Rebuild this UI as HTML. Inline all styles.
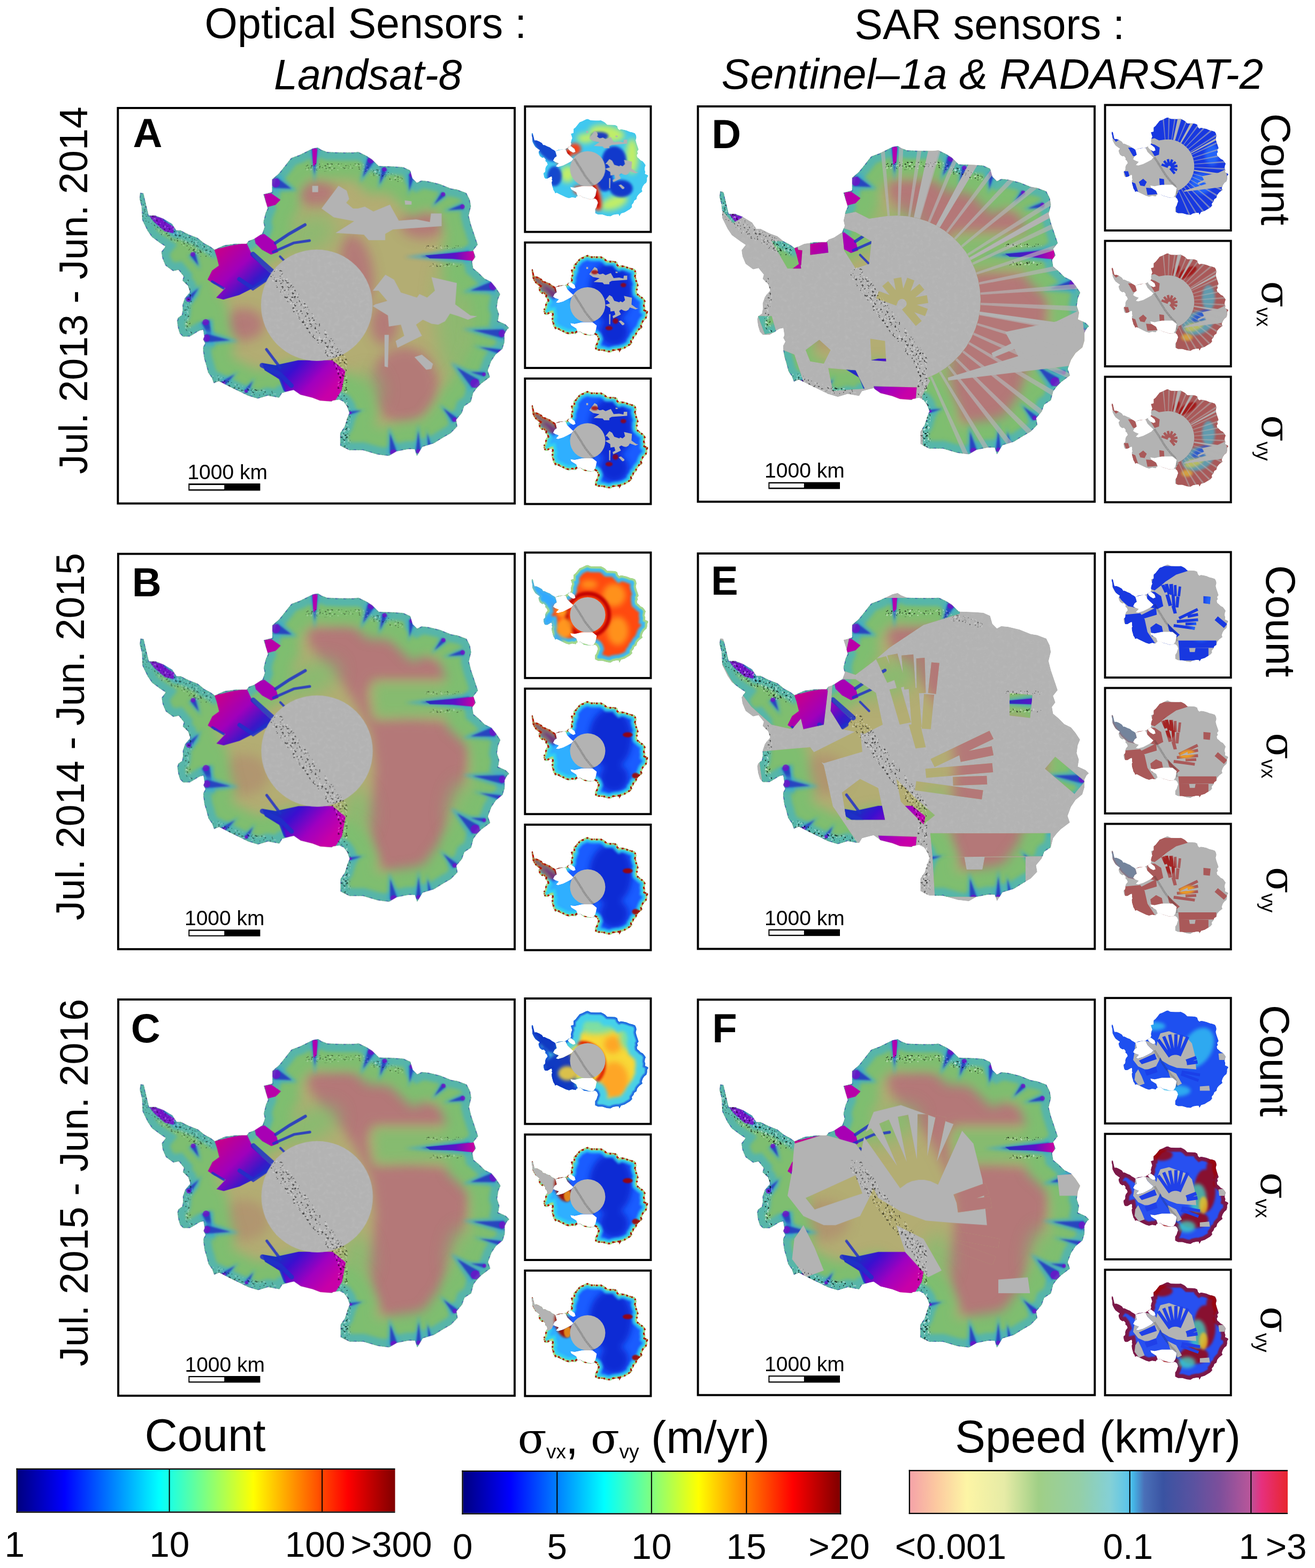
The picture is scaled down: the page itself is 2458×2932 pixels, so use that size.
<!DOCTYPE html>
<html><head><meta charset="utf-8"><title>Antarctica ice velocity coverage</title>
<style>html,body{margin:0;padding:0;background:#fff;}svg{display:block;}</style></head>
<body><svg xmlns="http://www.w3.org/2000/svg" width="2458" height="2932" viewBox="0 0 2458 2932">
<defs><clipPath id="cc"><path d="M103 379 L117 381 L131 442 L140 479 L169 479 L206 494 L244 517 L262 545 L281 545 L319 564 L356 578 L384 601 L412 616 L431 630 L474 611 L525 604 L572 604 L581 592 L605 583 L642 559 L652 531 L647 508 L656 470 L666 447 L647 386 L685 376 L685 320 L713 296 L732 273 L769 226 L807 212 L863 184 L886 179 L901 189 L927 199 L991 201 L1041 201 L1066 199 L1101 216 L1125 231 L1155 261 L1224 263 L1264 266 L1294 280 L1304 315 L1324 335 L1343 325 L1373 328 L1423 340 L1448 350 L1473 360 L1502 365 L1542 380 L1557 410 L1562 439 L1552 479 L1562 519 L1572 548 L1582 578 L1592 608 L1572 633 L1582 662 L1567 682 L1572 712 L1596 732 L1621 757 L1651 772 L1671 796 L1691 826 L1681 851 L1676 886 L1686 915 L1681 945 L1715 960 L1730 975 L1720 984 L1710 1004 L1710 1038 L1701 1068 L1671 1093 L1651 1123 L1636 1163 L1646 1192 L1606 1222 L1587 1242 L1572 1262 L1562 1301 L1532 1321 L1522 1351 L1497 1381 L1502 1410 L1473 1440 L1438 1460 L1398 1485 L1348 1500 L1324 1540 L1314 1510 L1284 1510 L1234 1520 L1200 1540 L1150 1534 L1086 1515 L1026 1515 L986 1495 L986 1440 L1006 1410 L1016 1376 L1026 1351 L1016 1321 L1001 1301 L981 1291 L952 1296 L948 1300 L896 1296 L862 1283 L810 1270 L780 1249 L763 1253 L729 1262 L716 1283 L665 1274 L622 1287 L579 1274 L544 1257 L493 1232 L450 1210 L428 1219 L420 1197 L403 1172 L394 1137 L386 1112 L381 1077 L381 1060 L390 1043 L381 1026 L386 1013 L381 983 L364 987 L343 1000 L321 1013 L291 1013 L278 1000 L270 974 L266 944 L270 931 L287 919 L291 897 L290 874 L300 845 L323 817 L314 789 L290 766 L295 747 L272 719 L248 724 L215 700 L201 667 L197 639 L215 616 L192 601 L154 573 L135 545 L112 498 L110 442 L100 404 Z"/></clipPath><clipPath id="cg"><path clip-rule="evenodd" d="M103 379 L117 381 L131 442 L140 479 L169 479 L206 494 L244 517 L262 545 L281 545 L319 564 L356 578 L384 601 L412 616 L431 630 L474 611 L525 604 L572 604 L581 592 L605 583 L642 559 L652 531 L647 508 L656 470 L666 447 L647 386 L685 376 L685 320 L713 296 L732 273 L769 226 L807 212 L863 184 L886 179 L901 189 L927 199 L991 201 L1041 201 L1066 199 L1101 216 L1125 231 L1155 261 L1224 263 L1264 266 L1294 280 L1304 315 L1324 335 L1343 325 L1373 328 L1423 340 L1448 350 L1473 360 L1502 365 L1542 380 L1557 410 L1562 439 L1552 479 L1562 519 L1572 548 L1582 578 L1592 608 L1572 633 L1582 662 L1567 682 L1572 712 L1596 732 L1621 757 L1651 772 L1671 796 L1691 826 L1681 851 L1676 886 L1686 915 L1681 945 L1715 960 L1730 975 L1720 984 L1710 1004 L1710 1038 L1701 1068 L1671 1093 L1651 1123 L1636 1163 L1646 1192 L1606 1222 L1587 1242 L1572 1262 L1562 1301 L1532 1321 L1522 1351 L1497 1381 L1502 1410 L1473 1440 L1438 1460 L1398 1485 L1348 1500 L1324 1540 L1314 1510 L1284 1510 L1234 1520 L1200 1540 L1150 1534 L1086 1515 L1026 1515 L986 1495 L986 1440 L1006 1410 L1016 1376 L1026 1351 L1016 1321 L1001 1301 L981 1291 L952 1296 L948 1300 L896 1296 L862 1283 L810 1270 L780 1249 L763 1253 L729 1262 L716 1283 L665 1274 L622 1287 L579 1274 L544 1257 L493 1232 L450 1210 L428 1219 L420 1197 L403 1172 L394 1137 L386 1112 L381 1077 L381 1060 L390 1043 L381 1026 L386 1013 L381 983 L364 987 L343 1000 L321 1013 L291 1013 L278 1000 L270 974 L266 944 L270 931 L287 919 L291 897 L290 874 L300 845 L323 817 L314 789 L290 766 L295 747 L272 719 L248 724 L215 700 L201 667 L197 639 L215 616 L192 601 L154 573 L135 545 L112 498 L110 442 L100 404 Z M430 630 L500 612 L572 600 L600 660 L640 700 L682 738 L655 770 L600 800 L540 830 L470 850 L438 842 L478 800 L430 782 L400 762 L420 722 L450 700 L440 660 Z M605 572 L650 560 L700 598 L712 640 L680 652 L640 630 L612 602 Z M640 1130 L700 1140 L800 1118 L950 1118 L1008 1165 L992 1250 L962 1298 L900 1302 L830 1292 L782 1252 L742 1258 L722 1205 L652 1162 Z"/></clipPath><filter id="b2" x="-30%" y="-30%" width="160%" height="160%"><feGaussianBlur stdDeviation="2"/></filter><filter id="b4" x="-30%" y="-30%" width="160%" height="160%"><feGaussianBlur stdDeviation="4"/></filter><filter id="b8" x="-30%" y="-30%" width="160%" height="160%"><feGaussianBlur stdDeviation="8"/></filter><filter id="b14" x="-30%" y="-30%" width="160%" height="160%"><feGaussianBlur stdDeviation="14"/></filter><filter id="b25" x="-30%" y="-30%" width="160%" height="160%"><feGaussianBlur stdDeviation="25"/></filter><filter id="b40" x="-30%" y="-30%" width="160%" height="160%"><feGaussianBlur stdDeviation="40"/></filter><clipPath id="covD"><path d="M640 350 L700 180 L1400 120 L1850 300 L1850 1700 L1000 1700 L995 1280 L1030 1215 L1019 1203 L1059 1184 L1097 1160 L1131 1132 L1162 1100 L1189 1065 L1211 1027 L1229 986 L1242 944 L1250 900 L1252 856 L1249 812 L1241 768 L1228 726 L1209 685 L1187 647 L1159 612 L1128 581 L1093 553 L1056 530 L1015 511 L973 498 L930 489 L885 486 L841 488 L760 500 L700 470 L650 480 Z"/><path d="M640 540 L700 560 L770 600 L760 700 L700 720 L650 640 Z"/><path d="M892 852 L803 820 L791 852 L880 884 Z"/><path d="M905 849 L844 776 L818 798 L879 871 Z"/><path d="M918 852 L902 759 L868 765 L885 858 Z"/><path d="M928 862 L960 773 L928 761 L896 850 Z"/><path d="M931 875 L1004 814 L982 788 L909 849 Z"/><path d="M928 888 L1021 872 L1015 838 L922 855 Z"/><path d="M918 898 L1007 930 L1019 898 L930 866 Z"/><path d="M905 901 L966 974 L992 952 L931 879 Z"/><path d="M765 1030 L830 1040 L835 1130 L770 1125 Z"/><path d="M480 1080 L540 1035 L590 1080 L560 1140 L500 1130 Z"/><path d="M580 1160 L700 1170 L740 1250 L600 1260 Z"/><path d="M780 1240 L970 1245 L965 1305 L800 1300 Z"/><path d="M500 600 L575 595 L580 650 L500 660 Z"/><path d="M60 360 L150 400 L220 480 L160 520 L100 450 Z"/><path d="M330 600 L440 600 L460 720 L400 720 Z"/><path d="M425 635 L465 640 L460 705 L430 700 Z"/><path d="M270 930 L330 930 L350 1000 L300 1010 Z"/><path d="M380 1080 L430 1100 L470 1220 L420 1230 Z"/></clipPath><clipPath id="covE"><path d="M60 360 L200 440 L350 540 L440 600 L470 720 L420 780 L330 760 L240 680 L150 560 L90 450 Z"/><path d="M430 610 L580 590 L560 760 L470 780 Z"/><path d="M600 560 L700 560 L790 620 L820 760 L740 800 L640 780 L590 700 Z"/><path d="M640 520 L690 300 L760 200 L1150 200 L1160 270 L1000 320 L850 420 L780 480 L700 540 Z"/><path d="M790 470 L835 458 L880 560 L840 575 Z"/><path d="M840 455 L885 447 L925 590 L882 600 Z"/><path d="M903 455 L955 450 L965 600 L915 605 Z"/><path d="M968 468 L1005 465 L1010 620 L970 622 Z"/><path d="M1035 485 L1070 488 L1055 625 L1020 620 Z"/><path d="M850 605 L900 595 L945 750 L895 760 Z"/><path d="M935 600 L978 598 L992 770 L948 772 Z"/><path d="M1002 625 L1047 628 L1032 780 L992 778 Z"/><path d="M935 760 L985 755 L1010 860 L965 865 Z"/><path d="M1049 948 L1309 823 L1291 787 L1031 912 Z"/><path d="M1164 925 L1309 895 L1301 855 L1156 885 Z"/><path d="M1012 995 L1307 970 L1303 930 L1008 955 Z"/><path d="M1131 1029 L1281 1024 L1279 986 L1129 991 Z"/><path d="M962 1050 L1257 1090 L1263 1050 L968 1010 Z"/><path d="M1030 1240 L1560 1240 L1560 1340 L1040 1345 Z"/><path d="M1040 1345 L1180 1345 L1190 1400 L1260 1400 L1270 1345 L1450 1345 L1450 1520 L1050 1520 Z"/><path d="M1536 955 L1666 1065 L1711 1011 L1581 902 Z"/><path d="M1380 620 L1480 630 L1470 730 L1380 720 Z"/><path d="M270 880 L500 860 L560 940 L600 1120 L720 1300 L560 1300 L400 1250 L300 1100 Z"/><path d="M640 1060 L720 1000 L800 1040 L830 1180 L660 1180 Z"/><path d="M480 900 L600 840 L720 780 L730 880 L560 930 Z"/><path d="M800 1250 L970 1255 L965 1305 L820 1300 Z"/><path d="M880 1000 L960 1080 L1050 1160 L1000 1200 L900 1100 Z"/></clipPath><clipPath id="covF2"><path d="M934 810 L768 573 L730 599 L897 837 Z"/><path d="M960 801 L847 534 L805 552 L918 819 Z"/><path d="M988 798 L932 513 L887 522 L943 807 Z"/><path d="M1015 800 L1020 510 L974 510 L969 800 Z"/><path d="M1040 808 L1100 524 L1055 514 L995 798 Z"/><path d="M1064 821 L1182 556 L1140 537 L1022 802 Z"/><path d="M1150 912 L1290 861 L1273 814 L1132 865 Z"/><path d="M1152 944 L1301 923 L1294 873 L1145 894 Z"/><path d="M1073 1054 L1330 1100 L1336 1060 L1080 1015 Z"/><path d="M1061 1087 L1305 1176 L1319 1139 L1075 1050 Z"/><path d="M480 880 L700 780 L730 860 L520 930 Z"/><path d="M560 1020 L720 960 L740 1040 L590 1090 Z"/></clipPath><filter id="speck" x="0" y="0" width="100%" height="100%" color-interpolation-filters="sRGB"><feTurbulence type="fractalNoise" baseFrequency="0.11" numOctaves="2" seed="7" result="n"/><feColorMatrix in="n" type="matrix" values="1 0 0 0 0  1 0 0 0 0  1 0 0 0 0  1 0 0 0 0" result="m"/><feComponentTransfer in="m" result="t"><feFuncR type="discrete" tableValues="0 0 1 1"/><feFuncG type="discrete" tableValues="0 0 1 1"/><feFuncB type="discrete" tableValues="0 0 1 1"/><feFuncA type="discrete" tableValues="1 0.8 0 0 0.5 1"/></feComponentTransfer><feComposite in="t" in2="SourceGraphic" operator="in"/></filter><filter id="noise" x="0" y="0" width="100%" height="100%"><feTurbulence type="fractalNoise" baseFrequency="0.06" numOctaves="2" seed="3"/><feColorMatrix type="matrix" values="0 0 0 0 0.70  0 0 0 0 0.70  0 0 0 0 0.70  0.9 0.9 0 0 -0.8"/><feComposite in2="SourceGraphic" operator="in"/></filter><linearGradient id="gRonne" x1="470" y1="620" x2="640" y2="800" gradientUnits="userSpaceOnUse"><stop offset="0" stop-color="#c4008e"/><stop offset="0.45" stop-color="#a000bc"/><stop offset="0.8" stop-color="#3a18c8"/><stop offset="1" stop-color="#1830c8"/></linearGradient><linearGradient id="gRoss" x1="900" y1="1300" x2="720" y2="1130" gradientUnits="userSpaceOnUse"><stop offset="0" stop-color="#c800a8"/><stop offset="0.35" stop-color="#a000c0"/><stop offset="0.75" stop-color="#3a10d0"/><stop offset="1" stop-color="#1a30c0"/></linearGradient><linearGradient id="gAmery" x1="1360" y1="0" x2="1580" y2="0" gradientUnits="userSpaceOnUse"><stop offset="0" stop-color="#2030c0"/><stop offset="0.6" stop-color="#6010c8"/><stop offset="1" stop-color="#d000a0"/></linearGradient><linearGradient id="jet" x1="0" y1="0" x2="1" y2="0"><stop offset="0" stop-color="#000080"/><stop offset="0.125" stop-color="#0000ff"/><stop offset="0.375" stop-color="#00ffff"/><stop offset="0.625" stop-color="#ffff00"/><stop offset="0.875" stop-color="#ff0000"/><stop offset="1" stop-color="#800000"/></linearGradient><linearGradient id="speed" x1="0" y1="0" x2="1" y2="0"><stop offset="0" stop-color="#f5a3a8"/><stop offset="0.07" stop-color="#fcc9a0"/><stop offset="0.15" stop-color="#fdf5a5"/><stop offset="0.25" stop-color="#e6eba6"/><stop offset="0.34" stop-color="#a0cf86"/><stop offset="0.45" stop-color="#94cfa8"/><stop offset="0.53" stop-color="#84d0d6"/><stop offset="0.58" stop-color="#5ac4ea"/><stop offset="0.59" stop-color="#45b8e8"/><stop offset="0.62" stop-color="#4a70b8"/><stop offset="0.67" stop-color="#3a53a2"/><stop offset="0.75" stop-color="#5a52a0"/><stop offset="0.82" stop-color="#7d4f9b"/><stop offset="0.9" stop-color="#b8569a"/><stop offset="0.93" stop-color="#e6307f"/><stop offset="1" stop-color="#e8262e"/></linearGradient></defs>
<rect width="2458" height="2932" fill="#fff"/>
<g transform="translate(218.40,200.00) scale(0.42362)">
<g clip-path="url(#cc)">
<path d="M103 379 L117 381 L131 442 L140 479 L169 479 L206 494 L244 517 L262 545 L281 545 L319 564 L356 578 L384 601 L412 616 L431 630 L474 611 L525 604 L572 604 L581 592 L605 583 L642 559 L652 531 L647 508 L656 470 L666 447 L647 386 L685 376 L685 320 L713 296 L732 273 L769 226 L807 212 L863 184 L886 179 L901 189 L927 199 L991 201 L1041 201 L1066 199 L1101 216 L1125 231 L1155 261 L1224 263 L1264 266 L1294 280 L1304 315 L1324 335 L1343 325 L1373 328 L1423 340 L1448 350 L1473 360 L1502 365 L1542 380 L1557 410 L1562 439 L1552 479 L1562 519 L1572 548 L1582 578 L1592 608 L1572 633 L1582 662 L1567 682 L1572 712 L1596 732 L1621 757 L1651 772 L1671 796 L1691 826 L1681 851 L1676 886 L1686 915 L1681 945 L1715 960 L1730 975 L1720 984 L1710 1004 L1710 1038 L1701 1068 L1671 1093 L1651 1123 L1636 1163 L1646 1192 L1606 1222 L1587 1242 L1572 1262 L1562 1301 L1532 1321 L1522 1351 L1497 1381 L1502 1410 L1473 1440 L1438 1460 L1398 1485 L1348 1500 L1324 1540 L1314 1510 L1284 1510 L1234 1520 L1200 1540 L1150 1534 L1086 1515 L1026 1515 L986 1495 L986 1440 L1006 1410 L1016 1376 L1026 1351 L1016 1321 L1001 1301 L981 1291 L952 1296 L948 1300 L896 1296 L862 1283 L810 1270 L780 1249 L763 1253 L729 1262 L716 1283 L665 1274 L622 1287 L579 1274 L544 1257 L493 1232 L450 1210 L428 1219 L420 1197 L403 1172 L394 1137 L386 1112 L381 1077 L381 1060 L390 1043 L381 1026 L386 1013 L381 983 L364 987 L343 1000 L321 1013 L291 1013 L278 1000 L270 974 L266 944 L270 931 L287 919 L291 897 L290 874 L300 845 L323 817 L314 789 L290 766 L295 747 L272 719 L248 724 L215 700 L201 667 L197 639 L215 616 L192 601 L154 573 L135 545 L112 498 L110 442 L100 404 Z" fill="#b3ad73"/>
<g filter="url(#b25)" fill="#b47878" opacity="0.95">
<ellipse cx="1060" cy="720" rx="70" ry="160" transform="rotate(-10 1060 720)"/>
<ellipse cx="1270" cy="1230" rx="150" ry="170" transform="rotate(0 1270 1230)"/>
<ellipse cx="880" cy="380" rx="90" ry="60" transform="rotate(0 880 380)"/>
<ellipse cx="1350" cy="520" rx="100" ry="60" transform="rotate(0 1350 520)"/>
<ellipse cx="1180" cy="960" rx="60" ry="90" transform="rotate(0 1180 960)"/>
<ellipse cx="560" cy="960" rx="90" ry="70" transform="rotate(0 560 960)"/>
</g>
<g filter="url(#b40)" fill="#7ebe70" opacity="0.7">
<ellipse cx="850" cy="560" rx="120" ry="80" transform="rotate(-20 850 560)"/>
<ellipse cx="1500" cy="900" rx="90" ry="300" transform="rotate(0 1500 900)"/>
<ellipse cx="1100" cy="1250" rx="70" ry="80" transform="rotate(0 1100 1250)"/>
</g>
<path d="M103 379 L117 381 L131 442 L140 479 L169 479 L206 494 L244 517 L262 545 L281 545 L319 564 L356 578 L384 601 L412 616 L431 630 L474 611 L525 604 L572 604 L581 592 L605 583 L642 559 L652 531 L647 508 L656 470 L666 447 L647 386 L685 376 L685 320 L713 296 L732 273 L769 226 L807 212 L863 184 L886 179 L901 189 L927 199 L991 201 L1041 201 L1066 199 L1101 216 L1125 231 L1155 261 L1224 263 L1264 266 L1294 280 L1304 315 L1324 335 L1343 325 L1373 328 L1423 340 L1448 350 L1473 360 L1502 365 L1542 380 L1557 410 L1562 439 L1552 479 L1562 519 L1572 548 L1582 578 L1592 608 L1572 633 L1582 662 L1567 682 L1572 712 L1596 732 L1621 757 L1651 772 L1671 796 L1691 826 L1681 851 L1676 886 L1686 915 L1681 945 L1715 960 L1730 975 L1720 984 L1710 1004 L1710 1038 L1701 1068 L1671 1093 L1651 1123 L1636 1163 L1646 1192 L1606 1222 L1587 1242 L1572 1262 L1562 1301 L1532 1321 L1522 1351 L1497 1381 L1502 1410 L1473 1440 L1438 1460 L1398 1485 L1348 1500 L1324 1540 L1314 1510 L1284 1510 L1234 1520 L1200 1540 L1150 1534 L1086 1515 L1026 1515 L986 1495 L986 1440 L1006 1410 L1016 1376 L1026 1351 L1016 1321 L1001 1301 L981 1291 L952 1296 L948 1300 L896 1296 L862 1283 L810 1270 L780 1249 L763 1253 L729 1262 L716 1283 L665 1274 L622 1287 L579 1274 L544 1257 L493 1232 L450 1210 L428 1219 L420 1197 L403 1172 L394 1137 L386 1112 L381 1077 L381 1060 L390 1043 L381 1026 L386 1013 L381 983 L364 987 L343 1000 L321 1013 L291 1013 L278 1000 L270 974 L266 944 L270 931 L287 919 L291 897 L290 874 L300 845 L323 817 L314 789 L290 766 L295 747 L272 719 L248 724 L215 700 L201 667 L197 639 L215 616 L192 601 L154 573 L135 545 L112 498 L110 442 L100 404 Z" fill="none" stroke="#7ebe70" stroke-width="240" filter="url(#b25)"/>
<path d="M103 379 L117 381 L131 442 L140 479 L169 479 L206 494 L244 517 L262 545 L281 545 L319 564 L356 578 L384 601 L412 616 L431 630 L474 611 L525 604 L572 604 L581 592 L605 583 L642 559 L652 531 L647 508 L656 470 L666 447 L647 386 L685 376 L685 320 L713 296 L732 273 L769 226 L807 212 L863 184 L886 179 L901 189 L927 199 L991 201 L1041 201 L1066 199 L1101 216 L1125 231 L1155 261 L1224 263 L1264 266 L1294 280 L1304 315 L1324 335 L1343 325 L1373 328 L1423 340 L1448 350 L1473 360 L1502 365 L1542 380 L1557 410 L1562 439 L1552 479 L1562 519 L1572 548 L1582 578 L1592 608 L1572 633 L1582 662 L1567 682 L1572 712 L1596 732 L1621 757 L1651 772 L1671 796 L1691 826 L1681 851 L1676 886 L1686 915 L1681 945 L1715 960 L1730 975 L1720 984 L1710 1004 L1710 1038 L1701 1068 L1671 1093 L1651 1123 L1636 1163 L1646 1192 L1606 1222 L1587 1242 L1572 1262 L1562 1301 L1532 1321 L1522 1351 L1497 1381 L1502 1410 L1473 1440 L1438 1460 L1398 1485 L1348 1500 L1324 1540 L1314 1510 L1284 1510 L1234 1520 L1200 1540 L1150 1534 L1086 1515 L1026 1515 L986 1495 L986 1440 L1006 1410 L1016 1376 L1026 1351 L1016 1321 L1001 1301 L981 1291 L952 1296 L948 1300 L896 1296 L862 1283 L810 1270 L780 1249 L763 1253 L729 1262 L716 1283 L665 1274 L622 1287 L579 1274 L544 1257 L493 1232 L450 1210 L428 1219 L420 1197 L403 1172 L394 1137 L386 1112 L381 1077 L381 1060 L390 1043 L381 1026 L386 1013 L381 983 L364 987 L343 1000 L321 1013 L291 1013 L278 1000 L270 974 L266 944 L270 931 L287 919 L291 897 L290 874 L300 845 L323 817 L314 789 L290 766 L295 747 L272 719 L248 724 L215 700 L201 667 L197 639 L215 616 L192 601 L154 573 L135 545 L112 498 L110 442 L100 404 Z" fill="none" stroke="#52b5b0" stroke-width="70" filter="url(#b8)" opacity="0.9"/>
<path d="M103 379 L117 381 L131 442 L140 479 L169 479 L206 494 L244 517 L262 545 L281 545 L319 564 L356 578 L384 601 L412 616 L431 630 L474 611 L525 604 L572 604 L581 592 L605 583 L642 559 L652 531 L647 508 L656 470 L666 447 L647 386 L685 376 L685 320 L713 296 L732 273 L769 226 L807 212 L863 184 L886 179 L901 189 L927 199 L991 201 L1041 201 L1066 199 L1101 216 L1125 231 L1155 261 L1224 263 L1264 266 L1294 280 L1304 315 L1324 335 L1343 325 L1373 328 L1423 340 L1448 350 L1473 360 L1502 365 L1542 380 L1557 410 L1562 439 L1552 479 L1562 519 L1572 548 L1582 578 L1592 608 L1572 633 L1582 662 L1567 682 L1572 712 L1596 732 L1621 757 L1651 772 L1671 796 L1691 826 L1681 851 L1676 886 L1686 915 L1681 945 L1715 960 L1730 975 L1720 984 L1710 1004 L1710 1038 L1701 1068 L1671 1093 L1651 1123 L1636 1163 L1646 1192 L1606 1222 L1587 1242 L1572 1262 L1562 1301 L1532 1321 L1522 1351 L1497 1381 L1502 1410 L1473 1440 L1438 1460 L1398 1485 L1348 1500 L1324 1540 L1314 1510 L1284 1510 L1234 1520 L1200 1540 L1150 1534 L1086 1515 L1026 1515 L986 1495 L986 1440 L1006 1410 L1016 1376 L1026 1351 L1016 1321 L1001 1301 L981 1291 L952 1296 L948 1300 L896 1296 L862 1283 L810 1270 L780 1249 L763 1253 L729 1262 L716 1283 L665 1274 L622 1287 L579 1274 L544 1257 L493 1232 L450 1210 L428 1219 L420 1197 L403 1172 L394 1137 L386 1112 L381 1077 L381 1060 L390 1043 L381 1026 L386 1013 L381 983 L364 987 L343 1000 L321 1013 L291 1013 L278 1000 L270 974 L266 944 L270 931 L287 919 L291 897 L290 874 L300 845 L323 817 L314 789 L290 766 L295 747 L272 719 L248 724 L215 700 L201 667 L197 639 L215 616 L192 601 L154 573 L135 545 L112 498 L110 442 L100 404 Z" fill="none" stroke="#3050b8" stroke-width="7" stroke-dasharray="10 26" opacity="0.8"/>
<path d="M103 379 L117 381 L131 442 L140 479 L169 479 L206 494 L244 517 L262 545 L281 545 L319 564 L356 578 L384 601 L412 616 L431 630 L474 611 L525 604 L572 604 L581 592 L605 583 L642 559 L652 531 L647 508 L656 470 L666 447 L647 386 L685 376 L685 320 L713 296 L732 273 L769 226 L807 212 L863 184 L886 179 L901 189 L927 199 L991 201 L1041 201 L1066 199 L1101 216 L1125 231 L1155 261 L1224 263 L1264 266 L1294 280 L1304 315 L1324 335 L1343 325 L1373 328 L1423 340 L1448 350 L1473 360 L1502 365 L1542 380 L1557 410 L1562 439 L1552 479 L1562 519 L1572 548 L1582 578 L1592 608 L1572 633 L1582 662 L1567 682 L1572 712 L1596 732 L1621 757 L1651 772 L1671 796 L1691 826 L1681 851 L1676 886 L1686 915 L1681 945 L1715 960 L1730 975 L1720 984 L1710 1004 L1710 1038 L1701 1068 L1671 1093 L1651 1123 L1636 1163 L1646 1192 L1606 1222 L1587 1242 L1572 1262 L1562 1301 L1532 1321 L1522 1351 L1497 1381 L1502 1410 L1473 1440 L1438 1460 L1398 1485 L1348 1500 L1324 1540 L1314 1510 L1284 1510 L1234 1520 L1200 1540 L1150 1534 L1086 1515 L1026 1515 L986 1495 L986 1440 L1006 1410 L1016 1376 L1026 1351 L1016 1321 L1001 1301 L981 1291 L952 1296 L948 1300 L896 1296 L862 1283 L810 1270 L780 1249 L763 1253 L729 1262 L716 1283 L665 1274 L622 1287 L579 1274 L544 1257 L493 1232 L450 1210 L428 1219 L420 1197 L403 1172 L394 1137 L386 1112 L381 1077 L381 1060 L390 1043 L381 1026 L386 1013 L381 983 L364 987 L343 1000 L321 1013 L291 1013 L278 1000 L270 974 L266 944 L270 931 L287 919 L291 897 L290 874 L300 845 L323 817 L314 789 L290 766 L295 747 L272 719 L248 724 L215 700 L201 667 L197 639 L215 616 L192 601 L154 573 L135 545 L112 498 L110 442 L100 404 Z" fill="none" stroke="#1a1a1a" stroke-width="3" stroke-dasharray="3 9" opacity="0.5"/>
<path d="M849 184 L895 184 L872 338 Z" fill="#3aa8d0" opacity="0.7" filter="url(#b8)"/>
<path d="M859 184 L885 184 L872 300 Z" fill="#2840c0" opacity="0.95" filter="url(#b4)"/>
<circle cx="872" cy="190" r="10" fill="#7010c8" opacity="0.8"/>
<path d="M1094 218 L1149 244 L1073 336 Z" fill="#3aa8d0" opacity="0.7" filter="url(#b8)"/>
<path d="M1106 224 L1137 238 L1085 310 Z" fill="#2840c0" opacity="0.95" filter="url(#b4)"/>
<circle cx="1120" cy="235" r="14" fill="#7010c8" opacity="0.8"/>
<path d="M1159 265 L1203 279 L1153 363 Z" fill="#3aa8d0" opacity="0.7" filter="url(#b8)"/>
<path d="M1169 268 L1193 276 L1160 340 Z" fill="#2840c0" opacity="0.95" filter="url(#b4)"/>
<circle cx="1180" cy="275" r="10" fill="#7010c8" opacity="0.8"/>
<path d="M681 376 L712 291 L794 369 Z" fill="#3aa8d0" opacity="0.7" filter="url(#b8)"/>
<path d="M688 357 L705 310 L770 360 Z" fill="#2840c0" opacity="0.95" filter="url(#b4)"/>
<circle cx="700" cy="335" r="20" fill="#7010c8" opacity="0.8"/>
<path d="M1277 293 L1324 300 L1286 394 Z" fill="#3aa8d0" opacity="0.7" filter="url(#b8)"/>
<path d="M1288 295 L1313 298 L1290 370 Z" fill="#2840c0" opacity="0.95" filter="url(#b4)"/>
<circle cx="1300" cy="300" r="10" fill="#7010c8" opacity="0.8"/>
<path d="M1427 370 L1457 396 L1386 446 Z" fill="#3aa8d0" opacity="0.7" filter="url(#b8)"/>
<path d="M1434 375 L1450 390 L1400 430 Z" fill="#2840c0" opacity="0.95" filter="url(#b4)"/>
<circle cx="1440" cy="385" r="9" fill="#7010c8" opacity="0.8"/>
<path d="M1523 418 L1533 460 L1437 460 Z" fill="#3aa8d0" opacity="0.7" filter="url(#b8)"/>
<path d="M1526 428 L1531 451 L1460 455 Z" fill="#2840c0" opacity="0.95" filter="url(#b4)"/>
<circle cx="1525" cy="440" r="10" fill="#7010c8" opacity="0.8"/>
<path d="M1554 619 L1556 691 L1268 662 Z" fill="#3aa8d0" opacity="0.7" filter="url(#b8)"/>
<path d="M1555 635 L1556 675 L1340 660 Z" fill="#2840c0" opacity="0.95" filter="url(#b4)"/>
<circle cx="1545" cy="655" r="16" fill="#7010c8" opacity="0.8"/>
<path d="M1657 750 L1673 828 L1525 817 Z" fill="#3aa8d0" opacity="0.7" filter="url(#b8)"/>
<path d="M1661 767 L1669 811 L1560 810 Z" fill="#2840c0" opacity="0.95" filter="url(#b4)"/>
<circle cx="1660" cy="790" r="18" fill="#7010c8" opacity="0.8"/>
<path d="M1711 965 L1702 1037 L1524 980 Z" fill="#3aa8d0" opacity="0.7" filter="url(#b8)"/>
<path d="M1709 981 L1704 1021 L1570 985 Z" fill="#2840c0" opacity="0.95" filter="url(#b4)"/>
<circle cx="1700" cy="1000" r="16" fill="#7010c8" opacity="0.8"/>
<path d="M1614 1190 L1554 1257 L1472 1126 Z" fill="#3aa8d0" opacity="0.7" filter="url(#b8)"/>
<path d="M1600 1205 L1568 1242 L1500 1150 Z" fill="#2840c0" opacity="0.95" filter="url(#b4)"/>
<circle cx="1580" cy="1220" r="20" fill="#7010c8" opacity="0.8"/>
<path d="M1509 1366 L1476 1399 L1422 1312 Z" fill="#3aa8d0" opacity="0.7" filter="url(#b8)"/>
<path d="M1502 1373 L1483 1392 L1440 1330 Z" fill="#2840c0" opacity="0.95" filter="url(#b4)"/>
<circle cx="1490" cy="1380" r="10" fill="#7010c8" opacity="0.8"/>
<path d="M1352 1524 L1308 1524 L1330 1398 Z" fill="#3aa8d0" opacity="0.7" filter="url(#b8)"/>
<path d="M1342 1524 L1318 1524 L1330 1430 Z" fill="#2840c0" opacity="0.95" filter="url(#b4)"/>
<circle cx="1330" cy="1520" r="10" fill="#7010c8" opacity="0.8"/>
<path d="M1251 1524 L1191 1535 L1200 1410 Z" fill="#3aa8d0" opacity="0.7" filter="url(#b8)"/>
<path d="M1237 1526 L1204 1532 L1205 1440 Z" fill="#2840c0" opacity="0.95" filter="url(#b4)"/>
<circle cx="1220" cy="1525" r="14" fill="#7010c8" opacity="0.8"/>
<path d="M1030 1363 L1025 1338 L1098 1336 Z" fill="#3aa8d0" opacity="0.7" filter="url(#b8)"/>
<path d="M1029 1357 L1026 1344 L1080 1340 Z" fill="#2840c0" opacity="0.95" filter="url(#b4)"/>
<circle cx="1030" cy="1350" r="6" fill="#7010c8" opacity="0.8"/>
<path d="M360 955 L422 936 L430 1072 Z" fill="#3aa8d0" opacity="0.7" filter="url(#b8)"/>
<path d="M373 951 L408 940 L420 1040 Z" fill="#2840c0" opacity="0.95" filter="url(#b4)"/>
<circle cx="392" cy="950" r="14" fill="#7010c8" opacity="0.8"/>
<path d="M386 1055 L393 984 L537 1034 Z" fill="#3aa8d0" opacity="0.7" filter="url(#b8)"/>
<path d="M388 1039 L392 1000 L500 1030 Z" fill="#2840c0" opacity="0.95" filter="url(#b4)"/>
<circle cx="395" cy="1020" r="16" fill="#7010c8" opacity="0.8"/>
<path d="M330 868 L295 837 L376 782 Z" fill="#3aa8d0" opacity="0.7" filter="url(#b8)"/>
<path d="M322 861 L303 844 L360 800 Z" fill="#2840c0" opacity="0.95" filter="url(#b4)"/>
<circle cx="315" cy="850" r="10" fill="#7010c8" opacity="0.8"/>
<path d="M480 1237 L455 1207 L538 1166 Z" fill="#3aa8d0" opacity="0.7" filter="url(#b8)"/>
<path d="M474 1231 L461 1213 L520 1180 Z" fill="#2840c0" opacity="0.95" filter="url(#b4)"/>
<circle cx="470" cy="1220" r="9" fill="#7010c8" opacity="0.8"/>
<path d="M582 1266 L555 1248 L610 1194 Z" fill="#3aa8d0" opacity="0.7" filter="url(#b8)"/>
<path d="M576 1262 L561 1252 L600 1210 Z" fill="#2840c0" opacity="0.95" filter="url(#b4)"/>
<circle cx="570" cy="1255" r="7" fill="#7010c8" opacity="0.8"/>
<path d="M163 524 L210 470 L284 581 Z" fill="#3aa8d0" opacity="0.7" filter="url(#b8)"/>
<path d="M173 512 L200 482 L260 560 Z" fill="#2840c0" opacity="0.95" filter="url(#b4)"/>
<circle cx="190" cy="500" r="16" fill="#7010c8" opacity="0.8"/>
<path d="M313 658 L355 637 L369 718 Z" fill="#3aa8d0" opacity="0.7" filter="url(#b8)"/>
<path d="M322 653 L345 642 L360 700 Z" fill="#2840c0" opacity="0.95" filter="url(#b4)"/>
<circle cx="335" cy="650" r="10" fill="#7010c8" opacity="0.8"/>
<path d="M1698 1063 L1691 1099 L1568 1053 Z" fill="#3aa8d0" opacity="0.7" filter="url(#b8)"/>
<path d="M1697 1071 L1692 1091 L1600 1060 Z" fill="#2840c0" opacity="0.95" filter="url(#b4)"/>
<circle cx="1690" cy="1080" r="8" fill="#7010c8" opacity="0.8"/>
<path d="M1626 1163 L1620 1198 L1539 1166 Z" fill="#3aa8d0" opacity="0.7" filter="url(#b8)"/>
<path d="M1625 1171 L1621 1190 L1560 1170 Z" fill="#2840c0" opacity="0.95" filter="url(#b4)"/>
<circle cx="1620" cy="1180" r="8" fill="#7010c8" opacity="0.8"/>
<path d="M1395 1501 L1366 1505 L1366 1419 Z" fill="#3aa8d0" opacity="0.7" filter="url(#b8)"/>
<path d="M1388 1502 L1373 1504 L1370 1440 Z" fill="#2840c0" opacity="0.95" filter="url(#b4)"/>
<circle cx="1380" cy="1500" r="6" fill="#7010c8" opacity="0.8"/>
<path d="M430 630 L500 612 L572 600 L600 660 L640 700 L682 738 L655 770 L600 800 L540 830 L470 850 L438 842 L478 800 L430 782 L400 762 L420 722 L450 700 L440 660 Z" fill="url(#gRonne)"/>
<path d="M605 572 L650 560 L700 598 L712 640 L680 652 L640 630 L612 602 Z" fill="#a800b4"/>
<path d="M600 650 L690 730" fill="none" stroke="#2030c8" stroke-width="22" stroke-linecap="round" opacity="0.85"/>
<path d="M540 760 L600 800 L660 760" fill="none" stroke="#2030c8" stroke-width="18" stroke-linecap="round" opacity="0.85"/>
<path d="M470 800 L420 770" fill="none" stroke="#2030c8" stroke-width="10" stroke-linecap="round" opacity="0.85"/>
<path d="M700 600 L760 560 L830 520" fill="none" stroke="#2030c8" stroke-width="14" stroke-linecap="round" opacity="0.85"/>
<path d="M690 640 L780 600 L850 590" fill="none" stroke="#2030c8" stroke-width="12" stroke-linecap="round" opacity="0.85"/>
<path d="M720 660 L760 700" fill="none" stroke="#2030c8" stroke-width="10" stroke-linecap="round" opacity="0.85"/>
<path d="M640 1130 L700 1140 L800 1118 L950 1118 L1008 1165 L992 1250 L962 1298 L900 1302 L830 1292 L782 1252 L742 1258 L722 1205 L652 1162 Z" fill="url(#gRoss)"/>
<path d="M640 1140 L720 1180 L770 1230" fill="none" stroke="#2030c8" stroke-width="20" stroke-linecap="round" opacity="0.85"/>
<path d="M660 1070 L720 1150" fill="none" stroke="#2030c8" stroke-width="12" stroke-linecap="round" opacity="0.85"/>
<path d="M720 1200 L740 1250" fill="none" stroke="#2030c8" stroke-width="10" stroke-linecap="round" opacity="0.85"/>
<path d="M144 482 L165 477 L184 490 L254 530 L248 557 L211 549 L162 506 Z" fill="#7a10c8" opacity="0.9"/>
<path d="M650 385 L680 380 L722 410 L700 432 L662 442 Z" fill="#b800a8"/>
<path d="M862 186 L884 184 L880 250 L866 262 Z" fill="#b000b0"/>
<path d="M1360 655 L1480 645 L1575 635 L1580 680 L1480 670 L1380 668 Z" fill="url(#gAmery)"/>
<path d="M830 262 L900 268 L980 262 L1060 252 L1140 292 L1210 305 L1260 330" fill="none" stroke="#777" stroke-width="34" stroke-linecap="round" filter="url(#speck)" opacity="0.6"/>
<path d="M105 400 L140 480 L210 540 L290 585 L370 630 L420 660" fill="none" stroke="#777" stroke-width="55" stroke-linecap="round" filter="url(#speck)" opacity="0.6"/>
<path d="M300 760 L320 860 L300 940 L330 1000" fill="none" stroke="#777" stroke-width="30" stroke-linecap="round" filter="url(#speck)" opacity="0.6"/>
<path d="M420 1185 L500 1232 L600 1262 L700 1272" fill="none" stroke="#777" stroke-width="34" stroke-linecap="round" filter="url(#speck)" opacity="0.6"/>
<path d="M1360 615 L1440 612 L1520 625" fill="none" stroke="#777" stroke-width="26" stroke-linecap="round" filter="url(#speck)" opacity="0.6"/>
<path d="M1380 700 L1450 705 L1520 690" fill="none" stroke="#777" stroke-width="22" stroke-linecap="round" filter="url(#speck)" opacity="0.6"/>
<path d="M1000 1300 L1010 1400 L1000 1470 L1030 1520" fill="none" stroke="#777" stroke-width="50" stroke-linecap="round" filter="url(#speck)" opacity="0.6"/>
<path d="M903 448 L978 348 L1014 369 L1025 406 L1012 423 L1042 448 L1064 448 L1094 440 L1132 461 L1205 431 L1214 448 L1244 502 L1321 496 L1381 508 L1386 470 L1433 470 L1433 526 L1218 541 L1184 560 L1184 588 L1111 588 L1090 564 L965 556 L1047 504 L957 487 Z" fill="#b3b3b3"/>
<path d="M862 348 L888 348 L888 376 L862 376 Z" fill="#b3b3b3"/>
<path d="M1270 412 L1300 416 L1300 431 L1272 431 Z" fill="#b3b3b3"/>
<path d="M1129 811 L1185 740 L1223 762 L1253 819 L1324 841 L1335 826 L1369 841 L1403 811 L1388 751 L1500 777 L1493 871 L1560 920 L1590 924 L1549 939 L1508 924 L1470 912 L1448 946 L1418 961 L1388 957 L1350 939 L1320 961 L1346 1010 L1238 1063 L1230 1033 L1268 1010 L1253 961 L1200 969 L1196 920 L1129 879 L1140 871 L1193 856 L1155 811 Z" fill="#b3b3b3"/>
<path d="M1313 1104 L1346 1093 L1395 1134 L1388 1156 L1365 1160 Z" fill="#b3b3b3"/>
<path d="M1181 1006 L1200 1006 L1196 1149 L1181 1145 Z" fill="#b3b3b3"/>
<circle cx="882" cy="875" r="246" fill="#b3b3b3"/>
<circle cx="882" cy="875" r="246" fill="#000" filter="url(#noise)" opacity="0.25"/>
<path d="M680 715 L740 790 L800 880 L860 960 L930 1050 L985 1120 L1010 1180 L1005 1260 L1015 1330 L1000 1400 L1010 1480" fill="none" stroke="#777" stroke-width="64" filter="url(#speck)" opacity="0.75"/>
</g></g>
<g transform="translate(218.90,1033.70) scale(0.42362)">
<g clip-path="url(#cc)">
<path d="M103 379 L117 381 L131 442 L140 479 L169 479 L206 494 L244 517 L262 545 L281 545 L319 564 L356 578 L384 601 L412 616 L431 630 L474 611 L525 604 L572 604 L581 592 L605 583 L642 559 L652 531 L647 508 L656 470 L666 447 L647 386 L685 376 L685 320 L713 296 L732 273 L769 226 L807 212 L863 184 L886 179 L901 189 L927 199 L991 201 L1041 201 L1066 199 L1101 216 L1125 231 L1155 261 L1224 263 L1264 266 L1294 280 L1304 315 L1324 335 L1343 325 L1373 328 L1423 340 L1448 350 L1473 360 L1502 365 L1542 380 L1557 410 L1562 439 L1552 479 L1562 519 L1572 548 L1582 578 L1592 608 L1572 633 L1582 662 L1567 682 L1572 712 L1596 732 L1621 757 L1651 772 L1671 796 L1691 826 L1681 851 L1676 886 L1686 915 L1681 945 L1715 960 L1730 975 L1720 984 L1710 1004 L1710 1038 L1701 1068 L1671 1093 L1651 1123 L1636 1163 L1646 1192 L1606 1222 L1587 1242 L1572 1262 L1562 1301 L1532 1321 L1522 1351 L1497 1381 L1502 1410 L1473 1440 L1438 1460 L1398 1485 L1348 1500 L1324 1540 L1314 1510 L1284 1510 L1234 1520 L1200 1540 L1150 1534 L1086 1515 L1026 1515 L986 1495 L986 1440 L1006 1410 L1016 1376 L1026 1351 L1016 1321 L1001 1301 L981 1291 L952 1296 L948 1300 L896 1296 L862 1283 L810 1270 L780 1249 L763 1253 L729 1262 L716 1283 L665 1274 L622 1287 L579 1274 L544 1257 L493 1232 L450 1210 L428 1219 L420 1197 L403 1172 L394 1137 L386 1112 L381 1077 L381 1060 L390 1043 L381 1026 L386 1013 L381 983 L364 987 L343 1000 L321 1013 L291 1013 L278 1000 L270 974 L266 944 L270 931 L287 919 L291 897 L290 874 L300 845 L323 817 L314 789 L290 766 L295 747 L272 719 L248 724 L215 700 L201 667 L197 639 L215 616 L192 601 L154 573 L135 545 L112 498 L110 442 L100 404 Z" fill="#b3ad73"/>
<g filter="url(#b25)" fill="#b09070" opacity="0.8">
<ellipse cx="560" cy="980" rx="110" ry="90" transform="rotate(0 560 980)"/>
</g>
<g filter="url(#b25)" fill="#b47878" opacity="1.0">
<path d="M830 330 L1000 310 L1150 330 L1280 400 L1420 470 L1520 520 L1520 560 L1130 560 L1100 620 L1130 740 L1300 730 L1510 750 L1560 850 L1540 1000 L1470 1150 L1460 1320 L1400 1440 L1280 1460 L1170 1400 L1110 1280 L1100 1150 L1130 1050 L1140 950 L1120 800 L1060 680 L1000 580 L900 480 L850 400 Z"/>
</g>
<g filter="url(#b40)" fill="#7ebe70" opacity="0.8">
<ellipse cx="850" cy="560" rx="140" ry="70" transform="rotate(-25 850 560)"/>
<ellipse cx="1060" cy="1150" rx="60" ry="110" transform="rotate(0 1060 1150)"/>
<ellipse cx="1530" cy="1150" rx="70" ry="140" transform="rotate(0 1530 1150)"/>
</g>
<g filter="url(#b25)" fill="#7ebe70" opacity="0.85">
<path d="M1130 575 L1530 575 L1540 720 L1140 725 Z"/>
</g>
<path d="M103 379 L117 381 L131 442 L140 479 L169 479 L206 494 L244 517 L262 545 L281 545 L319 564 L356 578 L384 601 L412 616 L431 630 L474 611 L525 604 L572 604 L581 592 L605 583 L642 559 L652 531 L647 508 L656 470 L666 447 L647 386 L685 376 L685 320 L713 296 L732 273 L769 226 L807 212 L863 184 L886 179 L901 189 L927 199 L991 201 L1041 201 L1066 199 L1101 216 L1125 231 L1155 261 L1224 263 L1264 266 L1294 280 L1304 315 L1324 335 L1343 325 L1373 328 L1423 340 L1448 350 L1473 360 L1502 365 L1542 380 L1557 410 L1562 439 L1552 479 L1562 519 L1572 548 L1582 578 L1592 608 L1572 633 L1582 662 L1567 682 L1572 712 L1596 732 L1621 757 L1651 772 L1671 796 L1691 826 L1681 851 L1676 886 L1686 915 L1681 945 L1715 960 L1730 975 L1720 984 L1710 1004 L1710 1038 L1701 1068 L1671 1093 L1651 1123 L1636 1163 L1646 1192 L1606 1222 L1587 1242 L1572 1262 L1562 1301 L1532 1321 L1522 1351 L1497 1381 L1502 1410 L1473 1440 L1438 1460 L1398 1485 L1348 1500 L1324 1540 L1314 1510 L1284 1510 L1234 1520 L1200 1540 L1150 1534 L1086 1515 L1026 1515 L986 1495 L986 1440 L1006 1410 L1016 1376 L1026 1351 L1016 1321 L1001 1301 L981 1291 L952 1296 L948 1300 L896 1296 L862 1283 L810 1270 L780 1249 L763 1253 L729 1262 L716 1283 L665 1274 L622 1287 L579 1274 L544 1257 L493 1232 L450 1210 L428 1219 L420 1197 L403 1172 L394 1137 L386 1112 L381 1077 L381 1060 L390 1043 L381 1026 L386 1013 L381 983 L364 987 L343 1000 L321 1013 L291 1013 L278 1000 L270 974 L266 944 L270 931 L287 919 L291 897 L290 874 L300 845 L323 817 L314 789 L290 766 L295 747 L272 719 L248 724 L215 700 L201 667 L197 639 L215 616 L192 601 L154 573 L135 545 L112 498 L110 442 L100 404 Z" fill="none" stroke="#7ebe70" stroke-width="240" filter="url(#b25)"/>
<path d="M103 379 L117 381 L131 442 L140 479 L169 479 L206 494 L244 517 L262 545 L281 545 L319 564 L356 578 L384 601 L412 616 L431 630 L474 611 L525 604 L572 604 L581 592 L605 583 L642 559 L652 531 L647 508 L656 470 L666 447 L647 386 L685 376 L685 320 L713 296 L732 273 L769 226 L807 212 L863 184 L886 179 L901 189 L927 199 L991 201 L1041 201 L1066 199 L1101 216 L1125 231 L1155 261 L1224 263 L1264 266 L1294 280 L1304 315 L1324 335 L1343 325 L1373 328 L1423 340 L1448 350 L1473 360 L1502 365 L1542 380 L1557 410 L1562 439 L1552 479 L1562 519 L1572 548 L1582 578 L1592 608 L1572 633 L1582 662 L1567 682 L1572 712 L1596 732 L1621 757 L1651 772 L1671 796 L1691 826 L1681 851 L1676 886 L1686 915 L1681 945 L1715 960 L1730 975 L1720 984 L1710 1004 L1710 1038 L1701 1068 L1671 1093 L1651 1123 L1636 1163 L1646 1192 L1606 1222 L1587 1242 L1572 1262 L1562 1301 L1532 1321 L1522 1351 L1497 1381 L1502 1410 L1473 1440 L1438 1460 L1398 1485 L1348 1500 L1324 1540 L1314 1510 L1284 1510 L1234 1520 L1200 1540 L1150 1534 L1086 1515 L1026 1515 L986 1495 L986 1440 L1006 1410 L1016 1376 L1026 1351 L1016 1321 L1001 1301 L981 1291 L952 1296 L948 1300 L896 1296 L862 1283 L810 1270 L780 1249 L763 1253 L729 1262 L716 1283 L665 1274 L622 1287 L579 1274 L544 1257 L493 1232 L450 1210 L428 1219 L420 1197 L403 1172 L394 1137 L386 1112 L381 1077 L381 1060 L390 1043 L381 1026 L386 1013 L381 983 L364 987 L343 1000 L321 1013 L291 1013 L278 1000 L270 974 L266 944 L270 931 L287 919 L291 897 L290 874 L300 845 L323 817 L314 789 L290 766 L295 747 L272 719 L248 724 L215 700 L201 667 L197 639 L215 616 L192 601 L154 573 L135 545 L112 498 L110 442 L100 404 Z" fill="none" stroke="#52b5b0" stroke-width="70" filter="url(#b8)" opacity="0.9"/>
<path d="M103 379 L117 381 L131 442 L140 479 L169 479 L206 494 L244 517 L262 545 L281 545 L319 564 L356 578 L384 601 L412 616 L431 630 L474 611 L525 604 L572 604 L581 592 L605 583 L642 559 L652 531 L647 508 L656 470 L666 447 L647 386 L685 376 L685 320 L713 296 L732 273 L769 226 L807 212 L863 184 L886 179 L901 189 L927 199 L991 201 L1041 201 L1066 199 L1101 216 L1125 231 L1155 261 L1224 263 L1264 266 L1294 280 L1304 315 L1324 335 L1343 325 L1373 328 L1423 340 L1448 350 L1473 360 L1502 365 L1542 380 L1557 410 L1562 439 L1552 479 L1562 519 L1572 548 L1582 578 L1592 608 L1572 633 L1582 662 L1567 682 L1572 712 L1596 732 L1621 757 L1651 772 L1671 796 L1691 826 L1681 851 L1676 886 L1686 915 L1681 945 L1715 960 L1730 975 L1720 984 L1710 1004 L1710 1038 L1701 1068 L1671 1093 L1651 1123 L1636 1163 L1646 1192 L1606 1222 L1587 1242 L1572 1262 L1562 1301 L1532 1321 L1522 1351 L1497 1381 L1502 1410 L1473 1440 L1438 1460 L1398 1485 L1348 1500 L1324 1540 L1314 1510 L1284 1510 L1234 1520 L1200 1540 L1150 1534 L1086 1515 L1026 1515 L986 1495 L986 1440 L1006 1410 L1016 1376 L1026 1351 L1016 1321 L1001 1301 L981 1291 L952 1296 L948 1300 L896 1296 L862 1283 L810 1270 L780 1249 L763 1253 L729 1262 L716 1283 L665 1274 L622 1287 L579 1274 L544 1257 L493 1232 L450 1210 L428 1219 L420 1197 L403 1172 L394 1137 L386 1112 L381 1077 L381 1060 L390 1043 L381 1026 L386 1013 L381 983 L364 987 L343 1000 L321 1013 L291 1013 L278 1000 L270 974 L266 944 L270 931 L287 919 L291 897 L290 874 L300 845 L323 817 L314 789 L290 766 L295 747 L272 719 L248 724 L215 700 L201 667 L197 639 L215 616 L192 601 L154 573 L135 545 L112 498 L110 442 L100 404 Z" fill="none" stroke="#3050b8" stroke-width="7" stroke-dasharray="10 26" opacity="0.8"/>
<path d="M103 379 L117 381 L131 442 L140 479 L169 479 L206 494 L244 517 L262 545 L281 545 L319 564 L356 578 L384 601 L412 616 L431 630 L474 611 L525 604 L572 604 L581 592 L605 583 L642 559 L652 531 L647 508 L656 470 L666 447 L647 386 L685 376 L685 320 L713 296 L732 273 L769 226 L807 212 L863 184 L886 179 L901 189 L927 199 L991 201 L1041 201 L1066 199 L1101 216 L1125 231 L1155 261 L1224 263 L1264 266 L1294 280 L1304 315 L1324 335 L1343 325 L1373 328 L1423 340 L1448 350 L1473 360 L1502 365 L1542 380 L1557 410 L1562 439 L1552 479 L1562 519 L1572 548 L1582 578 L1592 608 L1572 633 L1582 662 L1567 682 L1572 712 L1596 732 L1621 757 L1651 772 L1671 796 L1691 826 L1681 851 L1676 886 L1686 915 L1681 945 L1715 960 L1730 975 L1720 984 L1710 1004 L1710 1038 L1701 1068 L1671 1093 L1651 1123 L1636 1163 L1646 1192 L1606 1222 L1587 1242 L1572 1262 L1562 1301 L1532 1321 L1522 1351 L1497 1381 L1502 1410 L1473 1440 L1438 1460 L1398 1485 L1348 1500 L1324 1540 L1314 1510 L1284 1510 L1234 1520 L1200 1540 L1150 1534 L1086 1515 L1026 1515 L986 1495 L986 1440 L1006 1410 L1016 1376 L1026 1351 L1016 1321 L1001 1301 L981 1291 L952 1296 L948 1300 L896 1296 L862 1283 L810 1270 L780 1249 L763 1253 L729 1262 L716 1283 L665 1274 L622 1287 L579 1274 L544 1257 L493 1232 L450 1210 L428 1219 L420 1197 L403 1172 L394 1137 L386 1112 L381 1077 L381 1060 L390 1043 L381 1026 L386 1013 L381 983 L364 987 L343 1000 L321 1013 L291 1013 L278 1000 L270 974 L266 944 L270 931 L287 919 L291 897 L290 874 L300 845 L323 817 L314 789 L290 766 L295 747 L272 719 L248 724 L215 700 L201 667 L197 639 L215 616 L192 601 L154 573 L135 545 L112 498 L110 442 L100 404 Z" fill="none" stroke="#1a1a1a" stroke-width="3" stroke-dasharray="3 9" opacity="0.5"/>
<path d="M849 184 L895 184 L872 338 Z" fill="#3aa8d0" opacity="0.7" filter="url(#b8)"/>
<path d="M859 184 L885 184 L872 300 Z" fill="#2840c0" opacity="0.95" filter="url(#b4)"/>
<circle cx="872" cy="190" r="10" fill="#7010c8" opacity="0.8"/>
<path d="M1094 218 L1149 244 L1073 336 Z" fill="#3aa8d0" opacity="0.7" filter="url(#b8)"/>
<path d="M1106 224 L1137 238 L1085 310 Z" fill="#2840c0" opacity="0.95" filter="url(#b4)"/>
<circle cx="1120" cy="235" r="14" fill="#7010c8" opacity="0.8"/>
<path d="M1159 265 L1203 279 L1153 363 Z" fill="#3aa8d0" opacity="0.7" filter="url(#b8)"/>
<path d="M1169 268 L1193 276 L1160 340 Z" fill="#2840c0" opacity="0.95" filter="url(#b4)"/>
<circle cx="1180" cy="275" r="10" fill="#7010c8" opacity="0.8"/>
<path d="M681 376 L712 291 L794 369 Z" fill="#3aa8d0" opacity="0.7" filter="url(#b8)"/>
<path d="M688 357 L705 310 L770 360 Z" fill="#2840c0" opacity="0.95" filter="url(#b4)"/>
<circle cx="700" cy="335" r="20" fill="#7010c8" opacity="0.8"/>
<path d="M1277 293 L1324 300 L1286 394 Z" fill="#3aa8d0" opacity="0.7" filter="url(#b8)"/>
<path d="M1288 295 L1313 298 L1290 370 Z" fill="#2840c0" opacity="0.95" filter="url(#b4)"/>
<circle cx="1300" cy="300" r="10" fill="#7010c8" opacity="0.8"/>
<path d="M1427 370 L1457 396 L1386 446 Z" fill="#3aa8d0" opacity="0.7" filter="url(#b8)"/>
<path d="M1434 375 L1450 390 L1400 430 Z" fill="#2840c0" opacity="0.95" filter="url(#b4)"/>
<circle cx="1440" cy="385" r="9" fill="#7010c8" opacity="0.8"/>
<path d="M1523 418 L1533 460 L1437 460 Z" fill="#3aa8d0" opacity="0.7" filter="url(#b8)"/>
<path d="M1526 428 L1531 451 L1460 455 Z" fill="#2840c0" opacity="0.95" filter="url(#b4)"/>
<circle cx="1525" cy="440" r="10" fill="#7010c8" opacity="0.8"/>
<path d="M1554 619 L1556 691 L1268 662 Z" fill="#3aa8d0" opacity="0.7" filter="url(#b8)"/>
<path d="M1555 635 L1556 675 L1340 660 Z" fill="#2840c0" opacity="0.95" filter="url(#b4)"/>
<circle cx="1545" cy="655" r="16" fill="#7010c8" opacity="0.8"/>
<path d="M1657 750 L1673 828 L1525 817 Z" fill="#3aa8d0" opacity="0.7" filter="url(#b8)"/>
<path d="M1661 767 L1669 811 L1560 810 Z" fill="#2840c0" opacity="0.95" filter="url(#b4)"/>
<circle cx="1660" cy="790" r="18" fill="#7010c8" opacity="0.8"/>
<path d="M1711 965 L1702 1037 L1524 980 Z" fill="#3aa8d0" opacity="0.7" filter="url(#b8)"/>
<path d="M1709 981 L1704 1021 L1570 985 Z" fill="#2840c0" opacity="0.95" filter="url(#b4)"/>
<circle cx="1700" cy="1000" r="16" fill="#7010c8" opacity="0.8"/>
<path d="M1614 1190 L1554 1257 L1472 1126 Z" fill="#3aa8d0" opacity="0.7" filter="url(#b8)"/>
<path d="M1600 1205 L1568 1242 L1500 1150 Z" fill="#2840c0" opacity="0.95" filter="url(#b4)"/>
<circle cx="1580" cy="1220" r="20" fill="#7010c8" opacity="0.8"/>
<path d="M1509 1366 L1476 1399 L1422 1312 Z" fill="#3aa8d0" opacity="0.7" filter="url(#b8)"/>
<path d="M1502 1373 L1483 1392 L1440 1330 Z" fill="#2840c0" opacity="0.95" filter="url(#b4)"/>
<circle cx="1490" cy="1380" r="10" fill="#7010c8" opacity="0.8"/>
<path d="M1352 1524 L1308 1524 L1330 1398 Z" fill="#3aa8d0" opacity="0.7" filter="url(#b8)"/>
<path d="M1342 1524 L1318 1524 L1330 1430 Z" fill="#2840c0" opacity="0.95" filter="url(#b4)"/>
<circle cx="1330" cy="1520" r="10" fill="#7010c8" opacity="0.8"/>
<path d="M1251 1524 L1191 1535 L1200 1410 Z" fill="#3aa8d0" opacity="0.7" filter="url(#b8)"/>
<path d="M1237 1526 L1204 1532 L1205 1440 Z" fill="#2840c0" opacity="0.95" filter="url(#b4)"/>
<circle cx="1220" cy="1525" r="14" fill="#7010c8" opacity="0.8"/>
<path d="M1030 1363 L1025 1338 L1098 1336 Z" fill="#3aa8d0" opacity="0.7" filter="url(#b8)"/>
<path d="M1029 1357 L1026 1344 L1080 1340 Z" fill="#2840c0" opacity="0.95" filter="url(#b4)"/>
<circle cx="1030" cy="1350" r="6" fill="#7010c8" opacity="0.8"/>
<path d="M360 955 L422 936 L430 1072 Z" fill="#3aa8d0" opacity="0.7" filter="url(#b8)"/>
<path d="M373 951 L408 940 L420 1040 Z" fill="#2840c0" opacity="0.95" filter="url(#b4)"/>
<circle cx="392" cy="950" r="14" fill="#7010c8" opacity="0.8"/>
<path d="M386 1055 L393 984 L537 1034 Z" fill="#3aa8d0" opacity="0.7" filter="url(#b8)"/>
<path d="M388 1039 L392 1000 L500 1030 Z" fill="#2840c0" opacity="0.95" filter="url(#b4)"/>
<circle cx="395" cy="1020" r="16" fill="#7010c8" opacity="0.8"/>
<path d="M330 868 L295 837 L376 782 Z" fill="#3aa8d0" opacity="0.7" filter="url(#b8)"/>
<path d="M322 861 L303 844 L360 800 Z" fill="#2840c0" opacity="0.95" filter="url(#b4)"/>
<circle cx="315" cy="850" r="10" fill="#7010c8" opacity="0.8"/>
<path d="M480 1237 L455 1207 L538 1166 Z" fill="#3aa8d0" opacity="0.7" filter="url(#b8)"/>
<path d="M474 1231 L461 1213 L520 1180 Z" fill="#2840c0" opacity="0.95" filter="url(#b4)"/>
<circle cx="470" cy="1220" r="9" fill="#7010c8" opacity="0.8"/>
<path d="M582 1266 L555 1248 L610 1194 Z" fill="#3aa8d0" opacity="0.7" filter="url(#b8)"/>
<path d="M576 1262 L561 1252 L600 1210 Z" fill="#2840c0" opacity="0.95" filter="url(#b4)"/>
<circle cx="570" cy="1255" r="7" fill="#7010c8" opacity="0.8"/>
<path d="M163 524 L210 470 L284 581 Z" fill="#3aa8d0" opacity="0.7" filter="url(#b8)"/>
<path d="M173 512 L200 482 L260 560 Z" fill="#2840c0" opacity="0.95" filter="url(#b4)"/>
<circle cx="190" cy="500" r="16" fill="#7010c8" opacity="0.8"/>
<path d="M313 658 L355 637 L369 718 Z" fill="#3aa8d0" opacity="0.7" filter="url(#b8)"/>
<path d="M322 653 L345 642 L360 700 Z" fill="#2840c0" opacity="0.95" filter="url(#b4)"/>
<circle cx="335" cy="650" r="10" fill="#7010c8" opacity="0.8"/>
<path d="M1698 1063 L1691 1099 L1568 1053 Z" fill="#3aa8d0" opacity="0.7" filter="url(#b8)"/>
<path d="M1697 1071 L1692 1091 L1600 1060 Z" fill="#2840c0" opacity="0.95" filter="url(#b4)"/>
<circle cx="1690" cy="1080" r="8" fill="#7010c8" opacity="0.8"/>
<path d="M1626 1163 L1620 1198 L1539 1166 Z" fill="#3aa8d0" opacity="0.7" filter="url(#b8)"/>
<path d="M1625 1171 L1621 1190 L1560 1170 Z" fill="#2840c0" opacity="0.95" filter="url(#b4)"/>
<circle cx="1620" cy="1180" r="8" fill="#7010c8" opacity="0.8"/>
<path d="M1395 1501 L1366 1505 L1366 1419 Z" fill="#3aa8d0" opacity="0.7" filter="url(#b8)"/>
<path d="M1388 1502 L1373 1504 L1370 1440 Z" fill="#2840c0" opacity="0.95" filter="url(#b4)"/>
<circle cx="1380" cy="1500" r="6" fill="#7010c8" opacity="0.8"/>
<path d="M430 630 L500 612 L572 600 L600 660 L640 700 L682 738 L655 770 L600 800 L540 830 L470 850 L438 842 L478 800 L430 782 L400 762 L420 722 L450 700 L440 660 Z" fill="url(#gRonne)"/>
<path d="M605 572 L650 560 L700 598 L712 640 L680 652 L640 630 L612 602 Z" fill="#a800b4"/>
<path d="M600 650 L690 730" fill="none" stroke="#2030c8" stroke-width="22" stroke-linecap="round" opacity="0.85"/>
<path d="M540 760 L600 800 L660 760" fill="none" stroke="#2030c8" stroke-width="18" stroke-linecap="round" opacity="0.85"/>
<path d="M470 800 L420 770" fill="none" stroke="#2030c8" stroke-width="10" stroke-linecap="round" opacity="0.85"/>
<path d="M700 600 L760 560 L830 520" fill="none" stroke="#2030c8" stroke-width="14" stroke-linecap="round" opacity="0.85"/>
<path d="M690 640 L780 600 L850 590" fill="none" stroke="#2030c8" stroke-width="12" stroke-linecap="round" opacity="0.85"/>
<path d="M720 660 L760 700" fill="none" stroke="#2030c8" stroke-width="10" stroke-linecap="round" opacity="0.85"/>
<path d="M640 1130 L700 1140 L800 1118 L950 1118 L1008 1165 L992 1250 L962 1298 L900 1302 L830 1292 L782 1252 L742 1258 L722 1205 L652 1162 Z" fill="url(#gRoss)"/>
<path d="M640 1140 L720 1180 L770 1230" fill="none" stroke="#2030c8" stroke-width="20" stroke-linecap="round" opacity="0.85"/>
<path d="M660 1070 L720 1150" fill="none" stroke="#2030c8" stroke-width="12" stroke-linecap="round" opacity="0.85"/>
<path d="M720 1200 L740 1250" fill="none" stroke="#2030c8" stroke-width="10" stroke-linecap="round" opacity="0.85"/>
<path d="M144 482 L165 477 L184 490 L254 530 L248 557 L211 549 L162 506 Z" fill="#7a10c8" opacity="0.9"/>
<path d="M650 385 L680 380 L722 410 L700 432 L662 442 Z" fill="#b800a8"/>
<path d="M862 186 L884 184 L880 250 L866 262 Z" fill="#b000b0"/>
<path d="M1360 655 L1480 645 L1575 635 L1580 680 L1480 670 L1380 668 Z" fill="url(#gAmery)"/>
<path d="M830 262 L900 268 L980 262 L1060 252 L1140 292 L1210 305 L1260 330" fill="none" stroke="#777" stroke-width="34" stroke-linecap="round" filter="url(#speck)" opacity="0.6"/>
<path d="M105 400 L140 480 L210 540 L290 585 L370 630 L420 660" fill="none" stroke="#777" stroke-width="55" stroke-linecap="round" filter="url(#speck)" opacity="0.6"/>
<path d="M300 760 L320 860 L300 940 L330 1000" fill="none" stroke="#777" stroke-width="30" stroke-linecap="round" filter="url(#speck)" opacity="0.6"/>
<path d="M420 1185 L500 1232 L600 1262 L700 1272" fill="none" stroke="#777" stroke-width="34" stroke-linecap="round" filter="url(#speck)" opacity="0.6"/>
<path d="M1360 615 L1440 612 L1520 625" fill="none" stroke="#777" stroke-width="26" stroke-linecap="round" filter="url(#speck)" opacity="0.6"/>
<path d="M1380 700 L1450 705 L1520 690" fill="none" stroke="#777" stroke-width="22" stroke-linecap="round" filter="url(#speck)" opacity="0.6"/>
<path d="M1000 1300 L1010 1400 L1000 1470 L1030 1520" fill="none" stroke="#777" stroke-width="50" stroke-linecap="round" filter="url(#speck)" opacity="0.6"/>
<circle cx="882" cy="875" r="246" fill="#b3b3b3"/>
<circle cx="882" cy="875" r="246" fill="#000" filter="url(#noise)" opacity="0.25"/>
<path d="M680 715 L740 790 L800 880 L860 960 L930 1050 L985 1120 L1010 1180 L1005 1260 L1015 1330 L1000 1400 L1010 1480" fill="none" stroke="#777" stroke-width="64" filter="url(#speck)" opacity="0.75"/>
</g></g>
<g transform="translate(219.10,1867.00) scale(0.42362)">
<g clip-path="url(#cc)">
<path d="M103 379 L117 381 L131 442 L140 479 L169 479 L206 494 L244 517 L262 545 L281 545 L319 564 L356 578 L384 601 L412 616 L431 630 L474 611 L525 604 L572 604 L581 592 L605 583 L642 559 L652 531 L647 508 L656 470 L666 447 L647 386 L685 376 L685 320 L713 296 L732 273 L769 226 L807 212 L863 184 L886 179 L901 189 L927 199 L991 201 L1041 201 L1066 199 L1101 216 L1125 231 L1155 261 L1224 263 L1264 266 L1294 280 L1304 315 L1324 335 L1343 325 L1373 328 L1423 340 L1448 350 L1473 360 L1502 365 L1542 380 L1557 410 L1562 439 L1552 479 L1562 519 L1572 548 L1582 578 L1592 608 L1572 633 L1582 662 L1567 682 L1572 712 L1596 732 L1621 757 L1651 772 L1671 796 L1691 826 L1681 851 L1676 886 L1686 915 L1681 945 L1715 960 L1730 975 L1720 984 L1710 1004 L1710 1038 L1701 1068 L1671 1093 L1651 1123 L1636 1163 L1646 1192 L1606 1222 L1587 1242 L1572 1262 L1562 1301 L1532 1321 L1522 1351 L1497 1381 L1502 1410 L1473 1440 L1438 1460 L1398 1485 L1348 1500 L1324 1540 L1314 1510 L1284 1510 L1234 1520 L1200 1540 L1150 1534 L1086 1515 L1026 1515 L986 1495 L986 1440 L1006 1410 L1016 1376 L1026 1351 L1016 1321 L1001 1301 L981 1291 L952 1296 L948 1300 L896 1296 L862 1283 L810 1270 L780 1249 L763 1253 L729 1262 L716 1283 L665 1274 L622 1287 L579 1274 L544 1257 L493 1232 L450 1210 L428 1219 L420 1197 L403 1172 L394 1137 L386 1112 L381 1077 L381 1060 L390 1043 L381 1026 L386 1013 L381 983 L364 987 L343 1000 L321 1013 L291 1013 L278 1000 L270 974 L266 944 L270 931 L287 919 L291 897 L290 874 L300 845 L323 817 L314 789 L290 766 L295 747 L272 719 L248 724 L215 700 L201 667 L197 639 L215 616 L192 601 L154 573 L135 545 L112 498 L110 442 L100 404 Z" fill="#b3ad73"/>
<g filter="url(#b25)" fill="#b09070" opacity="0.8">
<ellipse cx="560" cy="980" rx="110" ry="90" transform="rotate(0 560 980)"/>
</g>
<g filter="url(#b25)" fill="#b47878" opacity="1.0">
<path d="M830 330 L1000 310 L1150 330 L1280 400 L1420 470 L1520 520 L1520 560 L1130 560 L1100 620 L1130 740 L1300 730 L1510 750 L1560 850 L1540 1000 L1470 1150 L1460 1320 L1400 1440 L1280 1460 L1170 1400 L1110 1280 L1100 1150 L1130 1050 L1140 950 L1120 800 L1060 680 L1000 580 L900 480 L850 400 Z"/>
</g>
<g filter="url(#b40)" fill="#7ebe70" opacity="0.8">
<ellipse cx="850" cy="560" rx="140" ry="70" transform="rotate(-25 850 560)"/>
<ellipse cx="1060" cy="1150" rx="60" ry="110" transform="rotate(0 1060 1150)"/>
<ellipse cx="1530" cy="1150" rx="70" ry="140" transform="rotate(0 1530 1150)"/>
</g>
<g filter="url(#b25)" fill="#7ebe70" opacity="0.85">
<path d="M1130 575 L1530 575 L1540 720 L1140 725 Z"/>
</g>
<path d="M103 379 L117 381 L131 442 L140 479 L169 479 L206 494 L244 517 L262 545 L281 545 L319 564 L356 578 L384 601 L412 616 L431 630 L474 611 L525 604 L572 604 L581 592 L605 583 L642 559 L652 531 L647 508 L656 470 L666 447 L647 386 L685 376 L685 320 L713 296 L732 273 L769 226 L807 212 L863 184 L886 179 L901 189 L927 199 L991 201 L1041 201 L1066 199 L1101 216 L1125 231 L1155 261 L1224 263 L1264 266 L1294 280 L1304 315 L1324 335 L1343 325 L1373 328 L1423 340 L1448 350 L1473 360 L1502 365 L1542 380 L1557 410 L1562 439 L1552 479 L1562 519 L1572 548 L1582 578 L1592 608 L1572 633 L1582 662 L1567 682 L1572 712 L1596 732 L1621 757 L1651 772 L1671 796 L1691 826 L1681 851 L1676 886 L1686 915 L1681 945 L1715 960 L1730 975 L1720 984 L1710 1004 L1710 1038 L1701 1068 L1671 1093 L1651 1123 L1636 1163 L1646 1192 L1606 1222 L1587 1242 L1572 1262 L1562 1301 L1532 1321 L1522 1351 L1497 1381 L1502 1410 L1473 1440 L1438 1460 L1398 1485 L1348 1500 L1324 1540 L1314 1510 L1284 1510 L1234 1520 L1200 1540 L1150 1534 L1086 1515 L1026 1515 L986 1495 L986 1440 L1006 1410 L1016 1376 L1026 1351 L1016 1321 L1001 1301 L981 1291 L952 1296 L948 1300 L896 1296 L862 1283 L810 1270 L780 1249 L763 1253 L729 1262 L716 1283 L665 1274 L622 1287 L579 1274 L544 1257 L493 1232 L450 1210 L428 1219 L420 1197 L403 1172 L394 1137 L386 1112 L381 1077 L381 1060 L390 1043 L381 1026 L386 1013 L381 983 L364 987 L343 1000 L321 1013 L291 1013 L278 1000 L270 974 L266 944 L270 931 L287 919 L291 897 L290 874 L300 845 L323 817 L314 789 L290 766 L295 747 L272 719 L248 724 L215 700 L201 667 L197 639 L215 616 L192 601 L154 573 L135 545 L112 498 L110 442 L100 404 Z" fill="none" stroke="#7ebe70" stroke-width="240" filter="url(#b25)"/>
<path d="M103 379 L117 381 L131 442 L140 479 L169 479 L206 494 L244 517 L262 545 L281 545 L319 564 L356 578 L384 601 L412 616 L431 630 L474 611 L525 604 L572 604 L581 592 L605 583 L642 559 L652 531 L647 508 L656 470 L666 447 L647 386 L685 376 L685 320 L713 296 L732 273 L769 226 L807 212 L863 184 L886 179 L901 189 L927 199 L991 201 L1041 201 L1066 199 L1101 216 L1125 231 L1155 261 L1224 263 L1264 266 L1294 280 L1304 315 L1324 335 L1343 325 L1373 328 L1423 340 L1448 350 L1473 360 L1502 365 L1542 380 L1557 410 L1562 439 L1552 479 L1562 519 L1572 548 L1582 578 L1592 608 L1572 633 L1582 662 L1567 682 L1572 712 L1596 732 L1621 757 L1651 772 L1671 796 L1691 826 L1681 851 L1676 886 L1686 915 L1681 945 L1715 960 L1730 975 L1720 984 L1710 1004 L1710 1038 L1701 1068 L1671 1093 L1651 1123 L1636 1163 L1646 1192 L1606 1222 L1587 1242 L1572 1262 L1562 1301 L1532 1321 L1522 1351 L1497 1381 L1502 1410 L1473 1440 L1438 1460 L1398 1485 L1348 1500 L1324 1540 L1314 1510 L1284 1510 L1234 1520 L1200 1540 L1150 1534 L1086 1515 L1026 1515 L986 1495 L986 1440 L1006 1410 L1016 1376 L1026 1351 L1016 1321 L1001 1301 L981 1291 L952 1296 L948 1300 L896 1296 L862 1283 L810 1270 L780 1249 L763 1253 L729 1262 L716 1283 L665 1274 L622 1287 L579 1274 L544 1257 L493 1232 L450 1210 L428 1219 L420 1197 L403 1172 L394 1137 L386 1112 L381 1077 L381 1060 L390 1043 L381 1026 L386 1013 L381 983 L364 987 L343 1000 L321 1013 L291 1013 L278 1000 L270 974 L266 944 L270 931 L287 919 L291 897 L290 874 L300 845 L323 817 L314 789 L290 766 L295 747 L272 719 L248 724 L215 700 L201 667 L197 639 L215 616 L192 601 L154 573 L135 545 L112 498 L110 442 L100 404 Z" fill="none" stroke="#52b5b0" stroke-width="70" filter="url(#b8)" opacity="0.9"/>
<path d="M103 379 L117 381 L131 442 L140 479 L169 479 L206 494 L244 517 L262 545 L281 545 L319 564 L356 578 L384 601 L412 616 L431 630 L474 611 L525 604 L572 604 L581 592 L605 583 L642 559 L652 531 L647 508 L656 470 L666 447 L647 386 L685 376 L685 320 L713 296 L732 273 L769 226 L807 212 L863 184 L886 179 L901 189 L927 199 L991 201 L1041 201 L1066 199 L1101 216 L1125 231 L1155 261 L1224 263 L1264 266 L1294 280 L1304 315 L1324 335 L1343 325 L1373 328 L1423 340 L1448 350 L1473 360 L1502 365 L1542 380 L1557 410 L1562 439 L1552 479 L1562 519 L1572 548 L1582 578 L1592 608 L1572 633 L1582 662 L1567 682 L1572 712 L1596 732 L1621 757 L1651 772 L1671 796 L1691 826 L1681 851 L1676 886 L1686 915 L1681 945 L1715 960 L1730 975 L1720 984 L1710 1004 L1710 1038 L1701 1068 L1671 1093 L1651 1123 L1636 1163 L1646 1192 L1606 1222 L1587 1242 L1572 1262 L1562 1301 L1532 1321 L1522 1351 L1497 1381 L1502 1410 L1473 1440 L1438 1460 L1398 1485 L1348 1500 L1324 1540 L1314 1510 L1284 1510 L1234 1520 L1200 1540 L1150 1534 L1086 1515 L1026 1515 L986 1495 L986 1440 L1006 1410 L1016 1376 L1026 1351 L1016 1321 L1001 1301 L981 1291 L952 1296 L948 1300 L896 1296 L862 1283 L810 1270 L780 1249 L763 1253 L729 1262 L716 1283 L665 1274 L622 1287 L579 1274 L544 1257 L493 1232 L450 1210 L428 1219 L420 1197 L403 1172 L394 1137 L386 1112 L381 1077 L381 1060 L390 1043 L381 1026 L386 1013 L381 983 L364 987 L343 1000 L321 1013 L291 1013 L278 1000 L270 974 L266 944 L270 931 L287 919 L291 897 L290 874 L300 845 L323 817 L314 789 L290 766 L295 747 L272 719 L248 724 L215 700 L201 667 L197 639 L215 616 L192 601 L154 573 L135 545 L112 498 L110 442 L100 404 Z" fill="none" stroke="#3050b8" stroke-width="7" stroke-dasharray="10 26" opacity="0.8"/>
<path d="M103 379 L117 381 L131 442 L140 479 L169 479 L206 494 L244 517 L262 545 L281 545 L319 564 L356 578 L384 601 L412 616 L431 630 L474 611 L525 604 L572 604 L581 592 L605 583 L642 559 L652 531 L647 508 L656 470 L666 447 L647 386 L685 376 L685 320 L713 296 L732 273 L769 226 L807 212 L863 184 L886 179 L901 189 L927 199 L991 201 L1041 201 L1066 199 L1101 216 L1125 231 L1155 261 L1224 263 L1264 266 L1294 280 L1304 315 L1324 335 L1343 325 L1373 328 L1423 340 L1448 350 L1473 360 L1502 365 L1542 380 L1557 410 L1562 439 L1552 479 L1562 519 L1572 548 L1582 578 L1592 608 L1572 633 L1582 662 L1567 682 L1572 712 L1596 732 L1621 757 L1651 772 L1671 796 L1691 826 L1681 851 L1676 886 L1686 915 L1681 945 L1715 960 L1730 975 L1720 984 L1710 1004 L1710 1038 L1701 1068 L1671 1093 L1651 1123 L1636 1163 L1646 1192 L1606 1222 L1587 1242 L1572 1262 L1562 1301 L1532 1321 L1522 1351 L1497 1381 L1502 1410 L1473 1440 L1438 1460 L1398 1485 L1348 1500 L1324 1540 L1314 1510 L1284 1510 L1234 1520 L1200 1540 L1150 1534 L1086 1515 L1026 1515 L986 1495 L986 1440 L1006 1410 L1016 1376 L1026 1351 L1016 1321 L1001 1301 L981 1291 L952 1296 L948 1300 L896 1296 L862 1283 L810 1270 L780 1249 L763 1253 L729 1262 L716 1283 L665 1274 L622 1287 L579 1274 L544 1257 L493 1232 L450 1210 L428 1219 L420 1197 L403 1172 L394 1137 L386 1112 L381 1077 L381 1060 L390 1043 L381 1026 L386 1013 L381 983 L364 987 L343 1000 L321 1013 L291 1013 L278 1000 L270 974 L266 944 L270 931 L287 919 L291 897 L290 874 L300 845 L323 817 L314 789 L290 766 L295 747 L272 719 L248 724 L215 700 L201 667 L197 639 L215 616 L192 601 L154 573 L135 545 L112 498 L110 442 L100 404 Z" fill="none" stroke="#1a1a1a" stroke-width="3" stroke-dasharray="3 9" opacity="0.5"/>
<path d="M849 184 L895 184 L872 338 Z" fill="#3aa8d0" opacity="0.7" filter="url(#b8)"/>
<path d="M859 184 L885 184 L872 300 Z" fill="#2840c0" opacity="0.95" filter="url(#b4)"/>
<circle cx="872" cy="190" r="10" fill="#7010c8" opacity="0.8"/>
<path d="M1094 218 L1149 244 L1073 336 Z" fill="#3aa8d0" opacity="0.7" filter="url(#b8)"/>
<path d="M1106 224 L1137 238 L1085 310 Z" fill="#2840c0" opacity="0.95" filter="url(#b4)"/>
<circle cx="1120" cy="235" r="14" fill="#7010c8" opacity="0.8"/>
<path d="M1159 265 L1203 279 L1153 363 Z" fill="#3aa8d0" opacity="0.7" filter="url(#b8)"/>
<path d="M1169 268 L1193 276 L1160 340 Z" fill="#2840c0" opacity="0.95" filter="url(#b4)"/>
<circle cx="1180" cy="275" r="10" fill="#7010c8" opacity="0.8"/>
<path d="M681 376 L712 291 L794 369 Z" fill="#3aa8d0" opacity="0.7" filter="url(#b8)"/>
<path d="M688 357 L705 310 L770 360 Z" fill="#2840c0" opacity="0.95" filter="url(#b4)"/>
<circle cx="700" cy="335" r="20" fill="#7010c8" opacity="0.8"/>
<path d="M1277 293 L1324 300 L1286 394 Z" fill="#3aa8d0" opacity="0.7" filter="url(#b8)"/>
<path d="M1288 295 L1313 298 L1290 370 Z" fill="#2840c0" opacity="0.95" filter="url(#b4)"/>
<circle cx="1300" cy="300" r="10" fill="#7010c8" opacity="0.8"/>
<path d="M1427 370 L1457 396 L1386 446 Z" fill="#3aa8d0" opacity="0.7" filter="url(#b8)"/>
<path d="M1434 375 L1450 390 L1400 430 Z" fill="#2840c0" opacity="0.95" filter="url(#b4)"/>
<circle cx="1440" cy="385" r="9" fill="#7010c8" opacity="0.8"/>
<path d="M1523 418 L1533 460 L1437 460 Z" fill="#3aa8d0" opacity="0.7" filter="url(#b8)"/>
<path d="M1526 428 L1531 451 L1460 455 Z" fill="#2840c0" opacity="0.95" filter="url(#b4)"/>
<circle cx="1525" cy="440" r="10" fill="#7010c8" opacity="0.8"/>
<path d="M1554 619 L1556 691 L1268 662 Z" fill="#3aa8d0" opacity="0.7" filter="url(#b8)"/>
<path d="M1555 635 L1556 675 L1340 660 Z" fill="#2840c0" opacity="0.95" filter="url(#b4)"/>
<circle cx="1545" cy="655" r="16" fill="#7010c8" opacity="0.8"/>
<path d="M1657 750 L1673 828 L1525 817 Z" fill="#3aa8d0" opacity="0.7" filter="url(#b8)"/>
<path d="M1661 767 L1669 811 L1560 810 Z" fill="#2840c0" opacity="0.95" filter="url(#b4)"/>
<circle cx="1660" cy="790" r="18" fill="#7010c8" opacity="0.8"/>
<path d="M1711 965 L1702 1037 L1524 980 Z" fill="#3aa8d0" opacity="0.7" filter="url(#b8)"/>
<path d="M1709 981 L1704 1021 L1570 985 Z" fill="#2840c0" opacity="0.95" filter="url(#b4)"/>
<circle cx="1700" cy="1000" r="16" fill="#7010c8" opacity="0.8"/>
<path d="M1614 1190 L1554 1257 L1472 1126 Z" fill="#3aa8d0" opacity="0.7" filter="url(#b8)"/>
<path d="M1600 1205 L1568 1242 L1500 1150 Z" fill="#2840c0" opacity="0.95" filter="url(#b4)"/>
<circle cx="1580" cy="1220" r="20" fill="#7010c8" opacity="0.8"/>
<path d="M1509 1366 L1476 1399 L1422 1312 Z" fill="#3aa8d0" opacity="0.7" filter="url(#b8)"/>
<path d="M1502 1373 L1483 1392 L1440 1330 Z" fill="#2840c0" opacity="0.95" filter="url(#b4)"/>
<circle cx="1490" cy="1380" r="10" fill="#7010c8" opacity="0.8"/>
<path d="M1352 1524 L1308 1524 L1330 1398 Z" fill="#3aa8d0" opacity="0.7" filter="url(#b8)"/>
<path d="M1342 1524 L1318 1524 L1330 1430 Z" fill="#2840c0" opacity="0.95" filter="url(#b4)"/>
<circle cx="1330" cy="1520" r="10" fill="#7010c8" opacity="0.8"/>
<path d="M1251 1524 L1191 1535 L1200 1410 Z" fill="#3aa8d0" opacity="0.7" filter="url(#b8)"/>
<path d="M1237 1526 L1204 1532 L1205 1440 Z" fill="#2840c0" opacity="0.95" filter="url(#b4)"/>
<circle cx="1220" cy="1525" r="14" fill="#7010c8" opacity="0.8"/>
<path d="M1030 1363 L1025 1338 L1098 1336 Z" fill="#3aa8d0" opacity="0.7" filter="url(#b8)"/>
<path d="M1029 1357 L1026 1344 L1080 1340 Z" fill="#2840c0" opacity="0.95" filter="url(#b4)"/>
<circle cx="1030" cy="1350" r="6" fill="#7010c8" opacity="0.8"/>
<path d="M360 955 L422 936 L430 1072 Z" fill="#3aa8d0" opacity="0.7" filter="url(#b8)"/>
<path d="M373 951 L408 940 L420 1040 Z" fill="#2840c0" opacity="0.95" filter="url(#b4)"/>
<circle cx="392" cy="950" r="14" fill="#7010c8" opacity="0.8"/>
<path d="M386 1055 L393 984 L537 1034 Z" fill="#3aa8d0" opacity="0.7" filter="url(#b8)"/>
<path d="M388 1039 L392 1000 L500 1030 Z" fill="#2840c0" opacity="0.95" filter="url(#b4)"/>
<circle cx="395" cy="1020" r="16" fill="#7010c8" opacity="0.8"/>
<path d="M330 868 L295 837 L376 782 Z" fill="#3aa8d0" opacity="0.7" filter="url(#b8)"/>
<path d="M322 861 L303 844 L360 800 Z" fill="#2840c0" opacity="0.95" filter="url(#b4)"/>
<circle cx="315" cy="850" r="10" fill="#7010c8" opacity="0.8"/>
<path d="M480 1237 L455 1207 L538 1166 Z" fill="#3aa8d0" opacity="0.7" filter="url(#b8)"/>
<path d="M474 1231 L461 1213 L520 1180 Z" fill="#2840c0" opacity="0.95" filter="url(#b4)"/>
<circle cx="470" cy="1220" r="9" fill="#7010c8" opacity="0.8"/>
<path d="M582 1266 L555 1248 L610 1194 Z" fill="#3aa8d0" opacity="0.7" filter="url(#b8)"/>
<path d="M576 1262 L561 1252 L600 1210 Z" fill="#2840c0" opacity="0.95" filter="url(#b4)"/>
<circle cx="570" cy="1255" r="7" fill="#7010c8" opacity="0.8"/>
<path d="M163 524 L210 470 L284 581 Z" fill="#3aa8d0" opacity="0.7" filter="url(#b8)"/>
<path d="M173 512 L200 482 L260 560 Z" fill="#2840c0" opacity="0.95" filter="url(#b4)"/>
<circle cx="190" cy="500" r="16" fill="#7010c8" opacity="0.8"/>
<path d="M313 658 L355 637 L369 718 Z" fill="#3aa8d0" opacity="0.7" filter="url(#b8)"/>
<path d="M322 653 L345 642 L360 700 Z" fill="#2840c0" opacity="0.95" filter="url(#b4)"/>
<circle cx="335" cy="650" r="10" fill="#7010c8" opacity="0.8"/>
<path d="M1698 1063 L1691 1099 L1568 1053 Z" fill="#3aa8d0" opacity="0.7" filter="url(#b8)"/>
<path d="M1697 1071 L1692 1091 L1600 1060 Z" fill="#2840c0" opacity="0.95" filter="url(#b4)"/>
<circle cx="1690" cy="1080" r="8" fill="#7010c8" opacity="0.8"/>
<path d="M1626 1163 L1620 1198 L1539 1166 Z" fill="#3aa8d0" opacity="0.7" filter="url(#b8)"/>
<path d="M1625 1171 L1621 1190 L1560 1170 Z" fill="#2840c0" opacity="0.95" filter="url(#b4)"/>
<circle cx="1620" cy="1180" r="8" fill="#7010c8" opacity="0.8"/>
<path d="M1395 1501 L1366 1505 L1366 1419 Z" fill="#3aa8d0" opacity="0.7" filter="url(#b8)"/>
<path d="M1388 1502 L1373 1504 L1370 1440 Z" fill="#2840c0" opacity="0.95" filter="url(#b4)"/>
<circle cx="1380" cy="1500" r="6" fill="#7010c8" opacity="0.8"/>
<path d="M430 630 L500 612 L572 600 L600 660 L640 700 L682 738 L655 770 L600 800 L540 830 L470 850 L438 842 L478 800 L430 782 L400 762 L420 722 L450 700 L440 660 Z" fill="url(#gRonne)"/>
<path d="M605 572 L650 560 L700 598 L712 640 L680 652 L640 630 L612 602 Z" fill="#a800b4"/>
<path d="M600 650 L690 730" fill="none" stroke="#2030c8" stroke-width="22" stroke-linecap="round" opacity="0.85"/>
<path d="M540 760 L600 800 L660 760" fill="none" stroke="#2030c8" stroke-width="18" stroke-linecap="round" opacity="0.85"/>
<path d="M470 800 L420 770" fill="none" stroke="#2030c8" stroke-width="10" stroke-linecap="round" opacity="0.85"/>
<path d="M700 600 L760 560 L830 520" fill="none" stroke="#2030c8" stroke-width="14" stroke-linecap="round" opacity="0.85"/>
<path d="M690 640 L780 600 L850 590" fill="none" stroke="#2030c8" stroke-width="12" stroke-linecap="round" opacity="0.85"/>
<path d="M720 660 L760 700" fill="none" stroke="#2030c8" stroke-width="10" stroke-linecap="round" opacity="0.85"/>
<path d="M640 1130 L700 1140 L800 1118 L950 1118 L1008 1165 L992 1250 L962 1298 L900 1302 L830 1292 L782 1252 L742 1258 L722 1205 L652 1162 Z" fill="url(#gRoss)"/>
<path d="M640 1140 L720 1180 L770 1230" fill="none" stroke="#2030c8" stroke-width="20" stroke-linecap="round" opacity="0.85"/>
<path d="M660 1070 L720 1150" fill="none" stroke="#2030c8" stroke-width="12" stroke-linecap="round" opacity="0.85"/>
<path d="M720 1200 L740 1250" fill="none" stroke="#2030c8" stroke-width="10" stroke-linecap="round" opacity="0.85"/>
<path d="M144 482 L165 477 L184 490 L254 530 L248 557 L211 549 L162 506 Z" fill="#7a10c8" opacity="0.9"/>
<path d="M650 385 L680 380 L722 410 L700 432 L662 442 Z" fill="#b800a8"/>
<path d="M862 186 L884 184 L880 250 L866 262 Z" fill="#b000b0"/>
<path d="M1360 655 L1480 645 L1575 635 L1580 680 L1480 670 L1380 668 Z" fill="url(#gAmery)"/>
<path d="M830 262 L900 268 L980 262 L1060 252 L1140 292 L1210 305 L1260 330" fill="none" stroke="#777" stroke-width="34" stroke-linecap="round" filter="url(#speck)" opacity="0.6"/>
<path d="M105 400 L140 480 L210 540 L290 585 L370 630 L420 660" fill="none" stroke="#777" stroke-width="55" stroke-linecap="round" filter="url(#speck)" opacity="0.6"/>
<path d="M300 760 L320 860 L300 940 L330 1000" fill="none" stroke="#777" stroke-width="30" stroke-linecap="round" filter="url(#speck)" opacity="0.6"/>
<path d="M420 1185 L500 1232 L600 1262 L700 1272" fill="none" stroke="#777" stroke-width="34" stroke-linecap="round" filter="url(#speck)" opacity="0.6"/>
<path d="M1360 615 L1440 612 L1520 625" fill="none" stroke="#777" stroke-width="26" stroke-linecap="round" filter="url(#speck)" opacity="0.6"/>
<path d="M1380 700 L1450 705 L1520 690" fill="none" stroke="#777" stroke-width="22" stroke-linecap="round" filter="url(#speck)" opacity="0.6"/>
<path d="M1000 1300 L1010 1400 L1000 1470 L1030 1520" fill="none" stroke="#777" stroke-width="50" stroke-linecap="round" filter="url(#speck)" opacity="0.6"/>
<circle cx="882" cy="875" r="246" fill="#b3b3b3"/>
<circle cx="882" cy="875" r="246" fill="#000" filter="url(#noise)" opacity="0.25"/>
<path d="M680 715 L740 790 L800 880 L860 960 L930 1050 L985 1120 L1010 1180 L1005 1260 L1015 1330 L1000 1400 L1010 1480" fill="none" stroke="#777" stroke-width="64" filter="url(#speck)" opacity="0.75"/>
</g></g>
<g transform="translate(1302.60,197.00) scale(0.42362)">
<g clip-path="url(#cc)">
<path d="M103 379 L117 381 L131 442 L140 479 L169 479 L206 494 L244 517 L262 545 L281 545 L319 564 L356 578 L384 601 L412 616 L431 630 L474 611 L525 604 L572 604 L581 592 L605 583 L642 559 L652 531 L647 508 L656 470 L666 447 L647 386 L685 376 L685 320 L713 296 L732 273 L769 226 L807 212 L863 184 L886 179 L901 189 L927 199 L991 201 L1041 201 L1066 199 L1101 216 L1125 231 L1155 261 L1224 263 L1264 266 L1294 280 L1304 315 L1324 335 L1343 325 L1373 328 L1423 340 L1448 350 L1473 360 L1502 365 L1542 380 L1557 410 L1562 439 L1552 479 L1562 519 L1572 548 L1582 578 L1592 608 L1572 633 L1582 662 L1567 682 L1572 712 L1596 732 L1621 757 L1651 772 L1671 796 L1691 826 L1681 851 L1676 886 L1686 915 L1681 945 L1715 960 L1730 975 L1720 984 L1710 1004 L1710 1038 L1701 1068 L1671 1093 L1651 1123 L1636 1163 L1646 1192 L1606 1222 L1587 1242 L1572 1262 L1562 1301 L1532 1321 L1522 1351 L1497 1381 L1502 1410 L1473 1440 L1438 1460 L1398 1485 L1348 1500 L1324 1540 L1314 1510 L1284 1510 L1234 1520 L1200 1540 L1150 1534 L1086 1515 L1026 1515 L986 1495 L986 1440 L1006 1410 L1016 1376 L1026 1351 L1016 1321 L1001 1301 L981 1291 L952 1296 L948 1300 L896 1296 L862 1283 L810 1270 L780 1249 L763 1253 L729 1262 L716 1283 L665 1274 L622 1287 L579 1274 L544 1257 L493 1232 L450 1210 L428 1219 L420 1197 L403 1172 L394 1137 L386 1112 L381 1077 L381 1060 L390 1043 L381 1026 L386 1013 L381 983 L364 987 L343 1000 L321 1013 L291 1013 L278 1000 L270 974 L266 944 L270 931 L287 919 L291 897 L290 874 L300 845 L323 817 L314 789 L290 766 L295 747 L272 719 L248 724 L215 700 L201 667 L197 639 L215 616 L192 601 L154 573 L135 545 L112 498 L110 442 L100 404 Z" fill="#b3b3b3"/>
<path d="M103 379 L117 381 L131 442 L140 479 L169 479 L206 494 L244 517 L262 545 L281 545 L319 564 L356 578 L384 601 L412 616 L431 630 L474 611 L525 604 L572 604 L581 592 L605 583 L642 559 L652 531 L647 508 L656 470 L666 447 L647 386 L685 376 L685 320 L713 296 L732 273 L769 226 L807 212 L863 184 L886 179 L901 189 L927 199 L991 201 L1041 201 L1066 199 L1101 216 L1125 231 L1155 261 L1224 263 L1264 266 L1294 280 L1304 315 L1324 335 L1343 325 L1373 328 L1423 340 L1448 350 L1473 360 L1502 365 L1542 380 L1557 410 L1562 439 L1552 479 L1562 519 L1572 548 L1582 578 L1592 608 L1572 633 L1582 662 L1567 682 L1572 712 L1596 732 L1621 757 L1651 772 L1671 796 L1691 826 L1681 851 L1676 886 L1686 915 L1681 945 L1715 960 L1730 975 L1720 984 L1710 1004 L1710 1038 L1701 1068 L1671 1093 L1651 1123 L1636 1163 L1646 1192 L1606 1222 L1587 1242 L1572 1262 L1562 1301 L1532 1321 L1522 1351 L1497 1381 L1502 1410 L1473 1440 L1438 1460 L1398 1485 L1348 1500 L1324 1540 L1314 1510 L1284 1510 L1234 1520 L1200 1540 L1150 1534 L1086 1515 L1026 1515 L986 1495 L986 1440 L1006 1410 L1016 1376 L1026 1351 L1016 1321 L1001 1301 L981 1291 L952 1296 L948 1300 L896 1296 L862 1283 L810 1270 L780 1249 L763 1253 L729 1262 L716 1283 L665 1274 L622 1287 L579 1274 L544 1257 L493 1232 L450 1210 L428 1219 L420 1197 L403 1172 L394 1137 L386 1112 L381 1077 L381 1060 L390 1043 L381 1026 L386 1013 L381 983 L364 987 L343 1000 L321 1013 L291 1013 L278 1000 L270 974 L266 944 L270 931 L287 919 L291 897 L290 874 L300 845 L323 817 L314 789 L290 766 L295 747 L272 719 L248 724 L215 700 L201 667 L197 639 L215 616 L192 601 L154 573 L135 545 L112 498 L110 442 L100 404 Z" fill="#000" filter="url(#noise)" opacity="0.2"/>
<g clip-path="url(#covD)">
<path d="M103 379 L117 381 L131 442 L140 479 L169 479 L206 494 L244 517 L262 545 L281 545 L319 564 L356 578 L384 601 L412 616 L431 630 L474 611 L525 604 L572 604 L581 592 L605 583 L642 559 L652 531 L647 508 L656 470 L666 447 L647 386 L685 376 L685 320 L713 296 L732 273 L769 226 L807 212 L863 184 L886 179 L901 189 L927 199 L991 201 L1041 201 L1066 199 L1101 216 L1125 231 L1155 261 L1224 263 L1264 266 L1294 280 L1304 315 L1324 335 L1343 325 L1373 328 L1423 340 L1448 350 L1473 360 L1502 365 L1542 380 L1557 410 L1562 439 L1552 479 L1562 519 L1572 548 L1582 578 L1592 608 L1572 633 L1582 662 L1567 682 L1572 712 L1596 732 L1621 757 L1651 772 L1671 796 L1691 826 L1681 851 L1676 886 L1686 915 L1681 945 L1715 960 L1730 975 L1720 984 L1710 1004 L1710 1038 L1701 1068 L1671 1093 L1651 1123 L1636 1163 L1646 1192 L1606 1222 L1587 1242 L1572 1262 L1562 1301 L1532 1321 L1522 1351 L1497 1381 L1502 1410 L1473 1440 L1438 1460 L1398 1485 L1348 1500 L1324 1540 L1314 1510 L1284 1510 L1234 1520 L1200 1540 L1150 1534 L1086 1515 L1026 1515 L986 1495 L986 1440 L1006 1410 L1016 1376 L1026 1351 L1016 1321 L1001 1301 L981 1291 L952 1296 L948 1300 L896 1296 L862 1283 L810 1270 L780 1249 L763 1253 L729 1262 L716 1283 L665 1274 L622 1287 L579 1274 L544 1257 L493 1232 L450 1210 L428 1219 L420 1197 L403 1172 L394 1137 L386 1112 L381 1077 L381 1060 L390 1043 L381 1026 L386 1013 L381 983 L364 987 L343 1000 L321 1013 L291 1013 L278 1000 L270 974 L266 944 L270 931 L287 919 L291 897 L290 874 L300 845 L323 817 L314 789 L290 766 L295 747 L272 719 L248 724 L215 700 L201 667 L197 639 L215 616 L192 601 L154 573 L135 545 L112 498 L110 442 L100 404 Z" fill="#b3ad73"/>
<g filter="url(#b25)" fill="#b09070" opacity="0.8">
<ellipse cx="560" cy="980" rx="110" ry="90" transform="rotate(0 560 980)"/>
</g>
<g filter="url(#b25)" fill="#b47878" opacity="1.0">
<path d="M830 330 L1000 310 L1150 330 L1280 400 L1420 470 L1520 520 L1520 560 L1130 560 L1100 620 L1130 740 L1300 730 L1510 750 L1560 850 L1540 1000 L1470 1150 L1460 1320 L1400 1440 L1280 1460 L1170 1400 L1110 1280 L1100 1150 L1130 1050 L1140 950 L1120 800 L1060 680 L1000 580 L900 480 L850 400 Z"/>
</g>
<g filter="url(#b40)" fill="#7ebe70" opacity="0.8">
<ellipse cx="850" cy="560" rx="140" ry="70" transform="rotate(-25 850 560)"/>
<ellipse cx="1060" cy="1150" rx="60" ry="110" transform="rotate(0 1060 1150)"/>
<ellipse cx="1530" cy="1150" rx="70" ry="140" transform="rotate(0 1530 1150)"/>
</g>
<g filter="url(#b25)" fill="#7ebe70" opacity="0.85">
<path d="M1130 575 L1530 575 L1540 720 L1140 725 Z"/>
</g>
<path d="M103 379 L117 381 L131 442 L140 479 L169 479 L206 494 L244 517 L262 545 L281 545 L319 564 L356 578 L384 601 L412 616 L431 630 L474 611 L525 604 L572 604 L581 592 L605 583 L642 559 L652 531 L647 508 L656 470 L666 447 L647 386 L685 376 L685 320 L713 296 L732 273 L769 226 L807 212 L863 184 L886 179 L901 189 L927 199 L991 201 L1041 201 L1066 199 L1101 216 L1125 231 L1155 261 L1224 263 L1264 266 L1294 280 L1304 315 L1324 335 L1343 325 L1373 328 L1423 340 L1448 350 L1473 360 L1502 365 L1542 380 L1557 410 L1562 439 L1552 479 L1562 519 L1572 548 L1582 578 L1592 608 L1572 633 L1582 662 L1567 682 L1572 712 L1596 732 L1621 757 L1651 772 L1671 796 L1691 826 L1681 851 L1676 886 L1686 915 L1681 945 L1715 960 L1730 975 L1720 984 L1710 1004 L1710 1038 L1701 1068 L1671 1093 L1651 1123 L1636 1163 L1646 1192 L1606 1222 L1587 1242 L1572 1262 L1562 1301 L1532 1321 L1522 1351 L1497 1381 L1502 1410 L1473 1440 L1438 1460 L1398 1485 L1348 1500 L1324 1540 L1314 1510 L1284 1510 L1234 1520 L1200 1540 L1150 1534 L1086 1515 L1026 1515 L986 1495 L986 1440 L1006 1410 L1016 1376 L1026 1351 L1016 1321 L1001 1301 L981 1291 L952 1296 L948 1300 L896 1296 L862 1283 L810 1270 L780 1249 L763 1253 L729 1262 L716 1283 L665 1274 L622 1287 L579 1274 L544 1257 L493 1232 L450 1210 L428 1219 L420 1197 L403 1172 L394 1137 L386 1112 L381 1077 L381 1060 L390 1043 L381 1026 L386 1013 L381 983 L364 987 L343 1000 L321 1013 L291 1013 L278 1000 L270 974 L266 944 L270 931 L287 919 L291 897 L290 874 L300 845 L323 817 L314 789 L290 766 L295 747 L272 719 L248 724 L215 700 L201 667 L197 639 L215 616 L192 601 L154 573 L135 545 L112 498 L110 442 L100 404 Z" fill="none" stroke="#7ebe70" stroke-width="240" filter="url(#b25)"/>
<path d="M103 379 L117 381 L131 442 L140 479 L169 479 L206 494 L244 517 L262 545 L281 545 L319 564 L356 578 L384 601 L412 616 L431 630 L474 611 L525 604 L572 604 L581 592 L605 583 L642 559 L652 531 L647 508 L656 470 L666 447 L647 386 L685 376 L685 320 L713 296 L732 273 L769 226 L807 212 L863 184 L886 179 L901 189 L927 199 L991 201 L1041 201 L1066 199 L1101 216 L1125 231 L1155 261 L1224 263 L1264 266 L1294 280 L1304 315 L1324 335 L1343 325 L1373 328 L1423 340 L1448 350 L1473 360 L1502 365 L1542 380 L1557 410 L1562 439 L1552 479 L1562 519 L1572 548 L1582 578 L1592 608 L1572 633 L1582 662 L1567 682 L1572 712 L1596 732 L1621 757 L1651 772 L1671 796 L1691 826 L1681 851 L1676 886 L1686 915 L1681 945 L1715 960 L1730 975 L1720 984 L1710 1004 L1710 1038 L1701 1068 L1671 1093 L1651 1123 L1636 1163 L1646 1192 L1606 1222 L1587 1242 L1572 1262 L1562 1301 L1532 1321 L1522 1351 L1497 1381 L1502 1410 L1473 1440 L1438 1460 L1398 1485 L1348 1500 L1324 1540 L1314 1510 L1284 1510 L1234 1520 L1200 1540 L1150 1534 L1086 1515 L1026 1515 L986 1495 L986 1440 L1006 1410 L1016 1376 L1026 1351 L1016 1321 L1001 1301 L981 1291 L952 1296 L948 1300 L896 1296 L862 1283 L810 1270 L780 1249 L763 1253 L729 1262 L716 1283 L665 1274 L622 1287 L579 1274 L544 1257 L493 1232 L450 1210 L428 1219 L420 1197 L403 1172 L394 1137 L386 1112 L381 1077 L381 1060 L390 1043 L381 1026 L386 1013 L381 983 L364 987 L343 1000 L321 1013 L291 1013 L278 1000 L270 974 L266 944 L270 931 L287 919 L291 897 L290 874 L300 845 L323 817 L314 789 L290 766 L295 747 L272 719 L248 724 L215 700 L201 667 L197 639 L215 616 L192 601 L154 573 L135 545 L112 498 L110 442 L100 404 Z" fill="none" stroke="#52b5b0" stroke-width="70" filter="url(#b8)" opacity="0.9"/>
<path d="M103 379 L117 381 L131 442 L140 479 L169 479 L206 494 L244 517 L262 545 L281 545 L319 564 L356 578 L384 601 L412 616 L431 630 L474 611 L525 604 L572 604 L581 592 L605 583 L642 559 L652 531 L647 508 L656 470 L666 447 L647 386 L685 376 L685 320 L713 296 L732 273 L769 226 L807 212 L863 184 L886 179 L901 189 L927 199 L991 201 L1041 201 L1066 199 L1101 216 L1125 231 L1155 261 L1224 263 L1264 266 L1294 280 L1304 315 L1324 335 L1343 325 L1373 328 L1423 340 L1448 350 L1473 360 L1502 365 L1542 380 L1557 410 L1562 439 L1552 479 L1562 519 L1572 548 L1582 578 L1592 608 L1572 633 L1582 662 L1567 682 L1572 712 L1596 732 L1621 757 L1651 772 L1671 796 L1691 826 L1681 851 L1676 886 L1686 915 L1681 945 L1715 960 L1730 975 L1720 984 L1710 1004 L1710 1038 L1701 1068 L1671 1093 L1651 1123 L1636 1163 L1646 1192 L1606 1222 L1587 1242 L1572 1262 L1562 1301 L1532 1321 L1522 1351 L1497 1381 L1502 1410 L1473 1440 L1438 1460 L1398 1485 L1348 1500 L1324 1540 L1314 1510 L1284 1510 L1234 1520 L1200 1540 L1150 1534 L1086 1515 L1026 1515 L986 1495 L986 1440 L1006 1410 L1016 1376 L1026 1351 L1016 1321 L1001 1301 L981 1291 L952 1296 L948 1300 L896 1296 L862 1283 L810 1270 L780 1249 L763 1253 L729 1262 L716 1283 L665 1274 L622 1287 L579 1274 L544 1257 L493 1232 L450 1210 L428 1219 L420 1197 L403 1172 L394 1137 L386 1112 L381 1077 L381 1060 L390 1043 L381 1026 L386 1013 L381 983 L364 987 L343 1000 L321 1013 L291 1013 L278 1000 L270 974 L266 944 L270 931 L287 919 L291 897 L290 874 L300 845 L323 817 L314 789 L290 766 L295 747 L272 719 L248 724 L215 700 L201 667 L197 639 L215 616 L192 601 L154 573 L135 545 L112 498 L110 442 L100 404 Z" fill="none" stroke="#3050b8" stroke-width="7" stroke-dasharray="10 26" opacity="0.8"/>
<path d="M103 379 L117 381 L131 442 L140 479 L169 479 L206 494 L244 517 L262 545 L281 545 L319 564 L356 578 L384 601 L412 616 L431 630 L474 611 L525 604 L572 604 L581 592 L605 583 L642 559 L652 531 L647 508 L656 470 L666 447 L647 386 L685 376 L685 320 L713 296 L732 273 L769 226 L807 212 L863 184 L886 179 L901 189 L927 199 L991 201 L1041 201 L1066 199 L1101 216 L1125 231 L1155 261 L1224 263 L1264 266 L1294 280 L1304 315 L1324 335 L1343 325 L1373 328 L1423 340 L1448 350 L1473 360 L1502 365 L1542 380 L1557 410 L1562 439 L1552 479 L1562 519 L1572 548 L1582 578 L1592 608 L1572 633 L1582 662 L1567 682 L1572 712 L1596 732 L1621 757 L1651 772 L1671 796 L1691 826 L1681 851 L1676 886 L1686 915 L1681 945 L1715 960 L1730 975 L1720 984 L1710 1004 L1710 1038 L1701 1068 L1671 1093 L1651 1123 L1636 1163 L1646 1192 L1606 1222 L1587 1242 L1572 1262 L1562 1301 L1532 1321 L1522 1351 L1497 1381 L1502 1410 L1473 1440 L1438 1460 L1398 1485 L1348 1500 L1324 1540 L1314 1510 L1284 1510 L1234 1520 L1200 1540 L1150 1534 L1086 1515 L1026 1515 L986 1495 L986 1440 L1006 1410 L1016 1376 L1026 1351 L1016 1321 L1001 1301 L981 1291 L952 1296 L948 1300 L896 1296 L862 1283 L810 1270 L780 1249 L763 1253 L729 1262 L716 1283 L665 1274 L622 1287 L579 1274 L544 1257 L493 1232 L450 1210 L428 1219 L420 1197 L403 1172 L394 1137 L386 1112 L381 1077 L381 1060 L390 1043 L381 1026 L386 1013 L381 983 L364 987 L343 1000 L321 1013 L291 1013 L278 1000 L270 974 L266 944 L270 931 L287 919 L291 897 L290 874 L300 845 L323 817 L314 789 L290 766 L295 747 L272 719 L248 724 L215 700 L201 667 L197 639 L215 616 L192 601 L154 573 L135 545 L112 498 L110 442 L100 404 Z" fill="none" stroke="#1a1a1a" stroke-width="3" stroke-dasharray="3 9" opacity="0.5"/>
<path d="M849 184 L895 184 L872 338 Z" fill="#3aa8d0" opacity="0.7" filter="url(#b8)"/>
<path d="M859 184 L885 184 L872 300 Z" fill="#2840c0" opacity="0.95" filter="url(#b4)"/>
<circle cx="872" cy="190" r="10" fill="#7010c8" opacity="0.8"/>
<path d="M1094 218 L1149 244 L1073 336 Z" fill="#3aa8d0" opacity="0.7" filter="url(#b8)"/>
<path d="M1106 224 L1137 238 L1085 310 Z" fill="#2840c0" opacity="0.95" filter="url(#b4)"/>
<circle cx="1120" cy="235" r="14" fill="#7010c8" opacity="0.8"/>
<path d="M1159 265 L1203 279 L1153 363 Z" fill="#3aa8d0" opacity="0.7" filter="url(#b8)"/>
<path d="M1169 268 L1193 276 L1160 340 Z" fill="#2840c0" opacity="0.95" filter="url(#b4)"/>
<circle cx="1180" cy="275" r="10" fill="#7010c8" opacity="0.8"/>
<path d="M681 376 L712 291 L794 369 Z" fill="#3aa8d0" opacity="0.7" filter="url(#b8)"/>
<path d="M688 357 L705 310 L770 360 Z" fill="#2840c0" opacity="0.95" filter="url(#b4)"/>
<circle cx="700" cy="335" r="20" fill="#7010c8" opacity="0.8"/>
<path d="M1277 293 L1324 300 L1286 394 Z" fill="#3aa8d0" opacity="0.7" filter="url(#b8)"/>
<path d="M1288 295 L1313 298 L1290 370 Z" fill="#2840c0" opacity="0.95" filter="url(#b4)"/>
<circle cx="1300" cy="300" r="10" fill="#7010c8" opacity="0.8"/>
<path d="M1427 370 L1457 396 L1386 446 Z" fill="#3aa8d0" opacity="0.7" filter="url(#b8)"/>
<path d="M1434 375 L1450 390 L1400 430 Z" fill="#2840c0" opacity="0.95" filter="url(#b4)"/>
<circle cx="1440" cy="385" r="9" fill="#7010c8" opacity="0.8"/>
<path d="M1523 418 L1533 460 L1437 460 Z" fill="#3aa8d0" opacity="0.7" filter="url(#b8)"/>
<path d="M1526 428 L1531 451 L1460 455 Z" fill="#2840c0" opacity="0.95" filter="url(#b4)"/>
<circle cx="1525" cy="440" r="10" fill="#7010c8" opacity="0.8"/>
<path d="M1554 619 L1556 691 L1268 662 Z" fill="#3aa8d0" opacity="0.7" filter="url(#b8)"/>
<path d="M1555 635 L1556 675 L1340 660 Z" fill="#2840c0" opacity="0.95" filter="url(#b4)"/>
<circle cx="1545" cy="655" r="16" fill="#7010c8" opacity="0.8"/>
<path d="M1657 750 L1673 828 L1525 817 Z" fill="#3aa8d0" opacity="0.7" filter="url(#b8)"/>
<path d="M1661 767 L1669 811 L1560 810 Z" fill="#2840c0" opacity="0.95" filter="url(#b4)"/>
<circle cx="1660" cy="790" r="18" fill="#7010c8" opacity="0.8"/>
<path d="M1711 965 L1702 1037 L1524 980 Z" fill="#3aa8d0" opacity="0.7" filter="url(#b8)"/>
<path d="M1709 981 L1704 1021 L1570 985 Z" fill="#2840c0" opacity="0.95" filter="url(#b4)"/>
<circle cx="1700" cy="1000" r="16" fill="#7010c8" opacity="0.8"/>
<path d="M1614 1190 L1554 1257 L1472 1126 Z" fill="#3aa8d0" opacity="0.7" filter="url(#b8)"/>
<path d="M1600 1205 L1568 1242 L1500 1150 Z" fill="#2840c0" opacity="0.95" filter="url(#b4)"/>
<circle cx="1580" cy="1220" r="20" fill="#7010c8" opacity="0.8"/>
<path d="M1509 1366 L1476 1399 L1422 1312 Z" fill="#3aa8d0" opacity="0.7" filter="url(#b8)"/>
<path d="M1502 1373 L1483 1392 L1440 1330 Z" fill="#2840c0" opacity="0.95" filter="url(#b4)"/>
<circle cx="1490" cy="1380" r="10" fill="#7010c8" opacity="0.8"/>
<path d="M1352 1524 L1308 1524 L1330 1398 Z" fill="#3aa8d0" opacity="0.7" filter="url(#b8)"/>
<path d="M1342 1524 L1318 1524 L1330 1430 Z" fill="#2840c0" opacity="0.95" filter="url(#b4)"/>
<circle cx="1330" cy="1520" r="10" fill="#7010c8" opacity="0.8"/>
<path d="M1251 1524 L1191 1535 L1200 1410 Z" fill="#3aa8d0" opacity="0.7" filter="url(#b8)"/>
<path d="M1237 1526 L1204 1532 L1205 1440 Z" fill="#2840c0" opacity="0.95" filter="url(#b4)"/>
<circle cx="1220" cy="1525" r="14" fill="#7010c8" opacity="0.8"/>
<path d="M1030 1363 L1025 1338 L1098 1336 Z" fill="#3aa8d0" opacity="0.7" filter="url(#b8)"/>
<path d="M1029 1357 L1026 1344 L1080 1340 Z" fill="#2840c0" opacity="0.95" filter="url(#b4)"/>
<circle cx="1030" cy="1350" r="6" fill="#7010c8" opacity="0.8"/>
<path d="M360 955 L422 936 L430 1072 Z" fill="#3aa8d0" opacity="0.7" filter="url(#b8)"/>
<path d="M373 951 L408 940 L420 1040 Z" fill="#2840c0" opacity="0.95" filter="url(#b4)"/>
<circle cx="392" cy="950" r="14" fill="#7010c8" opacity="0.8"/>
<path d="M386 1055 L393 984 L537 1034 Z" fill="#3aa8d0" opacity="0.7" filter="url(#b8)"/>
<path d="M388 1039 L392 1000 L500 1030 Z" fill="#2840c0" opacity="0.95" filter="url(#b4)"/>
<circle cx="395" cy="1020" r="16" fill="#7010c8" opacity="0.8"/>
<path d="M330 868 L295 837 L376 782 Z" fill="#3aa8d0" opacity="0.7" filter="url(#b8)"/>
<path d="M322 861 L303 844 L360 800 Z" fill="#2840c0" opacity="0.95" filter="url(#b4)"/>
<circle cx="315" cy="850" r="10" fill="#7010c8" opacity="0.8"/>
<path d="M480 1237 L455 1207 L538 1166 Z" fill="#3aa8d0" opacity="0.7" filter="url(#b8)"/>
<path d="M474 1231 L461 1213 L520 1180 Z" fill="#2840c0" opacity="0.95" filter="url(#b4)"/>
<circle cx="470" cy="1220" r="9" fill="#7010c8" opacity="0.8"/>
<path d="M582 1266 L555 1248 L610 1194 Z" fill="#3aa8d0" opacity="0.7" filter="url(#b8)"/>
<path d="M576 1262 L561 1252 L600 1210 Z" fill="#2840c0" opacity="0.95" filter="url(#b4)"/>
<circle cx="570" cy="1255" r="7" fill="#7010c8" opacity="0.8"/>
<path d="M163 524 L210 470 L284 581 Z" fill="#3aa8d0" opacity="0.7" filter="url(#b8)"/>
<path d="M173 512 L200 482 L260 560 Z" fill="#2840c0" opacity="0.95" filter="url(#b4)"/>
<circle cx="190" cy="500" r="16" fill="#7010c8" opacity="0.8"/>
<path d="M313 658 L355 637 L369 718 Z" fill="#3aa8d0" opacity="0.7" filter="url(#b8)"/>
<path d="M322 653 L345 642 L360 700 Z" fill="#2840c0" opacity="0.95" filter="url(#b4)"/>
<circle cx="335" cy="650" r="10" fill="#7010c8" opacity="0.8"/>
<path d="M1698 1063 L1691 1099 L1568 1053 Z" fill="#3aa8d0" opacity="0.7" filter="url(#b8)"/>
<path d="M1697 1071 L1692 1091 L1600 1060 Z" fill="#2840c0" opacity="0.95" filter="url(#b4)"/>
<circle cx="1690" cy="1080" r="8" fill="#7010c8" opacity="0.8"/>
<path d="M1626 1163 L1620 1198 L1539 1166 Z" fill="#3aa8d0" opacity="0.7" filter="url(#b8)"/>
<path d="M1625 1171 L1621 1190 L1560 1170 Z" fill="#2840c0" opacity="0.95" filter="url(#b4)"/>
<circle cx="1620" cy="1180" r="8" fill="#7010c8" opacity="0.8"/>
<path d="M1395 1501 L1366 1505 L1366 1419 Z" fill="#3aa8d0" opacity="0.7" filter="url(#b8)"/>
<path d="M1388 1502 L1373 1504 L1370 1440 Z" fill="#2840c0" opacity="0.95" filter="url(#b4)"/>
<circle cx="1380" cy="1500" r="6" fill="#7010c8" opacity="0.8"/>
<path d="M430 630 L500 612 L572 600 L600 660 L640 700 L682 738 L655 770 L600 800 L540 830 L470 850 L438 842 L478 800 L430 782 L400 762 L420 722 L450 700 L440 660 Z" fill="url(#gRonne)"/>
<path d="M605 572 L650 560 L700 598 L712 640 L680 652 L640 630 L612 602 Z" fill="#a800b4"/>
<path d="M600 650 L690 730" fill="none" stroke="#2030c8" stroke-width="22" stroke-linecap="round" opacity="0.85"/>
<path d="M540 760 L600 800 L660 760" fill="none" stroke="#2030c8" stroke-width="18" stroke-linecap="round" opacity="0.85"/>
<path d="M470 800 L420 770" fill="none" stroke="#2030c8" stroke-width="10" stroke-linecap="round" opacity="0.85"/>
<path d="M700 600 L760 560 L830 520" fill="none" stroke="#2030c8" stroke-width="14" stroke-linecap="round" opacity="0.85"/>
<path d="M690 640 L780 600 L850 590" fill="none" stroke="#2030c8" stroke-width="12" stroke-linecap="round" opacity="0.85"/>
<path d="M720 660 L760 700" fill="none" stroke="#2030c8" stroke-width="10" stroke-linecap="round" opacity="0.85"/>
<path d="M640 1130 L700 1140 L800 1118 L950 1118 L1008 1165 L992 1250 L962 1298 L900 1302 L830 1292 L782 1252 L742 1258 L722 1205 L652 1162 Z" fill="url(#gRoss)"/>
<path d="M640 1140 L720 1180 L770 1230" fill="none" stroke="#2030c8" stroke-width="20" stroke-linecap="round" opacity="0.85"/>
<path d="M660 1070 L720 1150" fill="none" stroke="#2030c8" stroke-width="12" stroke-linecap="round" opacity="0.85"/>
<path d="M720 1200 L740 1250" fill="none" stroke="#2030c8" stroke-width="10" stroke-linecap="round" opacity="0.85"/>
<path d="M144 482 L165 477 L184 490 L254 530 L248 557 L211 549 L162 506 Z" fill="#7a10c8" opacity="0.9"/>
<path d="M650 385 L680 380 L722 410 L700 432 L662 442 Z" fill="#b800a8"/>
<path d="M862 186 L884 184 L880 250 L866 262 Z" fill="#b000b0"/>
<path d="M1360 655 L1480 645 L1575 635 L1580 680 L1480 670 L1380 668 Z" fill="url(#gAmery)"/>
<path d="M830 262 L900 268 L980 262 L1060 252 L1140 292 L1210 305 L1260 330" fill="none" stroke="#777" stroke-width="34" stroke-linecap="round" filter="url(#speck)" opacity="0.6"/>
<path d="M105 400 L140 480 L210 540 L290 585 L370 630 L420 660" fill="none" stroke="#777" stroke-width="55" stroke-linecap="round" filter="url(#speck)" opacity="0.6"/>
<path d="M300 760 L320 860 L300 940 L330 1000" fill="none" stroke="#777" stroke-width="30" stroke-linecap="round" filter="url(#speck)" opacity="0.6"/>
<path d="M420 1185 L500 1232 L600 1262 L700 1272" fill="none" stroke="#777" stroke-width="34" stroke-linecap="round" filter="url(#speck)" opacity="0.6"/>
<path d="M1360 615 L1440 612 L1520 625" fill="none" stroke="#777" stroke-width="26" stroke-linecap="round" filter="url(#speck)" opacity="0.6"/>
<path d="M1380 700 L1450 705 L1520 690" fill="none" stroke="#777" stroke-width="22" stroke-linecap="round" filter="url(#speck)" opacity="0.6"/>
<path d="M1000 1300 L1010 1400 L1000 1470 L1030 1520" fill="none" stroke="#777" stroke-width="50" stroke-linecap="round" filter="url(#speck)" opacity="0.6"/>
</g>
<path d="M1795 991 L1807 1036 L1817 1082 L1824 1128 L1109 1215 L1109 1211 L1108 1206 L1107 1202 Z" fill="#b3b3b3"/>
<path d="M1749 874 L1761 900 L1772 925 L1308 1113 L1304 1103 L1300 1093 Z" fill="#b3b3b3"/>
<path d="M1360 1000 L1700 930 L1720 1090 L1420 1110 Z" fill="#b3b3b3"/>
<path d="M1026 173 L1049 179 L1073 185 L983 500 L970 497 L957 494 Z" fill="#b3b3b3"/>
<path d="M1209 240 L1225 249 L1241 258 L1072 539 L1063 534 L1055 530 Z" fill="#b3b3b3"/>
<path d="M1573 458 L1580 470 L1586 482 L1208 683 L1205 678 L1202 672 Z" fill="#b3b3b3"/>
<path d="M1672 969 L1670 983 L1668 997 L1246 923 L1247 916 L1248 910 Z" fill="#b3b3b3"/>
<path d="M781 -87 L807 -89 L851 487 L841 488 Z" fill="#b3b3b3" opacity="0.7"/>
<path d="M897 -92 L923 -91 L897 486 L886 486 Z" fill="#b3b3b3" opacity="0.7"/>
<path d="M1012 -83 L1038 -79 L942 491 L932 490 Z" fill="#b3b3b3" opacity="0.7"/>
<path d="M1126 -60 L1151 -52 L986 502 L976 499 Z" fill="#b3b3b3" opacity="0.7"/>
<path d="M1236 -23 L1260 -13 L1029 517 L1019 513 Z" fill="#b3b3b3" opacity="0.7"/>
<path d="M1341 27 L1364 40 L1069 538 L1060 533 Z" fill="#b3b3b3" opacity="0.7"/>
<path d="M1438 89 L1460 105 L1107 563 L1099 557 Z" fill="#b3b3b3" opacity="0.7"/>
<path d="M1528 163 L1547 182 L1141 593 L1134 586 Z" fill="#b3b3b3" opacity="0.7"/>
<path d="M1608 247 L1625 268 L1172 627 L1165 619 Z" fill="#b3b3b3" opacity="0.7"/>
<path d="M1677 341 L1691 363 L1198 664 L1192 655 Z" fill="#b3b3b3" opacity="0.7"/>
<path d="M1734 442 L1745 466 L1219 704 L1214 695 Z" fill="#b3b3b3" opacity="0.7"/>
<path d="M1778 549 L1787 574 L1235 747 L1232 737 Z" fill="#b3b3b3" opacity="0.7"/>
<path d="M1809 660 L1814 687 L1246 791 L1244 781 Z" fill="#b3b3b3" opacity="0.7"/>
<path d="M1826 775 L1828 802 L1251 836 L1251 826 Z" fill="#b3b3b3" opacity="0.7"/>
<path d="M1829 891 L1828 918 L1251 881 L1252 871 Z" fill="#b3b3b3" opacity="0.7"/>
<path d="M1818 1007 L1814 1033 L1246 926 L1247 916 Z" fill="#b3b3b3" opacity="0.7"/>
<path d="M1793 1120 L1786 1145 L1235 970 L1238 961 Z" fill="#b3b3b3" opacity="0.7"/>
<path d="M1754 1229 L1744 1253 L1218 1013 L1222 1003 Z" fill="#b3b3b3" opacity="0.7"/>
<path d="M1703 1333 L1689 1356 L1197 1053 L1202 1044 Z" fill="#b3b3b3" opacity="0.7"/>
<path d="M1639 1430 L1622 1451 L1171 1090 L1177 1082 Z" fill="#b3b3b3" opacity="0.7"/>
<path d="M1563 1518 L1545 1537 L1140 1124 L1148 1116 Z" fill="#b3b3b3" opacity="0.7"/>
<path d="M1478 1596 L1457 1613 L1106 1154 L1114 1147 Z" fill="#b3b3b3" opacity="0.7"/>
<path d="M1383 1664 L1361 1677 L1068 1179 L1077 1173 Z" fill="#b3b3b3" opacity="0.7"/>
<path d="M1281 1719 L1257 1730 L1028 1199 L1037 1195 Z" fill="#b3b3b3" opacity="0.7"/>
<path d="M830 262 L900 268 L980 262 L1060 252 L1140 292 L1210 305 L1260 330" fill="none" stroke="#777" stroke-width="34" stroke-linecap="round" filter="url(#speck)" opacity="0.6"/>
<path d="M105 400 L140 480 L210 540 L290 585 L370 630 L420 660" fill="none" stroke="#777" stroke-width="55" stroke-linecap="round" filter="url(#speck)" opacity="0.6"/>
<path d="M300 760 L320 860 L300 940 L330 1000" fill="none" stroke="#777" stroke-width="30" stroke-linecap="round" filter="url(#speck)" opacity="0.6"/>
<path d="M420 1185 L500 1232 L600 1262 L700 1272" fill="none" stroke="#777" stroke-width="34" stroke-linecap="round" filter="url(#speck)" opacity="0.6"/>
<path d="M1360 615 L1440 612 L1520 625" fill="none" stroke="#777" stroke-width="26" stroke-linecap="round" filter="url(#speck)" opacity="0.6"/>
<path d="M1380 700 L1450 705 L1520 690" fill="none" stroke="#777" stroke-width="22" stroke-linecap="round" filter="url(#speck)" opacity="0.6"/>
<path d="M1000 1300 L1010 1400 L1000 1470 L1030 1520" fill="none" stroke="#777" stroke-width="50" stroke-linecap="round" filter="url(#speck)" opacity="0.6"/>
<path d="M680 715 L740 790 L800 880 L860 960 L930 1050 L985 1120 L1010 1180 L1005 1260 L1015 1330 L1000 1400 L1010 1480" fill="none" stroke="#777" stroke-width="64" filter="url(#speck)" opacity="0.75"/>
</g></g>
<g transform="translate(1302.60,1033.00) scale(0.42362)">
<g clip-path="url(#cc)">
<path d="M103 379 L117 381 L131 442 L140 479 L169 479 L206 494 L244 517 L262 545 L281 545 L319 564 L356 578 L384 601 L412 616 L431 630 L474 611 L525 604 L572 604 L581 592 L605 583 L642 559 L652 531 L647 508 L656 470 L666 447 L647 386 L685 376 L685 320 L713 296 L732 273 L769 226 L807 212 L863 184 L886 179 L901 189 L927 199 L991 201 L1041 201 L1066 199 L1101 216 L1125 231 L1155 261 L1224 263 L1264 266 L1294 280 L1304 315 L1324 335 L1343 325 L1373 328 L1423 340 L1448 350 L1473 360 L1502 365 L1542 380 L1557 410 L1562 439 L1552 479 L1562 519 L1572 548 L1582 578 L1592 608 L1572 633 L1582 662 L1567 682 L1572 712 L1596 732 L1621 757 L1651 772 L1671 796 L1691 826 L1681 851 L1676 886 L1686 915 L1681 945 L1715 960 L1730 975 L1720 984 L1710 1004 L1710 1038 L1701 1068 L1671 1093 L1651 1123 L1636 1163 L1646 1192 L1606 1222 L1587 1242 L1572 1262 L1562 1301 L1532 1321 L1522 1351 L1497 1381 L1502 1410 L1473 1440 L1438 1460 L1398 1485 L1348 1500 L1324 1540 L1314 1510 L1284 1510 L1234 1520 L1200 1540 L1150 1534 L1086 1515 L1026 1515 L986 1495 L986 1440 L1006 1410 L1016 1376 L1026 1351 L1016 1321 L1001 1301 L981 1291 L952 1296 L948 1300 L896 1296 L862 1283 L810 1270 L780 1249 L763 1253 L729 1262 L716 1283 L665 1274 L622 1287 L579 1274 L544 1257 L493 1232 L450 1210 L428 1219 L420 1197 L403 1172 L394 1137 L386 1112 L381 1077 L381 1060 L390 1043 L381 1026 L386 1013 L381 983 L364 987 L343 1000 L321 1013 L291 1013 L278 1000 L270 974 L266 944 L270 931 L287 919 L291 897 L290 874 L300 845 L323 817 L314 789 L290 766 L295 747 L272 719 L248 724 L215 700 L201 667 L197 639 L215 616 L192 601 L154 573 L135 545 L112 498 L110 442 L100 404 Z" fill="#b3b3b3"/>
<path d="M103 379 L117 381 L131 442 L140 479 L169 479 L206 494 L244 517 L262 545 L281 545 L319 564 L356 578 L384 601 L412 616 L431 630 L474 611 L525 604 L572 604 L581 592 L605 583 L642 559 L652 531 L647 508 L656 470 L666 447 L647 386 L685 376 L685 320 L713 296 L732 273 L769 226 L807 212 L863 184 L886 179 L901 189 L927 199 L991 201 L1041 201 L1066 199 L1101 216 L1125 231 L1155 261 L1224 263 L1264 266 L1294 280 L1304 315 L1324 335 L1343 325 L1373 328 L1423 340 L1448 350 L1473 360 L1502 365 L1542 380 L1557 410 L1562 439 L1552 479 L1562 519 L1572 548 L1582 578 L1592 608 L1572 633 L1582 662 L1567 682 L1572 712 L1596 732 L1621 757 L1651 772 L1671 796 L1691 826 L1681 851 L1676 886 L1686 915 L1681 945 L1715 960 L1730 975 L1720 984 L1710 1004 L1710 1038 L1701 1068 L1671 1093 L1651 1123 L1636 1163 L1646 1192 L1606 1222 L1587 1242 L1572 1262 L1562 1301 L1532 1321 L1522 1351 L1497 1381 L1502 1410 L1473 1440 L1438 1460 L1398 1485 L1348 1500 L1324 1540 L1314 1510 L1284 1510 L1234 1520 L1200 1540 L1150 1534 L1086 1515 L1026 1515 L986 1495 L986 1440 L1006 1410 L1016 1376 L1026 1351 L1016 1321 L1001 1301 L981 1291 L952 1296 L948 1300 L896 1296 L862 1283 L810 1270 L780 1249 L763 1253 L729 1262 L716 1283 L665 1274 L622 1287 L579 1274 L544 1257 L493 1232 L450 1210 L428 1219 L420 1197 L403 1172 L394 1137 L386 1112 L381 1077 L381 1060 L390 1043 L381 1026 L386 1013 L381 983 L364 987 L343 1000 L321 1013 L291 1013 L278 1000 L270 974 L266 944 L270 931 L287 919 L291 897 L290 874 L300 845 L323 817 L314 789 L290 766 L295 747 L272 719 L248 724 L215 700 L201 667 L197 639 L215 616 L192 601 L154 573 L135 545 L112 498 L110 442 L100 404 Z" fill="#000" filter="url(#noise)" opacity="0.2"/>
<g clip-path="url(#covE)">
<path d="M103 379 L117 381 L131 442 L140 479 L169 479 L206 494 L244 517 L262 545 L281 545 L319 564 L356 578 L384 601 L412 616 L431 630 L474 611 L525 604 L572 604 L581 592 L605 583 L642 559 L652 531 L647 508 L656 470 L666 447 L647 386 L685 376 L685 320 L713 296 L732 273 L769 226 L807 212 L863 184 L886 179 L901 189 L927 199 L991 201 L1041 201 L1066 199 L1101 216 L1125 231 L1155 261 L1224 263 L1264 266 L1294 280 L1304 315 L1324 335 L1343 325 L1373 328 L1423 340 L1448 350 L1473 360 L1502 365 L1542 380 L1557 410 L1562 439 L1552 479 L1562 519 L1572 548 L1582 578 L1592 608 L1572 633 L1582 662 L1567 682 L1572 712 L1596 732 L1621 757 L1651 772 L1671 796 L1691 826 L1681 851 L1676 886 L1686 915 L1681 945 L1715 960 L1730 975 L1720 984 L1710 1004 L1710 1038 L1701 1068 L1671 1093 L1651 1123 L1636 1163 L1646 1192 L1606 1222 L1587 1242 L1572 1262 L1562 1301 L1532 1321 L1522 1351 L1497 1381 L1502 1410 L1473 1440 L1438 1460 L1398 1485 L1348 1500 L1324 1540 L1314 1510 L1284 1510 L1234 1520 L1200 1540 L1150 1534 L1086 1515 L1026 1515 L986 1495 L986 1440 L1006 1410 L1016 1376 L1026 1351 L1016 1321 L1001 1301 L981 1291 L952 1296 L948 1300 L896 1296 L862 1283 L810 1270 L780 1249 L763 1253 L729 1262 L716 1283 L665 1274 L622 1287 L579 1274 L544 1257 L493 1232 L450 1210 L428 1219 L420 1197 L403 1172 L394 1137 L386 1112 L381 1077 L381 1060 L390 1043 L381 1026 L386 1013 L381 983 L364 987 L343 1000 L321 1013 L291 1013 L278 1000 L270 974 L266 944 L270 931 L287 919 L291 897 L290 874 L300 845 L323 817 L314 789 L290 766 L295 747 L272 719 L248 724 L215 700 L201 667 L197 639 L215 616 L192 601 L154 573 L135 545 L112 498 L110 442 L100 404 Z" fill="#b3ad73"/>
<g filter="url(#b25)" fill="#b09070" opacity="0.8">
<ellipse cx="560" cy="980" rx="110" ry="90" transform="rotate(0 560 980)"/>
</g>
<g filter="url(#b25)" fill="#b47878" opacity="1.0">
<path d="M830 330 L1000 310 L1150 330 L1280 400 L1420 470 L1520 520 L1520 560 L1130 560 L1100 620 L1130 740 L1300 730 L1510 750 L1560 850 L1540 1000 L1470 1150 L1460 1320 L1400 1440 L1280 1460 L1170 1400 L1110 1280 L1100 1150 L1130 1050 L1140 950 L1120 800 L1060 680 L1000 580 L900 480 L850 400 Z"/>
</g>
<g filter="url(#b40)" fill="#7ebe70" opacity="0.8">
<ellipse cx="850" cy="560" rx="140" ry="70" transform="rotate(-25 850 560)"/>
<ellipse cx="1060" cy="1150" rx="60" ry="110" transform="rotate(0 1060 1150)"/>
<ellipse cx="1530" cy="1150" rx="70" ry="140" transform="rotate(0 1530 1150)"/>
</g>
<g filter="url(#b25)" fill="#7ebe70" opacity="0.85">
<path d="M1130 575 L1530 575 L1540 720 L1140 725 Z"/>
</g>
<path d="M103 379 L117 381 L131 442 L140 479 L169 479 L206 494 L244 517 L262 545 L281 545 L319 564 L356 578 L384 601 L412 616 L431 630 L474 611 L525 604 L572 604 L581 592 L605 583 L642 559 L652 531 L647 508 L656 470 L666 447 L647 386 L685 376 L685 320 L713 296 L732 273 L769 226 L807 212 L863 184 L886 179 L901 189 L927 199 L991 201 L1041 201 L1066 199 L1101 216 L1125 231 L1155 261 L1224 263 L1264 266 L1294 280 L1304 315 L1324 335 L1343 325 L1373 328 L1423 340 L1448 350 L1473 360 L1502 365 L1542 380 L1557 410 L1562 439 L1552 479 L1562 519 L1572 548 L1582 578 L1592 608 L1572 633 L1582 662 L1567 682 L1572 712 L1596 732 L1621 757 L1651 772 L1671 796 L1691 826 L1681 851 L1676 886 L1686 915 L1681 945 L1715 960 L1730 975 L1720 984 L1710 1004 L1710 1038 L1701 1068 L1671 1093 L1651 1123 L1636 1163 L1646 1192 L1606 1222 L1587 1242 L1572 1262 L1562 1301 L1532 1321 L1522 1351 L1497 1381 L1502 1410 L1473 1440 L1438 1460 L1398 1485 L1348 1500 L1324 1540 L1314 1510 L1284 1510 L1234 1520 L1200 1540 L1150 1534 L1086 1515 L1026 1515 L986 1495 L986 1440 L1006 1410 L1016 1376 L1026 1351 L1016 1321 L1001 1301 L981 1291 L952 1296 L948 1300 L896 1296 L862 1283 L810 1270 L780 1249 L763 1253 L729 1262 L716 1283 L665 1274 L622 1287 L579 1274 L544 1257 L493 1232 L450 1210 L428 1219 L420 1197 L403 1172 L394 1137 L386 1112 L381 1077 L381 1060 L390 1043 L381 1026 L386 1013 L381 983 L364 987 L343 1000 L321 1013 L291 1013 L278 1000 L270 974 L266 944 L270 931 L287 919 L291 897 L290 874 L300 845 L323 817 L314 789 L290 766 L295 747 L272 719 L248 724 L215 700 L201 667 L197 639 L215 616 L192 601 L154 573 L135 545 L112 498 L110 442 L100 404 Z" fill="none" stroke="#7ebe70" stroke-width="240" filter="url(#b25)"/>
<path d="M103 379 L117 381 L131 442 L140 479 L169 479 L206 494 L244 517 L262 545 L281 545 L319 564 L356 578 L384 601 L412 616 L431 630 L474 611 L525 604 L572 604 L581 592 L605 583 L642 559 L652 531 L647 508 L656 470 L666 447 L647 386 L685 376 L685 320 L713 296 L732 273 L769 226 L807 212 L863 184 L886 179 L901 189 L927 199 L991 201 L1041 201 L1066 199 L1101 216 L1125 231 L1155 261 L1224 263 L1264 266 L1294 280 L1304 315 L1324 335 L1343 325 L1373 328 L1423 340 L1448 350 L1473 360 L1502 365 L1542 380 L1557 410 L1562 439 L1552 479 L1562 519 L1572 548 L1582 578 L1592 608 L1572 633 L1582 662 L1567 682 L1572 712 L1596 732 L1621 757 L1651 772 L1671 796 L1691 826 L1681 851 L1676 886 L1686 915 L1681 945 L1715 960 L1730 975 L1720 984 L1710 1004 L1710 1038 L1701 1068 L1671 1093 L1651 1123 L1636 1163 L1646 1192 L1606 1222 L1587 1242 L1572 1262 L1562 1301 L1532 1321 L1522 1351 L1497 1381 L1502 1410 L1473 1440 L1438 1460 L1398 1485 L1348 1500 L1324 1540 L1314 1510 L1284 1510 L1234 1520 L1200 1540 L1150 1534 L1086 1515 L1026 1515 L986 1495 L986 1440 L1006 1410 L1016 1376 L1026 1351 L1016 1321 L1001 1301 L981 1291 L952 1296 L948 1300 L896 1296 L862 1283 L810 1270 L780 1249 L763 1253 L729 1262 L716 1283 L665 1274 L622 1287 L579 1274 L544 1257 L493 1232 L450 1210 L428 1219 L420 1197 L403 1172 L394 1137 L386 1112 L381 1077 L381 1060 L390 1043 L381 1026 L386 1013 L381 983 L364 987 L343 1000 L321 1013 L291 1013 L278 1000 L270 974 L266 944 L270 931 L287 919 L291 897 L290 874 L300 845 L323 817 L314 789 L290 766 L295 747 L272 719 L248 724 L215 700 L201 667 L197 639 L215 616 L192 601 L154 573 L135 545 L112 498 L110 442 L100 404 Z" fill="none" stroke="#52b5b0" stroke-width="70" filter="url(#b8)" opacity="0.9"/>
<path d="M103 379 L117 381 L131 442 L140 479 L169 479 L206 494 L244 517 L262 545 L281 545 L319 564 L356 578 L384 601 L412 616 L431 630 L474 611 L525 604 L572 604 L581 592 L605 583 L642 559 L652 531 L647 508 L656 470 L666 447 L647 386 L685 376 L685 320 L713 296 L732 273 L769 226 L807 212 L863 184 L886 179 L901 189 L927 199 L991 201 L1041 201 L1066 199 L1101 216 L1125 231 L1155 261 L1224 263 L1264 266 L1294 280 L1304 315 L1324 335 L1343 325 L1373 328 L1423 340 L1448 350 L1473 360 L1502 365 L1542 380 L1557 410 L1562 439 L1552 479 L1562 519 L1572 548 L1582 578 L1592 608 L1572 633 L1582 662 L1567 682 L1572 712 L1596 732 L1621 757 L1651 772 L1671 796 L1691 826 L1681 851 L1676 886 L1686 915 L1681 945 L1715 960 L1730 975 L1720 984 L1710 1004 L1710 1038 L1701 1068 L1671 1093 L1651 1123 L1636 1163 L1646 1192 L1606 1222 L1587 1242 L1572 1262 L1562 1301 L1532 1321 L1522 1351 L1497 1381 L1502 1410 L1473 1440 L1438 1460 L1398 1485 L1348 1500 L1324 1540 L1314 1510 L1284 1510 L1234 1520 L1200 1540 L1150 1534 L1086 1515 L1026 1515 L986 1495 L986 1440 L1006 1410 L1016 1376 L1026 1351 L1016 1321 L1001 1301 L981 1291 L952 1296 L948 1300 L896 1296 L862 1283 L810 1270 L780 1249 L763 1253 L729 1262 L716 1283 L665 1274 L622 1287 L579 1274 L544 1257 L493 1232 L450 1210 L428 1219 L420 1197 L403 1172 L394 1137 L386 1112 L381 1077 L381 1060 L390 1043 L381 1026 L386 1013 L381 983 L364 987 L343 1000 L321 1013 L291 1013 L278 1000 L270 974 L266 944 L270 931 L287 919 L291 897 L290 874 L300 845 L323 817 L314 789 L290 766 L295 747 L272 719 L248 724 L215 700 L201 667 L197 639 L215 616 L192 601 L154 573 L135 545 L112 498 L110 442 L100 404 Z" fill="none" stroke="#3050b8" stroke-width="7" stroke-dasharray="10 26" opacity="0.8"/>
<path d="M103 379 L117 381 L131 442 L140 479 L169 479 L206 494 L244 517 L262 545 L281 545 L319 564 L356 578 L384 601 L412 616 L431 630 L474 611 L525 604 L572 604 L581 592 L605 583 L642 559 L652 531 L647 508 L656 470 L666 447 L647 386 L685 376 L685 320 L713 296 L732 273 L769 226 L807 212 L863 184 L886 179 L901 189 L927 199 L991 201 L1041 201 L1066 199 L1101 216 L1125 231 L1155 261 L1224 263 L1264 266 L1294 280 L1304 315 L1324 335 L1343 325 L1373 328 L1423 340 L1448 350 L1473 360 L1502 365 L1542 380 L1557 410 L1562 439 L1552 479 L1562 519 L1572 548 L1582 578 L1592 608 L1572 633 L1582 662 L1567 682 L1572 712 L1596 732 L1621 757 L1651 772 L1671 796 L1691 826 L1681 851 L1676 886 L1686 915 L1681 945 L1715 960 L1730 975 L1720 984 L1710 1004 L1710 1038 L1701 1068 L1671 1093 L1651 1123 L1636 1163 L1646 1192 L1606 1222 L1587 1242 L1572 1262 L1562 1301 L1532 1321 L1522 1351 L1497 1381 L1502 1410 L1473 1440 L1438 1460 L1398 1485 L1348 1500 L1324 1540 L1314 1510 L1284 1510 L1234 1520 L1200 1540 L1150 1534 L1086 1515 L1026 1515 L986 1495 L986 1440 L1006 1410 L1016 1376 L1026 1351 L1016 1321 L1001 1301 L981 1291 L952 1296 L948 1300 L896 1296 L862 1283 L810 1270 L780 1249 L763 1253 L729 1262 L716 1283 L665 1274 L622 1287 L579 1274 L544 1257 L493 1232 L450 1210 L428 1219 L420 1197 L403 1172 L394 1137 L386 1112 L381 1077 L381 1060 L390 1043 L381 1026 L386 1013 L381 983 L364 987 L343 1000 L321 1013 L291 1013 L278 1000 L270 974 L266 944 L270 931 L287 919 L291 897 L290 874 L300 845 L323 817 L314 789 L290 766 L295 747 L272 719 L248 724 L215 700 L201 667 L197 639 L215 616 L192 601 L154 573 L135 545 L112 498 L110 442 L100 404 Z" fill="none" stroke="#1a1a1a" stroke-width="3" stroke-dasharray="3 9" opacity="0.5"/>
<path d="M849 184 L895 184 L872 338 Z" fill="#3aa8d0" opacity="0.7" filter="url(#b8)"/>
<path d="M859 184 L885 184 L872 300 Z" fill="#2840c0" opacity="0.95" filter="url(#b4)"/>
<circle cx="872" cy="190" r="10" fill="#7010c8" opacity="0.8"/>
<path d="M1094 218 L1149 244 L1073 336 Z" fill="#3aa8d0" opacity="0.7" filter="url(#b8)"/>
<path d="M1106 224 L1137 238 L1085 310 Z" fill="#2840c0" opacity="0.95" filter="url(#b4)"/>
<circle cx="1120" cy="235" r="14" fill="#7010c8" opacity="0.8"/>
<path d="M1159 265 L1203 279 L1153 363 Z" fill="#3aa8d0" opacity="0.7" filter="url(#b8)"/>
<path d="M1169 268 L1193 276 L1160 340 Z" fill="#2840c0" opacity="0.95" filter="url(#b4)"/>
<circle cx="1180" cy="275" r="10" fill="#7010c8" opacity="0.8"/>
<path d="M681 376 L712 291 L794 369 Z" fill="#3aa8d0" opacity="0.7" filter="url(#b8)"/>
<path d="M688 357 L705 310 L770 360 Z" fill="#2840c0" opacity="0.95" filter="url(#b4)"/>
<circle cx="700" cy="335" r="20" fill="#7010c8" opacity="0.8"/>
<path d="M1277 293 L1324 300 L1286 394 Z" fill="#3aa8d0" opacity="0.7" filter="url(#b8)"/>
<path d="M1288 295 L1313 298 L1290 370 Z" fill="#2840c0" opacity="0.95" filter="url(#b4)"/>
<circle cx="1300" cy="300" r="10" fill="#7010c8" opacity="0.8"/>
<path d="M1427 370 L1457 396 L1386 446 Z" fill="#3aa8d0" opacity="0.7" filter="url(#b8)"/>
<path d="M1434 375 L1450 390 L1400 430 Z" fill="#2840c0" opacity="0.95" filter="url(#b4)"/>
<circle cx="1440" cy="385" r="9" fill="#7010c8" opacity="0.8"/>
<path d="M1523 418 L1533 460 L1437 460 Z" fill="#3aa8d0" opacity="0.7" filter="url(#b8)"/>
<path d="M1526 428 L1531 451 L1460 455 Z" fill="#2840c0" opacity="0.95" filter="url(#b4)"/>
<circle cx="1525" cy="440" r="10" fill="#7010c8" opacity="0.8"/>
<path d="M1554 619 L1556 691 L1268 662 Z" fill="#3aa8d0" opacity="0.7" filter="url(#b8)"/>
<path d="M1555 635 L1556 675 L1340 660 Z" fill="#2840c0" opacity="0.95" filter="url(#b4)"/>
<circle cx="1545" cy="655" r="16" fill="#7010c8" opacity="0.8"/>
<path d="M1657 750 L1673 828 L1525 817 Z" fill="#3aa8d0" opacity="0.7" filter="url(#b8)"/>
<path d="M1661 767 L1669 811 L1560 810 Z" fill="#2840c0" opacity="0.95" filter="url(#b4)"/>
<circle cx="1660" cy="790" r="18" fill="#7010c8" opacity="0.8"/>
<path d="M1711 965 L1702 1037 L1524 980 Z" fill="#3aa8d0" opacity="0.7" filter="url(#b8)"/>
<path d="M1709 981 L1704 1021 L1570 985 Z" fill="#2840c0" opacity="0.95" filter="url(#b4)"/>
<circle cx="1700" cy="1000" r="16" fill="#7010c8" opacity="0.8"/>
<path d="M1614 1190 L1554 1257 L1472 1126 Z" fill="#3aa8d0" opacity="0.7" filter="url(#b8)"/>
<path d="M1600 1205 L1568 1242 L1500 1150 Z" fill="#2840c0" opacity="0.95" filter="url(#b4)"/>
<circle cx="1580" cy="1220" r="20" fill="#7010c8" opacity="0.8"/>
<path d="M1509 1366 L1476 1399 L1422 1312 Z" fill="#3aa8d0" opacity="0.7" filter="url(#b8)"/>
<path d="M1502 1373 L1483 1392 L1440 1330 Z" fill="#2840c0" opacity="0.95" filter="url(#b4)"/>
<circle cx="1490" cy="1380" r="10" fill="#7010c8" opacity="0.8"/>
<path d="M1352 1524 L1308 1524 L1330 1398 Z" fill="#3aa8d0" opacity="0.7" filter="url(#b8)"/>
<path d="M1342 1524 L1318 1524 L1330 1430 Z" fill="#2840c0" opacity="0.95" filter="url(#b4)"/>
<circle cx="1330" cy="1520" r="10" fill="#7010c8" opacity="0.8"/>
<path d="M1251 1524 L1191 1535 L1200 1410 Z" fill="#3aa8d0" opacity="0.7" filter="url(#b8)"/>
<path d="M1237 1526 L1204 1532 L1205 1440 Z" fill="#2840c0" opacity="0.95" filter="url(#b4)"/>
<circle cx="1220" cy="1525" r="14" fill="#7010c8" opacity="0.8"/>
<path d="M1030 1363 L1025 1338 L1098 1336 Z" fill="#3aa8d0" opacity="0.7" filter="url(#b8)"/>
<path d="M1029 1357 L1026 1344 L1080 1340 Z" fill="#2840c0" opacity="0.95" filter="url(#b4)"/>
<circle cx="1030" cy="1350" r="6" fill="#7010c8" opacity="0.8"/>
<path d="M360 955 L422 936 L430 1072 Z" fill="#3aa8d0" opacity="0.7" filter="url(#b8)"/>
<path d="M373 951 L408 940 L420 1040 Z" fill="#2840c0" opacity="0.95" filter="url(#b4)"/>
<circle cx="392" cy="950" r="14" fill="#7010c8" opacity="0.8"/>
<path d="M386 1055 L393 984 L537 1034 Z" fill="#3aa8d0" opacity="0.7" filter="url(#b8)"/>
<path d="M388 1039 L392 1000 L500 1030 Z" fill="#2840c0" opacity="0.95" filter="url(#b4)"/>
<circle cx="395" cy="1020" r="16" fill="#7010c8" opacity="0.8"/>
<path d="M330 868 L295 837 L376 782 Z" fill="#3aa8d0" opacity="0.7" filter="url(#b8)"/>
<path d="M322 861 L303 844 L360 800 Z" fill="#2840c0" opacity="0.95" filter="url(#b4)"/>
<circle cx="315" cy="850" r="10" fill="#7010c8" opacity="0.8"/>
<path d="M480 1237 L455 1207 L538 1166 Z" fill="#3aa8d0" opacity="0.7" filter="url(#b8)"/>
<path d="M474 1231 L461 1213 L520 1180 Z" fill="#2840c0" opacity="0.95" filter="url(#b4)"/>
<circle cx="470" cy="1220" r="9" fill="#7010c8" opacity="0.8"/>
<path d="M582 1266 L555 1248 L610 1194 Z" fill="#3aa8d0" opacity="0.7" filter="url(#b8)"/>
<path d="M576 1262 L561 1252 L600 1210 Z" fill="#2840c0" opacity="0.95" filter="url(#b4)"/>
<circle cx="570" cy="1255" r="7" fill="#7010c8" opacity="0.8"/>
<path d="M163 524 L210 470 L284 581 Z" fill="#3aa8d0" opacity="0.7" filter="url(#b8)"/>
<path d="M173 512 L200 482 L260 560 Z" fill="#2840c0" opacity="0.95" filter="url(#b4)"/>
<circle cx="190" cy="500" r="16" fill="#7010c8" opacity="0.8"/>
<path d="M313 658 L355 637 L369 718 Z" fill="#3aa8d0" opacity="0.7" filter="url(#b8)"/>
<path d="M322 653 L345 642 L360 700 Z" fill="#2840c0" opacity="0.95" filter="url(#b4)"/>
<circle cx="335" cy="650" r="10" fill="#7010c8" opacity="0.8"/>
<path d="M1698 1063 L1691 1099 L1568 1053 Z" fill="#3aa8d0" opacity="0.7" filter="url(#b8)"/>
<path d="M1697 1071 L1692 1091 L1600 1060 Z" fill="#2840c0" opacity="0.95" filter="url(#b4)"/>
<circle cx="1690" cy="1080" r="8" fill="#7010c8" opacity="0.8"/>
<path d="M1626 1163 L1620 1198 L1539 1166 Z" fill="#3aa8d0" opacity="0.7" filter="url(#b8)"/>
<path d="M1625 1171 L1621 1190 L1560 1170 Z" fill="#2840c0" opacity="0.95" filter="url(#b4)"/>
<circle cx="1620" cy="1180" r="8" fill="#7010c8" opacity="0.8"/>
<path d="M1395 1501 L1366 1505 L1366 1419 Z" fill="#3aa8d0" opacity="0.7" filter="url(#b8)"/>
<path d="M1388 1502 L1373 1504 L1370 1440 Z" fill="#2840c0" opacity="0.95" filter="url(#b4)"/>
<circle cx="1380" cy="1500" r="6" fill="#7010c8" opacity="0.8"/>
<path d="M430 630 L500 612 L572 600 L600 660 L640 700 L682 738 L655 770 L600 800 L540 830 L470 850 L438 842 L478 800 L430 782 L400 762 L420 722 L450 700 L440 660 Z" fill="url(#gRonne)"/>
<path d="M605 572 L650 560 L700 598 L712 640 L680 652 L640 630 L612 602 Z" fill="#a800b4"/>
<path d="M600 650 L690 730" fill="none" stroke="#2030c8" stroke-width="22" stroke-linecap="round" opacity="0.85"/>
<path d="M540 760 L600 800 L660 760" fill="none" stroke="#2030c8" stroke-width="18" stroke-linecap="round" opacity="0.85"/>
<path d="M470 800 L420 770" fill="none" stroke="#2030c8" stroke-width="10" stroke-linecap="round" opacity="0.85"/>
<path d="M700 600 L760 560 L830 520" fill="none" stroke="#2030c8" stroke-width="14" stroke-linecap="round" opacity="0.85"/>
<path d="M690 640 L780 600 L850 590" fill="none" stroke="#2030c8" stroke-width="12" stroke-linecap="round" opacity="0.85"/>
<path d="M720 660 L760 700" fill="none" stroke="#2030c8" stroke-width="10" stroke-linecap="round" opacity="0.85"/>
<path d="M640 1130 L700 1140 L800 1118 L950 1118 L1008 1165 L992 1250 L962 1298 L900 1302 L830 1292 L782 1252 L742 1258 L722 1205 L652 1162 Z" fill="url(#gRoss)"/>
<path d="M640 1140 L720 1180 L770 1230" fill="none" stroke="#2030c8" stroke-width="20" stroke-linecap="round" opacity="0.85"/>
<path d="M660 1070 L720 1150" fill="none" stroke="#2030c8" stroke-width="12" stroke-linecap="round" opacity="0.85"/>
<path d="M720 1200 L740 1250" fill="none" stroke="#2030c8" stroke-width="10" stroke-linecap="round" opacity="0.85"/>
<path d="M144 482 L165 477 L184 490 L254 530 L248 557 L211 549 L162 506 Z" fill="#7a10c8" opacity="0.9"/>
<path d="M650 385 L680 380 L722 410 L700 432 L662 442 Z" fill="#b800a8"/>
<path d="M862 186 L884 184 L880 250 L866 262 Z" fill="#b000b0"/>
<path d="M1360 655 L1480 645 L1575 635 L1580 680 L1480 670 L1380 668 Z" fill="url(#gAmery)"/>
<path d="M830 262 L900 268 L980 262 L1060 252 L1140 292 L1210 305 L1260 330" fill="none" stroke="#777" stroke-width="34" stroke-linecap="round" filter="url(#speck)" opacity="0.6"/>
<path d="M105 400 L140 480 L210 540 L290 585 L370 630 L420 660" fill="none" stroke="#777" stroke-width="55" stroke-linecap="round" filter="url(#speck)" opacity="0.6"/>
<path d="M300 760 L320 860 L300 940 L330 1000" fill="none" stroke="#777" stroke-width="30" stroke-linecap="round" filter="url(#speck)" opacity="0.6"/>
<path d="M420 1185 L500 1232 L600 1262 L700 1272" fill="none" stroke="#777" stroke-width="34" stroke-linecap="round" filter="url(#speck)" opacity="0.6"/>
<path d="M1360 615 L1440 612 L1520 625" fill="none" stroke="#777" stroke-width="26" stroke-linecap="round" filter="url(#speck)" opacity="0.6"/>
<path d="M1380 700 L1450 705 L1520 690" fill="none" stroke="#777" stroke-width="22" stroke-linecap="round" filter="url(#speck)" opacity="0.6"/>
<path d="M1000 1300 L1010 1400 L1000 1470 L1030 1520" fill="none" stroke="#777" stroke-width="50" stroke-linecap="round" filter="url(#speck)" opacity="0.6"/>
</g>
<path d="M830 262 L900 268 L980 262 L1060 252 L1140 292 L1210 305 L1260 330" fill="none" stroke="#777" stroke-width="34" stroke-linecap="round" filter="url(#speck)" opacity="0.6"/>
<path d="M105 400 L140 480 L210 540 L290 585 L370 630 L420 660" fill="none" stroke="#777" stroke-width="55" stroke-linecap="round" filter="url(#speck)" opacity="0.6"/>
<path d="M300 760 L320 860 L300 940 L330 1000" fill="none" stroke="#777" stroke-width="30" stroke-linecap="round" filter="url(#speck)" opacity="0.6"/>
<path d="M420 1185 L500 1232 L600 1262 L700 1272" fill="none" stroke="#777" stroke-width="34" stroke-linecap="round" filter="url(#speck)" opacity="0.6"/>
<path d="M1360 615 L1440 612 L1520 625" fill="none" stroke="#777" stroke-width="26" stroke-linecap="round" filter="url(#speck)" opacity="0.6"/>
<path d="M1380 700 L1450 705 L1520 690" fill="none" stroke="#777" stroke-width="22" stroke-linecap="round" filter="url(#speck)" opacity="0.6"/>
<path d="M1000 1300 L1010 1400 L1000 1470 L1030 1520" fill="none" stroke="#777" stroke-width="50" stroke-linecap="round" filter="url(#speck)" opacity="0.6"/>
<path d="M680 715 L740 790 L800 880 L860 960 L930 1050 L985 1120 L1010 1180 L1005 1260 L1015 1330 L1000 1400 L1010 1480" fill="none" stroke="#777" stroke-width="64" filter="url(#speck)" opacity="0.75"/>
</g></g>
<g transform="translate(1302.60,1867.30) scale(0.42362)">
<g clip-path="url(#cc)">
<path d="M103 379 L117 381 L131 442 L140 479 L169 479 L206 494 L244 517 L262 545 L281 545 L319 564 L356 578 L384 601 L412 616 L431 630 L474 611 L525 604 L572 604 L581 592 L605 583 L642 559 L652 531 L647 508 L656 470 L666 447 L647 386 L685 376 L685 320 L713 296 L732 273 L769 226 L807 212 L863 184 L886 179 L901 189 L927 199 L991 201 L1041 201 L1066 199 L1101 216 L1125 231 L1155 261 L1224 263 L1264 266 L1294 280 L1304 315 L1324 335 L1343 325 L1373 328 L1423 340 L1448 350 L1473 360 L1502 365 L1542 380 L1557 410 L1562 439 L1552 479 L1562 519 L1572 548 L1582 578 L1592 608 L1572 633 L1582 662 L1567 682 L1572 712 L1596 732 L1621 757 L1651 772 L1671 796 L1691 826 L1681 851 L1676 886 L1686 915 L1681 945 L1715 960 L1730 975 L1720 984 L1710 1004 L1710 1038 L1701 1068 L1671 1093 L1651 1123 L1636 1163 L1646 1192 L1606 1222 L1587 1242 L1572 1262 L1562 1301 L1532 1321 L1522 1351 L1497 1381 L1502 1410 L1473 1440 L1438 1460 L1398 1485 L1348 1500 L1324 1540 L1314 1510 L1284 1510 L1234 1520 L1200 1540 L1150 1534 L1086 1515 L1026 1515 L986 1495 L986 1440 L1006 1410 L1016 1376 L1026 1351 L1016 1321 L1001 1301 L981 1291 L952 1296 L948 1300 L896 1296 L862 1283 L810 1270 L780 1249 L763 1253 L729 1262 L716 1283 L665 1274 L622 1287 L579 1274 L544 1257 L493 1232 L450 1210 L428 1219 L420 1197 L403 1172 L394 1137 L386 1112 L381 1077 L381 1060 L390 1043 L381 1026 L386 1013 L381 983 L364 987 L343 1000 L321 1013 L291 1013 L278 1000 L270 974 L266 944 L270 931 L287 919 L291 897 L290 874 L300 845 L323 817 L314 789 L290 766 L295 747 L272 719 L248 724 L215 700 L201 667 L197 639 L215 616 L192 601 L154 573 L135 545 L112 498 L110 442 L100 404 Z" fill="#b3ad73"/>
<g filter="url(#b25)" fill="#b09070" opacity="0.8">
<ellipse cx="560" cy="980" rx="110" ry="90" transform="rotate(0 560 980)"/>
</g>
<g filter="url(#b25)" fill="#b47878" opacity="1.0">
<path d="M830 330 L1000 310 L1150 330 L1280 400 L1420 470 L1520 520 L1520 560 L1130 560 L1100 620 L1130 740 L1300 730 L1510 750 L1560 850 L1540 1000 L1470 1150 L1460 1320 L1400 1440 L1280 1460 L1170 1400 L1110 1280 L1100 1150 L1130 1050 L1140 950 L1120 800 L1060 680 L1000 580 L900 480 L850 400 Z"/>
</g>
<g filter="url(#b40)" fill="#7ebe70" opacity="0.8">
<ellipse cx="850" cy="560" rx="140" ry="70" transform="rotate(-25 850 560)"/>
<ellipse cx="1060" cy="1150" rx="60" ry="110" transform="rotate(0 1060 1150)"/>
<ellipse cx="1530" cy="1150" rx="70" ry="140" transform="rotate(0 1530 1150)"/>
</g>
<g filter="url(#b25)" fill="#7ebe70" opacity="0.85">
<path d="M1130 575 L1530 575 L1540 720 L1140 725 Z"/>
</g>
<path d="M103 379 L117 381 L131 442 L140 479 L169 479 L206 494 L244 517 L262 545 L281 545 L319 564 L356 578 L384 601 L412 616 L431 630 L474 611 L525 604 L572 604 L581 592 L605 583 L642 559 L652 531 L647 508 L656 470 L666 447 L647 386 L685 376 L685 320 L713 296 L732 273 L769 226 L807 212 L863 184 L886 179 L901 189 L927 199 L991 201 L1041 201 L1066 199 L1101 216 L1125 231 L1155 261 L1224 263 L1264 266 L1294 280 L1304 315 L1324 335 L1343 325 L1373 328 L1423 340 L1448 350 L1473 360 L1502 365 L1542 380 L1557 410 L1562 439 L1552 479 L1562 519 L1572 548 L1582 578 L1592 608 L1572 633 L1582 662 L1567 682 L1572 712 L1596 732 L1621 757 L1651 772 L1671 796 L1691 826 L1681 851 L1676 886 L1686 915 L1681 945 L1715 960 L1730 975 L1720 984 L1710 1004 L1710 1038 L1701 1068 L1671 1093 L1651 1123 L1636 1163 L1646 1192 L1606 1222 L1587 1242 L1572 1262 L1562 1301 L1532 1321 L1522 1351 L1497 1381 L1502 1410 L1473 1440 L1438 1460 L1398 1485 L1348 1500 L1324 1540 L1314 1510 L1284 1510 L1234 1520 L1200 1540 L1150 1534 L1086 1515 L1026 1515 L986 1495 L986 1440 L1006 1410 L1016 1376 L1026 1351 L1016 1321 L1001 1301 L981 1291 L952 1296 L948 1300 L896 1296 L862 1283 L810 1270 L780 1249 L763 1253 L729 1262 L716 1283 L665 1274 L622 1287 L579 1274 L544 1257 L493 1232 L450 1210 L428 1219 L420 1197 L403 1172 L394 1137 L386 1112 L381 1077 L381 1060 L390 1043 L381 1026 L386 1013 L381 983 L364 987 L343 1000 L321 1013 L291 1013 L278 1000 L270 974 L266 944 L270 931 L287 919 L291 897 L290 874 L300 845 L323 817 L314 789 L290 766 L295 747 L272 719 L248 724 L215 700 L201 667 L197 639 L215 616 L192 601 L154 573 L135 545 L112 498 L110 442 L100 404 Z" fill="none" stroke="#7ebe70" stroke-width="240" filter="url(#b25)"/>
<path d="M103 379 L117 381 L131 442 L140 479 L169 479 L206 494 L244 517 L262 545 L281 545 L319 564 L356 578 L384 601 L412 616 L431 630 L474 611 L525 604 L572 604 L581 592 L605 583 L642 559 L652 531 L647 508 L656 470 L666 447 L647 386 L685 376 L685 320 L713 296 L732 273 L769 226 L807 212 L863 184 L886 179 L901 189 L927 199 L991 201 L1041 201 L1066 199 L1101 216 L1125 231 L1155 261 L1224 263 L1264 266 L1294 280 L1304 315 L1324 335 L1343 325 L1373 328 L1423 340 L1448 350 L1473 360 L1502 365 L1542 380 L1557 410 L1562 439 L1552 479 L1562 519 L1572 548 L1582 578 L1592 608 L1572 633 L1582 662 L1567 682 L1572 712 L1596 732 L1621 757 L1651 772 L1671 796 L1691 826 L1681 851 L1676 886 L1686 915 L1681 945 L1715 960 L1730 975 L1720 984 L1710 1004 L1710 1038 L1701 1068 L1671 1093 L1651 1123 L1636 1163 L1646 1192 L1606 1222 L1587 1242 L1572 1262 L1562 1301 L1532 1321 L1522 1351 L1497 1381 L1502 1410 L1473 1440 L1438 1460 L1398 1485 L1348 1500 L1324 1540 L1314 1510 L1284 1510 L1234 1520 L1200 1540 L1150 1534 L1086 1515 L1026 1515 L986 1495 L986 1440 L1006 1410 L1016 1376 L1026 1351 L1016 1321 L1001 1301 L981 1291 L952 1296 L948 1300 L896 1296 L862 1283 L810 1270 L780 1249 L763 1253 L729 1262 L716 1283 L665 1274 L622 1287 L579 1274 L544 1257 L493 1232 L450 1210 L428 1219 L420 1197 L403 1172 L394 1137 L386 1112 L381 1077 L381 1060 L390 1043 L381 1026 L386 1013 L381 983 L364 987 L343 1000 L321 1013 L291 1013 L278 1000 L270 974 L266 944 L270 931 L287 919 L291 897 L290 874 L300 845 L323 817 L314 789 L290 766 L295 747 L272 719 L248 724 L215 700 L201 667 L197 639 L215 616 L192 601 L154 573 L135 545 L112 498 L110 442 L100 404 Z" fill="none" stroke="#52b5b0" stroke-width="70" filter="url(#b8)" opacity="0.9"/>
<path d="M103 379 L117 381 L131 442 L140 479 L169 479 L206 494 L244 517 L262 545 L281 545 L319 564 L356 578 L384 601 L412 616 L431 630 L474 611 L525 604 L572 604 L581 592 L605 583 L642 559 L652 531 L647 508 L656 470 L666 447 L647 386 L685 376 L685 320 L713 296 L732 273 L769 226 L807 212 L863 184 L886 179 L901 189 L927 199 L991 201 L1041 201 L1066 199 L1101 216 L1125 231 L1155 261 L1224 263 L1264 266 L1294 280 L1304 315 L1324 335 L1343 325 L1373 328 L1423 340 L1448 350 L1473 360 L1502 365 L1542 380 L1557 410 L1562 439 L1552 479 L1562 519 L1572 548 L1582 578 L1592 608 L1572 633 L1582 662 L1567 682 L1572 712 L1596 732 L1621 757 L1651 772 L1671 796 L1691 826 L1681 851 L1676 886 L1686 915 L1681 945 L1715 960 L1730 975 L1720 984 L1710 1004 L1710 1038 L1701 1068 L1671 1093 L1651 1123 L1636 1163 L1646 1192 L1606 1222 L1587 1242 L1572 1262 L1562 1301 L1532 1321 L1522 1351 L1497 1381 L1502 1410 L1473 1440 L1438 1460 L1398 1485 L1348 1500 L1324 1540 L1314 1510 L1284 1510 L1234 1520 L1200 1540 L1150 1534 L1086 1515 L1026 1515 L986 1495 L986 1440 L1006 1410 L1016 1376 L1026 1351 L1016 1321 L1001 1301 L981 1291 L952 1296 L948 1300 L896 1296 L862 1283 L810 1270 L780 1249 L763 1253 L729 1262 L716 1283 L665 1274 L622 1287 L579 1274 L544 1257 L493 1232 L450 1210 L428 1219 L420 1197 L403 1172 L394 1137 L386 1112 L381 1077 L381 1060 L390 1043 L381 1026 L386 1013 L381 983 L364 987 L343 1000 L321 1013 L291 1013 L278 1000 L270 974 L266 944 L270 931 L287 919 L291 897 L290 874 L300 845 L323 817 L314 789 L290 766 L295 747 L272 719 L248 724 L215 700 L201 667 L197 639 L215 616 L192 601 L154 573 L135 545 L112 498 L110 442 L100 404 Z" fill="none" stroke="#3050b8" stroke-width="7" stroke-dasharray="10 26" opacity="0.8"/>
<path d="M103 379 L117 381 L131 442 L140 479 L169 479 L206 494 L244 517 L262 545 L281 545 L319 564 L356 578 L384 601 L412 616 L431 630 L474 611 L525 604 L572 604 L581 592 L605 583 L642 559 L652 531 L647 508 L656 470 L666 447 L647 386 L685 376 L685 320 L713 296 L732 273 L769 226 L807 212 L863 184 L886 179 L901 189 L927 199 L991 201 L1041 201 L1066 199 L1101 216 L1125 231 L1155 261 L1224 263 L1264 266 L1294 280 L1304 315 L1324 335 L1343 325 L1373 328 L1423 340 L1448 350 L1473 360 L1502 365 L1542 380 L1557 410 L1562 439 L1552 479 L1562 519 L1572 548 L1582 578 L1592 608 L1572 633 L1582 662 L1567 682 L1572 712 L1596 732 L1621 757 L1651 772 L1671 796 L1691 826 L1681 851 L1676 886 L1686 915 L1681 945 L1715 960 L1730 975 L1720 984 L1710 1004 L1710 1038 L1701 1068 L1671 1093 L1651 1123 L1636 1163 L1646 1192 L1606 1222 L1587 1242 L1572 1262 L1562 1301 L1532 1321 L1522 1351 L1497 1381 L1502 1410 L1473 1440 L1438 1460 L1398 1485 L1348 1500 L1324 1540 L1314 1510 L1284 1510 L1234 1520 L1200 1540 L1150 1534 L1086 1515 L1026 1515 L986 1495 L986 1440 L1006 1410 L1016 1376 L1026 1351 L1016 1321 L1001 1301 L981 1291 L952 1296 L948 1300 L896 1296 L862 1283 L810 1270 L780 1249 L763 1253 L729 1262 L716 1283 L665 1274 L622 1287 L579 1274 L544 1257 L493 1232 L450 1210 L428 1219 L420 1197 L403 1172 L394 1137 L386 1112 L381 1077 L381 1060 L390 1043 L381 1026 L386 1013 L381 983 L364 987 L343 1000 L321 1013 L291 1013 L278 1000 L270 974 L266 944 L270 931 L287 919 L291 897 L290 874 L300 845 L323 817 L314 789 L290 766 L295 747 L272 719 L248 724 L215 700 L201 667 L197 639 L215 616 L192 601 L154 573 L135 545 L112 498 L110 442 L100 404 Z" fill="none" stroke="#1a1a1a" stroke-width="3" stroke-dasharray="3 9" opacity="0.5"/>
<path d="M849 184 L895 184 L872 338 Z" fill="#3aa8d0" opacity="0.7" filter="url(#b8)"/>
<path d="M859 184 L885 184 L872 300 Z" fill="#2840c0" opacity="0.95" filter="url(#b4)"/>
<circle cx="872" cy="190" r="10" fill="#7010c8" opacity="0.8"/>
<path d="M1094 218 L1149 244 L1073 336 Z" fill="#3aa8d0" opacity="0.7" filter="url(#b8)"/>
<path d="M1106 224 L1137 238 L1085 310 Z" fill="#2840c0" opacity="0.95" filter="url(#b4)"/>
<circle cx="1120" cy="235" r="14" fill="#7010c8" opacity="0.8"/>
<path d="M1159 265 L1203 279 L1153 363 Z" fill="#3aa8d0" opacity="0.7" filter="url(#b8)"/>
<path d="M1169 268 L1193 276 L1160 340 Z" fill="#2840c0" opacity="0.95" filter="url(#b4)"/>
<circle cx="1180" cy="275" r="10" fill="#7010c8" opacity="0.8"/>
<path d="M681 376 L712 291 L794 369 Z" fill="#3aa8d0" opacity="0.7" filter="url(#b8)"/>
<path d="M688 357 L705 310 L770 360 Z" fill="#2840c0" opacity="0.95" filter="url(#b4)"/>
<circle cx="700" cy="335" r="20" fill="#7010c8" opacity="0.8"/>
<path d="M1277 293 L1324 300 L1286 394 Z" fill="#3aa8d0" opacity="0.7" filter="url(#b8)"/>
<path d="M1288 295 L1313 298 L1290 370 Z" fill="#2840c0" opacity="0.95" filter="url(#b4)"/>
<circle cx="1300" cy="300" r="10" fill="#7010c8" opacity="0.8"/>
<path d="M1427 370 L1457 396 L1386 446 Z" fill="#3aa8d0" opacity="0.7" filter="url(#b8)"/>
<path d="M1434 375 L1450 390 L1400 430 Z" fill="#2840c0" opacity="0.95" filter="url(#b4)"/>
<circle cx="1440" cy="385" r="9" fill="#7010c8" opacity="0.8"/>
<path d="M1523 418 L1533 460 L1437 460 Z" fill="#3aa8d0" opacity="0.7" filter="url(#b8)"/>
<path d="M1526 428 L1531 451 L1460 455 Z" fill="#2840c0" opacity="0.95" filter="url(#b4)"/>
<circle cx="1525" cy="440" r="10" fill="#7010c8" opacity="0.8"/>
<path d="M1554 619 L1556 691 L1268 662 Z" fill="#3aa8d0" opacity="0.7" filter="url(#b8)"/>
<path d="M1555 635 L1556 675 L1340 660 Z" fill="#2840c0" opacity="0.95" filter="url(#b4)"/>
<circle cx="1545" cy="655" r="16" fill="#7010c8" opacity="0.8"/>
<path d="M1657 750 L1673 828 L1525 817 Z" fill="#3aa8d0" opacity="0.7" filter="url(#b8)"/>
<path d="M1661 767 L1669 811 L1560 810 Z" fill="#2840c0" opacity="0.95" filter="url(#b4)"/>
<circle cx="1660" cy="790" r="18" fill="#7010c8" opacity="0.8"/>
<path d="M1711 965 L1702 1037 L1524 980 Z" fill="#3aa8d0" opacity="0.7" filter="url(#b8)"/>
<path d="M1709 981 L1704 1021 L1570 985 Z" fill="#2840c0" opacity="0.95" filter="url(#b4)"/>
<circle cx="1700" cy="1000" r="16" fill="#7010c8" opacity="0.8"/>
<path d="M1614 1190 L1554 1257 L1472 1126 Z" fill="#3aa8d0" opacity="0.7" filter="url(#b8)"/>
<path d="M1600 1205 L1568 1242 L1500 1150 Z" fill="#2840c0" opacity="0.95" filter="url(#b4)"/>
<circle cx="1580" cy="1220" r="20" fill="#7010c8" opacity="0.8"/>
<path d="M1509 1366 L1476 1399 L1422 1312 Z" fill="#3aa8d0" opacity="0.7" filter="url(#b8)"/>
<path d="M1502 1373 L1483 1392 L1440 1330 Z" fill="#2840c0" opacity="0.95" filter="url(#b4)"/>
<circle cx="1490" cy="1380" r="10" fill="#7010c8" opacity="0.8"/>
<path d="M1352 1524 L1308 1524 L1330 1398 Z" fill="#3aa8d0" opacity="0.7" filter="url(#b8)"/>
<path d="M1342 1524 L1318 1524 L1330 1430 Z" fill="#2840c0" opacity="0.95" filter="url(#b4)"/>
<circle cx="1330" cy="1520" r="10" fill="#7010c8" opacity="0.8"/>
<path d="M1251 1524 L1191 1535 L1200 1410 Z" fill="#3aa8d0" opacity="0.7" filter="url(#b8)"/>
<path d="M1237 1526 L1204 1532 L1205 1440 Z" fill="#2840c0" opacity="0.95" filter="url(#b4)"/>
<circle cx="1220" cy="1525" r="14" fill="#7010c8" opacity="0.8"/>
<path d="M1030 1363 L1025 1338 L1098 1336 Z" fill="#3aa8d0" opacity="0.7" filter="url(#b8)"/>
<path d="M1029 1357 L1026 1344 L1080 1340 Z" fill="#2840c0" opacity="0.95" filter="url(#b4)"/>
<circle cx="1030" cy="1350" r="6" fill="#7010c8" opacity="0.8"/>
<path d="M360 955 L422 936 L430 1072 Z" fill="#3aa8d0" opacity="0.7" filter="url(#b8)"/>
<path d="M373 951 L408 940 L420 1040 Z" fill="#2840c0" opacity="0.95" filter="url(#b4)"/>
<circle cx="392" cy="950" r="14" fill="#7010c8" opacity="0.8"/>
<path d="M386 1055 L393 984 L537 1034 Z" fill="#3aa8d0" opacity="0.7" filter="url(#b8)"/>
<path d="M388 1039 L392 1000 L500 1030 Z" fill="#2840c0" opacity="0.95" filter="url(#b4)"/>
<circle cx="395" cy="1020" r="16" fill="#7010c8" opacity="0.8"/>
<path d="M330 868 L295 837 L376 782 Z" fill="#3aa8d0" opacity="0.7" filter="url(#b8)"/>
<path d="M322 861 L303 844 L360 800 Z" fill="#2840c0" opacity="0.95" filter="url(#b4)"/>
<circle cx="315" cy="850" r="10" fill="#7010c8" opacity="0.8"/>
<path d="M480 1237 L455 1207 L538 1166 Z" fill="#3aa8d0" opacity="0.7" filter="url(#b8)"/>
<path d="M474 1231 L461 1213 L520 1180 Z" fill="#2840c0" opacity="0.95" filter="url(#b4)"/>
<circle cx="470" cy="1220" r="9" fill="#7010c8" opacity="0.8"/>
<path d="M582 1266 L555 1248 L610 1194 Z" fill="#3aa8d0" opacity="0.7" filter="url(#b8)"/>
<path d="M576 1262 L561 1252 L600 1210 Z" fill="#2840c0" opacity="0.95" filter="url(#b4)"/>
<circle cx="570" cy="1255" r="7" fill="#7010c8" opacity="0.8"/>
<path d="M163 524 L210 470 L284 581 Z" fill="#3aa8d0" opacity="0.7" filter="url(#b8)"/>
<path d="M173 512 L200 482 L260 560 Z" fill="#2840c0" opacity="0.95" filter="url(#b4)"/>
<circle cx="190" cy="500" r="16" fill="#7010c8" opacity="0.8"/>
<path d="M313 658 L355 637 L369 718 Z" fill="#3aa8d0" opacity="0.7" filter="url(#b8)"/>
<path d="M322 653 L345 642 L360 700 Z" fill="#2840c0" opacity="0.95" filter="url(#b4)"/>
<circle cx="335" cy="650" r="10" fill="#7010c8" opacity="0.8"/>
<path d="M1698 1063 L1691 1099 L1568 1053 Z" fill="#3aa8d0" opacity="0.7" filter="url(#b8)"/>
<path d="M1697 1071 L1692 1091 L1600 1060 Z" fill="#2840c0" opacity="0.95" filter="url(#b4)"/>
<circle cx="1690" cy="1080" r="8" fill="#7010c8" opacity="0.8"/>
<path d="M1626 1163 L1620 1198 L1539 1166 Z" fill="#3aa8d0" opacity="0.7" filter="url(#b8)"/>
<path d="M1625 1171 L1621 1190 L1560 1170 Z" fill="#2840c0" opacity="0.95" filter="url(#b4)"/>
<circle cx="1620" cy="1180" r="8" fill="#7010c8" opacity="0.8"/>
<path d="M1395 1501 L1366 1505 L1366 1419 Z" fill="#3aa8d0" opacity="0.7" filter="url(#b8)"/>
<path d="M1388 1502 L1373 1504 L1370 1440 Z" fill="#2840c0" opacity="0.95" filter="url(#b4)"/>
<circle cx="1380" cy="1500" r="6" fill="#7010c8" opacity="0.8"/>
<path d="M430 630 L500 612 L572 600 L600 660 L640 700 L682 738 L655 770 L600 800 L540 830 L470 850 L438 842 L478 800 L430 782 L400 762 L420 722 L450 700 L440 660 Z" fill="url(#gRonne)"/>
<path d="M605 572 L650 560 L700 598 L712 640 L680 652 L640 630 L612 602 Z" fill="#a800b4"/>
<path d="M600 650 L690 730" fill="none" stroke="#2030c8" stroke-width="22" stroke-linecap="round" opacity="0.85"/>
<path d="M540 760 L600 800 L660 760" fill="none" stroke="#2030c8" stroke-width="18" stroke-linecap="round" opacity="0.85"/>
<path d="M470 800 L420 770" fill="none" stroke="#2030c8" stroke-width="10" stroke-linecap="round" opacity="0.85"/>
<path d="M700 600 L760 560 L830 520" fill="none" stroke="#2030c8" stroke-width="14" stroke-linecap="round" opacity="0.85"/>
<path d="M690 640 L780 600 L850 590" fill="none" stroke="#2030c8" stroke-width="12" stroke-linecap="round" opacity="0.85"/>
<path d="M720 660 L760 700" fill="none" stroke="#2030c8" stroke-width="10" stroke-linecap="round" opacity="0.85"/>
<path d="M640 1130 L700 1140 L800 1118 L950 1118 L1008 1165 L992 1250 L962 1298 L900 1302 L830 1292 L782 1252 L742 1258 L722 1205 L652 1162 Z" fill="url(#gRoss)"/>
<path d="M640 1140 L720 1180 L770 1230" fill="none" stroke="#2030c8" stroke-width="20" stroke-linecap="round" opacity="0.85"/>
<path d="M660 1070 L720 1150" fill="none" stroke="#2030c8" stroke-width="12" stroke-linecap="round" opacity="0.85"/>
<path d="M720 1200 L740 1250" fill="none" stroke="#2030c8" stroke-width="10" stroke-linecap="round" opacity="0.85"/>
<path d="M144 482 L165 477 L184 490 L254 530 L248 557 L211 549 L162 506 Z" fill="#7a10c8" opacity="0.9"/>
<path d="M650 385 L680 380 L722 410 L700 432 L662 442 Z" fill="#b800a8"/>
<path d="M862 186 L884 184 L880 250 L866 262 Z" fill="#b000b0"/>
<path d="M1360 655 L1480 645 L1575 635 L1580 680 L1480 670 L1380 668 Z" fill="url(#gAmery)"/>
<path d="M830 262 L900 268 L980 262 L1060 252 L1140 292 L1210 305 L1260 330" fill="none" stroke="#777" stroke-width="34" stroke-linecap="round" filter="url(#speck)" opacity="0.6"/>
<path d="M105 400 L140 480 L210 540 L290 585 L370 630 L420 660" fill="none" stroke="#777" stroke-width="55" stroke-linecap="round" filter="url(#speck)" opacity="0.6"/>
<path d="M300 760 L320 860 L300 940 L330 1000" fill="none" stroke="#777" stroke-width="30" stroke-linecap="round" filter="url(#speck)" opacity="0.6"/>
<path d="M420 1185 L500 1232 L600 1262 L700 1272" fill="none" stroke="#777" stroke-width="34" stroke-linecap="round" filter="url(#speck)" opacity="0.6"/>
<path d="M1360 615 L1440 612 L1520 625" fill="none" stroke="#777" stroke-width="26" stroke-linecap="round" filter="url(#speck)" opacity="0.6"/>
<path d="M1380 700 L1450 705 L1520 690" fill="none" stroke="#777" stroke-width="22" stroke-linecap="round" filter="url(#speck)" opacity="0.6"/>
<path d="M1000 1300 L1010 1400 L1000 1470 L1030 1520" fill="none" stroke="#777" stroke-width="50" stroke-linecap="round" filter="url(#speck)" opacity="0.6"/>
<path d="M780 500 L900 470 L1150 560 L1220 640 L1260 800 L1280 1000 L1130 990 L1010 980 L900 940 L800 880 L760 800 L720 700 L740 600 Z" fill="#b3b3b3"/>
<path d="M430 640 L560 600 L700 640 L800 780 L760 880 L700 1000 L560 1000 L470 960 L400 870 L420 760 Z" fill="#b3b3b3"/>
<path d="M470 1000 L520 1100 L560 1200 L480 1230 L420 1150 L430 1060 Z" fill="#b3b3b3"/>
<path d="M1330 1240 L1460 1230 L1470 1300 L1330 1300 Z" fill="#b3b3b3"/>
<path d="M1590 780 L1700 770 L1700 870 L1600 870 Z" fill="#b3b3b3"/>
<path d="M880 1000 L1000 1060 L1080 1200 L1020 1230 L920 1120 Z" fill="#b3b3b3"/>
<g clip-path="url(#covF2)">
<path d="M103 379 L117 381 L131 442 L140 479 L169 479 L206 494 L244 517 L262 545 L281 545 L319 564 L356 578 L384 601 L412 616 L431 630 L474 611 L525 604 L572 604 L581 592 L605 583 L642 559 L652 531 L647 508 L656 470 L666 447 L647 386 L685 376 L685 320 L713 296 L732 273 L769 226 L807 212 L863 184 L886 179 L901 189 L927 199 L991 201 L1041 201 L1066 199 L1101 216 L1125 231 L1155 261 L1224 263 L1264 266 L1294 280 L1304 315 L1324 335 L1343 325 L1373 328 L1423 340 L1448 350 L1473 360 L1502 365 L1542 380 L1557 410 L1562 439 L1552 479 L1562 519 L1572 548 L1582 578 L1592 608 L1572 633 L1582 662 L1567 682 L1572 712 L1596 732 L1621 757 L1651 772 L1671 796 L1691 826 L1681 851 L1676 886 L1686 915 L1681 945 L1715 960 L1730 975 L1720 984 L1710 1004 L1710 1038 L1701 1068 L1671 1093 L1651 1123 L1636 1163 L1646 1192 L1606 1222 L1587 1242 L1572 1262 L1562 1301 L1532 1321 L1522 1351 L1497 1381 L1502 1410 L1473 1440 L1438 1460 L1398 1485 L1348 1500 L1324 1540 L1314 1510 L1284 1510 L1234 1520 L1200 1540 L1150 1534 L1086 1515 L1026 1515 L986 1495 L986 1440 L1006 1410 L1016 1376 L1026 1351 L1016 1321 L1001 1301 L981 1291 L952 1296 L948 1300 L896 1296 L862 1283 L810 1270 L780 1249 L763 1253 L729 1262 L716 1283 L665 1274 L622 1287 L579 1274 L544 1257 L493 1232 L450 1210 L428 1219 L420 1197 L403 1172 L394 1137 L386 1112 L381 1077 L381 1060 L390 1043 L381 1026 L386 1013 L381 983 L364 987 L343 1000 L321 1013 L291 1013 L278 1000 L270 974 L266 944 L270 931 L287 919 L291 897 L290 874 L300 845 L323 817 L314 789 L290 766 L295 747 L272 719 L248 724 L215 700 L201 667 L197 639 L215 616 L192 601 L154 573 L135 545 L112 498 L110 442 L100 404 Z" fill="#b3ad73"/>
<g filter="url(#b25)" fill="#b09070" opacity="0.8">
<ellipse cx="560" cy="980" rx="110" ry="90" transform="rotate(0 560 980)"/>
</g>
<g filter="url(#b25)" fill="#b47878" opacity="1.0">
<path d="M830 330 L1000 310 L1150 330 L1280 400 L1420 470 L1520 520 L1520 560 L1130 560 L1100 620 L1130 740 L1300 730 L1510 750 L1560 850 L1540 1000 L1470 1150 L1460 1320 L1400 1440 L1280 1460 L1170 1400 L1110 1280 L1100 1150 L1130 1050 L1140 950 L1120 800 L1060 680 L1000 580 L900 480 L850 400 Z"/>
</g>
<g filter="url(#b40)" fill="#7ebe70" opacity="0.8">
<ellipse cx="850" cy="560" rx="140" ry="70" transform="rotate(-25 850 560)"/>
<ellipse cx="1060" cy="1150" rx="60" ry="110" transform="rotate(0 1060 1150)"/>
<ellipse cx="1530" cy="1150" rx="70" ry="140" transform="rotate(0 1530 1150)"/>
</g>
<g filter="url(#b25)" fill="#7ebe70" opacity="0.85">
<path d="M1130 575 L1530 575 L1540 720 L1140 725 Z"/>
</g>
<path d="M103 379 L117 381 L131 442 L140 479 L169 479 L206 494 L244 517 L262 545 L281 545 L319 564 L356 578 L384 601 L412 616 L431 630 L474 611 L525 604 L572 604 L581 592 L605 583 L642 559 L652 531 L647 508 L656 470 L666 447 L647 386 L685 376 L685 320 L713 296 L732 273 L769 226 L807 212 L863 184 L886 179 L901 189 L927 199 L991 201 L1041 201 L1066 199 L1101 216 L1125 231 L1155 261 L1224 263 L1264 266 L1294 280 L1304 315 L1324 335 L1343 325 L1373 328 L1423 340 L1448 350 L1473 360 L1502 365 L1542 380 L1557 410 L1562 439 L1552 479 L1562 519 L1572 548 L1582 578 L1592 608 L1572 633 L1582 662 L1567 682 L1572 712 L1596 732 L1621 757 L1651 772 L1671 796 L1691 826 L1681 851 L1676 886 L1686 915 L1681 945 L1715 960 L1730 975 L1720 984 L1710 1004 L1710 1038 L1701 1068 L1671 1093 L1651 1123 L1636 1163 L1646 1192 L1606 1222 L1587 1242 L1572 1262 L1562 1301 L1532 1321 L1522 1351 L1497 1381 L1502 1410 L1473 1440 L1438 1460 L1398 1485 L1348 1500 L1324 1540 L1314 1510 L1284 1510 L1234 1520 L1200 1540 L1150 1534 L1086 1515 L1026 1515 L986 1495 L986 1440 L1006 1410 L1016 1376 L1026 1351 L1016 1321 L1001 1301 L981 1291 L952 1296 L948 1300 L896 1296 L862 1283 L810 1270 L780 1249 L763 1253 L729 1262 L716 1283 L665 1274 L622 1287 L579 1274 L544 1257 L493 1232 L450 1210 L428 1219 L420 1197 L403 1172 L394 1137 L386 1112 L381 1077 L381 1060 L390 1043 L381 1026 L386 1013 L381 983 L364 987 L343 1000 L321 1013 L291 1013 L278 1000 L270 974 L266 944 L270 931 L287 919 L291 897 L290 874 L300 845 L323 817 L314 789 L290 766 L295 747 L272 719 L248 724 L215 700 L201 667 L197 639 L215 616 L192 601 L154 573 L135 545 L112 498 L110 442 L100 404 Z" fill="none" stroke="#7ebe70" stroke-width="240" filter="url(#b25)"/>
<path d="M103 379 L117 381 L131 442 L140 479 L169 479 L206 494 L244 517 L262 545 L281 545 L319 564 L356 578 L384 601 L412 616 L431 630 L474 611 L525 604 L572 604 L581 592 L605 583 L642 559 L652 531 L647 508 L656 470 L666 447 L647 386 L685 376 L685 320 L713 296 L732 273 L769 226 L807 212 L863 184 L886 179 L901 189 L927 199 L991 201 L1041 201 L1066 199 L1101 216 L1125 231 L1155 261 L1224 263 L1264 266 L1294 280 L1304 315 L1324 335 L1343 325 L1373 328 L1423 340 L1448 350 L1473 360 L1502 365 L1542 380 L1557 410 L1562 439 L1552 479 L1562 519 L1572 548 L1582 578 L1592 608 L1572 633 L1582 662 L1567 682 L1572 712 L1596 732 L1621 757 L1651 772 L1671 796 L1691 826 L1681 851 L1676 886 L1686 915 L1681 945 L1715 960 L1730 975 L1720 984 L1710 1004 L1710 1038 L1701 1068 L1671 1093 L1651 1123 L1636 1163 L1646 1192 L1606 1222 L1587 1242 L1572 1262 L1562 1301 L1532 1321 L1522 1351 L1497 1381 L1502 1410 L1473 1440 L1438 1460 L1398 1485 L1348 1500 L1324 1540 L1314 1510 L1284 1510 L1234 1520 L1200 1540 L1150 1534 L1086 1515 L1026 1515 L986 1495 L986 1440 L1006 1410 L1016 1376 L1026 1351 L1016 1321 L1001 1301 L981 1291 L952 1296 L948 1300 L896 1296 L862 1283 L810 1270 L780 1249 L763 1253 L729 1262 L716 1283 L665 1274 L622 1287 L579 1274 L544 1257 L493 1232 L450 1210 L428 1219 L420 1197 L403 1172 L394 1137 L386 1112 L381 1077 L381 1060 L390 1043 L381 1026 L386 1013 L381 983 L364 987 L343 1000 L321 1013 L291 1013 L278 1000 L270 974 L266 944 L270 931 L287 919 L291 897 L290 874 L300 845 L323 817 L314 789 L290 766 L295 747 L272 719 L248 724 L215 700 L201 667 L197 639 L215 616 L192 601 L154 573 L135 545 L112 498 L110 442 L100 404 Z" fill="none" stroke="#52b5b0" stroke-width="70" filter="url(#b8)" opacity="0.9"/>
<path d="M103 379 L117 381 L131 442 L140 479 L169 479 L206 494 L244 517 L262 545 L281 545 L319 564 L356 578 L384 601 L412 616 L431 630 L474 611 L525 604 L572 604 L581 592 L605 583 L642 559 L652 531 L647 508 L656 470 L666 447 L647 386 L685 376 L685 320 L713 296 L732 273 L769 226 L807 212 L863 184 L886 179 L901 189 L927 199 L991 201 L1041 201 L1066 199 L1101 216 L1125 231 L1155 261 L1224 263 L1264 266 L1294 280 L1304 315 L1324 335 L1343 325 L1373 328 L1423 340 L1448 350 L1473 360 L1502 365 L1542 380 L1557 410 L1562 439 L1552 479 L1562 519 L1572 548 L1582 578 L1592 608 L1572 633 L1582 662 L1567 682 L1572 712 L1596 732 L1621 757 L1651 772 L1671 796 L1691 826 L1681 851 L1676 886 L1686 915 L1681 945 L1715 960 L1730 975 L1720 984 L1710 1004 L1710 1038 L1701 1068 L1671 1093 L1651 1123 L1636 1163 L1646 1192 L1606 1222 L1587 1242 L1572 1262 L1562 1301 L1532 1321 L1522 1351 L1497 1381 L1502 1410 L1473 1440 L1438 1460 L1398 1485 L1348 1500 L1324 1540 L1314 1510 L1284 1510 L1234 1520 L1200 1540 L1150 1534 L1086 1515 L1026 1515 L986 1495 L986 1440 L1006 1410 L1016 1376 L1026 1351 L1016 1321 L1001 1301 L981 1291 L952 1296 L948 1300 L896 1296 L862 1283 L810 1270 L780 1249 L763 1253 L729 1262 L716 1283 L665 1274 L622 1287 L579 1274 L544 1257 L493 1232 L450 1210 L428 1219 L420 1197 L403 1172 L394 1137 L386 1112 L381 1077 L381 1060 L390 1043 L381 1026 L386 1013 L381 983 L364 987 L343 1000 L321 1013 L291 1013 L278 1000 L270 974 L266 944 L270 931 L287 919 L291 897 L290 874 L300 845 L323 817 L314 789 L290 766 L295 747 L272 719 L248 724 L215 700 L201 667 L197 639 L215 616 L192 601 L154 573 L135 545 L112 498 L110 442 L100 404 Z" fill="none" stroke="#3050b8" stroke-width="7" stroke-dasharray="10 26" opacity="0.8"/>
<path d="M103 379 L117 381 L131 442 L140 479 L169 479 L206 494 L244 517 L262 545 L281 545 L319 564 L356 578 L384 601 L412 616 L431 630 L474 611 L525 604 L572 604 L581 592 L605 583 L642 559 L652 531 L647 508 L656 470 L666 447 L647 386 L685 376 L685 320 L713 296 L732 273 L769 226 L807 212 L863 184 L886 179 L901 189 L927 199 L991 201 L1041 201 L1066 199 L1101 216 L1125 231 L1155 261 L1224 263 L1264 266 L1294 280 L1304 315 L1324 335 L1343 325 L1373 328 L1423 340 L1448 350 L1473 360 L1502 365 L1542 380 L1557 410 L1562 439 L1552 479 L1562 519 L1572 548 L1582 578 L1592 608 L1572 633 L1582 662 L1567 682 L1572 712 L1596 732 L1621 757 L1651 772 L1671 796 L1691 826 L1681 851 L1676 886 L1686 915 L1681 945 L1715 960 L1730 975 L1720 984 L1710 1004 L1710 1038 L1701 1068 L1671 1093 L1651 1123 L1636 1163 L1646 1192 L1606 1222 L1587 1242 L1572 1262 L1562 1301 L1532 1321 L1522 1351 L1497 1381 L1502 1410 L1473 1440 L1438 1460 L1398 1485 L1348 1500 L1324 1540 L1314 1510 L1284 1510 L1234 1520 L1200 1540 L1150 1534 L1086 1515 L1026 1515 L986 1495 L986 1440 L1006 1410 L1016 1376 L1026 1351 L1016 1321 L1001 1301 L981 1291 L952 1296 L948 1300 L896 1296 L862 1283 L810 1270 L780 1249 L763 1253 L729 1262 L716 1283 L665 1274 L622 1287 L579 1274 L544 1257 L493 1232 L450 1210 L428 1219 L420 1197 L403 1172 L394 1137 L386 1112 L381 1077 L381 1060 L390 1043 L381 1026 L386 1013 L381 983 L364 987 L343 1000 L321 1013 L291 1013 L278 1000 L270 974 L266 944 L270 931 L287 919 L291 897 L290 874 L300 845 L323 817 L314 789 L290 766 L295 747 L272 719 L248 724 L215 700 L201 667 L197 639 L215 616 L192 601 L154 573 L135 545 L112 498 L110 442 L100 404 Z" fill="none" stroke="#1a1a1a" stroke-width="3" stroke-dasharray="3 9" opacity="0.5"/>
<path d="M849 184 L895 184 L872 338 Z" fill="#3aa8d0" opacity="0.7" filter="url(#b8)"/>
<path d="M859 184 L885 184 L872 300 Z" fill="#2840c0" opacity="0.95" filter="url(#b4)"/>
<circle cx="872" cy="190" r="10" fill="#7010c8" opacity="0.8"/>
<path d="M1094 218 L1149 244 L1073 336 Z" fill="#3aa8d0" opacity="0.7" filter="url(#b8)"/>
<path d="M1106 224 L1137 238 L1085 310 Z" fill="#2840c0" opacity="0.95" filter="url(#b4)"/>
<circle cx="1120" cy="235" r="14" fill="#7010c8" opacity="0.8"/>
<path d="M1159 265 L1203 279 L1153 363 Z" fill="#3aa8d0" opacity="0.7" filter="url(#b8)"/>
<path d="M1169 268 L1193 276 L1160 340 Z" fill="#2840c0" opacity="0.95" filter="url(#b4)"/>
<circle cx="1180" cy="275" r="10" fill="#7010c8" opacity="0.8"/>
<path d="M681 376 L712 291 L794 369 Z" fill="#3aa8d0" opacity="0.7" filter="url(#b8)"/>
<path d="M688 357 L705 310 L770 360 Z" fill="#2840c0" opacity="0.95" filter="url(#b4)"/>
<circle cx="700" cy="335" r="20" fill="#7010c8" opacity="0.8"/>
<path d="M1277 293 L1324 300 L1286 394 Z" fill="#3aa8d0" opacity="0.7" filter="url(#b8)"/>
<path d="M1288 295 L1313 298 L1290 370 Z" fill="#2840c0" opacity="0.95" filter="url(#b4)"/>
<circle cx="1300" cy="300" r="10" fill="#7010c8" opacity="0.8"/>
<path d="M1427 370 L1457 396 L1386 446 Z" fill="#3aa8d0" opacity="0.7" filter="url(#b8)"/>
<path d="M1434 375 L1450 390 L1400 430 Z" fill="#2840c0" opacity="0.95" filter="url(#b4)"/>
<circle cx="1440" cy="385" r="9" fill="#7010c8" opacity="0.8"/>
<path d="M1523 418 L1533 460 L1437 460 Z" fill="#3aa8d0" opacity="0.7" filter="url(#b8)"/>
<path d="M1526 428 L1531 451 L1460 455 Z" fill="#2840c0" opacity="0.95" filter="url(#b4)"/>
<circle cx="1525" cy="440" r="10" fill="#7010c8" opacity="0.8"/>
<path d="M1554 619 L1556 691 L1268 662 Z" fill="#3aa8d0" opacity="0.7" filter="url(#b8)"/>
<path d="M1555 635 L1556 675 L1340 660 Z" fill="#2840c0" opacity="0.95" filter="url(#b4)"/>
<circle cx="1545" cy="655" r="16" fill="#7010c8" opacity="0.8"/>
<path d="M1657 750 L1673 828 L1525 817 Z" fill="#3aa8d0" opacity="0.7" filter="url(#b8)"/>
<path d="M1661 767 L1669 811 L1560 810 Z" fill="#2840c0" opacity="0.95" filter="url(#b4)"/>
<circle cx="1660" cy="790" r="18" fill="#7010c8" opacity="0.8"/>
<path d="M1711 965 L1702 1037 L1524 980 Z" fill="#3aa8d0" opacity="0.7" filter="url(#b8)"/>
<path d="M1709 981 L1704 1021 L1570 985 Z" fill="#2840c0" opacity="0.95" filter="url(#b4)"/>
<circle cx="1700" cy="1000" r="16" fill="#7010c8" opacity="0.8"/>
<path d="M1614 1190 L1554 1257 L1472 1126 Z" fill="#3aa8d0" opacity="0.7" filter="url(#b8)"/>
<path d="M1600 1205 L1568 1242 L1500 1150 Z" fill="#2840c0" opacity="0.95" filter="url(#b4)"/>
<circle cx="1580" cy="1220" r="20" fill="#7010c8" opacity="0.8"/>
<path d="M1509 1366 L1476 1399 L1422 1312 Z" fill="#3aa8d0" opacity="0.7" filter="url(#b8)"/>
<path d="M1502 1373 L1483 1392 L1440 1330 Z" fill="#2840c0" opacity="0.95" filter="url(#b4)"/>
<circle cx="1490" cy="1380" r="10" fill="#7010c8" opacity="0.8"/>
<path d="M1352 1524 L1308 1524 L1330 1398 Z" fill="#3aa8d0" opacity="0.7" filter="url(#b8)"/>
<path d="M1342 1524 L1318 1524 L1330 1430 Z" fill="#2840c0" opacity="0.95" filter="url(#b4)"/>
<circle cx="1330" cy="1520" r="10" fill="#7010c8" opacity="0.8"/>
<path d="M1251 1524 L1191 1535 L1200 1410 Z" fill="#3aa8d0" opacity="0.7" filter="url(#b8)"/>
<path d="M1237 1526 L1204 1532 L1205 1440 Z" fill="#2840c0" opacity="0.95" filter="url(#b4)"/>
<circle cx="1220" cy="1525" r="14" fill="#7010c8" opacity="0.8"/>
<path d="M1030 1363 L1025 1338 L1098 1336 Z" fill="#3aa8d0" opacity="0.7" filter="url(#b8)"/>
<path d="M1029 1357 L1026 1344 L1080 1340 Z" fill="#2840c0" opacity="0.95" filter="url(#b4)"/>
<circle cx="1030" cy="1350" r="6" fill="#7010c8" opacity="0.8"/>
<path d="M360 955 L422 936 L430 1072 Z" fill="#3aa8d0" opacity="0.7" filter="url(#b8)"/>
<path d="M373 951 L408 940 L420 1040 Z" fill="#2840c0" opacity="0.95" filter="url(#b4)"/>
<circle cx="392" cy="950" r="14" fill="#7010c8" opacity="0.8"/>
<path d="M386 1055 L393 984 L537 1034 Z" fill="#3aa8d0" opacity="0.7" filter="url(#b8)"/>
<path d="M388 1039 L392 1000 L500 1030 Z" fill="#2840c0" opacity="0.95" filter="url(#b4)"/>
<circle cx="395" cy="1020" r="16" fill="#7010c8" opacity="0.8"/>
<path d="M330 868 L295 837 L376 782 Z" fill="#3aa8d0" opacity="0.7" filter="url(#b8)"/>
<path d="M322 861 L303 844 L360 800 Z" fill="#2840c0" opacity="0.95" filter="url(#b4)"/>
<circle cx="315" cy="850" r="10" fill="#7010c8" opacity="0.8"/>
<path d="M480 1237 L455 1207 L538 1166 Z" fill="#3aa8d0" opacity="0.7" filter="url(#b8)"/>
<path d="M474 1231 L461 1213 L520 1180 Z" fill="#2840c0" opacity="0.95" filter="url(#b4)"/>
<circle cx="470" cy="1220" r="9" fill="#7010c8" opacity="0.8"/>
<path d="M582 1266 L555 1248 L610 1194 Z" fill="#3aa8d0" opacity="0.7" filter="url(#b8)"/>
<path d="M576 1262 L561 1252 L600 1210 Z" fill="#2840c0" opacity="0.95" filter="url(#b4)"/>
<circle cx="570" cy="1255" r="7" fill="#7010c8" opacity="0.8"/>
<path d="M163 524 L210 470 L284 581 Z" fill="#3aa8d0" opacity="0.7" filter="url(#b8)"/>
<path d="M173 512 L200 482 L260 560 Z" fill="#2840c0" opacity="0.95" filter="url(#b4)"/>
<circle cx="190" cy="500" r="16" fill="#7010c8" opacity="0.8"/>
<path d="M313 658 L355 637 L369 718 Z" fill="#3aa8d0" opacity="0.7" filter="url(#b8)"/>
<path d="M322 653 L345 642 L360 700 Z" fill="#2840c0" opacity="0.95" filter="url(#b4)"/>
<circle cx="335" cy="650" r="10" fill="#7010c8" opacity="0.8"/>
<path d="M1698 1063 L1691 1099 L1568 1053 Z" fill="#3aa8d0" opacity="0.7" filter="url(#b8)"/>
<path d="M1697 1071 L1692 1091 L1600 1060 Z" fill="#2840c0" opacity="0.95" filter="url(#b4)"/>
<circle cx="1690" cy="1080" r="8" fill="#7010c8" opacity="0.8"/>
<path d="M1626 1163 L1620 1198 L1539 1166 Z" fill="#3aa8d0" opacity="0.7" filter="url(#b8)"/>
<path d="M1625 1171 L1621 1190 L1560 1170 Z" fill="#2840c0" opacity="0.95" filter="url(#b4)"/>
<circle cx="1620" cy="1180" r="8" fill="#7010c8" opacity="0.8"/>
<path d="M1395 1501 L1366 1505 L1366 1419 Z" fill="#3aa8d0" opacity="0.7" filter="url(#b8)"/>
<path d="M1388 1502 L1373 1504 L1370 1440 Z" fill="#2840c0" opacity="0.95" filter="url(#b4)"/>
<circle cx="1380" cy="1500" r="6" fill="#7010c8" opacity="0.8"/>
<path d="M430 630 L500 612 L572 600 L600 660 L640 700 L682 738 L655 770 L600 800 L540 830 L470 850 L438 842 L478 800 L430 782 L400 762 L420 722 L450 700 L440 660 Z" fill="url(#gRonne)"/>
<path d="M605 572 L650 560 L700 598 L712 640 L680 652 L640 630 L612 602 Z" fill="#a800b4"/>
<path d="M600 650 L690 730" fill="none" stroke="#2030c8" stroke-width="22" stroke-linecap="round" opacity="0.85"/>
<path d="M540 760 L600 800 L660 760" fill="none" stroke="#2030c8" stroke-width="18" stroke-linecap="round" opacity="0.85"/>
<path d="M470 800 L420 770" fill="none" stroke="#2030c8" stroke-width="10" stroke-linecap="round" opacity="0.85"/>
<path d="M700 600 L760 560 L830 520" fill="none" stroke="#2030c8" stroke-width="14" stroke-linecap="round" opacity="0.85"/>
<path d="M690 640 L780 600 L850 590" fill="none" stroke="#2030c8" stroke-width="12" stroke-linecap="round" opacity="0.85"/>
<path d="M720 660 L760 700" fill="none" stroke="#2030c8" stroke-width="10" stroke-linecap="round" opacity="0.85"/>
<path d="M640 1130 L700 1140 L800 1118 L950 1118 L1008 1165 L992 1250 L962 1298 L900 1302 L830 1292 L782 1252 L742 1258 L722 1205 L652 1162 Z" fill="url(#gRoss)"/>
<path d="M640 1140 L720 1180 L770 1230" fill="none" stroke="#2030c8" stroke-width="20" stroke-linecap="round" opacity="0.85"/>
<path d="M660 1070 L720 1150" fill="none" stroke="#2030c8" stroke-width="12" stroke-linecap="round" opacity="0.85"/>
<path d="M720 1200 L740 1250" fill="none" stroke="#2030c8" stroke-width="10" stroke-linecap="round" opacity="0.85"/>
<path d="M144 482 L165 477 L184 490 L254 530 L248 557 L211 549 L162 506 Z" fill="#7a10c8" opacity="0.9"/>
<path d="M650 385 L680 380 L722 410 L700 432 L662 442 Z" fill="#b800a8"/>
<path d="M862 186 L884 184 L880 250 L866 262 Z" fill="#b000b0"/>
<path d="M1360 655 L1480 645 L1575 635 L1580 680 L1480 670 L1380 668 Z" fill="url(#gAmery)"/>
<path d="M830 262 L900 268 L980 262 L1060 252 L1140 292 L1210 305 L1260 330" fill="none" stroke="#777" stroke-width="34" stroke-linecap="round" filter="url(#speck)" opacity="0.6"/>
<path d="M105 400 L140 480 L210 540 L290 585 L370 630 L420 660" fill="none" stroke="#777" stroke-width="55" stroke-linecap="round" filter="url(#speck)" opacity="0.6"/>
<path d="M300 760 L320 860 L300 940 L330 1000" fill="none" stroke="#777" stroke-width="30" stroke-linecap="round" filter="url(#speck)" opacity="0.6"/>
<path d="M420 1185 L500 1232 L600 1262 L700 1272" fill="none" stroke="#777" stroke-width="34" stroke-linecap="round" filter="url(#speck)" opacity="0.6"/>
<path d="M1360 615 L1440 612 L1520 625" fill="none" stroke="#777" stroke-width="26" stroke-linecap="round" filter="url(#speck)" opacity="0.6"/>
<path d="M1380 700 L1450 705 L1520 690" fill="none" stroke="#777" stroke-width="22" stroke-linecap="round" filter="url(#speck)" opacity="0.6"/>
<path d="M1000 1300 L1010 1400 L1000 1470 L1030 1520" fill="none" stroke="#777" stroke-width="50" stroke-linecap="round" filter="url(#speck)" opacity="0.6"/>
</g>
<path d="M830 262 L900 268 L980 262 L1060 252 L1140 292 L1210 305 L1260 330" fill="none" stroke="#777" stroke-width="34" stroke-linecap="round" filter="url(#speck)" opacity="0.6"/>
<path d="M105 400 L140 480 L210 540 L290 585 L370 630 L420 660" fill="none" stroke="#777" stroke-width="55" stroke-linecap="round" filter="url(#speck)" opacity="0.6"/>
<path d="M300 760 L320 860 L300 940 L330 1000" fill="none" stroke="#777" stroke-width="30" stroke-linecap="round" filter="url(#speck)" opacity="0.6"/>
<path d="M420 1185 L500 1232 L600 1262 L700 1272" fill="none" stroke="#777" stroke-width="34" stroke-linecap="round" filter="url(#speck)" opacity="0.6"/>
<path d="M1360 615 L1440 612 L1520 625" fill="none" stroke="#777" stroke-width="26" stroke-linecap="round" filter="url(#speck)" opacity="0.6"/>
<path d="M1380 700 L1450 705 L1520 690" fill="none" stroke="#777" stroke-width="22" stroke-linecap="round" filter="url(#speck)" opacity="0.6"/>
<path d="M1000 1300 L1010 1400 L1000 1470 L1030 1520" fill="none" stroke="#777" stroke-width="50" stroke-linecap="round" filter="url(#speck)" opacity="0.6"/>
<path d="M680 715 L740 790 L800 880 L860 960 L930 1050 L985 1120 L1010 1180 L1005 1260 L1015 1330 L1000 1400 L1010 1480" fill="none" stroke="#777" stroke-width="64" filter="url(#speck)" opacity="0.75"/>
</g></g>
<g transform="translate(980.22,198.20) scale(0.13408)">
<g clip-path="url(#cg)">
<path d="M103 379 L117 381 L131 442 L140 479 L169 479 L206 494 L244 517 L262 545 L281 545 L319 564 L356 578 L384 601 L412 616 L431 630 L474 611 L525 604 L572 604 L581 592 L605 583 L642 559 L652 531 L647 508 L656 470 L666 447 L647 386 L685 376 L685 320 L713 296 L732 273 L769 226 L807 212 L863 184 L886 179 L901 189 L927 199 L991 201 L1041 201 L1066 199 L1101 216 L1125 231 L1155 261 L1224 263 L1264 266 L1294 280 L1304 315 L1324 335 L1343 325 L1373 328 L1423 340 L1448 350 L1473 360 L1502 365 L1542 380 L1557 410 L1562 439 L1552 479 L1562 519 L1572 548 L1582 578 L1592 608 L1572 633 L1582 662 L1567 682 L1572 712 L1596 732 L1621 757 L1651 772 L1671 796 L1691 826 L1681 851 L1676 886 L1686 915 L1681 945 L1715 960 L1730 975 L1720 984 L1710 1004 L1710 1038 L1701 1068 L1671 1093 L1651 1123 L1636 1163 L1646 1192 L1606 1222 L1587 1242 L1572 1262 L1562 1301 L1532 1321 L1522 1351 L1497 1381 L1502 1410 L1473 1440 L1438 1460 L1398 1485 L1348 1500 L1324 1540 L1314 1510 L1284 1510 L1234 1520 L1200 1540 L1150 1534 L1086 1515 L1026 1515 L986 1495 L986 1440 L1006 1410 L1016 1376 L1026 1351 L1016 1321 L1001 1301 L981 1291 L952 1296 L948 1300 L896 1296 L862 1283 L810 1270 L780 1249 L763 1253 L729 1262 L716 1283 L665 1274 L622 1287 L579 1274 L544 1257 L493 1232 L450 1210 L428 1219 L420 1197 L403 1172 L394 1137 L386 1112 L381 1077 L381 1060 L390 1043 L381 1026 L386 1013 L381 983 L364 987 L343 1000 L321 1013 L291 1013 L278 1000 L270 974 L266 944 L270 931 L287 919 L291 897 L290 874 L300 845 L323 817 L314 789 L290 766 L295 747 L272 719 L248 724 L215 700 L201 667 L197 639 L215 616 L192 601 L154 573 L135 545 L112 498 L110 442 L100 404 Z" fill="#40c8f0" opacity="1"/>
<g filter="url(#b40)" fill="#c8f060" opacity="0.95">
<ellipse cx="1150" cy="380" rx="250" ry="110" transform="rotate(10 1150 380)"/>
<ellipse cx="1500" cy="700" rx="90" ry="250" transform="rotate(0 1500 700)"/>
<ellipse cx="1250" cy="1350" rx="200" ry="90" transform="rotate(-20 1250 1350)"/>
<ellipse cx="850" cy="450" rx="120" ry="70" transform="rotate(0 850 450)"/>
<ellipse cx="600" cy="950" rx="100" ry="120" transform="rotate(0 600 950)"/>
</g>
<g filter="url(#b14)" fill="#0a2cc8" opacity="0.9">
<ellipse cx="1250" cy="760" rx="170" ry="200" transform="rotate(0 1250 760)"/>
<ellipse cx="1120" cy="1040" rx="120" ry="150" transform="rotate(0 1120 1040)"/>
<ellipse cx="1350" cy="1150" rx="160" ry="120" transform="rotate(0 1350 1150)"/>
<ellipse cx="1050" cy="420" rx="120" ry="60" transform="rotate(0 1050 420)"/>
</g>
<g filter="url(#b25)" fill="#ff3a10" opacity="0.95">
<ellipse cx="560" cy="700" rx="140" ry="70" transform="rotate(-40 560 700)"/>
<ellipse cx="700" cy="600" rx="90" ry="80" transform="rotate(0 700 600)"/>
<ellipse cx="980" cy="1240" rx="80" ry="230" transform="rotate(-15 980 1240)"/>
<ellipse cx="800" cy="1180" rx="120" ry="70" transform="rotate(10 800 1180)"/>
</g>
<g filter="url(#b14)" fill="#c00000" opacity="0.9">
<ellipse cx="560" cy="700" rx="90" ry="40" transform="rotate(-40 560 700)"/>
<ellipse cx="990" cy="1260" rx="40" ry="170" transform="rotate(-15 990 1260)"/>
</g>
<g filter="url(#b14)" fill="#1030c8" opacity="0.85">
<path d="M60 360 L200 440 L350 540 L440 600 L470 720 L420 780 L330 760 L240 680 L150 560 L90 450 Z"/>
<ellipse cx="420" cy="980" rx="100" ry="140" transform="rotate(0 420 980)"/>
</g>
<path d="M903 448 L978 348 L1014 369 L1025 406 L1012 423 L1042 448 L1064 448 L1094 440 L1132 461 L1205 431 L1214 448 L1244 502 L1321 496 L1381 508 L1386 470 L1433 470 L1433 526 L1218 541 L1184 560 L1184 588 L1111 588 L1090 564 L965 556 L1047 504 L957 487 Z" fill="#b3b3b3"/>
<path d="M862 348 L888 348 L888 376 L862 376 Z" fill="#b3b3b3"/>
<path d="M1270 412 L1300 416 L1300 431 L1272 431 Z" fill="#b3b3b3"/>
<path d="M1129 811 L1185 740 L1223 762 L1253 819 L1324 841 L1335 826 L1369 841 L1403 811 L1388 751 L1500 777 L1493 871 L1560 920 L1590 924 L1549 939 L1508 924 L1470 912 L1448 946 L1418 961 L1388 957 L1350 939 L1320 961 L1346 1010 L1238 1063 L1230 1033 L1268 1010 L1253 961 L1200 969 L1196 920 L1129 879 L1140 871 L1193 856 L1155 811 Z" fill="#b3b3b3"/>
<path d="M1313 1104 L1346 1093 L1395 1134 L1388 1156 L1365 1160 Z" fill="#b3b3b3"/>
<path d="M1181 1006 L1200 1006 L1196 1149 L1181 1145 Z" fill="#b3b3b3"/>
<circle cx="882" cy="875" r="246" fill="#b3b3b3"/>
<path d="M700 740 L770 850 L850 980 L930 1080 L975 1120" fill="none" stroke="#222" stroke-width="30" stroke-dasharray="8 10" opacity="0.45"/>
</g></g>
<g transform="translate(2064.42,195.50) scale(0.13408)">
<g clip-path="url(#cg)">
<path d="M103 379 L117 381 L131 442 L140 479 L169 479 L206 494 L244 517 L262 545 L281 545 L319 564 L356 578 L384 601 L412 616 L431 630 L474 611 L525 604 L572 604 L581 592 L605 583 L642 559 L652 531 L647 508 L656 470 L666 447 L647 386 L685 376 L685 320 L713 296 L732 273 L769 226 L807 212 L863 184 L886 179 L901 189 L927 199 L991 201 L1041 201 L1066 199 L1101 216 L1125 231 L1155 261 L1224 263 L1264 266 L1294 280 L1304 315 L1324 335 L1343 325 L1373 328 L1423 340 L1448 350 L1473 360 L1502 365 L1542 380 L1557 410 L1562 439 L1552 479 L1562 519 L1572 548 L1582 578 L1592 608 L1572 633 L1582 662 L1567 682 L1572 712 L1596 732 L1621 757 L1651 772 L1671 796 L1691 826 L1681 851 L1676 886 L1686 915 L1681 945 L1715 960 L1730 975 L1720 984 L1710 1004 L1710 1038 L1701 1068 L1671 1093 L1651 1123 L1636 1163 L1646 1192 L1606 1222 L1587 1242 L1572 1262 L1562 1301 L1532 1321 L1522 1351 L1497 1381 L1502 1410 L1473 1440 L1438 1460 L1398 1485 L1348 1500 L1324 1540 L1314 1510 L1284 1510 L1234 1520 L1200 1540 L1150 1534 L1086 1515 L1026 1515 L986 1495 L986 1440 L1006 1410 L1016 1376 L1026 1351 L1016 1321 L1001 1301 L981 1291 L952 1296 L948 1300 L896 1296 L862 1283 L810 1270 L780 1249 L763 1253 L729 1262 L716 1283 L665 1274 L622 1287 L579 1274 L544 1257 L493 1232 L450 1210 L428 1219 L420 1197 L403 1172 L394 1137 L386 1112 L381 1077 L381 1060 L390 1043 L381 1026 L386 1013 L381 983 L364 987 L343 1000 L321 1013 L291 1013 L278 1000 L270 974 L266 944 L270 931 L287 919 L291 897 L290 874 L300 845 L323 817 L314 789 L290 766 L295 747 L272 719 L248 724 L215 700 L201 667 L197 639 L215 616 L192 601 L154 573 L135 545 L112 498 L110 442 L100 404 Z" fill="#b3b3b3" opacity="1"/>
<g clip-path="url(#covD)">
<path d="M103 379 L117 381 L131 442 L140 479 L169 479 L206 494 L244 517 L262 545 L281 545 L319 564 L356 578 L384 601 L412 616 L431 630 L474 611 L525 604 L572 604 L581 592 L605 583 L642 559 L652 531 L647 508 L656 470 L666 447 L647 386 L685 376 L685 320 L713 296 L732 273 L769 226 L807 212 L863 184 L886 179 L901 189 L927 199 L991 201 L1041 201 L1066 199 L1101 216 L1125 231 L1155 261 L1224 263 L1264 266 L1294 280 L1304 315 L1324 335 L1343 325 L1373 328 L1423 340 L1448 350 L1473 360 L1502 365 L1542 380 L1557 410 L1562 439 L1552 479 L1562 519 L1572 548 L1582 578 L1592 608 L1572 633 L1582 662 L1567 682 L1572 712 L1596 732 L1621 757 L1651 772 L1671 796 L1691 826 L1681 851 L1676 886 L1686 915 L1681 945 L1715 960 L1730 975 L1720 984 L1710 1004 L1710 1038 L1701 1068 L1671 1093 L1651 1123 L1636 1163 L1646 1192 L1606 1222 L1587 1242 L1572 1262 L1562 1301 L1532 1321 L1522 1351 L1497 1381 L1502 1410 L1473 1440 L1438 1460 L1398 1485 L1348 1500 L1324 1540 L1314 1510 L1284 1510 L1234 1520 L1200 1540 L1150 1534 L1086 1515 L1026 1515 L986 1495 L986 1440 L1006 1410 L1016 1376 L1026 1351 L1016 1321 L1001 1301 L981 1291 L952 1296 L948 1300 L896 1296 L862 1283 L810 1270 L780 1249 L763 1253 L729 1262 L716 1283 L665 1274 L622 1287 L579 1274 L544 1257 L493 1232 L450 1210 L428 1219 L420 1197 L403 1172 L394 1137 L386 1112 L381 1077 L381 1060 L390 1043 L381 1026 L386 1013 L381 983 L364 987 L343 1000 L321 1013 L291 1013 L278 1000 L270 974 L266 944 L270 931 L287 919 L291 897 L290 874 L300 845 L323 817 L314 789 L290 766 L295 747 L272 719 L248 724 L215 700 L201 667 L197 639 L215 616 L192 601 L154 573 L135 545 L112 498 L110 442 L100 404 Z" fill="#1838e0" opacity="1"/>
<g filter="url(#b25)" fill="#2870ff" opacity="0.8">
<ellipse cx="1350" cy="1100" rx="150" ry="150" transform="rotate(0 1350 1100)"/>
<ellipse cx="1500" cy="700" rx="100" ry="150" transform="rotate(0 1500 700)"/>
</g>
</g>
<path d="M1795 991 L1807 1036 L1817 1082 L1824 1128 L1109 1215 L1109 1211 L1108 1206 L1107 1202 Z" fill="#b3b3b3"/>
<path d="M1749 874 L1761 900 L1772 925 L1308 1113 L1304 1103 L1300 1093 Z" fill="#b3b3b3"/>
<path d="M1360 1000 L1700 930 L1720 1090 L1420 1110 Z" fill="#b3b3b3"/>
<path d="M1026 173 L1049 179 L1073 185 L983 500 L970 497 L957 494 Z" fill="#b3b3b3"/>
<path d="M1209 240 L1225 249 L1241 258 L1072 539 L1063 534 L1055 530 Z" fill="#b3b3b3"/>
<path d="M1573 458 L1580 470 L1586 482 L1208 683 L1205 678 L1202 672 Z" fill="#b3b3b3"/>
<path d="M1672 969 L1670 983 L1668 997 L1246 923 L1247 916 L1248 910 Z" fill="#b3b3b3"/>
<path d="M781 -87 L807 -89 L851 487 L841 488 Z" fill="#b3b3b3" opacity="0.6"/>
<path d="M897 -92 L923 -91 L897 486 L886 486 Z" fill="#b3b3b3" opacity="0.6"/>
<path d="M1012 -83 L1038 -79 L942 491 L932 490 Z" fill="#b3b3b3" opacity="0.6"/>
<path d="M1126 -60 L1151 -52 L986 502 L976 499 Z" fill="#b3b3b3" opacity="0.6"/>
<path d="M1236 -23 L1260 -13 L1029 517 L1019 513 Z" fill="#b3b3b3" opacity="0.6"/>
<path d="M1341 27 L1364 40 L1069 538 L1060 533 Z" fill="#b3b3b3" opacity="0.6"/>
<path d="M1438 89 L1460 105 L1107 563 L1099 557 Z" fill="#b3b3b3" opacity="0.6"/>
<path d="M1528 163 L1547 182 L1141 593 L1134 586 Z" fill="#b3b3b3" opacity="0.6"/>
<path d="M1608 247 L1625 268 L1172 627 L1165 619 Z" fill="#b3b3b3" opacity="0.6"/>
<path d="M1677 341 L1691 363 L1198 664 L1192 655 Z" fill="#b3b3b3" opacity="0.6"/>
<path d="M1734 442 L1745 466 L1219 704 L1214 695 Z" fill="#b3b3b3" opacity="0.6"/>
<path d="M1778 549 L1787 574 L1235 747 L1232 737 Z" fill="#b3b3b3" opacity="0.6"/>
<path d="M1809 660 L1814 687 L1246 791 L1244 781 Z" fill="#b3b3b3" opacity="0.6"/>
<path d="M1826 775 L1828 802 L1251 836 L1251 826 Z" fill="#b3b3b3" opacity="0.6"/>
<path d="M1829 891 L1828 918 L1251 881 L1252 871 Z" fill="#b3b3b3" opacity="0.6"/>
<path d="M1818 1007 L1814 1033 L1246 926 L1247 916 Z" fill="#b3b3b3" opacity="0.6"/>
<path d="M1793 1120 L1786 1145 L1235 970 L1238 961 Z" fill="#b3b3b3" opacity="0.6"/>
<path d="M1754 1229 L1744 1253 L1218 1013 L1222 1003 Z" fill="#b3b3b3" opacity="0.6"/>
<path d="M1703 1333 L1689 1356 L1197 1053 L1202 1044 Z" fill="#b3b3b3" opacity="0.6"/>
<path d="M1639 1430 L1622 1451 L1171 1090 L1177 1082 Z" fill="#b3b3b3" opacity="0.6"/>
<path d="M1563 1518 L1545 1537 L1140 1124 L1148 1116 Z" fill="#b3b3b3" opacity="0.6"/>
<path d="M1478 1596 L1457 1613 L1106 1154 L1114 1147 Z" fill="#b3b3b3" opacity="0.6"/>
<path d="M1383 1664 L1361 1677 L1068 1179 L1077 1173 Z" fill="#b3b3b3" opacity="0.6"/>
<path d="M1281 1719 L1257 1730 L1028 1199 L1037 1195 Z" fill="#b3b3b3" opacity="0.6"/>
<path d="M700 740 L770 850 L850 980 L930 1080 L990 1140 L1010 1250" fill="none" stroke="#222" stroke-width="30" stroke-dasharray="8 10" opacity="0.45"/>
</g></g>
<g transform="translate(980.22,452.60) scale(0.13408)">
<g clip-path="url(#cg)">
<path d="M103 379 L117 381 L131 442 L140 479 L169 479 L206 494 L244 517 L262 545 L281 545 L319 564 L356 578 L384 601 L412 616 L431 630 L474 611 L525 604 L572 604 L581 592 L605 583 L642 559 L652 531 L647 508 L656 470 L666 447 L647 386 L685 376 L685 320 L713 296 L732 273 L769 226 L807 212 L863 184 L886 179 L901 189 L927 199 L991 201 L1041 201 L1066 199 L1101 216 L1125 231 L1155 261 L1224 263 L1264 266 L1294 280 L1304 315 L1324 335 L1343 325 L1373 328 L1423 340 L1448 350 L1473 360 L1502 365 L1542 380 L1557 410 L1562 439 L1552 479 L1562 519 L1572 548 L1582 578 L1592 608 L1572 633 L1582 662 L1567 682 L1572 712 L1596 732 L1621 757 L1651 772 L1671 796 L1691 826 L1681 851 L1676 886 L1686 915 L1681 945 L1715 960 L1730 975 L1720 984 L1710 1004 L1710 1038 L1701 1068 L1671 1093 L1651 1123 L1636 1163 L1646 1192 L1606 1222 L1587 1242 L1572 1262 L1562 1301 L1532 1321 L1522 1351 L1497 1381 L1502 1410 L1473 1440 L1438 1460 L1398 1485 L1348 1500 L1324 1540 L1314 1510 L1284 1510 L1234 1520 L1200 1540 L1150 1534 L1086 1515 L1026 1515 L986 1495 L986 1440 L1006 1410 L1016 1376 L1026 1351 L1016 1321 L1001 1301 L981 1291 L952 1296 L948 1300 L896 1296 L862 1283 L810 1270 L780 1249 L763 1253 L729 1262 L716 1283 L665 1274 L622 1287 L579 1274 L544 1257 L493 1232 L450 1210 L428 1219 L420 1197 L403 1172 L394 1137 L386 1112 L381 1077 L381 1060 L390 1043 L381 1026 L386 1013 L381 983 L364 987 L343 1000 L321 1013 L291 1013 L278 1000 L270 974 L266 944 L270 931 L287 919 L291 897 L290 874 L300 845 L323 817 L314 789 L290 766 L295 747 L272 719 L248 724 L215 700 L201 667 L197 639 L215 616 L192 601 L154 573 L135 545 L112 498 L110 442 L100 404 Z" fill="#1a5cff" opacity="1"/>
<g filter="url(#b40)" fill="#0a28d0" opacity="0.9">
<ellipse cx="1200" cy="700" rx="300" ry="420" transform="rotate(0 1200 700)"/>
<ellipse cx="1250" cy="1250" rx="200" ry="200" transform="rotate(0 1250 1250)"/>
</g>
<g filter="url(#b25)" fill="#30b8ff" opacity="0.9">
<path d="M270 880 L470 760 L640 760 L700 1000 L720 1300 L400 1300 L280 1050 Z"/>
<ellipse cx="700" cy="1000" rx="220" ry="150" transform="rotate(0 700 1000)"/>
</g>
<path d="M103 379 L117 381 L131 442 L140 479 L169 479 L206 494 L244 517 L262 545 L281 545 L319 564 L356 578 L384 601 L412 616 L431 630 L474 611 L525 604 L572 604 L581 592 L605 583 L642 559 L652 531 L647 508 L656 470 L666 447 L647 386 L685 376 L685 320 L713 296 L732 273 L769 226 L807 212 L863 184 L886 179 L901 189 L927 199 L991 201 L1041 201 L1066 199 L1101 216 L1125 231 L1155 261 L1224 263 L1264 266 L1294 280 L1304 315 L1324 335 L1343 325 L1373 328 L1423 340 L1448 350 L1473 360 L1502 365 L1542 380 L1557 410 L1562 439 L1552 479 L1562 519 L1572 548 L1582 578 L1592 608 L1572 633 L1582 662 L1567 682 L1572 712 L1596 732 L1621 757 L1651 772 L1671 796 L1691 826 L1681 851 L1676 886 L1686 915 L1681 945 L1715 960 L1730 975 L1720 984 L1710 1004 L1710 1038 L1701 1068 L1671 1093 L1651 1123 L1636 1163 L1646 1192 L1606 1222 L1587 1242 L1572 1262 L1562 1301 L1532 1321 L1522 1351 L1497 1381 L1502 1410 L1473 1440 L1438 1460 L1398 1485 L1348 1500 L1324 1540 L1314 1510 L1284 1510 L1234 1520 L1200 1540 L1150 1534 L1086 1515 L1026 1515 L986 1495 L986 1440 L1006 1410 L1016 1376 L1026 1351 L1016 1321 L1001 1301 L981 1291 L952 1296 L948 1300 L896 1296 L862 1283 L810 1270 L780 1249 L763 1253 L729 1262 L716 1283 L665 1274 L622 1287 L579 1274 L544 1257 L493 1232 L450 1210 L428 1219 L420 1197 L403 1172 L394 1137 L386 1112 L381 1077 L381 1060 L390 1043 L381 1026 L386 1013 L381 983 L364 987 L343 1000 L321 1013 L291 1013 L278 1000 L270 974 L266 944 L270 931 L287 919 L291 897 L290 874 L300 845 L323 817 L314 789 L290 766 L295 747 L272 719 L248 724 L215 700 L201 667 L197 639 L215 616 L192 601 L154 573 L135 545 L112 498 L110 442 L100 404 Z" fill="none" stroke="#30d8f0" stroke-width="130" filter="url(#b14)" opacity="0.9"/>
<path d="M103 379 L117 381 L131 442 L140 479 L169 479 L206 494 L244 517 L262 545 L281 545 L319 564 L356 578 L384 601 L412 616 L431 630 L474 611 L525 604 L572 604 L581 592 L605 583 L642 559 L652 531 L647 508 L656 470 L666 447 L647 386 L685 376 L685 320 L713 296 L732 273 L769 226 L807 212 L863 184 L886 179 L901 189 L927 199 L991 201 L1041 201 L1066 199 L1101 216 L1125 231 L1155 261 L1224 263 L1264 266 L1294 280 L1304 315 L1324 335 L1343 325 L1373 328 L1423 340 L1448 350 L1473 360 L1502 365 L1542 380 L1557 410 L1562 439 L1552 479 L1562 519 L1572 548 L1582 578 L1592 608 L1572 633 L1582 662 L1567 682 L1572 712 L1596 732 L1621 757 L1651 772 L1671 796 L1691 826 L1681 851 L1676 886 L1686 915 L1681 945 L1715 960 L1730 975 L1720 984 L1710 1004 L1710 1038 L1701 1068 L1671 1093 L1651 1123 L1636 1163 L1646 1192 L1606 1222 L1587 1242 L1572 1262 L1562 1301 L1532 1321 L1522 1351 L1497 1381 L1502 1410 L1473 1440 L1438 1460 L1398 1485 L1348 1500 L1324 1540 L1314 1510 L1284 1510 L1234 1520 L1200 1540 L1150 1534 L1086 1515 L1026 1515 L986 1495 L986 1440 L1006 1410 L1016 1376 L1026 1351 L1016 1321 L1001 1301 L981 1291 L952 1296 L948 1300 L896 1296 L862 1283 L810 1270 L780 1249 L763 1253 L729 1262 L716 1283 L665 1274 L622 1287 L579 1274 L544 1257 L493 1232 L450 1210 L428 1219 L420 1197 L403 1172 L394 1137 L386 1112 L381 1077 L381 1060 L390 1043 L381 1026 L386 1013 L381 983 L364 987 L343 1000 L321 1013 L291 1013 L278 1000 L270 974 L266 944 L270 931 L287 919 L291 897 L290 874 L300 845 L323 817 L314 789 L290 766 L295 747 L272 719 L248 724 L215 700 L201 667 L197 639 L215 616 L192 601 L154 573 L135 545 L112 498 L110 442 L100 404 Z" fill="none" stroke="#e8e040" stroke-width="50" filter="url(#b8)" opacity="0.7"/>
<path d="M103 379 L117 381 L131 442 L140 479 L169 479 L206 494 L244 517 L262 545 L281 545 L319 564 L356 578 L384 601 L412 616 L431 630 L474 611 L525 604 L572 604 L581 592 L605 583 L642 559 L652 531 L647 508 L656 470 L666 447 L647 386 L685 376 L685 320 L713 296 L732 273 L769 226 L807 212 L863 184 L886 179 L901 189 L927 199 L991 201 L1041 201 L1066 199 L1101 216 L1125 231 L1155 261 L1224 263 L1264 266 L1294 280 L1304 315 L1324 335 L1343 325 L1373 328 L1423 340 L1448 350 L1473 360 L1502 365 L1542 380 L1557 410 L1562 439 L1552 479 L1562 519 L1572 548 L1582 578 L1592 608 L1572 633 L1582 662 L1567 682 L1572 712 L1596 732 L1621 757 L1651 772 L1671 796 L1691 826 L1681 851 L1676 886 L1686 915 L1681 945 L1715 960 L1730 975 L1720 984 L1710 1004 L1710 1038 L1701 1068 L1671 1093 L1651 1123 L1636 1163 L1646 1192 L1606 1222 L1587 1242 L1572 1262 L1562 1301 L1532 1321 L1522 1351 L1497 1381 L1502 1410 L1473 1440 L1438 1460 L1398 1485 L1348 1500 L1324 1540 L1314 1510 L1284 1510 L1234 1520 L1200 1540 L1150 1534 L1086 1515 L1026 1515 L986 1495 L986 1440 L1006 1410 L1016 1376 L1026 1351 L1016 1321 L1001 1301 L981 1291 L952 1296 L948 1300 L896 1296 L862 1283 L810 1270 L780 1249 L763 1253 L729 1262 L716 1283 L665 1274 L622 1287 L579 1274 L544 1257 L493 1232 L450 1210 L428 1219 L420 1197 L403 1172 L394 1137 L386 1112 L381 1077 L381 1060 L390 1043 L381 1026 L386 1013 L381 983 L364 987 L343 1000 L321 1013 L291 1013 L278 1000 L270 974 L266 944 L270 931 L287 919 L291 897 L290 874 L300 845 L323 817 L314 789 L290 766 L295 747 L272 719 L248 724 L215 700 L201 667 L197 639 L215 616 L192 601 L154 573 L135 545 L112 498 L110 442 L100 404 Z" fill="none" stroke="#a00800" stroke-width="45" stroke-dasharray="25 45" stroke-dashoffset="0" opacity="0.95"/>
<path d="M103 379 L117 381 L131 442 L140 479 L169 479 L206 494 L244 517 L262 545 L281 545 L319 564 L356 578 L384 601 L412 616 L431 630 L474 611 L525 604 L572 604 L581 592 L605 583 L642 559 L652 531 L647 508 L656 470 L666 447 L647 386 L685 376 L685 320 L713 296 L732 273 L769 226 L807 212 L863 184 L886 179 L901 189 L927 199 L991 201 L1041 201 L1066 199 L1101 216 L1125 231 L1155 261 L1224 263 L1264 266 L1294 280 L1304 315 L1324 335 L1343 325 L1373 328 L1423 340 L1448 350 L1473 360 L1502 365 L1542 380 L1557 410 L1562 439 L1552 479 L1562 519 L1572 548 L1582 578 L1592 608 L1572 633 L1582 662 L1567 682 L1572 712 L1596 732 L1621 757 L1651 772 L1671 796 L1691 826 L1681 851 L1676 886 L1686 915 L1681 945 L1715 960 L1730 975 L1720 984 L1710 1004 L1710 1038 L1701 1068 L1671 1093 L1651 1123 L1636 1163 L1646 1192 L1606 1222 L1587 1242 L1572 1262 L1562 1301 L1532 1321 L1522 1351 L1497 1381 L1502 1410 L1473 1440 L1438 1460 L1398 1485 L1348 1500 L1324 1540 L1314 1510 L1284 1510 L1234 1520 L1200 1540 L1150 1534 L1086 1515 L1026 1515 L986 1495 L986 1440 L1006 1410 L1016 1376 L1026 1351 L1016 1321 L1001 1301 L981 1291 L952 1296 L948 1300 L896 1296 L862 1283 L810 1270 L780 1249 L763 1253 L729 1262 L716 1283 L665 1274 L622 1287 L579 1274 L544 1257 L493 1232 L450 1210 L428 1219 L420 1197 L403 1172 L394 1137 L386 1112 L381 1077 L381 1060 L390 1043 L381 1026 L386 1013 L381 983 L364 987 L343 1000 L321 1013 L291 1013 L278 1000 L270 974 L266 944 L270 931 L287 919 L291 897 L290 874 L300 845 L323 817 L314 789 L290 766 L295 747 L272 719 L248 724 L215 700 L201 667 L197 639 L215 616 L192 601 L154 573 L135 545 L112 498 L110 442 L100 404 Z" fill="none" stroke="#d02000" stroke-width="30" stroke-dasharray="15 80" stroke-dashoffset="30" opacity="0.9"/>
<path d="M903 448 L978 348 L1014 369 L1025 406 L1012 423 L1042 448 L1064 448 L1094 440 L1132 461 L1205 431 L1214 448 L1244 502 L1321 496 L1381 508 L1386 470 L1433 470 L1433 526 L1218 541 L1184 560 L1184 588 L1111 588 L1090 564 L965 556 L1047 504 L957 487 Z" fill="#b3b3b3"/>
<path d="M862 348 L888 348 L888 376 L862 376 Z" fill="#b3b3b3"/>
<path d="M1270 412 L1300 416 L1300 431 L1272 431 Z" fill="#b3b3b3"/>
<path d="M1129 811 L1185 740 L1223 762 L1253 819 L1324 841 L1335 826 L1369 841 L1403 811 L1388 751 L1500 777 L1493 871 L1560 920 L1590 924 L1549 939 L1508 924 L1470 912 L1448 946 L1418 961 L1388 957 L1350 939 L1320 961 L1346 1010 L1238 1063 L1230 1033 L1268 1010 L1253 961 L1200 969 L1196 920 L1129 879 L1140 871 L1193 856 L1155 811 Z" fill="#b3b3b3"/>
<path d="M1313 1104 L1346 1093 L1395 1134 L1388 1156 L1365 1160 Z" fill="#b3b3b3"/>
<path d="M1181 1006 L1200 1006 L1196 1149 L1181 1145 Z" fill="#b3b3b3"/>
<g filter="url(#b8)" fill="#a00000" opacity="0.8">
<ellipse cx="980" cy="420" rx="50" ry="30" transform="rotate(0 980 420)"/>
<ellipse cx="1380" cy="600" rx="40" ry="30" transform="rotate(0 1380 600)"/>
<ellipse cx="1270" cy="1100" rx="40" ry="40" transform="rotate(0 1270 1100)"/>
<ellipse cx="1180" cy="1200" rx="50" ry="30" transform="rotate(0 1180 1200)"/>
</g>
<g filter="url(#b14)" fill="#c01808" opacity="0.55">
<path d="M60 360 L200 440 L350 540 L440 600 L470 720 L420 780 L330 760 L240 680 L150 560 L90 450 Z"/>
</g>
<g filter="url(#b8)" fill="#a00000" opacity="0.9">
<ellipse cx="480" cy="650" rx="60" ry="60" transform="rotate(0 480 650)"/>
</g>
<circle cx="882" cy="875" r="246" fill="#b3b3b3"/>
<path d="M700 740 L770 850 L850 980 L930 1080 L975 1120" fill="none" stroke="#222" stroke-width="30" stroke-dasharray="8 10" opacity="0.45"/>
</g></g>
<g transform="translate(2064.42,449.60) scale(0.13408)">
<g clip-path="url(#cg)">
<path d="M103 379 L117 381 L131 442 L140 479 L169 479 L206 494 L244 517 L262 545 L281 545 L319 564 L356 578 L384 601 L412 616 L431 630 L474 611 L525 604 L572 604 L581 592 L605 583 L642 559 L652 531 L647 508 L656 470 L666 447 L647 386 L685 376 L685 320 L713 296 L732 273 L769 226 L807 212 L863 184 L886 179 L901 189 L927 199 L991 201 L1041 201 L1066 199 L1101 216 L1125 231 L1155 261 L1224 263 L1264 266 L1294 280 L1304 315 L1324 335 L1343 325 L1373 328 L1423 340 L1448 350 L1473 360 L1502 365 L1542 380 L1557 410 L1562 439 L1552 479 L1562 519 L1572 548 L1582 578 L1592 608 L1572 633 L1582 662 L1567 682 L1572 712 L1596 732 L1621 757 L1651 772 L1671 796 L1691 826 L1681 851 L1676 886 L1686 915 L1681 945 L1715 960 L1730 975 L1720 984 L1710 1004 L1710 1038 L1701 1068 L1671 1093 L1651 1123 L1636 1163 L1646 1192 L1606 1222 L1587 1242 L1572 1262 L1562 1301 L1532 1321 L1522 1351 L1497 1381 L1502 1410 L1473 1440 L1438 1460 L1398 1485 L1348 1500 L1324 1540 L1314 1510 L1284 1510 L1234 1520 L1200 1540 L1150 1534 L1086 1515 L1026 1515 L986 1495 L986 1440 L1006 1410 L1016 1376 L1026 1351 L1016 1321 L1001 1301 L981 1291 L952 1296 L948 1300 L896 1296 L862 1283 L810 1270 L780 1249 L763 1253 L729 1262 L716 1283 L665 1274 L622 1287 L579 1274 L544 1257 L493 1232 L450 1210 L428 1219 L420 1197 L403 1172 L394 1137 L386 1112 L381 1077 L381 1060 L390 1043 L381 1026 L386 1013 L381 983 L364 987 L343 1000 L321 1013 L291 1013 L278 1000 L270 974 L266 944 L270 931 L287 919 L291 897 L290 874 L300 845 L323 817 L314 789 L290 766 L295 747 L272 719 L248 724 L215 700 L201 667 L197 639 L215 616 L192 601 L154 573 L135 545 L112 498 L110 442 L100 404 Z" fill="#b3b3b3" opacity="1"/>
<g clip-path="url(#covD)">
<path d="M103 379 L117 381 L131 442 L140 479 L169 479 L206 494 L244 517 L262 545 L281 545 L319 564 L356 578 L384 601 L412 616 L431 630 L474 611 L525 604 L572 604 L581 592 L605 583 L642 559 L652 531 L647 508 L656 470 L666 447 L647 386 L685 376 L685 320 L713 296 L732 273 L769 226 L807 212 L863 184 L886 179 L901 189 L927 199 L991 201 L1041 201 L1066 199 L1101 216 L1125 231 L1155 261 L1224 263 L1264 266 L1294 280 L1304 315 L1324 335 L1343 325 L1373 328 L1423 340 L1448 350 L1473 360 L1502 365 L1542 380 L1557 410 L1562 439 L1552 479 L1562 519 L1572 548 L1582 578 L1592 608 L1572 633 L1582 662 L1567 682 L1572 712 L1596 732 L1621 757 L1651 772 L1671 796 L1691 826 L1681 851 L1676 886 L1686 915 L1681 945 L1715 960 L1730 975 L1720 984 L1710 1004 L1710 1038 L1701 1068 L1671 1093 L1651 1123 L1636 1163 L1646 1192 L1606 1222 L1587 1242 L1572 1262 L1562 1301 L1532 1321 L1522 1351 L1497 1381 L1502 1410 L1473 1440 L1438 1460 L1398 1485 L1348 1500 L1324 1540 L1314 1510 L1284 1510 L1234 1520 L1200 1540 L1150 1534 L1086 1515 L1026 1515 L986 1495 L986 1440 L1006 1410 L1016 1376 L1026 1351 L1016 1321 L1001 1301 L981 1291 L952 1296 L948 1300 L896 1296 L862 1283 L810 1270 L780 1249 L763 1253 L729 1262 L716 1283 L665 1274 L622 1287 L579 1274 L544 1257 L493 1232 L450 1210 L428 1219 L420 1197 L403 1172 L394 1137 L386 1112 L381 1077 L381 1060 L390 1043 L381 1026 L386 1013 L381 983 L364 987 L343 1000 L321 1013 L291 1013 L278 1000 L270 974 L266 944 L270 931 L287 919 L291 897 L290 874 L300 845 L323 817 L314 789 L290 766 L295 747 L272 719 L248 724 L215 700 L201 667 L197 639 L215 616 L192 601 L154 573 L135 545 L112 498 L110 442 L100 404 Z" fill="#a00000" opacity="0.5"/>
<g filter="url(#b14)" fill="#30c8e8" opacity="0.6">
<ellipse cx="1300" cy="1150" rx="230" ry="160" transform="rotate(-20 1300 1150)"/>
<ellipse cx="1450" cy="800" rx="90" ry="180" transform="rotate(0 1450 800)"/>
</g>
<g filter="url(#b14)" fill="#f0d030" opacity="0.6">
<ellipse cx="1250" cy="1200" rx="140" ry="60" transform="rotate(-20 1250 1200)"/>
<ellipse cx="1150" cy="1350" rx="80" ry="50" transform="rotate(0 1150 1350)"/>
</g>
<g filter="url(#b14)" fill="#1030e0" opacity="0.6">
<ellipse cx="1350" cy="1050" rx="150" ry="60" transform="rotate(-30 1350 1050)"/>
</g>
<g filter="url(#b8)" fill="#a00000" opacity="0.7">
<ellipse cx="1150" cy="450" rx="150" ry="60" transform="rotate(-30 1150 450)"/>
<ellipse cx="1000" cy="420" rx="80" ry="40" transform="rotate(-60 1000 420)"/>
</g>
</g>
<path d="M1795 991 L1807 1036 L1817 1082 L1824 1128 L1109 1215 L1109 1211 L1108 1206 L1107 1202 Z" fill="#b3b3b3"/>
<path d="M1749 874 L1761 900 L1772 925 L1308 1113 L1304 1103 L1300 1093 Z" fill="#b3b3b3"/>
<path d="M1360 1000 L1700 930 L1720 1090 L1420 1110 Z" fill="#b3b3b3"/>
<path d="M1026 173 L1049 179 L1073 185 L983 500 L970 497 L957 494 Z" fill="#b3b3b3"/>
<path d="M1209 240 L1225 249 L1241 258 L1072 539 L1063 534 L1055 530 Z" fill="#b3b3b3"/>
<path d="M1573 458 L1580 470 L1586 482 L1208 683 L1205 678 L1202 672 Z" fill="#b3b3b3"/>
<path d="M1672 969 L1670 983 L1668 997 L1246 923 L1247 916 L1248 910 Z" fill="#b3b3b3"/>
<path d="M781 -87 L807 -89 L851 487 L841 488 Z" fill="#b3b3b3" opacity="0.6"/>
<path d="M897 -92 L923 -91 L897 486 L886 486 Z" fill="#b3b3b3" opacity="0.6"/>
<path d="M1012 -83 L1038 -79 L942 491 L932 490 Z" fill="#b3b3b3" opacity="0.6"/>
<path d="M1126 -60 L1151 -52 L986 502 L976 499 Z" fill="#b3b3b3" opacity="0.6"/>
<path d="M1236 -23 L1260 -13 L1029 517 L1019 513 Z" fill="#b3b3b3" opacity="0.6"/>
<path d="M1341 27 L1364 40 L1069 538 L1060 533 Z" fill="#b3b3b3" opacity="0.6"/>
<path d="M1438 89 L1460 105 L1107 563 L1099 557 Z" fill="#b3b3b3" opacity="0.6"/>
<path d="M1528 163 L1547 182 L1141 593 L1134 586 Z" fill="#b3b3b3" opacity="0.6"/>
<path d="M1608 247 L1625 268 L1172 627 L1165 619 Z" fill="#b3b3b3" opacity="0.6"/>
<path d="M1677 341 L1691 363 L1198 664 L1192 655 Z" fill="#b3b3b3" opacity="0.6"/>
<path d="M1734 442 L1745 466 L1219 704 L1214 695 Z" fill="#b3b3b3" opacity="0.6"/>
<path d="M1778 549 L1787 574 L1235 747 L1232 737 Z" fill="#b3b3b3" opacity="0.6"/>
<path d="M1809 660 L1814 687 L1246 791 L1244 781 Z" fill="#b3b3b3" opacity="0.6"/>
<path d="M1826 775 L1828 802 L1251 836 L1251 826 Z" fill="#b3b3b3" opacity="0.6"/>
<path d="M1829 891 L1828 918 L1251 881 L1252 871 Z" fill="#b3b3b3" opacity="0.6"/>
<path d="M1818 1007 L1814 1033 L1246 926 L1247 916 Z" fill="#b3b3b3" opacity="0.6"/>
<path d="M1793 1120 L1786 1145 L1235 970 L1238 961 Z" fill="#b3b3b3" opacity="0.6"/>
<path d="M1754 1229 L1744 1253 L1218 1013 L1222 1003 Z" fill="#b3b3b3" opacity="0.6"/>
<path d="M1703 1333 L1689 1356 L1197 1053 L1202 1044 Z" fill="#b3b3b3" opacity="0.6"/>
<path d="M1639 1430 L1622 1451 L1171 1090 L1177 1082 Z" fill="#b3b3b3" opacity="0.6"/>
<path d="M1563 1518 L1545 1537 L1140 1124 L1148 1116 Z" fill="#b3b3b3" opacity="0.6"/>
<path d="M1478 1596 L1457 1613 L1106 1154 L1114 1147 Z" fill="#b3b3b3" opacity="0.6"/>
<path d="M1383 1664 L1361 1677 L1068 1179 L1077 1173 Z" fill="#b3b3b3" opacity="0.6"/>
<path d="M1281 1719 L1257 1730 L1028 1199 L1037 1195 Z" fill="#b3b3b3" opacity="0.6"/>
<path d="M700 740 L770 850 L850 980 L930 1080 L990 1140 L1010 1250" fill="none" stroke="#222" stroke-width="30" stroke-dasharray="8 10" opacity="0.45"/>
</g></g>
<g transform="translate(980.22,707.00) scale(0.13408)">
<g clip-path="url(#cg)">
<path d="M103 379 L117 381 L131 442 L140 479 L169 479 L206 494 L244 517 L262 545 L281 545 L319 564 L356 578 L384 601 L412 616 L431 630 L474 611 L525 604 L572 604 L581 592 L605 583 L642 559 L652 531 L647 508 L656 470 L666 447 L647 386 L685 376 L685 320 L713 296 L732 273 L769 226 L807 212 L863 184 L886 179 L901 189 L927 199 L991 201 L1041 201 L1066 199 L1101 216 L1125 231 L1155 261 L1224 263 L1264 266 L1294 280 L1304 315 L1324 335 L1343 325 L1373 328 L1423 340 L1448 350 L1473 360 L1502 365 L1542 380 L1557 410 L1562 439 L1552 479 L1562 519 L1572 548 L1582 578 L1592 608 L1572 633 L1582 662 L1567 682 L1572 712 L1596 732 L1621 757 L1651 772 L1671 796 L1691 826 L1681 851 L1676 886 L1686 915 L1681 945 L1715 960 L1730 975 L1720 984 L1710 1004 L1710 1038 L1701 1068 L1671 1093 L1651 1123 L1636 1163 L1646 1192 L1606 1222 L1587 1242 L1572 1262 L1562 1301 L1532 1321 L1522 1351 L1497 1381 L1502 1410 L1473 1440 L1438 1460 L1398 1485 L1348 1500 L1324 1540 L1314 1510 L1284 1510 L1234 1520 L1200 1540 L1150 1534 L1086 1515 L1026 1515 L986 1495 L986 1440 L1006 1410 L1016 1376 L1026 1351 L1016 1321 L1001 1301 L981 1291 L952 1296 L948 1300 L896 1296 L862 1283 L810 1270 L780 1249 L763 1253 L729 1262 L716 1283 L665 1274 L622 1287 L579 1274 L544 1257 L493 1232 L450 1210 L428 1219 L420 1197 L403 1172 L394 1137 L386 1112 L381 1077 L381 1060 L390 1043 L381 1026 L386 1013 L381 983 L364 987 L343 1000 L321 1013 L291 1013 L278 1000 L270 974 L266 944 L270 931 L287 919 L291 897 L290 874 L300 845 L323 817 L314 789 L290 766 L295 747 L272 719 L248 724 L215 700 L201 667 L197 639 L215 616 L192 601 L154 573 L135 545 L112 498 L110 442 L100 404 Z" fill="#1a5cff" opacity="1"/>
<g filter="url(#b40)" fill="#0a28d0" opacity="0.9">
<ellipse cx="1200" cy="700" rx="300" ry="420" transform="rotate(0 1200 700)"/>
<ellipse cx="1250" cy="1250" rx="200" ry="200" transform="rotate(0 1250 1250)"/>
</g>
<g filter="url(#b25)" fill="#30b8ff" opacity="0.9">
<path d="M270 880 L470 760 L640 760 L700 1000 L720 1300 L400 1300 L280 1050 Z"/>
<ellipse cx="700" cy="1000" rx="220" ry="150" transform="rotate(0 700 1000)"/>
</g>
<path d="M103 379 L117 381 L131 442 L140 479 L169 479 L206 494 L244 517 L262 545 L281 545 L319 564 L356 578 L384 601 L412 616 L431 630 L474 611 L525 604 L572 604 L581 592 L605 583 L642 559 L652 531 L647 508 L656 470 L666 447 L647 386 L685 376 L685 320 L713 296 L732 273 L769 226 L807 212 L863 184 L886 179 L901 189 L927 199 L991 201 L1041 201 L1066 199 L1101 216 L1125 231 L1155 261 L1224 263 L1264 266 L1294 280 L1304 315 L1324 335 L1343 325 L1373 328 L1423 340 L1448 350 L1473 360 L1502 365 L1542 380 L1557 410 L1562 439 L1552 479 L1562 519 L1572 548 L1582 578 L1592 608 L1572 633 L1582 662 L1567 682 L1572 712 L1596 732 L1621 757 L1651 772 L1671 796 L1691 826 L1681 851 L1676 886 L1686 915 L1681 945 L1715 960 L1730 975 L1720 984 L1710 1004 L1710 1038 L1701 1068 L1671 1093 L1651 1123 L1636 1163 L1646 1192 L1606 1222 L1587 1242 L1572 1262 L1562 1301 L1532 1321 L1522 1351 L1497 1381 L1502 1410 L1473 1440 L1438 1460 L1398 1485 L1348 1500 L1324 1540 L1314 1510 L1284 1510 L1234 1520 L1200 1540 L1150 1534 L1086 1515 L1026 1515 L986 1495 L986 1440 L1006 1410 L1016 1376 L1026 1351 L1016 1321 L1001 1301 L981 1291 L952 1296 L948 1300 L896 1296 L862 1283 L810 1270 L780 1249 L763 1253 L729 1262 L716 1283 L665 1274 L622 1287 L579 1274 L544 1257 L493 1232 L450 1210 L428 1219 L420 1197 L403 1172 L394 1137 L386 1112 L381 1077 L381 1060 L390 1043 L381 1026 L386 1013 L381 983 L364 987 L343 1000 L321 1013 L291 1013 L278 1000 L270 974 L266 944 L270 931 L287 919 L291 897 L290 874 L300 845 L323 817 L314 789 L290 766 L295 747 L272 719 L248 724 L215 700 L201 667 L197 639 L215 616 L192 601 L154 573 L135 545 L112 498 L110 442 L100 404 Z" fill="none" stroke="#30d8f0" stroke-width="130" filter="url(#b14)" opacity="0.9"/>
<path d="M103 379 L117 381 L131 442 L140 479 L169 479 L206 494 L244 517 L262 545 L281 545 L319 564 L356 578 L384 601 L412 616 L431 630 L474 611 L525 604 L572 604 L581 592 L605 583 L642 559 L652 531 L647 508 L656 470 L666 447 L647 386 L685 376 L685 320 L713 296 L732 273 L769 226 L807 212 L863 184 L886 179 L901 189 L927 199 L991 201 L1041 201 L1066 199 L1101 216 L1125 231 L1155 261 L1224 263 L1264 266 L1294 280 L1304 315 L1324 335 L1343 325 L1373 328 L1423 340 L1448 350 L1473 360 L1502 365 L1542 380 L1557 410 L1562 439 L1552 479 L1562 519 L1572 548 L1582 578 L1592 608 L1572 633 L1582 662 L1567 682 L1572 712 L1596 732 L1621 757 L1651 772 L1671 796 L1691 826 L1681 851 L1676 886 L1686 915 L1681 945 L1715 960 L1730 975 L1720 984 L1710 1004 L1710 1038 L1701 1068 L1671 1093 L1651 1123 L1636 1163 L1646 1192 L1606 1222 L1587 1242 L1572 1262 L1562 1301 L1532 1321 L1522 1351 L1497 1381 L1502 1410 L1473 1440 L1438 1460 L1398 1485 L1348 1500 L1324 1540 L1314 1510 L1284 1510 L1234 1520 L1200 1540 L1150 1534 L1086 1515 L1026 1515 L986 1495 L986 1440 L1006 1410 L1016 1376 L1026 1351 L1016 1321 L1001 1301 L981 1291 L952 1296 L948 1300 L896 1296 L862 1283 L810 1270 L780 1249 L763 1253 L729 1262 L716 1283 L665 1274 L622 1287 L579 1274 L544 1257 L493 1232 L450 1210 L428 1219 L420 1197 L403 1172 L394 1137 L386 1112 L381 1077 L381 1060 L390 1043 L381 1026 L386 1013 L381 983 L364 987 L343 1000 L321 1013 L291 1013 L278 1000 L270 974 L266 944 L270 931 L287 919 L291 897 L290 874 L300 845 L323 817 L314 789 L290 766 L295 747 L272 719 L248 724 L215 700 L201 667 L197 639 L215 616 L192 601 L154 573 L135 545 L112 498 L110 442 L100 404 Z" fill="none" stroke="#e8e040" stroke-width="50" filter="url(#b8)" opacity="0.7"/>
<path d="M103 379 L117 381 L131 442 L140 479 L169 479 L206 494 L244 517 L262 545 L281 545 L319 564 L356 578 L384 601 L412 616 L431 630 L474 611 L525 604 L572 604 L581 592 L605 583 L642 559 L652 531 L647 508 L656 470 L666 447 L647 386 L685 376 L685 320 L713 296 L732 273 L769 226 L807 212 L863 184 L886 179 L901 189 L927 199 L991 201 L1041 201 L1066 199 L1101 216 L1125 231 L1155 261 L1224 263 L1264 266 L1294 280 L1304 315 L1324 335 L1343 325 L1373 328 L1423 340 L1448 350 L1473 360 L1502 365 L1542 380 L1557 410 L1562 439 L1552 479 L1562 519 L1572 548 L1582 578 L1592 608 L1572 633 L1582 662 L1567 682 L1572 712 L1596 732 L1621 757 L1651 772 L1671 796 L1691 826 L1681 851 L1676 886 L1686 915 L1681 945 L1715 960 L1730 975 L1720 984 L1710 1004 L1710 1038 L1701 1068 L1671 1093 L1651 1123 L1636 1163 L1646 1192 L1606 1222 L1587 1242 L1572 1262 L1562 1301 L1532 1321 L1522 1351 L1497 1381 L1502 1410 L1473 1440 L1438 1460 L1398 1485 L1348 1500 L1324 1540 L1314 1510 L1284 1510 L1234 1520 L1200 1540 L1150 1534 L1086 1515 L1026 1515 L986 1495 L986 1440 L1006 1410 L1016 1376 L1026 1351 L1016 1321 L1001 1301 L981 1291 L952 1296 L948 1300 L896 1296 L862 1283 L810 1270 L780 1249 L763 1253 L729 1262 L716 1283 L665 1274 L622 1287 L579 1274 L544 1257 L493 1232 L450 1210 L428 1219 L420 1197 L403 1172 L394 1137 L386 1112 L381 1077 L381 1060 L390 1043 L381 1026 L386 1013 L381 983 L364 987 L343 1000 L321 1013 L291 1013 L278 1000 L270 974 L266 944 L270 931 L287 919 L291 897 L290 874 L300 845 L323 817 L314 789 L290 766 L295 747 L272 719 L248 724 L215 700 L201 667 L197 639 L215 616 L192 601 L154 573 L135 545 L112 498 L110 442 L100 404 Z" fill="none" stroke="#a00800" stroke-width="45" stroke-dasharray="25 45" stroke-dashoffset="0" opacity="0.95"/>
<path d="M103 379 L117 381 L131 442 L140 479 L169 479 L206 494 L244 517 L262 545 L281 545 L319 564 L356 578 L384 601 L412 616 L431 630 L474 611 L525 604 L572 604 L581 592 L605 583 L642 559 L652 531 L647 508 L656 470 L666 447 L647 386 L685 376 L685 320 L713 296 L732 273 L769 226 L807 212 L863 184 L886 179 L901 189 L927 199 L991 201 L1041 201 L1066 199 L1101 216 L1125 231 L1155 261 L1224 263 L1264 266 L1294 280 L1304 315 L1324 335 L1343 325 L1373 328 L1423 340 L1448 350 L1473 360 L1502 365 L1542 380 L1557 410 L1562 439 L1552 479 L1562 519 L1572 548 L1582 578 L1592 608 L1572 633 L1582 662 L1567 682 L1572 712 L1596 732 L1621 757 L1651 772 L1671 796 L1691 826 L1681 851 L1676 886 L1686 915 L1681 945 L1715 960 L1730 975 L1720 984 L1710 1004 L1710 1038 L1701 1068 L1671 1093 L1651 1123 L1636 1163 L1646 1192 L1606 1222 L1587 1242 L1572 1262 L1562 1301 L1532 1321 L1522 1351 L1497 1381 L1502 1410 L1473 1440 L1438 1460 L1398 1485 L1348 1500 L1324 1540 L1314 1510 L1284 1510 L1234 1520 L1200 1540 L1150 1534 L1086 1515 L1026 1515 L986 1495 L986 1440 L1006 1410 L1016 1376 L1026 1351 L1016 1321 L1001 1301 L981 1291 L952 1296 L948 1300 L896 1296 L862 1283 L810 1270 L780 1249 L763 1253 L729 1262 L716 1283 L665 1274 L622 1287 L579 1274 L544 1257 L493 1232 L450 1210 L428 1219 L420 1197 L403 1172 L394 1137 L386 1112 L381 1077 L381 1060 L390 1043 L381 1026 L386 1013 L381 983 L364 987 L343 1000 L321 1013 L291 1013 L278 1000 L270 974 L266 944 L270 931 L287 919 L291 897 L290 874 L300 845 L323 817 L314 789 L290 766 L295 747 L272 719 L248 724 L215 700 L201 667 L197 639 L215 616 L192 601 L154 573 L135 545 L112 498 L110 442 L100 404 Z" fill="none" stroke="#d02000" stroke-width="30" stroke-dasharray="15 80" stroke-dashoffset="30" opacity="0.9"/>
<path d="M903 448 L978 348 L1014 369 L1025 406 L1012 423 L1042 448 L1064 448 L1094 440 L1132 461 L1205 431 L1214 448 L1244 502 L1321 496 L1381 508 L1386 470 L1433 470 L1433 526 L1218 541 L1184 560 L1184 588 L1111 588 L1090 564 L965 556 L1047 504 L957 487 Z" fill="#b3b3b3"/>
<path d="M862 348 L888 348 L888 376 L862 376 Z" fill="#b3b3b3"/>
<path d="M1270 412 L1300 416 L1300 431 L1272 431 Z" fill="#b3b3b3"/>
<path d="M1129 811 L1185 740 L1223 762 L1253 819 L1324 841 L1335 826 L1369 841 L1403 811 L1388 751 L1500 777 L1493 871 L1560 920 L1590 924 L1549 939 L1508 924 L1470 912 L1448 946 L1418 961 L1388 957 L1350 939 L1320 961 L1346 1010 L1238 1063 L1230 1033 L1268 1010 L1253 961 L1200 969 L1196 920 L1129 879 L1140 871 L1193 856 L1155 811 Z" fill="#b3b3b3"/>
<path d="M1313 1104 L1346 1093 L1395 1134 L1388 1156 L1365 1160 Z" fill="#b3b3b3"/>
<path d="M1181 1006 L1200 1006 L1196 1149 L1181 1145 Z" fill="#b3b3b3"/>
<g filter="url(#b8)" fill="#a00000" opacity="0.8">
<ellipse cx="980" cy="420" rx="50" ry="30" transform="rotate(0 980 420)"/>
<ellipse cx="1380" cy="600" rx="40" ry="30" transform="rotate(0 1380 600)"/>
<ellipse cx="1270" cy="1100" rx="40" ry="40" transform="rotate(0 1270 1100)"/>
<ellipse cx="1180" cy="1200" rx="50" ry="30" transform="rotate(0 1180 1200)"/>
</g>
<g filter="url(#b14)" fill="#c01808" opacity="0.55">
<path d="M60 360 L200 440 L350 540 L440 600 L470 720 L420 780 L330 760 L240 680 L150 560 L90 450 Z"/>
</g>
<g filter="url(#b8)" fill="#a00000" opacity="0.9">
<ellipse cx="480" cy="650" rx="60" ry="60" transform="rotate(0 480 650)"/>
</g>
<circle cx="882" cy="875" r="246" fill="#b3b3b3"/>
<path d="M700 740 L770 850 L850 980 L930 1080 L975 1120" fill="none" stroke="#222" stroke-width="30" stroke-dasharray="8 10" opacity="0.45"/>
</g></g>
<g transform="translate(2064.42,703.70) scale(0.13408)">
<g clip-path="url(#cg)">
<path d="M103 379 L117 381 L131 442 L140 479 L169 479 L206 494 L244 517 L262 545 L281 545 L319 564 L356 578 L384 601 L412 616 L431 630 L474 611 L525 604 L572 604 L581 592 L605 583 L642 559 L652 531 L647 508 L656 470 L666 447 L647 386 L685 376 L685 320 L713 296 L732 273 L769 226 L807 212 L863 184 L886 179 L901 189 L927 199 L991 201 L1041 201 L1066 199 L1101 216 L1125 231 L1155 261 L1224 263 L1264 266 L1294 280 L1304 315 L1324 335 L1343 325 L1373 328 L1423 340 L1448 350 L1473 360 L1502 365 L1542 380 L1557 410 L1562 439 L1552 479 L1562 519 L1572 548 L1582 578 L1592 608 L1572 633 L1582 662 L1567 682 L1572 712 L1596 732 L1621 757 L1651 772 L1671 796 L1691 826 L1681 851 L1676 886 L1686 915 L1681 945 L1715 960 L1730 975 L1720 984 L1710 1004 L1710 1038 L1701 1068 L1671 1093 L1651 1123 L1636 1163 L1646 1192 L1606 1222 L1587 1242 L1572 1262 L1562 1301 L1532 1321 L1522 1351 L1497 1381 L1502 1410 L1473 1440 L1438 1460 L1398 1485 L1348 1500 L1324 1540 L1314 1510 L1284 1510 L1234 1520 L1200 1540 L1150 1534 L1086 1515 L1026 1515 L986 1495 L986 1440 L1006 1410 L1016 1376 L1026 1351 L1016 1321 L1001 1301 L981 1291 L952 1296 L948 1300 L896 1296 L862 1283 L810 1270 L780 1249 L763 1253 L729 1262 L716 1283 L665 1274 L622 1287 L579 1274 L544 1257 L493 1232 L450 1210 L428 1219 L420 1197 L403 1172 L394 1137 L386 1112 L381 1077 L381 1060 L390 1043 L381 1026 L386 1013 L381 983 L364 987 L343 1000 L321 1013 L291 1013 L278 1000 L270 974 L266 944 L270 931 L287 919 L291 897 L290 874 L300 845 L323 817 L314 789 L290 766 L295 747 L272 719 L248 724 L215 700 L201 667 L197 639 L215 616 L192 601 L154 573 L135 545 L112 498 L110 442 L100 404 Z" fill="#b3b3b3" opacity="1"/>
<g clip-path="url(#covD)">
<path d="M103 379 L117 381 L131 442 L140 479 L169 479 L206 494 L244 517 L262 545 L281 545 L319 564 L356 578 L384 601 L412 616 L431 630 L474 611 L525 604 L572 604 L581 592 L605 583 L642 559 L652 531 L647 508 L656 470 L666 447 L647 386 L685 376 L685 320 L713 296 L732 273 L769 226 L807 212 L863 184 L886 179 L901 189 L927 199 L991 201 L1041 201 L1066 199 L1101 216 L1125 231 L1155 261 L1224 263 L1264 266 L1294 280 L1304 315 L1324 335 L1343 325 L1373 328 L1423 340 L1448 350 L1473 360 L1502 365 L1542 380 L1557 410 L1562 439 L1552 479 L1562 519 L1572 548 L1582 578 L1592 608 L1572 633 L1582 662 L1567 682 L1572 712 L1596 732 L1621 757 L1651 772 L1671 796 L1691 826 L1681 851 L1676 886 L1686 915 L1681 945 L1715 960 L1730 975 L1720 984 L1710 1004 L1710 1038 L1701 1068 L1671 1093 L1651 1123 L1636 1163 L1646 1192 L1606 1222 L1587 1242 L1572 1262 L1562 1301 L1532 1321 L1522 1351 L1497 1381 L1502 1410 L1473 1440 L1438 1460 L1398 1485 L1348 1500 L1324 1540 L1314 1510 L1284 1510 L1234 1520 L1200 1540 L1150 1534 L1086 1515 L1026 1515 L986 1495 L986 1440 L1006 1410 L1016 1376 L1026 1351 L1016 1321 L1001 1301 L981 1291 L952 1296 L948 1300 L896 1296 L862 1283 L810 1270 L780 1249 L763 1253 L729 1262 L716 1283 L665 1274 L622 1287 L579 1274 L544 1257 L493 1232 L450 1210 L428 1219 L420 1197 L403 1172 L394 1137 L386 1112 L381 1077 L381 1060 L390 1043 L381 1026 L386 1013 L381 983 L364 987 L343 1000 L321 1013 L291 1013 L278 1000 L270 974 L266 944 L270 931 L287 919 L291 897 L290 874 L300 845 L323 817 L314 789 L290 766 L295 747 L272 719 L248 724 L215 700 L201 667 L197 639 L215 616 L192 601 L154 573 L135 545 L112 498 L110 442 L100 404 Z" fill="#a00000" opacity="0.5"/>
<g filter="url(#b14)" fill="#30c8e8" opacity="0.6">
<ellipse cx="1300" cy="1150" rx="230" ry="160" transform="rotate(-20 1300 1150)"/>
<ellipse cx="1450" cy="800" rx="90" ry="180" transform="rotate(0 1450 800)"/>
</g>
<g filter="url(#b14)" fill="#f0d030" opacity="0.6">
<ellipse cx="1250" cy="1200" rx="140" ry="60" transform="rotate(-20 1250 1200)"/>
<ellipse cx="1150" cy="1350" rx="80" ry="50" transform="rotate(0 1150 1350)"/>
</g>
<g filter="url(#b14)" fill="#1030e0" opacity="0.6">
<ellipse cx="1350" cy="1050" rx="150" ry="60" transform="rotate(-30 1350 1050)"/>
</g>
<g filter="url(#b8)" fill="#a00000" opacity="0.7">
<ellipse cx="1150" cy="450" rx="150" ry="60" transform="rotate(-30 1150 450)"/>
<ellipse cx="1000" cy="420" rx="80" ry="40" transform="rotate(-60 1000 420)"/>
</g>
</g>
<path d="M1795 991 L1807 1036 L1817 1082 L1824 1128 L1109 1215 L1109 1211 L1108 1206 L1107 1202 Z" fill="#b3b3b3"/>
<path d="M1749 874 L1761 900 L1772 925 L1308 1113 L1304 1103 L1300 1093 Z" fill="#b3b3b3"/>
<path d="M1360 1000 L1700 930 L1720 1090 L1420 1110 Z" fill="#b3b3b3"/>
<path d="M1026 173 L1049 179 L1073 185 L983 500 L970 497 L957 494 Z" fill="#b3b3b3"/>
<path d="M1209 240 L1225 249 L1241 258 L1072 539 L1063 534 L1055 530 Z" fill="#b3b3b3"/>
<path d="M1573 458 L1580 470 L1586 482 L1208 683 L1205 678 L1202 672 Z" fill="#b3b3b3"/>
<path d="M1672 969 L1670 983 L1668 997 L1246 923 L1247 916 L1248 910 Z" fill="#b3b3b3"/>
<path d="M781 -87 L807 -89 L851 487 L841 488 Z" fill="#b3b3b3" opacity="0.6"/>
<path d="M897 -92 L923 -91 L897 486 L886 486 Z" fill="#b3b3b3" opacity="0.6"/>
<path d="M1012 -83 L1038 -79 L942 491 L932 490 Z" fill="#b3b3b3" opacity="0.6"/>
<path d="M1126 -60 L1151 -52 L986 502 L976 499 Z" fill="#b3b3b3" opacity="0.6"/>
<path d="M1236 -23 L1260 -13 L1029 517 L1019 513 Z" fill="#b3b3b3" opacity="0.6"/>
<path d="M1341 27 L1364 40 L1069 538 L1060 533 Z" fill="#b3b3b3" opacity="0.6"/>
<path d="M1438 89 L1460 105 L1107 563 L1099 557 Z" fill="#b3b3b3" opacity="0.6"/>
<path d="M1528 163 L1547 182 L1141 593 L1134 586 Z" fill="#b3b3b3" opacity="0.6"/>
<path d="M1608 247 L1625 268 L1172 627 L1165 619 Z" fill="#b3b3b3" opacity="0.6"/>
<path d="M1677 341 L1691 363 L1198 664 L1192 655 Z" fill="#b3b3b3" opacity="0.6"/>
<path d="M1734 442 L1745 466 L1219 704 L1214 695 Z" fill="#b3b3b3" opacity="0.6"/>
<path d="M1778 549 L1787 574 L1235 747 L1232 737 Z" fill="#b3b3b3" opacity="0.6"/>
<path d="M1809 660 L1814 687 L1246 791 L1244 781 Z" fill="#b3b3b3" opacity="0.6"/>
<path d="M1826 775 L1828 802 L1251 836 L1251 826 Z" fill="#b3b3b3" opacity="0.6"/>
<path d="M1829 891 L1828 918 L1251 881 L1252 871 Z" fill="#b3b3b3" opacity="0.6"/>
<path d="M1818 1007 L1814 1033 L1246 926 L1247 916 Z" fill="#b3b3b3" opacity="0.6"/>
<path d="M1793 1120 L1786 1145 L1235 970 L1238 961 Z" fill="#b3b3b3" opacity="0.6"/>
<path d="M1754 1229 L1744 1253 L1218 1013 L1222 1003 Z" fill="#b3b3b3" opacity="0.6"/>
<path d="M1703 1333 L1689 1356 L1197 1053 L1202 1044 Z" fill="#b3b3b3" opacity="0.6"/>
<path d="M1639 1430 L1622 1451 L1171 1090 L1177 1082 Z" fill="#b3b3b3" opacity="0.6"/>
<path d="M1563 1518 L1545 1537 L1140 1124 L1148 1116 Z" fill="#b3b3b3" opacity="0.6"/>
<path d="M1478 1596 L1457 1613 L1106 1154 L1114 1147 Z" fill="#b3b3b3" opacity="0.6"/>
<path d="M1383 1664 L1361 1677 L1068 1179 L1077 1173 Z" fill="#b3b3b3" opacity="0.6"/>
<path d="M1281 1719 L1257 1730 L1028 1199 L1037 1195 Z" fill="#b3b3b3" opacity="0.6"/>
<path d="M700 740 L770 850 L850 980 L930 1080 L990 1140 L1010 1250" fill="none" stroke="#222" stroke-width="30" stroke-dasharray="8 10" opacity="0.45"/>
</g></g>
<g transform="translate(980.22,1032.40) scale(0.13408)">
<g clip-path="url(#cg)">
<path d="M103 379 L117 381 L131 442 L140 479 L169 479 L206 494 L244 517 L262 545 L281 545 L319 564 L356 578 L384 601 L412 616 L431 630 L474 611 L525 604 L572 604 L581 592 L605 583 L642 559 L652 531 L647 508 L656 470 L666 447 L647 386 L685 376 L685 320 L713 296 L732 273 L769 226 L807 212 L863 184 L886 179 L901 189 L927 199 L991 201 L1041 201 L1066 199 L1101 216 L1125 231 L1155 261 L1224 263 L1264 266 L1294 280 L1304 315 L1324 335 L1343 325 L1373 328 L1423 340 L1448 350 L1473 360 L1502 365 L1542 380 L1557 410 L1562 439 L1552 479 L1562 519 L1572 548 L1582 578 L1592 608 L1572 633 L1582 662 L1567 682 L1572 712 L1596 732 L1621 757 L1651 772 L1671 796 L1691 826 L1681 851 L1676 886 L1686 915 L1681 945 L1715 960 L1730 975 L1720 984 L1710 1004 L1710 1038 L1701 1068 L1671 1093 L1651 1123 L1636 1163 L1646 1192 L1606 1222 L1587 1242 L1572 1262 L1562 1301 L1532 1321 L1522 1351 L1497 1381 L1502 1410 L1473 1440 L1438 1460 L1398 1485 L1348 1500 L1324 1540 L1314 1510 L1284 1510 L1234 1520 L1200 1540 L1150 1534 L1086 1515 L1026 1515 L986 1495 L986 1440 L1006 1410 L1016 1376 L1026 1351 L1016 1321 L1001 1301 L981 1291 L952 1296 L948 1300 L896 1296 L862 1283 L810 1270 L780 1249 L763 1253 L729 1262 L716 1283 L665 1274 L622 1287 L579 1274 L544 1257 L493 1232 L450 1210 L428 1219 L420 1197 L403 1172 L394 1137 L386 1112 L381 1077 L381 1060 L390 1043 L381 1026 L386 1013 L381 983 L364 987 L343 1000 L321 1013 L291 1013 L278 1000 L270 974 L266 944 L270 931 L287 919 L291 897 L290 874 L300 845 L323 817 L314 789 L290 766 L295 747 L272 719 L248 724 L215 700 L201 667 L197 639 L215 616 L192 601 L154 573 L135 545 L112 498 L110 442 L100 404 Z" fill="#ff4a10" opacity="1"/>
<g filter="url(#b40)" fill="#ffb020" opacity="0.7">
<ellipse cx="1250" cy="600" rx="160" ry="160" transform="rotate(0 1250 600)"/>
<ellipse cx="1300" cy="1100" rx="150" ry="200" transform="rotate(0 1300 1100)"/>
<ellipse cx="900" cy="450" rx="120" ry="60" transform="rotate(0 900 450)"/>
</g>
<circle cx="882" cy="875" r="296" fill="none" stroke="#c00000" stroke-width="60" filter="url(#b14)"/>
<path d="M103 379 L117 381 L131 442 L140 479 L169 479 L206 494 L244 517 L262 545 L281 545 L319 564 L356 578 L384 601 L412 616 L431 630 L474 611 L525 604 L572 604 L581 592 L605 583 L642 559 L652 531 L647 508 L656 470 L666 447 L647 386 L685 376 L685 320 L713 296 L732 273 L769 226 L807 212 L863 184 L886 179 L901 189 L927 199 L991 201 L1041 201 L1066 199 L1101 216 L1125 231 L1155 261 L1224 263 L1264 266 L1294 280 L1304 315 L1324 335 L1343 325 L1373 328 L1423 340 L1448 350 L1473 360 L1502 365 L1542 380 L1557 410 L1562 439 L1552 479 L1562 519 L1572 548 L1582 578 L1592 608 L1572 633 L1582 662 L1567 682 L1572 712 L1596 732 L1621 757 L1651 772 L1671 796 L1691 826 L1681 851 L1676 886 L1686 915 L1681 945 L1715 960 L1730 975 L1720 984 L1710 1004 L1710 1038 L1701 1068 L1671 1093 L1651 1123 L1636 1163 L1646 1192 L1606 1222 L1587 1242 L1572 1262 L1562 1301 L1532 1321 L1522 1351 L1497 1381 L1502 1410 L1473 1440 L1438 1460 L1398 1485 L1348 1500 L1324 1540 L1314 1510 L1284 1510 L1234 1520 L1200 1540 L1150 1534 L1086 1515 L1026 1515 L986 1495 L986 1440 L1006 1410 L1016 1376 L1026 1351 L1016 1321 L1001 1301 L981 1291 L952 1296 L948 1300 L896 1296 L862 1283 L810 1270 L780 1249 L763 1253 L729 1262 L716 1283 L665 1274 L622 1287 L579 1274 L544 1257 L493 1232 L450 1210 L428 1219 L420 1197 L403 1172 L394 1137 L386 1112 L381 1077 L381 1060 L390 1043 L381 1026 L386 1013 L381 983 L364 987 L343 1000 L321 1013 L291 1013 L278 1000 L270 974 L266 944 L270 931 L287 919 L291 897 L290 874 L300 845 L323 817 L314 789 L290 766 L295 747 L272 719 L248 724 L215 700 L201 667 L197 639 L215 616 L192 601 L154 573 L135 545 L112 498 L110 442 L100 404 Z" fill="none" stroke="#30c0ff" stroke-width="160" filter="url(#b14)" opacity="0.95"/>
<path d="M103 379 L117 381 L131 442 L140 479 L169 479 L206 494 L244 517 L262 545 L281 545 L319 564 L356 578 L384 601 L412 616 L431 630 L474 611 L525 604 L572 604 L581 592 L605 583 L642 559 L652 531 L647 508 L656 470 L666 447 L647 386 L685 376 L685 320 L713 296 L732 273 L769 226 L807 212 L863 184 L886 179 L901 189 L927 199 L991 201 L1041 201 L1066 199 L1101 216 L1125 231 L1155 261 L1224 263 L1264 266 L1294 280 L1304 315 L1324 335 L1343 325 L1373 328 L1423 340 L1448 350 L1473 360 L1502 365 L1542 380 L1557 410 L1562 439 L1552 479 L1562 519 L1572 548 L1582 578 L1592 608 L1572 633 L1582 662 L1567 682 L1572 712 L1596 732 L1621 757 L1651 772 L1671 796 L1691 826 L1681 851 L1676 886 L1686 915 L1681 945 L1715 960 L1730 975 L1720 984 L1710 1004 L1710 1038 L1701 1068 L1671 1093 L1651 1123 L1636 1163 L1646 1192 L1606 1222 L1587 1242 L1572 1262 L1562 1301 L1532 1321 L1522 1351 L1497 1381 L1502 1410 L1473 1440 L1438 1460 L1398 1485 L1348 1500 L1324 1540 L1314 1510 L1284 1510 L1234 1520 L1200 1540 L1150 1534 L1086 1515 L1026 1515 L986 1495 L986 1440 L1006 1410 L1016 1376 L1026 1351 L1016 1321 L1001 1301 L981 1291 L952 1296 L948 1300 L896 1296 L862 1283 L810 1270 L780 1249 L763 1253 L729 1262 L716 1283 L665 1274 L622 1287 L579 1274 L544 1257 L493 1232 L450 1210 L428 1219 L420 1197 L403 1172 L394 1137 L386 1112 L381 1077 L381 1060 L390 1043 L381 1026 L386 1013 L381 983 L364 987 L343 1000 L321 1013 L291 1013 L278 1000 L270 974 L266 944 L270 931 L287 919 L291 897 L290 874 L300 845 L323 817 L314 789 L290 766 L295 747 L272 719 L248 724 L215 700 L201 667 L197 639 L215 616 L192 601 L154 573 L135 545 L112 498 L110 442 L100 404 Z" fill="none" stroke="#f0f040" stroke-width="60" filter="url(#b8)" opacity="0.6"/>
<g filter="url(#b25)" fill="#30a8ff" opacity="0.9">
<path d="M60 360 L200 440 L350 540 L440 600 L470 720 L420 780 L330 760 L240 680 L150 560 L90 450 Z"/>
<ellipse cx="330" cy="980" rx="80" ry="110" transform="rotate(0 330 980)"/>
<ellipse cx="470" cy="1200" rx="80" ry="60" transform="rotate(0 470 1200)"/>
</g>
<g filter="url(#b25)" fill="#ffa020" opacity="0.9">
<ellipse cx="560" cy="1060" rx="110" ry="140" transform="rotate(0 560 1060)"/>
<ellipse cx="520" cy="820" rx="80" ry="90" transform="rotate(0 520 820)"/>
</g>
<circle cx="882" cy="875" r="246" fill="#b3b3b3"/>
<path d="M700 740 L770 850 L850 980 L930 1080 L975 1120" fill="none" stroke="#222" stroke-width="30" stroke-dasharray="8 10" opacity="0.45"/>
</g></g>
<g transform="translate(2064.42,1031.50) scale(0.13408)">
<g clip-path="url(#cg)">
<path d="M103 379 L117 381 L131 442 L140 479 L169 479 L206 494 L244 517 L262 545 L281 545 L319 564 L356 578 L384 601 L412 616 L431 630 L474 611 L525 604 L572 604 L581 592 L605 583 L642 559 L652 531 L647 508 L656 470 L666 447 L647 386 L685 376 L685 320 L713 296 L732 273 L769 226 L807 212 L863 184 L886 179 L901 189 L927 199 L991 201 L1041 201 L1066 199 L1101 216 L1125 231 L1155 261 L1224 263 L1264 266 L1294 280 L1304 315 L1324 335 L1343 325 L1373 328 L1423 340 L1448 350 L1473 360 L1502 365 L1542 380 L1557 410 L1562 439 L1552 479 L1562 519 L1572 548 L1582 578 L1592 608 L1572 633 L1582 662 L1567 682 L1572 712 L1596 732 L1621 757 L1651 772 L1671 796 L1691 826 L1681 851 L1676 886 L1686 915 L1681 945 L1715 960 L1730 975 L1720 984 L1710 1004 L1710 1038 L1701 1068 L1671 1093 L1651 1123 L1636 1163 L1646 1192 L1606 1222 L1587 1242 L1572 1262 L1562 1301 L1532 1321 L1522 1351 L1497 1381 L1502 1410 L1473 1440 L1438 1460 L1398 1485 L1348 1500 L1324 1540 L1314 1510 L1284 1510 L1234 1520 L1200 1540 L1150 1534 L1086 1515 L1026 1515 L986 1495 L986 1440 L1006 1410 L1016 1376 L1026 1351 L1016 1321 L1001 1301 L981 1291 L952 1296 L948 1300 L896 1296 L862 1283 L810 1270 L780 1249 L763 1253 L729 1262 L716 1283 L665 1274 L622 1287 L579 1274 L544 1257 L493 1232 L450 1210 L428 1219 L420 1197 L403 1172 L394 1137 L386 1112 L381 1077 L381 1060 L390 1043 L381 1026 L386 1013 L381 983 L364 987 L343 1000 L321 1013 L291 1013 L278 1000 L270 974 L266 944 L270 931 L287 919 L291 897 L290 874 L300 845 L323 817 L314 789 L290 766 L295 747 L272 719 L248 724 L215 700 L201 667 L197 639 L215 616 L192 601 L154 573 L135 545 L112 498 L110 442 L100 404 Z" fill="#b3b3b3" opacity="1"/>
<g clip-path="url(#covE)">
<path d="M103 379 L117 381 L131 442 L140 479 L169 479 L206 494 L244 517 L262 545 L281 545 L319 564 L356 578 L384 601 L412 616 L431 630 L474 611 L525 604 L572 604 L581 592 L605 583 L642 559 L652 531 L647 508 L656 470 L666 447 L647 386 L685 376 L685 320 L713 296 L732 273 L769 226 L807 212 L863 184 L886 179 L901 189 L927 199 L991 201 L1041 201 L1066 199 L1101 216 L1125 231 L1155 261 L1224 263 L1264 266 L1294 280 L1304 315 L1324 335 L1343 325 L1373 328 L1423 340 L1448 350 L1473 360 L1502 365 L1542 380 L1557 410 L1562 439 L1552 479 L1562 519 L1572 548 L1582 578 L1592 608 L1572 633 L1582 662 L1567 682 L1572 712 L1596 732 L1621 757 L1651 772 L1671 796 L1691 826 L1681 851 L1676 886 L1686 915 L1681 945 L1715 960 L1730 975 L1720 984 L1710 1004 L1710 1038 L1701 1068 L1671 1093 L1651 1123 L1636 1163 L1646 1192 L1606 1222 L1587 1242 L1572 1262 L1562 1301 L1532 1321 L1522 1351 L1497 1381 L1502 1410 L1473 1440 L1438 1460 L1398 1485 L1348 1500 L1324 1540 L1314 1510 L1284 1510 L1234 1520 L1200 1540 L1150 1534 L1086 1515 L1026 1515 L986 1495 L986 1440 L1006 1410 L1016 1376 L1026 1351 L1016 1321 L1001 1301 L981 1291 L952 1296 L948 1300 L896 1296 L862 1283 L810 1270 L780 1249 L763 1253 L729 1262 L716 1283 L665 1274 L622 1287 L579 1274 L544 1257 L493 1232 L450 1210 L428 1219 L420 1197 L403 1172 L394 1137 L386 1112 L381 1077 L381 1060 L390 1043 L381 1026 L386 1013 L381 983 L364 987 L343 1000 L321 1013 L291 1013 L278 1000 L270 974 L266 944 L270 931 L287 919 L291 897 L290 874 L300 845 L323 817 L314 789 L290 766 L295 747 L272 719 L248 724 L215 700 L201 667 L197 639 L215 616 L192 601 L154 573 L135 545 L112 498 L110 442 L100 404 Z" fill="#1838e0" opacity="1"/>
<g filter="url(#b25)" fill="#2870ff" opacity="0.8">
<ellipse cx="1350" cy="1100" rx="150" ry="150" transform="rotate(0 1350 1100)"/>
<ellipse cx="1500" cy="700" rx="100" ry="150" transform="rotate(0 1500 700)"/>
</g>
</g>
<path d="M700 740 L770 850 L850 980 L930 1080 L990 1140 L1010 1250" fill="none" stroke="#222" stroke-width="30" stroke-dasharray="8 10" opacity="0.45"/>
</g></g>
<g transform="translate(980.22,1286.80) scale(0.13408)">
<g clip-path="url(#cg)">
<path d="M103 379 L117 381 L131 442 L140 479 L169 479 L206 494 L244 517 L262 545 L281 545 L319 564 L356 578 L384 601 L412 616 L431 630 L474 611 L525 604 L572 604 L581 592 L605 583 L642 559 L652 531 L647 508 L656 470 L666 447 L647 386 L685 376 L685 320 L713 296 L732 273 L769 226 L807 212 L863 184 L886 179 L901 189 L927 199 L991 201 L1041 201 L1066 199 L1101 216 L1125 231 L1155 261 L1224 263 L1264 266 L1294 280 L1304 315 L1324 335 L1343 325 L1373 328 L1423 340 L1448 350 L1473 360 L1502 365 L1542 380 L1557 410 L1562 439 L1552 479 L1562 519 L1572 548 L1582 578 L1592 608 L1572 633 L1582 662 L1567 682 L1572 712 L1596 732 L1621 757 L1651 772 L1671 796 L1691 826 L1681 851 L1676 886 L1686 915 L1681 945 L1715 960 L1730 975 L1720 984 L1710 1004 L1710 1038 L1701 1068 L1671 1093 L1651 1123 L1636 1163 L1646 1192 L1606 1222 L1587 1242 L1572 1262 L1562 1301 L1532 1321 L1522 1351 L1497 1381 L1502 1410 L1473 1440 L1438 1460 L1398 1485 L1348 1500 L1324 1540 L1314 1510 L1284 1510 L1234 1520 L1200 1540 L1150 1534 L1086 1515 L1026 1515 L986 1495 L986 1440 L1006 1410 L1016 1376 L1026 1351 L1016 1321 L1001 1301 L981 1291 L952 1296 L948 1300 L896 1296 L862 1283 L810 1270 L780 1249 L763 1253 L729 1262 L716 1283 L665 1274 L622 1287 L579 1274 L544 1257 L493 1232 L450 1210 L428 1219 L420 1197 L403 1172 L394 1137 L386 1112 L381 1077 L381 1060 L390 1043 L381 1026 L386 1013 L381 983 L364 987 L343 1000 L321 1013 L291 1013 L278 1000 L270 974 L266 944 L270 931 L287 919 L291 897 L290 874 L300 845 L323 817 L314 789 L290 766 L295 747 L272 719 L248 724 L215 700 L201 667 L197 639 L215 616 L192 601 L154 573 L135 545 L112 498 L110 442 L100 404 Z" fill="#1a5cff" opacity="1"/>
<g filter="url(#b40)" fill="#0a28d0" opacity="0.9">
<ellipse cx="1200" cy="700" rx="300" ry="420" transform="rotate(0 1200 700)"/>
<ellipse cx="1250" cy="1250" rx="200" ry="200" transform="rotate(0 1250 1250)"/>
</g>
<g filter="url(#b25)" fill="#30b8ff" opacity="0.9">
<path d="M270 880 L470 760 L640 760 L700 1000 L720 1300 L400 1300 L280 1050 Z"/>
<ellipse cx="700" cy="1000" rx="220" ry="150" transform="rotate(0 700 1000)"/>
</g>
<path d="M103 379 L117 381 L131 442 L140 479 L169 479 L206 494 L244 517 L262 545 L281 545 L319 564 L356 578 L384 601 L412 616 L431 630 L474 611 L525 604 L572 604 L581 592 L605 583 L642 559 L652 531 L647 508 L656 470 L666 447 L647 386 L685 376 L685 320 L713 296 L732 273 L769 226 L807 212 L863 184 L886 179 L901 189 L927 199 L991 201 L1041 201 L1066 199 L1101 216 L1125 231 L1155 261 L1224 263 L1264 266 L1294 280 L1304 315 L1324 335 L1343 325 L1373 328 L1423 340 L1448 350 L1473 360 L1502 365 L1542 380 L1557 410 L1562 439 L1552 479 L1562 519 L1572 548 L1582 578 L1592 608 L1572 633 L1582 662 L1567 682 L1572 712 L1596 732 L1621 757 L1651 772 L1671 796 L1691 826 L1681 851 L1676 886 L1686 915 L1681 945 L1715 960 L1730 975 L1720 984 L1710 1004 L1710 1038 L1701 1068 L1671 1093 L1651 1123 L1636 1163 L1646 1192 L1606 1222 L1587 1242 L1572 1262 L1562 1301 L1532 1321 L1522 1351 L1497 1381 L1502 1410 L1473 1440 L1438 1460 L1398 1485 L1348 1500 L1324 1540 L1314 1510 L1284 1510 L1234 1520 L1200 1540 L1150 1534 L1086 1515 L1026 1515 L986 1495 L986 1440 L1006 1410 L1016 1376 L1026 1351 L1016 1321 L1001 1301 L981 1291 L952 1296 L948 1300 L896 1296 L862 1283 L810 1270 L780 1249 L763 1253 L729 1262 L716 1283 L665 1274 L622 1287 L579 1274 L544 1257 L493 1232 L450 1210 L428 1219 L420 1197 L403 1172 L394 1137 L386 1112 L381 1077 L381 1060 L390 1043 L381 1026 L386 1013 L381 983 L364 987 L343 1000 L321 1013 L291 1013 L278 1000 L270 974 L266 944 L270 931 L287 919 L291 897 L290 874 L300 845 L323 817 L314 789 L290 766 L295 747 L272 719 L248 724 L215 700 L201 667 L197 639 L215 616 L192 601 L154 573 L135 545 L112 498 L110 442 L100 404 Z" fill="none" stroke="#30d8f0" stroke-width="130" filter="url(#b14)" opacity="0.9"/>
<path d="M103 379 L117 381 L131 442 L140 479 L169 479 L206 494 L244 517 L262 545 L281 545 L319 564 L356 578 L384 601 L412 616 L431 630 L474 611 L525 604 L572 604 L581 592 L605 583 L642 559 L652 531 L647 508 L656 470 L666 447 L647 386 L685 376 L685 320 L713 296 L732 273 L769 226 L807 212 L863 184 L886 179 L901 189 L927 199 L991 201 L1041 201 L1066 199 L1101 216 L1125 231 L1155 261 L1224 263 L1264 266 L1294 280 L1304 315 L1324 335 L1343 325 L1373 328 L1423 340 L1448 350 L1473 360 L1502 365 L1542 380 L1557 410 L1562 439 L1552 479 L1562 519 L1572 548 L1582 578 L1592 608 L1572 633 L1582 662 L1567 682 L1572 712 L1596 732 L1621 757 L1651 772 L1671 796 L1691 826 L1681 851 L1676 886 L1686 915 L1681 945 L1715 960 L1730 975 L1720 984 L1710 1004 L1710 1038 L1701 1068 L1671 1093 L1651 1123 L1636 1163 L1646 1192 L1606 1222 L1587 1242 L1572 1262 L1562 1301 L1532 1321 L1522 1351 L1497 1381 L1502 1410 L1473 1440 L1438 1460 L1398 1485 L1348 1500 L1324 1540 L1314 1510 L1284 1510 L1234 1520 L1200 1540 L1150 1534 L1086 1515 L1026 1515 L986 1495 L986 1440 L1006 1410 L1016 1376 L1026 1351 L1016 1321 L1001 1301 L981 1291 L952 1296 L948 1300 L896 1296 L862 1283 L810 1270 L780 1249 L763 1253 L729 1262 L716 1283 L665 1274 L622 1287 L579 1274 L544 1257 L493 1232 L450 1210 L428 1219 L420 1197 L403 1172 L394 1137 L386 1112 L381 1077 L381 1060 L390 1043 L381 1026 L386 1013 L381 983 L364 987 L343 1000 L321 1013 L291 1013 L278 1000 L270 974 L266 944 L270 931 L287 919 L291 897 L290 874 L300 845 L323 817 L314 789 L290 766 L295 747 L272 719 L248 724 L215 700 L201 667 L197 639 L215 616 L192 601 L154 573 L135 545 L112 498 L110 442 L100 404 Z" fill="none" stroke="#e8e040" stroke-width="50" filter="url(#b8)" opacity="0.7"/>
<path d="M103 379 L117 381 L131 442 L140 479 L169 479 L206 494 L244 517 L262 545 L281 545 L319 564 L356 578 L384 601 L412 616 L431 630 L474 611 L525 604 L572 604 L581 592 L605 583 L642 559 L652 531 L647 508 L656 470 L666 447 L647 386 L685 376 L685 320 L713 296 L732 273 L769 226 L807 212 L863 184 L886 179 L901 189 L927 199 L991 201 L1041 201 L1066 199 L1101 216 L1125 231 L1155 261 L1224 263 L1264 266 L1294 280 L1304 315 L1324 335 L1343 325 L1373 328 L1423 340 L1448 350 L1473 360 L1502 365 L1542 380 L1557 410 L1562 439 L1552 479 L1562 519 L1572 548 L1582 578 L1592 608 L1572 633 L1582 662 L1567 682 L1572 712 L1596 732 L1621 757 L1651 772 L1671 796 L1691 826 L1681 851 L1676 886 L1686 915 L1681 945 L1715 960 L1730 975 L1720 984 L1710 1004 L1710 1038 L1701 1068 L1671 1093 L1651 1123 L1636 1163 L1646 1192 L1606 1222 L1587 1242 L1572 1262 L1562 1301 L1532 1321 L1522 1351 L1497 1381 L1502 1410 L1473 1440 L1438 1460 L1398 1485 L1348 1500 L1324 1540 L1314 1510 L1284 1510 L1234 1520 L1200 1540 L1150 1534 L1086 1515 L1026 1515 L986 1495 L986 1440 L1006 1410 L1016 1376 L1026 1351 L1016 1321 L1001 1301 L981 1291 L952 1296 L948 1300 L896 1296 L862 1283 L810 1270 L780 1249 L763 1253 L729 1262 L716 1283 L665 1274 L622 1287 L579 1274 L544 1257 L493 1232 L450 1210 L428 1219 L420 1197 L403 1172 L394 1137 L386 1112 L381 1077 L381 1060 L390 1043 L381 1026 L386 1013 L381 983 L364 987 L343 1000 L321 1013 L291 1013 L278 1000 L270 974 L266 944 L270 931 L287 919 L291 897 L290 874 L300 845 L323 817 L314 789 L290 766 L295 747 L272 719 L248 724 L215 700 L201 667 L197 639 L215 616 L192 601 L154 573 L135 545 L112 498 L110 442 L100 404 Z" fill="none" stroke="#a00800" stroke-width="45" stroke-dasharray="25 45" stroke-dashoffset="0" opacity="0.95"/>
<path d="M103 379 L117 381 L131 442 L140 479 L169 479 L206 494 L244 517 L262 545 L281 545 L319 564 L356 578 L384 601 L412 616 L431 630 L474 611 L525 604 L572 604 L581 592 L605 583 L642 559 L652 531 L647 508 L656 470 L666 447 L647 386 L685 376 L685 320 L713 296 L732 273 L769 226 L807 212 L863 184 L886 179 L901 189 L927 199 L991 201 L1041 201 L1066 199 L1101 216 L1125 231 L1155 261 L1224 263 L1264 266 L1294 280 L1304 315 L1324 335 L1343 325 L1373 328 L1423 340 L1448 350 L1473 360 L1502 365 L1542 380 L1557 410 L1562 439 L1552 479 L1562 519 L1572 548 L1582 578 L1592 608 L1572 633 L1582 662 L1567 682 L1572 712 L1596 732 L1621 757 L1651 772 L1671 796 L1691 826 L1681 851 L1676 886 L1686 915 L1681 945 L1715 960 L1730 975 L1720 984 L1710 1004 L1710 1038 L1701 1068 L1671 1093 L1651 1123 L1636 1163 L1646 1192 L1606 1222 L1587 1242 L1572 1262 L1562 1301 L1532 1321 L1522 1351 L1497 1381 L1502 1410 L1473 1440 L1438 1460 L1398 1485 L1348 1500 L1324 1540 L1314 1510 L1284 1510 L1234 1520 L1200 1540 L1150 1534 L1086 1515 L1026 1515 L986 1495 L986 1440 L1006 1410 L1016 1376 L1026 1351 L1016 1321 L1001 1301 L981 1291 L952 1296 L948 1300 L896 1296 L862 1283 L810 1270 L780 1249 L763 1253 L729 1262 L716 1283 L665 1274 L622 1287 L579 1274 L544 1257 L493 1232 L450 1210 L428 1219 L420 1197 L403 1172 L394 1137 L386 1112 L381 1077 L381 1060 L390 1043 L381 1026 L386 1013 L381 983 L364 987 L343 1000 L321 1013 L291 1013 L278 1000 L270 974 L266 944 L270 931 L287 919 L291 897 L290 874 L300 845 L323 817 L314 789 L290 766 L295 747 L272 719 L248 724 L215 700 L201 667 L197 639 L215 616 L192 601 L154 573 L135 545 L112 498 L110 442 L100 404 Z" fill="none" stroke="#d02000" stroke-width="30" stroke-dasharray="15 80" stroke-dashoffset="30" opacity="0.9"/>
<g filter="url(#b8)" fill="#a00000" opacity="0.9">
<ellipse cx="1440" cy="650" rx="70" ry="35" transform="rotate(0 1440 650)"/>
<ellipse cx="1550" cy="1220" rx="50" ry="40" transform="rotate(0 1550 1220)"/>
</g>
<g filter="url(#b14)" fill="#c01808" opacity="0.55">
<path d="M60 360 L200 440 L350 540 L440 600 L470 720 L420 780 L330 760 L240 680 L150 560 L90 450 Z"/>
</g>
<g filter="url(#b8)" fill="#a00000" opacity="0.9">
<ellipse cx="480" cy="650" rx="60" ry="60" transform="rotate(0 480 650)"/>
</g>
<circle cx="882" cy="875" r="246" fill="#b3b3b3"/>
<path d="M700 740 L770 850 L850 980 L930 1080 L975 1120" fill="none" stroke="#222" stroke-width="30" stroke-dasharray="8 10" opacity="0.45"/>
</g></g>
<g transform="translate(2064.42,1285.60) scale(0.13408)">
<g clip-path="url(#cg)">
<path d="M103 379 L117 381 L131 442 L140 479 L169 479 L206 494 L244 517 L262 545 L281 545 L319 564 L356 578 L384 601 L412 616 L431 630 L474 611 L525 604 L572 604 L581 592 L605 583 L642 559 L652 531 L647 508 L656 470 L666 447 L647 386 L685 376 L685 320 L713 296 L732 273 L769 226 L807 212 L863 184 L886 179 L901 189 L927 199 L991 201 L1041 201 L1066 199 L1101 216 L1125 231 L1155 261 L1224 263 L1264 266 L1294 280 L1304 315 L1324 335 L1343 325 L1373 328 L1423 340 L1448 350 L1473 360 L1502 365 L1542 380 L1557 410 L1562 439 L1552 479 L1562 519 L1572 548 L1582 578 L1592 608 L1572 633 L1582 662 L1567 682 L1572 712 L1596 732 L1621 757 L1651 772 L1671 796 L1691 826 L1681 851 L1676 886 L1686 915 L1681 945 L1715 960 L1730 975 L1720 984 L1710 1004 L1710 1038 L1701 1068 L1671 1093 L1651 1123 L1636 1163 L1646 1192 L1606 1222 L1587 1242 L1572 1262 L1562 1301 L1532 1321 L1522 1351 L1497 1381 L1502 1410 L1473 1440 L1438 1460 L1398 1485 L1348 1500 L1324 1540 L1314 1510 L1284 1510 L1234 1520 L1200 1540 L1150 1534 L1086 1515 L1026 1515 L986 1495 L986 1440 L1006 1410 L1016 1376 L1026 1351 L1016 1321 L1001 1301 L981 1291 L952 1296 L948 1300 L896 1296 L862 1283 L810 1270 L780 1249 L763 1253 L729 1262 L716 1283 L665 1274 L622 1287 L579 1274 L544 1257 L493 1232 L450 1210 L428 1219 L420 1197 L403 1172 L394 1137 L386 1112 L381 1077 L381 1060 L390 1043 L381 1026 L386 1013 L381 983 L364 987 L343 1000 L321 1013 L291 1013 L278 1000 L270 974 L266 944 L270 931 L287 919 L291 897 L290 874 L300 845 L323 817 L314 789 L290 766 L295 747 L272 719 L248 724 L215 700 L201 667 L197 639 L215 616 L192 601 L154 573 L135 545 L112 498 L110 442 L100 404 Z" fill="#b3b3b3" opacity="1"/>
<g clip-path="url(#covE)">
<path d="M103 379 L117 381 L131 442 L140 479 L169 479 L206 494 L244 517 L262 545 L281 545 L319 564 L356 578 L384 601 L412 616 L431 630 L474 611 L525 604 L572 604 L581 592 L605 583 L642 559 L652 531 L647 508 L656 470 L666 447 L647 386 L685 376 L685 320 L713 296 L732 273 L769 226 L807 212 L863 184 L886 179 L901 189 L927 199 L991 201 L1041 201 L1066 199 L1101 216 L1125 231 L1155 261 L1224 263 L1264 266 L1294 280 L1304 315 L1324 335 L1343 325 L1373 328 L1423 340 L1448 350 L1473 360 L1502 365 L1542 380 L1557 410 L1562 439 L1552 479 L1562 519 L1572 548 L1582 578 L1592 608 L1572 633 L1582 662 L1567 682 L1572 712 L1596 732 L1621 757 L1651 772 L1671 796 L1691 826 L1681 851 L1676 886 L1686 915 L1681 945 L1715 960 L1730 975 L1720 984 L1710 1004 L1710 1038 L1701 1068 L1671 1093 L1651 1123 L1636 1163 L1646 1192 L1606 1222 L1587 1242 L1572 1262 L1562 1301 L1532 1321 L1522 1351 L1497 1381 L1502 1410 L1473 1440 L1438 1460 L1398 1485 L1348 1500 L1324 1540 L1314 1510 L1284 1510 L1234 1520 L1200 1540 L1150 1534 L1086 1515 L1026 1515 L986 1495 L986 1440 L1006 1410 L1016 1376 L1026 1351 L1016 1321 L1001 1301 L981 1291 L952 1296 L948 1300 L896 1296 L862 1283 L810 1270 L780 1249 L763 1253 L729 1262 L716 1283 L665 1274 L622 1287 L579 1274 L544 1257 L493 1232 L450 1210 L428 1219 L420 1197 L403 1172 L394 1137 L386 1112 L381 1077 L381 1060 L390 1043 L381 1026 L386 1013 L381 983 L364 987 L343 1000 L321 1013 L291 1013 L278 1000 L270 974 L266 944 L270 931 L287 919 L291 897 L290 874 L300 845 L323 817 L314 789 L290 766 L295 747 L272 719 L248 724 L215 700 L201 667 L197 639 L215 616 L192 601 L154 573 L135 545 L112 498 L110 442 L100 404 Z" fill="#a00000" opacity="0.5"/>
<g filter="url(#b14)" fill="#f0a020" opacity="0.95">
<ellipse cx="1150" cy="930" rx="110" ry="60" transform="rotate(-10 1150 930)"/>
</g>
<g filter="url(#b8)" fill="#a00000" opacity="0.6">
<ellipse cx="900" cy="560" rx="80" ry="150" transform="rotate(-15 900 560)"/>
</g>
<g filter="url(#b14)" fill="#40b0e0" opacity="0.5">
<path d="M60 360 L200 440 L350 540 L440 600 L470 720 L420 780 L330 760 L240 680 L150 560 L90 450 Z"/>
</g>
</g>
<path d="M700 740 L770 850 L850 980 L930 1080 L990 1140 L1010 1250" fill="none" stroke="#222" stroke-width="30" stroke-dasharray="8 10" opacity="0.45"/>
</g></g>
<g transform="translate(980.22,1541.20) scale(0.13408)">
<g clip-path="url(#cg)">
<path d="M103 379 L117 381 L131 442 L140 479 L169 479 L206 494 L244 517 L262 545 L281 545 L319 564 L356 578 L384 601 L412 616 L431 630 L474 611 L525 604 L572 604 L581 592 L605 583 L642 559 L652 531 L647 508 L656 470 L666 447 L647 386 L685 376 L685 320 L713 296 L732 273 L769 226 L807 212 L863 184 L886 179 L901 189 L927 199 L991 201 L1041 201 L1066 199 L1101 216 L1125 231 L1155 261 L1224 263 L1264 266 L1294 280 L1304 315 L1324 335 L1343 325 L1373 328 L1423 340 L1448 350 L1473 360 L1502 365 L1542 380 L1557 410 L1562 439 L1552 479 L1562 519 L1572 548 L1582 578 L1592 608 L1572 633 L1582 662 L1567 682 L1572 712 L1596 732 L1621 757 L1651 772 L1671 796 L1691 826 L1681 851 L1676 886 L1686 915 L1681 945 L1715 960 L1730 975 L1720 984 L1710 1004 L1710 1038 L1701 1068 L1671 1093 L1651 1123 L1636 1163 L1646 1192 L1606 1222 L1587 1242 L1572 1262 L1562 1301 L1532 1321 L1522 1351 L1497 1381 L1502 1410 L1473 1440 L1438 1460 L1398 1485 L1348 1500 L1324 1540 L1314 1510 L1284 1510 L1234 1520 L1200 1540 L1150 1534 L1086 1515 L1026 1515 L986 1495 L986 1440 L1006 1410 L1016 1376 L1026 1351 L1016 1321 L1001 1301 L981 1291 L952 1296 L948 1300 L896 1296 L862 1283 L810 1270 L780 1249 L763 1253 L729 1262 L716 1283 L665 1274 L622 1287 L579 1274 L544 1257 L493 1232 L450 1210 L428 1219 L420 1197 L403 1172 L394 1137 L386 1112 L381 1077 L381 1060 L390 1043 L381 1026 L386 1013 L381 983 L364 987 L343 1000 L321 1013 L291 1013 L278 1000 L270 974 L266 944 L270 931 L287 919 L291 897 L290 874 L300 845 L323 817 L314 789 L290 766 L295 747 L272 719 L248 724 L215 700 L201 667 L197 639 L215 616 L192 601 L154 573 L135 545 L112 498 L110 442 L100 404 Z" fill="#1a5cff" opacity="1"/>
<g filter="url(#b40)" fill="#0a28d0" opacity="0.9">
<ellipse cx="1200" cy="700" rx="300" ry="420" transform="rotate(0 1200 700)"/>
<ellipse cx="1250" cy="1250" rx="200" ry="200" transform="rotate(0 1250 1250)"/>
</g>
<g filter="url(#b25)" fill="#30b8ff" opacity="0.9">
<path d="M270 880 L470 760 L640 760 L700 1000 L720 1300 L400 1300 L280 1050 Z"/>
<ellipse cx="700" cy="1000" rx="220" ry="150" transform="rotate(0 700 1000)"/>
</g>
<path d="M103 379 L117 381 L131 442 L140 479 L169 479 L206 494 L244 517 L262 545 L281 545 L319 564 L356 578 L384 601 L412 616 L431 630 L474 611 L525 604 L572 604 L581 592 L605 583 L642 559 L652 531 L647 508 L656 470 L666 447 L647 386 L685 376 L685 320 L713 296 L732 273 L769 226 L807 212 L863 184 L886 179 L901 189 L927 199 L991 201 L1041 201 L1066 199 L1101 216 L1125 231 L1155 261 L1224 263 L1264 266 L1294 280 L1304 315 L1324 335 L1343 325 L1373 328 L1423 340 L1448 350 L1473 360 L1502 365 L1542 380 L1557 410 L1562 439 L1552 479 L1562 519 L1572 548 L1582 578 L1592 608 L1572 633 L1582 662 L1567 682 L1572 712 L1596 732 L1621 757 L1651 772 L1671 796 L1691 826 L1681 851 L1676 886 L1686 915 L1681 945 L1715 960 L1730 975 L1720 984 L1710 1004 L1710 1038 L1701 1068 L1671 1093 L1651 1123 L1636 1163 L1646 1192 L1606 1222 L1587 1242 L1572 1262 L1562 1301 L1532 1321 L1522 1351 L1497 1381 L1502 1410 L1473 1440 L1438 1460 L1398 1485 L1348 1500 L1324 1540 L1314 1510 L1284 1510 L1234 1520 L1200 1540 L1150 1534 L1086 1515 L1026 1515 L986 1495 L986 1440 L1006 1410 L1016 1376 L1026 1351 L1016 1321 L1001 1301 L981 1291 L952 1296 L948 1300 L896 1296 L862 1283 L810 1270 L780 1249 L763 1253 L729 1262 L716 1283 L665 1274 L622 1287 L579 1274 L544 1257 L493 1232 L450 1210 L428 1219 L420 1197 L403 1172 L394 1137 L386 1112 L381 1077 L381 1060 L390 1043 L381 1026 L386 1013 L381 983 L364 987 L343 1000 L321 1013 L291 1013 L278 1000 L270 974 L266 944 L270 931 L287 919 L291 897 L290 874 L300 845 L323 817 L314 789 L290 766 L295 747 L272 719 L248 724 L215 700 L201 667 L197 639 L215 616 L192 601 L154 573 L135 545 L112 498 L110 442 L100 404 Z" fill="none" stroke="#30d8f0" stroke-width="130" filter="url(#b14)" opacity="0.9"/>
<path d="M103 379 L117 381 L131 442 L140 479 L169 479 L206 494 L244 517 L262 545 L281 545 L319 564 L356 578 L384 601 L412 616 L431 630 L474 611 L525 604 L572 604 L581 592 L605 583 L642 559 L652 531 L647 508 L656 470 L666 447 L647 386 L685 376 L685 320 L713 296 L732 273 L769 226 L807 212 L863 184 L886 179 L901 189 L927 199 L991 201 L1041 201 L1066 199 L1101 216 L1125 231 L1155 261 L1224 263 L1264 266 L1294 280 L1304 315 L1324 335 L1343 325 L1373 328 L1423 340 L1448 350 L1473 360 L1502 365 L1542 380 L1557 410 L1562 439 L1552 479 L1562 519 L1572 548 L1582 578 L1592 608 L1572 633 L1582 662 L1567 682 L1572 712 L1596 732 L1621 757 L1651 772 L1671 796 L1691 826 L1681 851 L1676 886 L1686 915 L1681 945 L1715 960 L1730 975 L1720 984 L1710 1004 L1710 1038 L1701 1068 L1671 1093 L1651 1123 L1636 1163 L1646 1192 L1606 1222 L1587 1242 L1572 1262 L1562 1301 L1532 1321 L1522 1351 L1497 1381 L1502 1410 L1473 1440 L1438 1460 L1398 1485 L1348 1500 L1324 1540 L1314 1510 L1284 1510 L1234 1520 L1200 1540 L1150 1534 L1086 1515 L1026 1515 L986 1495 L986 1440 L1006 1410 L1016 1376 L1026 1351 L1016 1321 L1001 1301 L981 1291 L952 1296 L948 1300 L896 1296 L862 1283 L810 1270 L780 1249 L763 1253 L729 1262 L716 1283 L665 1274 L622 1287 L579 1274 L544 1257 L493 1232 L450 1210 L428 1219 L420 1197 L403 1172 L394 1137 L386 1112 L381 1077 L381 1060 L390 1043 L381 1026 L386 1013 L381 983 L364 987 L343 1000 L321 1013 L291 1013 L278 1000 L270 974 L266 944 L270 931 L287 919 L291 897 L290 874 L300 845 L323 817 L314 789 L290 766 L295 747 L272 719 L248 724 L215 700 L201 667 L197 639 L215 616 L192 601 L154 573 L135 545 L112 498 L110 442 L100 404 Z" fill="none" stroke="#e8e040" stroke-width="50" filter="url(#b8)" opacity="0.7"/>
<path d="M103 379 L117 381 L131 442 L140 479 L169 479 L206 494 L244 517 L262 545 L281 545 L319 564 L356 578 L384 601 L412 616 L431 630 L474 611 L525 604 L572 604 L581 592 L605 583 L642 559 L652 531 L647 508 L656 470 L666 447 L647 386 L685 376 L685 320 L713 296 L732 273 L769 226 L807 212 L863 184 L886 179 L901 189 L927 199 L991 201 L1041 201 L1066 199 L1101 216 L1125 231 L1155 261 L1224 263 L1264 266 L1294 280 L1304 315 L1324 335 L1343 325 L1373 328 L1423 340 L1448 350 L1473 360 L1502 365 L1542 380 L1557 410 L1562 439 L1552 479 L1562 519 L1572 548 L1582 578 L1592 608 L1572 633 L1582 662 L1567 682 L1572 712 L1596 732 L1621 757 L1651 772 L1671 796 L1691 826 L1681 851 L1676 886 L1686 915 L1681 945 L1715 960 L1730 975 L1720 984 L1710 1004 L1710 1038 L1701 1068 L1671 1093 L1651 1123 L1636 1163 L1646 1192 L1606 1222 L1587 1242 L1572 1262 L1562 1301 L1532 1321 L1522 1351 L1497 1381 L1502 1410 L1473 1440 L1438 1460 L1398 1485 L1348 1500 L1324 1540 L1314 1510 L1284 1510 L1234 1520 L1200 1540 L1150 1534 L1086 1515 L1026 1515 L986 1495 L986 1440 L1006 1410 L1016 1376 L1026 1351 L1016 1321 L1001 1301 L981 1291 L952 1296 L948 1300 L896 1296 L862 1283 L810 1270 L780 1249 L763 1253 L729 1262 L716 1283 L665 1274 L622 1287 L579 1274 L544 1257 L493 1232 L450 1210 L428 1219 L420 1197 L403 1172 L394 1137 L386 1112 L381 1077 L381 1060 L390 1043 L381 1026 L386 1013 L381 983 L364 987 L343 1000 L321 1013 L291 1013 L278 1000 L270 974 L266 944 L270 931 L287 919 L291 897 L290 874 L300 845 L323 817 L314 789 L290 766 L295 747 L272 719 L248 724 L215 700 L201 667 L197 639 L215 616 L192 601 L154 573 L135 545 L112 498 L110 442 L100 404 Z" fill="none" stroke="#a00800" stroke-width="45" stroke-dasharray="25 45" stroke-dashoffset="0" opacity="0.95"/>
<path d="M103 379 L117 381 L131 442 L140 479 L169 479 L206 494 L244 517 L262 545 L281 545 L319 564 L356 578 L384 601 L412 616 L431 630 L474 611 L525 604 L572 604 L581 592 L605 583 L642 559 L652 531 L647 508 L656 470 L666 447 L647 386 L685 376 L685 320 L713 296 L732 273 L769 226 L807 212 L863 184 L886 179 L901 189 L927 199 L991 201 L1041 201 L1066 199 L1101 216 L1125 231 L1155 261 L1224 263 L1264 266 L1294 280 L1304 315 L1324 335 L1343 325 L1373 328 L1423 340 L1448 350 L1473 360 L1502 365 L1542 380 L1557 410 L1562 439 L1552 479 L1562 519 L1572 548 L1582 578 L1592 608 L1572 633 L1582 662 L1567 682 L1572 712 L1596 732 L1621 757 L1651 772 L1671 796 L1691 826 L1681 851 L1676 886 L1686 915 L1681 945 L1715 960 L1730 975 L1720 984 L1710 1004 L1710 1038 L1701 1068 L1671 1093 L1651 1123 L1636 1163 L1646 1192 L1606 1222 L1587 1242 L1572 1262 L1562 1301 L1532 1321 L1522 1351 L1497 1381 L1502 1410 L1473 1440 L1438 1460 L1398 1485 L1348 1500 L1324 1540 L1314 1510 L1284 1510 L1234 1520 L1200 1540 L1150 1534 L1086 1515 L1026 1515 L986 1495 L986 1440 L1006 1410 L1016 1376 L1026 1351 L1016 1321 L1001 1301 L981 1291 L952 1296 L948 1300 L896 1296 L862 1283 L810 1270 L780 1249 L763 1253 L729 1262 L716 1283 L665 1274 L622 1287 L579 1274 L544 1257 L493 1232 L450 1210 L428 1219 L420 1197 L403 1172 L394 1137 L386 1112 L381 1077 L381 1060 L390 1043 L381 1026 L386 1013 L381 983 L364 987 L343 1000 L321 1013 L291 1013 L278 1000 L270 974 L266 944 L270 931 L287 919 L291 897 L290 874 L300 845 L323 817 L314 789 L290 766 L295 747 L272 719 L248 724 L215 700 L201 667 L197 639 L215 616 L192 601 L154 573 L135 545 L112 498 L110 442 L100 404 Z" fill="none" stroke="#d02000" stroke-width="30" stroke-dasharray="15 80" stroke-dashoffset="30" opacity="0.9"/>
<g filter="url(#b8)" fill="#a00000" opacity="0.9">
<ellipse cx="1440" cy="650" rx="70" ry="35" transform="rotate(0 1440 650)"/>
<ellipse cx="1550" cy="1220" rx="50" ry="40" transform="rotate(0 1550 1220)"/>
</g>
<g filter="url(#b14)" fill="#c01808" opacity="0.55">
<path d="M60 360 L200 440 L350 540 L440 600 L470 720 L420 780 L330 760 L240 680 L150 560 L90 450 Z"/>
</g>
<g filter="url(#b8)" fill="#a00000" opacity="0.9">
<ellipse cx="480" cy="650" rx="60" ry="60" transform="rotate(0 480 650)"/>
</g>
<circle cx="882" cy="875" r="246" fill="#b3b3b3"/>
<path d="M700 740 L770 850 L850 980 L930 1080 L975 1120" fill="none" stroke="#222" stroke-width="30" stroke-dasharray="8 10" opacity="0.45"/>
</g></g>
<g transform="translate(2064.42,1539.70) scale(0.13408)">
<g clip-path="url(#cg)">
<path d="M103 379 L117 381 L131 442 L140 479 L169 479 L206 494 L244 517 L262 545 L281 545 L319 564 L356 578 L384 601 L412 616 L431 630 L474 611 L525 604 L572 604 L581 592 L605 583 L642 559 L652 531 L647 508 L656 470 L666 447 L647 386 L685 376 L685 320 L713 296 L732 273 L769 226 L807 212 L863 184 L886 179 L901 189 L927 199 L991 201 L1041 201 L1066 199 L1101 216 L1125 231 L1155 261 L1224 263 L1264 266 L1294 280 L1304 315 L1324 335 L1343 325 L1373 328 L1423 340 L1448 350 L1473 360 L1502 365 L1542 380 L1557 410 L1562 439 L1552 479 L1562 519 L1572 548 L1582 578 L1592 608 L1572 633 L1582 662 L1567 682 L1572 712 L1596 732 L1621 757 L1651 772 L1671 796 L1691 826 L1681 851 L1676 886 L1686 915 L1681 945 L1715 960 L1730 975 L1720 984 L1710 1004 L1710 1038 L1701 1068 L1671 1093 L1651 1123 L1636 1163 L1646 1192 L1606 1222 L1587 1242 L1572 1262 L1562 1301 L1532 1321 L1522 1351 L1497 1381 L1502 1410 L1473 1440 L1438 1460 L1398 1485 L1348 1500 L1324 1540 L1314 1510 L1284 1510 L1234 1520 L1200 1540 L1150 1534 L1086 1515 L1026 1515 L986 1495 L986 1440 L1006 1410 L1016 1376 L1026 1351 L1016 1321 L1001 1301 L981 1291 L952 1296 L948 1300 L896 1296 L862 1283 L810 1270 L780 1249 L763 1253 L729 1262 L716 1283 L665 1274 L622 1287 L579 1274 L544 1257 L493 1232 L450 1210 L428 1219 L420 1197 L403 1172 L394 1137 L386 1112 L381 1077 L381 1060 L390 1043 L381 1026 L386 1013 L381 983 L364 987 L343 1000 L321 1013 L291 1013 L278 1000 L270 974 L266 944 L270 931 L287 919 L291 897 L290 874 L300 845 L323 817 L314 789 L290 766 L295 747 L272 719 L248 724 L215 700 L201 667 L197 639 L215 616 L192 601 L154 573 L135 545 L112 498 L110 442 L100 404 Z" fill="#b3b3b3" opacity="1"/>
<g clip-path="url(#covE)">
<path d="M103 379 L117 381 L131 442 L140 479 L169 479 L206 494 L244 517 L262 545 L281 545 L319 564 L356 578 L384 601 L412 616 L431 630 L474 611 L525 604 L572 604 L581 592 L605 583 L642 559 L652 531 L647 508 L656 470 L666 447 L647 386 L685 376 L685 320 L713 296 L732 273 L769 226 L807 212 L863 184 L886 179 L901 189 L927 199 L991 201 L1041 201 L1066 199 L1101 216 L1125 231 L1155 261 L1224 263 L1264 266 L1294 280 L1304 315 L1324 335 L1343 325 L1373 328 L1423 340 L1448 350 L1473 360 L1502 365 L1542 380 L1557 410 L1562 439 L1552 479 L1562 519 L1572 548 L1582 578 L1592 608 L1572 633 L1582 662 L1567 682 L1572 712 L1596 732 L1621 757 L1651 772 L1671 796 L1691 826 L1681 851 L1676 886 L1686 915 L1681 945 L1715 960 L1730 975 L1720 984 L1710 1004 L1710 1038 L1701 1068 L1671 1093 L1651 1123 L1636 1163 L1646 1192 L1606 1222 L1587 1242 L1572 1262 L1562 1301 L1532 1321 L1522 1351 L1497 1381 L1502 1410 L1473 1440 L1438 1460 L1398 1485 L1348 1500 L1324 1540 L1314 1510 L1284 1510 L1234 1520 L1200 1540 L1150 1534 L1086 1515 L1026 1515 L986 1495 L986 1440 L1006 1410 L1016 1376 L1026 1351 L1016 1321 L1001 1301 L981 1291 L952 1296 L948 1300 L896 1296 L862 1283 L810 1270 L780 1249 L763 1253 L729 1262 L716 1283 L665 1274 L622 1287 L579 1274 L544 1257 L493 1232 L450 1210 L428 1219 L420 1197 L403 1172 L394 1137 L386 1112 L381 1077 L381 1060 L390 1043 L381 1026 L386 1013 L381 983 L364 987 L343 1000 L321 1013 L291 1013 L278 1000 L270 974 L266 944 L270 931 L287 919 L291 897 L290 874 L300 845 L323 817 L314 789 L290 766 L295 747 L272 719 L248 724 L215 700 L201 667 L197 639 L215 616 L192 601 L154 573 L135 545 L112 498 L110 442 L100 404 Z" fill="#a00000" opacity="0.5"/>
<g filter="url(#b14)" fill="#f0a020" opacity="0.95">
<ellipse cx="1150" cy="930" rx="110" ry="60" transform="rotate(-10 1150 930)"/>
</g>
<g filter="url(#b8)" fill="#a00000" opacity="0.6">
<ellipse cx="900" cy="560" rx="80" ry="150" transform="rotate(-15 900 560)"/>
</g>
<g filter="url(#b14)" fill="#40b0e0" opacity="0.5">
<path d="M60 360 L200 440 L350 540 L440 600 L470 720 L420 780 L330 760 L240 680 L150 560 L90 450 Z"/>
</g>
</g>
<path d="M700 740 L770 850 L850 980 L930 1080 L990 1140 L1010 1250" fill="none" stroke="#222" stroke-width="30" stroke-dasharray="8 10" opacity="0.45"/>
</g></g>
<g transform="translate(980.22,1866.20) scale(0.13408)">
<g clip-path="url(#cg)">
<path d="M103 379 L117 381 L131 442 L140 479 L169 479 L206 494 L244 517 L262 545 L281 545 L319 564 L356 578 L384 601 L412 616 L431 630 L474 611 L525 604 L572 604 L581 592 L605 583 L642 559 L652 531 L647 508 L656 470 L666 447 L647 386 L685 376 L685 320 L713 296 L732 273 L769 226 L807 212 L863 184 L886 179 L901 189 L927 199 L991 201 L1041 201 L1066 199 L1101 216 L1125 231 L1155 261 L1224 263 L1264 266 L1294 280 L1304 315 L1324 335 L1343 325 L1373 328 L1423 340 L1448 350 L1473 360 L1502 365 L1542 380 L1557 410 L1562 439 L1552 479 L1562 519 L1572 548 L1582 578 L1592 608 L1572 633 L1582 662 L1567 682 L1572 712 L1596 732 L1621 757 L1651 772 L1671 796 L1691 826 L1681 851 L1676 886 L1686 915 L1681 945 L1715 960 L1730 975 L1720 984 L1710 1004 L1710 1038 L1701 1068 L1671 1093 L1651 1123 L1636 1163 L1646 1192 L1606 1222 L1587 1242 L1572 1262 L1562 1301 L1532 1321 L1522 1351 L1497 1381 L1502 1410 L1473 1440 L1438 1460 L1398 1485 L1348 1500 L1324 1540 L1314 1510 L1284 1510 L1234 1520 L1200 1540 L1150 1534 L1086 1515 L1026 1515 L986 1495 L986 1440 L1006 1410 L1016 1376 L1026 1351 L1016 1321 L1001 1301 L981 1291 L952 1296 L948 1300 L896 1296 L862 1283 L810 1270 L780 1249 L763 1253 L729 1262 L716 1283 L665 1274 L622 1287 L579 1274 L544 1257 L493 1232 L450 1210 L428 1219 L420 1197 L403 1172 L394 1137 L386 1112 L381 1077 L381 1060 L390 1043 L381 1026 L386 1013 L381 983 L364 987 L343 1000 L321 1013 L291 1013 L278 1000 L270 974 L266 944 L270 931 L287 919 L291 897 L290 874 L300 845 L323 817 L314 789 L290 766 L295 747 L272 719 L248 724 L215 700 L201 667 L197 639 L215 616 L192 601 L154 573 L135 545 L112 498 L110 442 L100 404 Z" fill="#f8d838" opacity="1"/>
<g filter="url(#b40)" fill="#ff9a20" opacity="0.8">
<ellipse cx="1250" cy="1150" rx="200" ry="260" transform="rotate(0 1250 1150)"/>
<ellipse cx="1230" cy="650" rx="120" ry="120" transform="rotate(0 1230 650)"/>
</g>
<g filter="url(#b40)" fill="#70e0b0" opacity="0.9">
<ellipse cx="1000" cy="370" rx="300" ry="130" transform="rotate(0 1000 370)"/>
<ellipse cx="1450" cy="520" rx="120" ry="200" transform="rotate(0 1450 520)"/>
</g>
<path d="M732 635 A 306 306 0 0 1 1002 1165" fill="none" stroke="#e02000" stroke-width="55" filter="url(#b14)"/>
<path d="M103 379 L117 381 L131 442 L140 479 L169 479 L206 494 L244 517 L262 545 L281 545 L319 564 L356 578 L384 601 L412 616 L431 630 L474 611 L525 604 L572 604 L581 592 L605 583 L642 559 L652 531 L647 508 L656 470 L666 447 L647 386 L685 376 L685 320 L713 296 L732 273 L769 226 L807 212 L863 184 L886 179 L901 189 L927 199 L991 201 L1041 201 L1066 199 L1101 216 L1125 231 L1155 261 L1224 263 L1264 266 L1294 280 L1304 315 L1324 335 L1343 325 L1373 328 L1423 340 L1448 350 L1473 360 L1502 365 L1542 380 L1557 410 L1562 439 L1552 479 L1562 519 L1572 548 L1582 578 L1592 608 L1572 633 L1582 662 L1567 682 L1572 712 L1596 732 L1621 757 L1651 772 L1671 796 L1691 826 L1681 851 L1676 886 L1686 915 L1681 945 L1715 960 L1730 975 L1720 984 L1710 1004 L1710 1038 L1701 1068 L1671 1093 L1651 1123 L1636 1163 L1646 1192 L1606 1222 L1587 1242 L1572 1262 L1562 1301 L1532 1321 L1522 1351 L1497 1381 L1502 1410 L1473 1440 L1438 1460 L1398 1485 L1348 1500 L1324 1540 L1314 1510 L1284 1510 L1234 1520 L1200 1540 L1150 1534 L1086 1515 L1026 1515 L986 1495 L986 1440 L1006 1410 L1016 1376 L1026 1351 L1016 1321 L1001 1301 L981 1291 L952 1296 L948 1300 L896 1296 L862 1283 L810 1270 L780 1249 L763 1253 L729 1262 L716 1283 L665 1274 L622 1287 L579 1274 L544 1257 L493 1232 L450 1210 L428 1219 L420 1197 L403 1172 L394 1137 L386 1112 L381 1077 L381 1060 L390 1043 L381 1026 L386 1013 L381 983 L364 987 L343 1000 L321 1013 L291 1013 L278 1000 L270 974 L266 944 L270 931 L287 919 L291 897 L290 874 L300 845 L323 817 L314 789 L290 766 L295 747 L272 719 L248 724 L215 700 L201 667 L197 639 L215 616 L192 601 L154 573 L135 545 L112 498 L110 442 L100 404 Z" fill="none" stroke="#40d0f0" stroke-width="260" filter="url(#b25)" opacity="0.95"/>
<path d="M103 379 L117 381 L131 442 L140 479 L169 479 L206 494 L244 517 L262 545 L281 545 L319 564 L356 578 L384 601 L412 616 L431 630 L474 611 L525 604 L572 604 L581 592 L605 583 L642 559 L652 531 L647 508 L656 470 L666 447 L647 386 L685 376 L685 320 L713 296 L732 273 L769 226 L807 212 L863 184 L886 179 L901 189 L927 199 L991 201 L1041 201 L1066 199 L1101 216 L1125 231 L1155 261 L1224 263 L1264 266 L1294 280 L1304 315 L1324 335 L1343 325 L1373 328 L1423 340 L1448 350 L1473 360 L1502 365 L1542 380 L1557 410 L1562 439 L1552 479 L1562 519 L1572 548 L1582 578 L1592 608 L1572 633 L1582 662 L1567 682 L1572 712 L1596 732 L1621 757 L1651 772 L1671 796 L1691 826 L1681 851 L1676 886 L1686 915 L1681 945 L1715 960 L1730 975 L1720 984 L1710 1004 L1710 1038 L1701 1068 L1671 1093 L1651 1123 L1636 1163 L1646 1192 L1606 1222 L1587 1242 L1572 1262 L1562 1301 L1532 1321 L1522 1351 L1497 1381 L1502 1410 L1473 1440 L1438 1460 L1398 1485 L1348 1500 L1324 1540 L1314 1510 L1284 1510 L1234 1520 L1200 1540 L1150 1534 L1086 1515 L1026 1515 L986 1495 L986 1440 L1006 1410 L1016 1376 L1026 1351 L1016 1321 L1001 1301 L981 1291 L952 1296 L948 1300 L896 1296 L862 1283 L810 1270 L780 1249 L763 1253 L729 1262 L716 1283 L665 1274 L622 1287 L579 1274 L544 1257 L493 1232 L450 1210 L428 1219 L420 1197 L403 1172 L394 1137 L386 1112 L381 1077 L381 1060 L390 1043 L381 1026 L386 1013 L381 983 L364 987 L343 1000 L321 1013 L291 1013 L278 1000 L270 974 L266 944 L270 931 L287 919 L291 897 L290 874 L300 845 L323 817 L314 789 L290 766 L295 747 L272 719 L248 724 L215 700 L201 667 L197 639 L215 616 L192 601 L154 573 L135 545 L112 498 L110 442 L100 404 Z" fill="none" stroke="#1848e0" stroke-width="60" filter="url(#b8)" opacity="0.75"/>
<g filter="url(#b25)" fill="#1030c0" opacity="0.95">
<path d="M60 360 L200 440 L350 540 L440 600 L470 720 L420 780 L330 760 L240 680 L150 560 L90 450 Z"/>
<path d="M270 880 L470 760 L640 760 L700 1000 L720 1300 L400 1300 L280 1050 Z"/>
</g>
<g filter="url(#b25)" fill="#f0d040" opacity="0.9">
<ellipse cx="600" cy="1050" rx="130" ry="100" transform="rotate(0 600 1050)"/>
</g>
<circle cx="882" cy="875" r="246" fill="#b3b3b3"/>
<path d="M700 740 L770 850 L850 980 L930 1080 L975 1120" fill="none" stroke="#222" stroke-width="30" stroke-dasharray="8 10" opacity="0.45"/>
</g></g>
<g transform="translate(2064.42,1865.30) scale(0.13408)">
<g clip-path="url(#cg)">
<path d="M103 379 L117 381 L131 442 L140 479 L169 479 L206 494 L244 517 L262 545 L281 545 L319 564 L356 578 L384 601 L412 616 L431 630 L474 611 L525 604 L572 604 L581 592 L605 583 L642 559 L652 531 L647 508 L656 470 L666 447 L647 386 L685 376 L685 320 L713 296 L732 273 L769 226 L807 212 L863 184 L886 179 L901 189 L927 199 L991 201 L1041 201 L1066 199 L1101 216 L1125 231 L1155 261 L1224 263 L1264 266 L1294 280 L1304 315 L1324 335 L1343 325 L1373 328 L1423 340 L1448 350 L1473 360 L1502 365 L1542 380 L1557 410 L1562 439 L1552 479 L1562 519 L1572 548 L1582 578 L1592 608 L1572 633 L1582 662 L1567 682 L1572 712 L1596 732 L1621 757 L1651 772 L1671 796 L1691 826 L1681 851 L1676 886 L1686 915 L1681 945 L1715 960 L1730 975 L1720 984 L1710 1004 L1710 1038 L1701 1068 L1671 1093 L1651 1123 L1636 1163 L1646 1192 L1606 1222 L1587 1242 L1572 1262 L1562 1301 L1532 1321 L1522 1351 L1497 1381 L1502 1410 L1473 1440 L1438 1460 L1398 1485 L1348 1500 L1324 1540 L1314 1510 L1284 1510 L1234 1520 L1200 1540 L1150 1534 L1086 1515 L1026 1515 L986 1495 L986 1440 L1006 1410 L1016 1376 L1026 1351 L1016 1321 L1001 1301 L981 1291 L952 1296 L948 1300 L896 1296 L862 1283 L810 1270 L780 1249 L763 1253 L729 1262 L716 1283 L665 1274 L622 1287 L579 1274 L544 1257 L493 1232 L450 1210 L428 1219 L420 1197 L403 1172 L394 1137 L386 1112 L381 1077 L381 1060 L390 1043 L381 1026 L386 1013 L381 983 L364 987 L343 1000 L321 1013 L291 1013 L278 1000 L270 974 L266 944 L270 931 L287 919 L291 897 L290 874 L300 845 L323 817 L314 789 L290 766 L295 747 L272 719 L248 724 L215 700 L201 667 L197 639 L215 616 L192 601 L154 573 L135 545 L112 498 L110 442 L100 404 Z" fill="#b3b3b3" opacity="1"/>
<path d="M103 379 L117 381 L131 442 L140 479 L169 479 L206 494 L244 517 L262 545 L281 545 L319 564 L356 578 L384 601 L412 616 L431 630 L474 611 L525 604 L572 604 L581 592 L605 583 L642 559 L652 531 L647 508 L656 470 L666 447 L647 386 L685 376 L685 320 L713 296 L732 273 L769 226 L807 212 L863 184 L886 179 L901 189 L927 199 L991 201 L1041 201 L1066 199 L1101 216 L1125 231 L1155 261 L1224 263 L1264 266 L1294 280 L1304 315 L1324 335 L1343 325 L1373 328 L1423 340 L1448 350 L1473 360 L1502 365 L1542 380 L1557 410 L1562 439 L1552 479 L1562 519 L1572 548 L1582 578 L1592 608 L1572 633 L1582 662 L1567 682 L1572 712 L1596 732 L1621 757 L1651 772 L1671 796 L1691 826 L1681 851 L1676 886 L1686 915 L1681 945 L1715 960 L1730 975 L1720 984 L1710 1004 L1710 1038 L1701 1068 L1671 1093 L1651 1123 L1636 1163 L1646 1192 L1606 1222 L1587 1242 L1572 1262 L1562 1301 L1532 1321 L1522 1351 L1497 1381 L1502 1410 L1473 1440 L1438 1460 L1398 1485 L1348 1500 L1324 1540 L1314 1510 L1284 1510 L1234 1520 L1200 1540 L1150 1534 L1086 1515 L1026 1515 L986 1495 L986 1440 L1006 1410 L1016 1376 L1026 1351 L1016 1321 L1001 1301 L981 1291 L952 1296 L948 1300 L896 1296 L862 1283 L810 1270 L780 1249 L763 1253 L729 1262 L716 1283 L665 1274 L622 1287 L579 1274 L544 1257 L493 1232 L450 1210 L428 1219 L420 1197 L403 1172 L394 1137 L386 1112 L381 1077 L381 1060 L390 1043 L381 1026 L386 1013 L381 983 L364 987 L343 1000 L321 1013 L291 1013 L278 1000 L270 974 L266 944 L270 931 L287 919 L291 897 L290 874 L300 845 L323 817 L314 789 L290 766 L295 747 L272 719 L248 724 L215 700 L201 667 L197 639 L215 616 L192 601 L154 573 L135 545 L112 498 L110 442 L100 404 Z" fill="#1e50f0" opacity="1"/>
<g filter="url(#b25)" fill="#30c0f0" opacity="0.8">
<ellipse cx="1300" cy="700" rx="200" ry="300" transform="rotate(30 1300 700)"/>
<ellipse cx="1000" cy="1300" rx="200" ry="80" transform="rotate(0 1000 1300)"/>
<ellipse cx="700" cy="400" rx="150" ry="60" transform="rotate(0 700 400)"/>
</g>
<path d="M780 500 L900 470 L1150 560 L1220 640 L1260 800 L1280 1000 L1130 990 L1010 980 L900 940 L800 880 L760 800 L720 700 L740 600 Z" fill="#b3b3b3"/>
<path d="M430 640 L560 600 L700 640 L800 780 L760 880 L700 1000 L560 1000 L470 960 L400 870 L420 760 Z" fill="#b3b3b3"/>
<path d="M470 1000 L520 1100 L560 1200 L480 1230 L420 1150 L430 1060 Z" fill="#b3b3b3"/>
<path d="M1330 1240 L1460 1230 L1470 1300 L1330 1300 Z" fill="#b3b3b3"/>
<path d="M1590 780 L1700 770 L1700 870 L1600 870 Z" fill="#b3b3b3"/>
<path d="M880 1000 L1000 1060 L1080 1200 L1020 1230 L920 1120 Z" fill="#b3b3b3"/>
<g clip-path="url(#covF2)">
<path d="M103 379 L117 381 L131 442 L140 479 L169 479 L206 494 L244 517 L262 545 L281 545 L319 564 L356 578 L384 601 L412 616 L431 630 L474 611 L525 604 L572 604 L581 592 L605 583 L642 559 L652 531 L647 508 L656 470 L666 447 L647 386 L685 376 L685 320 L713 296 L732 273 L769 226 L807 212 L863 184 L886 179 L901 189 L927 199 L991 201 L1041 201 L1066 199 L1101 216 L1125 231 L1155 261 L1224 263 L1264 266 L1294 280 L1304 315 L1324 335 L1343 325 L1373 328 L1423 340 L1448 350 L1473 360 L1502 365 L1542 380 L1557 410 L1562 439 L1552 479 L1562 519 L1572 548 L1582 578 L1592 608 L1572 633 L1582 662 L1567 682 L1572 712 L1596 732 L1621 757 L1651 772 L1671 796 L1691 826 L1681 851 L1676 886 L1686 915 L1681 945 L1715 960 L1730 975 L1720 984 L1710 1004 L1710 1038 L1701 1068 L1671 1093 L1651 1123 L1636 1163 L1646 1192 L1606 1222 L1587 1242 L1572 1262 L1562 1301 L1532 1321 L1522 1351 L1497 1381 L1502 1410 L1473 1440 L1438 1460 L1398 1485 L1348 1500 L1324 1540 L1314 1510 L1284 1510 L1234 1520 L1200 1540 L1150 1534 L1086 1515 L1026 1515 L986 1495 L986 1440 L1006 1410 L1016 1376 L1026 1351 L1016 1321 L1001 1301 L981 1291 L952 1296 L948 1300 L896 1296 L862 1283 L810 1270 L780 1249 L763 1253 L729 1262 L716 1283 L665 1274 L622 1287 L579 1274 L544 1257 L493 1232 L450 1210 L428 1219 L420 1197 L403 1172 L394 1137 L386 1112 L381 1077 L381 1060 L390 1043 L381 1026 L386 1013 L381 983 L364 987 L343 1000 L321 1013 L291 1013 L278 1000 L270 974 L266 944 L270 931 L287 919 L291 897 L290 874 L300 845 L323 817 L314 789 L290 766 L295 747 L272 719 L248 724 L215 700 L201 667 L197 639 L215 616 L192 601 L154 573 L135 545 L112 498 L110 442 L100 404 Z" fill="#1a40e8" opacity="1"/>
</g>
<path d="M700 740 L770 850 L850 980 L930 1080 L990 1140 L1010 1250" fill="none" stroke="#222" stroke-width="30" stroke-dasharray="8 10" opacity="0.45"/>
</g></g>
<g transform="translate(980.22,2120.60) scale(0.13408)">
<g clip-path="url(#cg)">
<path d="M103 379 L117 381 L131 442 L140 479 L169 479 L206 494 L244 517 L262 545 L281 545 L319 564 L356 578 L384 601 L412 616 L431 630 L474 611 L525 604 L572 604 L581 592 L605 583 L642 559 L652 531 L647 508 L656 470 L666 447 L647 386 L685 376 L685 320 L713 296 L732 273 L769 226 L807 212 L863 184 L886 179 L901 189 L927 199 L991 201 L1041 201 L1066 199 L1101 216 L1125 231 L1155 261 L1224 263 L1264 266 L1294 280 L1304 315 L1324 335 L1343 325 L1373 328 L1423 340 L1448 350 L1473 360 L1502 365 L1542 380 L1557 410 L1562 439 L1552 479 L1562 519 L1572 548 L1582 578 L1592 608 L1572 633 L1582 662 L1567 682 L1572 712 L1596 732 L1621 757 L1651 772 L1671 796 L1691 826 L1681 851 L1676 886 L1686 915 L1681 945 L1715 960 L1730 975 L1720 984 L1710 1004 L1710 1038 L1701 1068 L1671 1093 L1651 1123 L1636 1163 L1646 1192 L1606 1222 L1587 1242 L1572 1262 L1562 1301 L1532 1321 L1522 1351 L1497 1381 L1502 1410 L1473 1440 L1438 1460 L1398 1485 L1348 1500 L1324 1540 L1314 1510 L1284 1510 L1234 1520 L1200 1540 L1150 1534 L1086 1515 L1026 1515 L986 1495 L986 1440 L1006 1410 L1016 1376 L1026 1351 L1016 1321 L1001 1301 L981 1291 L952 1296 L948 1300 L896 1296 L862 1283 L810 1270 L780 1249 L763 1253 L729 1262 L716 1283 L665 1274 L622 1287 L579 1274 L544 1257 L493 1232 L450 1210 L428 1219 L420 1197 L403 1172 L394 1137 L386 1112 L381 1077 L381 1060 L390 1043 L381 1026 L386 1013 L381 983 L364 987 L343 1000 L321 1013 L291 1013 L278 1000 L270 974 L266 944 L270 931 L287 919 L291 897 L290 874 L300 845 L323 817 L314 789 L290 766 L295 747 L272 719 L248 724 L215 700 L201 667 L197 639 L215 616 L192 601 L154 573 L135 545 L112 498 L110 442 L100 404 Z" fill="#1a5cff" opacity="1"/>
<g filter="url(#b40)" fill="#0a28d0" opacity="0.9">
<ellipse cx="1200" cy="700" rx="300" ry="420" transform="rotate(0 1200 700)"/>
<ellipse cx="1250" cy="1250" rx="200" ry="200" transform="rotate(0 1250 1250)"/>
</g>
<g filter="url(#b25)" fill="#30b8ff" opacity="0.9">
<path d="M270 880 L470 760 L640 760 L700 1000 L720 1300 L400 1300 L280 1050 Z"/>
<ellipse cx="700" cy="1000" rx="220" ry="150" transform="rotate(0 700 1000)"/>
</g>
<path d="M103 379 L117 381 L131 442 L140 479 L169 479 L206 494 L244 517 L262 545 L281 545 L319 564 L356 578 L384 601 L412 616 L431 630 L474 611 L525 604 L572 604 L581 592 L605 583 L642 559 L652 531 L647 508 L656 470 L666 447 L647 386 L685 376 L685 320 L713 296 L732 273 L769 226 L807 212 L863 184 L886 179 L901 189 L927 199 L991 201 L1041 201 L1066 199 L1101 216 L1125 231 L1155 261 L1224 263 L1264 266 L1294 280 L1304 315 L1324 335 L1343 325 L1373 328 L1423 340 L1448 350 L1473 360 L1502 365 L1542 380 L1557 410 L1562 439 L1552 479 L1562 519 L1572 548 L1582 578 L1592 608 L1572 633 L1582 662 L1567 682 L1572 712 L1596 732 L1621 757 L1651 772 L1671 796 L1691 826 L1681 851 L1676 886 L1686 915 L1681 945 L1715 960 L1730 975 L1720 984 L1710 1004 L1710 1038 L1701 1068 L1671 1093 L1651 1123 L1636 1163 L1646 1192 L1606 1222 L1587 1242 L1572 1262 L1562 1301 L1532 1321 L1522 1351 L1497 1381 L1502 1410 L1473 1440 L1438 1460 L1398 1485 L1348 1500 L1324 1540 L1314 1510 L1284 1510 L1234 1520 L1200 1540 L1150 1534 L1086 1515 L1026 1515 L986 1495 L986 1440 L1006 1410 L1016 1376 L1026 1351 L1016 1321 L1001 1301 L981 1291 L952 1296 L948 1300 L896 1296 L862 1283 L810 1270 L780 1249 L763 1253 L729 1262 L716 1283 L665 1274 L622 1287 L579 1274 L544 1257 L493 1232 L450 1210 L428 1219 L420 1197 L403 1172 L394 1137 L386 1112 L381 1077 L381 1060 L390 1043 L381 1026 L386 1013 L381 983 L364 987 L343 1000 L321 1013 L291 1013 L278 1000 L270 974 L266 944 L270 931 L287 919 L291 897 L290 874 L300 845 L323 817 L314 789 L290 766 L295 747 L272 719 L248 724 L215 700 L201 667 L197 639 L215 616 L192 601 L154 573 L135 545 L112 498 L110 442 L100 404 Z" fill="none" stroke="#30d8f0" stroke-width="130" filter="url(#b14)" opacity="0.9"/>
<path d="M103 379 L117 381 L131 442 L140 479 L169 479 L206 494 L244 517 L262 545 L281 545 L319 564 L356 578 L384 601 L412 616 L431 630 L474 611 L525 604 L572 604 L581 592 L605 583 L642 559 L652 531 L647 508 L656 470 L666 447 L647 386 L685 376 L685 320 L713 296 L732 273 L769 226 L807 212 L863 184 L886 179 L901 189 L927 199 L991 201 L1041 201 L1066 199 L1101 216 L1125 231 L1155 261 L1224 263 L1264 266 L1294 280 L1304 315 L1324 335 L1343 325 L1373 328 L1423 340 L1448 350 L1473 360 L1502 365 L1542 380 L1557 410 L1562 439 L1552 479 L1562 519 L1572 548 L1582 578 L1592 608 L1572 633 L1582 662 L1567 682 L1572 712 L1596 732 L1621 757 L1651 772 L1671 796 L1691 826 L1681 851 L1676 886 L1686 915 L1681 945 L1715 960 L1730 975 L1720 984 L1710 1004 L1710 1038 L1701 1068 L1671 1093 L1651 1123 L1636 1163 L1646 1192 L1606 1222 L1587 1242 L1572 1262 L1562 1301 L1532 1321 L1522 1351 L1497 1381 L1502 1410 L1473 1440 L1438 1460 L1398 1485 L1348 1500 L1324 1540 L1314 1510 L1284 1510 L1234 1520 L1200 1540 L1150 1534 L1086 1515 L1026 1515 L986 1495 L986 1440 L1006 1410 L1016 1376 L1026 1351 L1016 1321 L1001 1301 L981 1291 L952 1296 L948 1300 L896 1296 L862 1283 L810 1270 L780 1249 L763 1253 L729 1262 L716 1283 L665 1274 L622 1287 L579 1274 L544 1257 L493 1232 L450 1210 L428 1219 L420 1197 L403 1172 L394 1137 L386 1112 L381 1077 L381 1060 L390 1043 L381 1026 L386 1013 L381 983 L364 987 L343 1000 L321 1013 L291 1013 L278 1000 L270 974 L266 944 L270 931 L287 919 L291 897 L290 874 L300 845 L323 817 L314 789 L290 766 L295 747 L272 719 L248 724 L215 700 L201 667 L197 639 L215 616 L192 601 L154 573 L135 545 L112 498 L110 442 L100 404 Z" fill="none" stroke="#e8e040" stroke-width="50" filter="url(#b8)" opacity="0.7"/>
<path d="M103 379 L117 381 L131 442 L140 479 L169 479 L206 494 L244 517 L262 545 L281 545 L319 564 L356 578 L384 601 L412 616 L431 630 L474 611 L525 604 L572 604 L581 592 L605 583 L642 559 L652 531 L647 508 L656 470 L666 447 L647 386 L685 376 L685 320 L713 296 L732 273 L769 226 L807 212 L863 184 L886 179 L901 189 L927 199 L991 201 L1041 201 L1066 199 L1101 216 L1125 231 L1155 261 L1224 263 L1264 266 L1294 280 L1304 315 L1324 335 L1343 325 L1373 328 L1423 340 L1448 350 L1473 360 L1502 365 L1542 380 L1557 410 L1562 439 L1552 479 L1562 519 L1572 548 L1582 578 L1592 608 L1572 633 L1582 662 L1567 682 L1572 712 L1596 732 L1621 757 L1651 772 L1671 796 L1691 826 L1681 851 L1676 886 L1686 915 L1681 945 L1715 960 L1730 975 L1720 984 L1710 1004 L1710 1038 L1701 1068 L1671 1093 L1651 1123 L1636 1163 L1646 1192 L1606 1222 L1587 1242 L1572 1262 L1562 1301 L1532 1321 L1522 1351 L1497 1381 L1502 1410 L1473 1440 L1438 1460 L1398 1485 L1348 1500 L1324 1540 L1314 1510 L1284 1510 L1234 1520 L1200 1540 L1150 1534 L1086 1515 L1026 1515 L986 1495 L986 1440 L1006 1410 L1016 1376 L1026 1351 L1016 1321 L1001 1301 L981 1291 L952 1296 L948 1300 L896 1296 L862 1283 L810 1270 L780 1249 L763 1253 L729 1262 L716 1283 L665 1274 L622 1287 L579 1274 L544 1257 L493 1232 L450 1210 L428 1219 L420 1197 L403 1172 L394 1137 L386 1112 L381 1077 L381 1060 L390 1043 L381 1026 L386 1013 L381 983 L364 987 L343 1000 L321 1013 L291 1013 L278 1000 L270 974 L266 944 L270 931 L287 919 L291 897 L290 874 L300 845 L323 817 L314 789 L290 766 L295 747 L272 719 L248 724 L215 700 L201 667 L197 639 L215 616 L192 601 L154 573 L135 545 L112 498 L110 442 L100 404 Z" fill="none" stroke="#a00800" stroke-width="45" stroke-dasharray="25 45" stroke-dashoffset="0" opacity="0.95"/>
<path d="M103 379 L117 381 L131 442 L140 479 L169 479 L206 494 L244 517 L262 545 L281 545 L319 564 L356 578 L384 601 L412 616 L431 630 L474 611 L525 604 L572 604 L581 592 L605 583 L642 559 L652 531 L647 508 L656 470 L666 447 L647 386 L685 376 L685 320 L713 296 L732 273 L769 226 L807 212 L863 184 L886 179 L901 189 L927 199 L991 201 L1041 201 L1066 199 L1101 216 L1125 231 L1155 261 L1224 263 L1264 266 L1294 280 L1304 315 L1324 335 L1343 325 L1373 328 L1423 340 L1448 350 L1473 360 L1502 365 L1542 380 L1557 410 L1562 439 L1552 479 L1562 519 L1572 548 L1582 578 L1592 608 L1572 633 L1582 662 L1567 682 L1572 712 L1596 732 L1621 757 L1651 772 L1671 796 L1691 826 L1681 851 L1676 886 L1686 915 L1681 945 L1715 960 L1730 975 L1720 984 L1710 1004 L1710 1038 L1701 1068 L1671 1093 L1651 1123 L1636 1163 L1646 1192 L1606 1222 L1587 1242 L1572 1262 L1562 1301 L1532 1321 L1522 1351 L1497 1381 L1502 1410 L1473 1440 L1438 1460 L1398 1485 L1348 1500 L1324 1540 L1314 1510 L1284 1510 L1234 1520 L1200 1540 L1150 1534 L1086 1515 L1026 1515 L986 1495 L986 1440 L1006 1410 L1016 1376 L1026 1351 L1016 1321 L1001 1301 L981 1291 L952 1296 L948 1300 L896 1296 L862 1283 L810 1270 L780 1249 L763 1253 L729 1262 L716 1283 L665 1274 L622 1287 L579 1274 L544 1257 L493 1232 L450 1210 L428 1219 L420 1197 L403 1172 L394 1137 L386 1112 L381 1077 L381 1060 L390 1043 L381 1026 L386 1013 L381 983 L364 987 L343 1000 L321 1013 L291 1013 L278 1000 L270 974 L266 944 L270 931 L287 919 L291 897 L290 874 L300 845 L323 817 L314 789 L290 766 L295 747 L272 719 L248 724 L215 700 L201 667 L197 639 L215 616 L192 601 L154 573 L135 545 L112 498 L110 442 L100 404 Z" fill="none" stroke="#d02000" stroke-width="30" stroke-dasharray="15 80" stroke-dashoffset="30" opacity="0.9"/>
<g filter="url(#b8)" fill="#a00000" opacity="0.9">
<ellipse cx="1440" cy="650" rx="70" ry="35" transform="rotate(0 1440 650)"/>
<ellipse cx="1550" cy="1220" rx="50" ry="40" transform="rotate(0 1550 1220)"/>
</g>
<g filter="url(#b4)" fill="#b3b3b3" opacity="1">
<path d="M60 360 L200 440 L350 540 L440 600 L470 720 L420 780 L330 760 L240 680 L150 560 L90 450 Z"/>
<ellipse cx="330" cy="760" rx="70" ry="80" transform="rotate(0 330 760)"/>
</g>
<g filter="url(#b14)" fill="#a01000" opacity="0.95">
<ellipse cx="540" cy="760" rx="110" ry="190" transform="rotate(-20 540 760)"/>
</g>
<g filter="url(#b8)" fill="#f0a020" opacity="0.8">
<ellipse cx="600" cy="860" rx="50" ry="80" transform="rotate(0 600 860)"/>
</g>
<circle cx="882" cy="875" r="246" fill="#b3b3b3"/>
<path d="M700 740 L770 850 L850 980 L930 1080 L975 1120" fill="none" stroke="#222" stroke-width="30" stroke-dasharray="8 10" opacity="0.45"/>
</g></g>
<g transform="translate(2064.42,2119.40) scale(0.13408)">
<g clip-path="url(#cg)">
<path d="M103 379 L117 381 L131 442 L140 479 L169 479 L206 494 L244 517 L262 545 L281 545 L319 564 L356 578 L384 601 L412 616 L431 630 L474 611 L525 604 L572 604 L581 592 L605 583 L642 559 L652 531 L647 508 L656 470 L666 447 L647 386 L685 376 L685 320 L713 296 L732 273 L769 226 L807 212 L863 184 L886 179 L901 189 L927 199 L991 201 L1041 201 L1066 199 L1101 216 L1125 231 L1155 261 L1224 263 L1264 266 L1294 280 L1304 315 L1324 335 L1343 325 L1373 328 L1423 340 L1448 350 L1473 360 L1502 365 L1542 380 L1557 410 L1562 439 L1552 479 L1562 519 L1572 548 L1582 578 L1592 608 L1572 633 L1582 662 L1567 682 L1572 712 L1596 732 L1621 757 L1651 772 L1671 796 L1691 826 L1681 851 L1676 886 L1686 915 L1681 945 L1715 960 L1730 975 L1720 984 L1710 1004 L1710 1038 L1701 1068 L1671 1093 L1651 1123 L1636 1163 L1646 1192 L1606 1222 L1587 1242 L1572 1262 L1562 1301 L1532 1321 L1522 1351 L1497 1381 L1502 1410 L1473 1440 L1438 1460 L1398 1485 L1348 1500 L1324 1540 L1314 1510 L1284 1510 L1234 1520 L1200 1540 L1150 1534 L1086 1515 L1026 1515 L986 1495 L986 1440 L1006 1410 L1016 1376 L1026 1351 L1016 1321 L1001 1301 L981 1291 L952 1296 L948 1300 L896 1296 L862 1283 L810 1270 L780 1249 L763 1253 L729 1262 L716 1283 L665 1274 L622 1287 L579 1274 L544 1257 L493 1232 L450 1210 L428 1219 L420 1197 L403 1172 L394 1137 L386 1112 L381 1077 L381 1060 L390 1043 L381 1026 L386 1013 L381 983 L364 987 L343 1000 L321 1013 L291 1013 L278 1000 L270 974 L266 944 L270 931 L287 919 L291 897 L290 874 L300 845 L323 817 L314 789 L290 766 L295 747 L272 719 L248 724 L215 700 L201 667 L197 639 L215 616 L192 601 L154 573 L135 545 L112 498 L110 442 L100 404 Z" fill="#b3b3b3" opacity="1"/>
<path d="M103 379 L117 381 L131 442 L140 479 L169 479 L206 494 L244 517 L262 545 L281 545 L319 564 L356 578 L384 601 L412 616 L431 630 L474 611 L525 604 L572 604 L581 592 L605 583 L642 559 L652 531 L647 508 L656 470 L666 447 L647 386 L685 376 L685 320 L713 296 L732 273 L769 226 L807 212 L863 184 L886 179 L901 189 L927 199 L991 201 L1041 201 L1066 199 L1101 216 L1125 231 L1155 261 L1224 263 L1264 266 L1294 280 L1304 315 L1324 335 L1343 325 L1373 328 L1423 340 L1448 350 L1473 360 L1502 365 L1542 380 L1557 410 L1562 439 L1552 479 L1562 519 L1572 548 L1582 578 L1592 608 L1572 633 L1582 662 L1567 682 L1572 712 L1596 732 L1621 757 L1651 772 L1671 796 L1691 826 L1681 851 L1676 886 L1686 915 L1681 945 L1715 960 L1730 975 L1720 984 L1710 1004 L1710 1038 L1701 1068 L1671 1093 L1651 1123 L1636 1163 L1646 1192 L1606 1222 L1587 1242 L1572 1262 L1562 1301 L1532 1321 L1522 1351 L1497 1381 L1502 1410 L1473 1440 L1438 1460 L1398 1485 L1348 1500 L1324 1540 L1314 1510 L1284 1510 L1234 1520 L1200 1540 L1150 1534 L1086 1515 L1026 1515 L986 1495 L986 1440 L1006 1410 L1016 1376 L1026 1351 L1016 1321 L1001 1301 L981 1291 L952 1296 L948 1300 L896 1296 L862 1283 L810 1270 L780 1249 L763 1253 L729 1262 L716 1283 L665 1274 L622 1287 L579 1274 L544 1257 L493 1232 L450 1210 L428 1219 L420 1197 L403 1172 L394 1137 L386 1112 L381 1077 L381 1060 L390 1043 L381 1026 L386 1013 L381 983 L364 987 L343 1000 L321 1013 L291 1013 L278 1000 L270 974 L266 944 L270 931 L287 919 L291 897 L290 874 L300 845 L323 817 L314 789 L290 766 L295 747 L272 719 L248 724 L215 700 L201 667 L197 639 L215 616 L192 601 L154 573 L135 545 L112 498 L110 442 L100 404 Z" fill="#2850f0" opacity="1"/>
<path d="M103 379 L117 381 L131 442 L140 479 L169 479 L206 494 L244 517 L262 545 L281 545 L319 564 L356 578 L384 601 L412 616 L431 630 L474 611 L525 604 L572 604 L581 592 L605 583 L642 559 L652 531 L647 508 L656 470 L666 447 L647 386 L685 376 L685 320 L713 296 L732 273 L769 226 L807 212 L863 184 L886 179 L901 189 L927 199 L991 201 L1041 201 L1066 199 L1101 216 L1125 231 L1155 261 L1224 263 L1264 266 L1294 280 L1304 315 L1324 335 L1343 325 L1373 328 L1423 340 L1448 350 L1473 360 L1502 365 L1542 380 L1557 410 L1562 439 L1552 479 L1562 519 L1572 548 L1582 578 L1592 608 L1572 633 L1582 662 L1567 682 L1572 712 L1596 732 L1621 757 L1651 772 L1671 796 L1691 826 L1681 851 L1676 886 L1686 915 L1681 945 L1715 960 L1730 975 L1720 984 L1710 1004 L1710 1038 L1701 1068 L1671 1093 L1651 1123 L1636 1163 L1646 1192 L1606 1222 L1587 1242 L1572 1262 L1562 1301 L1532 1321 L1522 1351 L1497 1381 L1502 1410 L1473 1440 L1438 1460 L1398 1485 L1348 1500 L1324 1540 L1314 1510 L1284 1510 L1234 1520 L1200 1540 L1150 1534 L1086 1515 L1026 1515 L986 1495 L986 1440 L1006 1410 L1016 1376 L1026 1351 L1016 1321 L1001 1301 L981 1291 L952 1296 L948 1300 L896 1296 L862 1283 L810 1270 L780 1249 L763 1253 L729 1262 L716 1283 L665 1274 L622 1287 L579 1274 L544 1257 L493 1232 L450 1210 L428 1219 L420 1197 L403 1172 L394 1137 L386 1112 L381 1077 L381 1060 L390 1043 L381 1026 L386 1013 L381 983 L364 987 L343 1000 L321 1013 L291 1013 L278 1000 L270 974 L266 944 L270 931 L287 919 L291 897 L290 874 L300 845 L323 817 L314 789 L290 766 L295 747 L272 719 L248 724 L215 700 L201 667 L197 639 L215 616 L192 601 L154 573 L135 545 L112 498 L110 442 L100 404 Z" fill="none" stroke="#a00000" stroke-width="110" filter="url(#b8)" opacity="0.7"/>
<g filter="url(#b14)" fill="#a00000" opacity="0.8">
<ellipse cx="1400" cy="800" rx="150" ry="300" transform="rotate(0 1400 800)"/>
<ellipse cx="1250" cy="1200" rx="200" ry="120" transform="rotate(0 1250 1200)"/>
<ellipse cx="800" cy="300" rx="150" ry="80" transform="rotate(0 800 300)"/>
<ellipse cx="1500" cy="500" rx="80" ry="150" transform="rotate(0 1500 500)"/>
</g>
<g filter="url(#b25)" fill="#40d0c0" opacity="0.8">
<ellipse cx="1300" cy="900" rx="120" ry="200" transform="rotate(0 1300 900)"/>
<ellipse cx="1150" cy="1300" rx="120" ry="80" transform="rotate(0 1150 1300)"/>
</g>
<g filter="url(#b14)" fill="#f0c020" opacity="0.8">
<ellipse cx="1380" cy="1000" rx="60" ry="120" transform="rotate(0 1380 1000)"/>
</g>
<path d="M780 500 L900 470 L1150 560 L1220 640 L1260 800 L1280 1000 L1130 990 L1010 980 L900 940 L800 880 L760 800 L720 700 L740 600 Z" fill="#b3b3b3"/>
<path d="M430 640 L560 600 L700 640 L800 780 L760 880 L700 1000 L560 1000 L470 960 L400 870 L420 760 Z" fill="#b3b3b3"/>
<path d="M470 1000 L520 1100 L560 1200 L480 1230 L420 1150 L430 1060 Z" fill="#b3b3b3"/>
<path d="M1330 1240 L1460 1230 L1470 1300 L1330 1300 Z" fill="#b3b3b3"/>
<path d="M1590 780 L1700 770 L1700 870 L1600 870 Z" fill="#b3b3b3"/>
<path d="M880 1000 L1000 1060 L1080 1200 L1020 1230 L920 1120 Z" fill="#b3b3b3"/>
<g clip-path="url(#covF2)">
<path d="M103 379 L117 381 L131 442 L140 479 L169 479 L206 494 L244 517 L262 545 L281 545 L319 564 L356 578 L384 601 L412 616 L431 630 L474 611 L525 604 L572 604 L581 592 L605 583 L642 559 L652 531 L647 508 L656 470 L666 447 L647 386 L685 376 L685 320 L713 296 L732 273 L769 226 L807 212 L863 184 L886 179 L901 189 L927 199 L991 201 L1041 201 L1066 199 L1101 216 L1125 231 L1155 261 L1224 263 L1264 266 L1294 280 L1304 315 L1324 335 L1343 325 L1373 328 L1423 340 L1448 350 L1473 360 L1502 365 L1542 380 L1557 410 L1562 439 L1552 479 L1562 519 L1572 548 L1582 578 L1592 608 L1572 633 L1582 662 L1567 682 L1572 712 L1596 732 L1621 757 L1651 772 L1671 796 L1691 826 L1681 851 L1676 886 L1686 915 L1681 945 L1715 960 L1730 975 L1720 984 L1710 1004 L1710 1038 L1701 1068 L1671 1093 L1651 1123 L1636 1163 L1646 1192 L1606 1222 L1587 1242 L1572 1262 L1562 1301 L1532 1321 L1522 1351 L1497 1381 L1502 1410 L1473 1440 L1438 1460 L1398 1485 L1348 1500 L1324 1540 L1314 1510 L1284 1510 L1234 1520 L1200 1540 L1150 1534 L1086 1515 L1026 1515 L986 1495 L986 1440 L1006 1410 L1016 1376 L1026 1351 L1016 1321 L1001 1301 L981 1291 L952 1296 L948 1300 L896 1296 L862 1283 L810 1270 L780 1249 L763 1253 L729 1262 L716 1283 L665 1274 L622 1287 L579 1274 L544 1257 L493 1232 L450 1210 L428 1219 L420 1197 L403 1172 L394 1137 L386 1112 L381 1077 L381 1060 L390 1043 L381 1026 L386 1013 L381 983 L364 987 L343 1000 L321 1013 L291 1013 L278 1000 L270 974 L266 944 L270 931 L287 919 L291 897 L290 874 L300 845 L323 817 L314 789 L290 766 L295 747 L272 719 L248 724 L215 700 L201 667 L197 639 L215 616 L192 601 L154 573 L135 545 L112 498 L110 442 L100 404 Z" fill="#2040e8" opacity="1"/>
</g>
<path d="M700 740 L770 850 L850 980 L930 1080 L990 1140 L1010 1250" fill="none" stroke="#222" stroke-width="30" stroke-dasharray="8 10" opacity="0.45"/>
</g></g>
<g transform="translate(980.22,2375.00) scale(0.13408)">
<g clip-path="url(#cg)">
<path d="M103 379 L117 381 L131 442 L140 479 L169 479 L206 494 L244 517 L262 545 L281 545 L319 564 L356 578 L384 601 L412 616 L431 630 L474 611 L525 604 L572 604 L581 592 L605 583 L642 559 L652 531 L647 508 L656 470 L666 447 L647 386 L685 376 L685 320 L713 296 L732 273 L769 226 L807 212 L863 184 L886 179 L901 189 L927 199 L991 201 L1041 201 L1066 199 L1101 216 L1125 231 L1155 261 L1224 263 L1264 266 L1294 280 L1304 315 L1324 335 L1343 325 L1373 328 L1423 340 L1448 350 L1473 360 L1502 365 L1542 380 L1557 410 L1562 439 L1552 479 L1562 519 L1572 548 L1582 578 L1592 608 L1572 633 L1582 662 L1567 682 L1572 712 L1596 732 L1621 757 L1651 772 L1671 796 L1691 826 L1681 851 L1676 886 L1686 915 L1681 945 L1715 960 L1730 975 L1720 984 L1710 1004 L1710 1038 L1701 1068 L1671 1093 L1651 1123 L1636 1163 L1646 1192 L1606 1222 L1587 1242 L1572 1262 L1562 1301 L1532 1321 L1522 1351 L1497 1381 L1502 1410 L1473 1440 L1438 1460 L1398 1485 L1348 1500 L1324 1540 L1314 1510 L1284 1510 L1234 1520 L1200 1540 L1150 1534 L1086 1515 L1026 1515 L986 1495 L986 1440 L1006 1410 L1016 1376 L1026 1351 L1016 1321 L1001 1301 L981 1291 L952 1296 L948 1300 L896 1296 L862 1283 L810 1270 L780 1249 L763 1253 L729 1262 L716 1283 L665 1274 L622 1287 L579 1274 L544 1257 L493 1232 L450 1210 L428 1219 L420 1197 L403 1172 L394 1137 L386 1112 L381 1077 L381 1060 L390 1043 L381 1026 L386 1013 L381 983 L364 987 L343 1000 L321 1013 L291 1013 L278 1000 L270 974 L266 944 L270 931 L287 919 L291 897 L290 874 L300 845 L323 817 L314 789 L290 766 L295 747 L272 719 L248 724 L215 700 L201 667 L197 639 L215 616 L192 601 L154 573 L135 545 L112 498 L110 442 L100 404 Z" fill="#1a5cff" opacity="1"/>
<g filter="url(#b40)" fill="#0a28d0" opacity="0.9">
<ellipse cx="1200" cy="700" rx="300" ry="420" transform="rotate(0 1200 700)"/>
<ellipse cx="1250" cy="1250" rx="200" ry="200" transform="rotate(0 1250 1250)"/>
</g>
<g filter="url(#b25)" fill="#30b8ff" opacity="0.9">
<path d="M270 880 L470 760 L640 760 L700 1000 L720 1300 L400 1300 L280 1050 Z"/>
<ellipse cx="700" cy="1000" rx="220" ry="150" transform="rotate(0 700 1000)"/>
</g>
<path d="M103 379 L117 381 L131 442 L140 479 L169 479 L206 494 L244 517 L262 545 L281 545 L319 564 L356 578 L384 601 L412 616 L431 630 L474 611 L525 604 L572 604 L581 592 L605 583 L642 559 L652 531 L647 508 L656 470 L666 447 L647 386 L685 376 L685 320 L713 296 L732 273 L769 226 L807 212 L863 184 L886 179 L901 189 L927 199 L991 201 L1041 201 L1066 199 L1101 216 L1125 231 L1155 261 L1224 263 L1264 266 L1294 280 L1304 315 L1324 335 L1343 325 L1373 328 L1423 340 L1448 350 L1473 360 L1502 365 L1542 380 L1557 410 L1562 439 L1552 479 L1562 519 L1572 548 L1582 578 L1592 608 L1572 633 L1582 662 L1567 682 L1572 712 L1596 732 L1621 757 L1651 772 L1671 796 L1691 826 L1681 851 L1676 886 L1686 915 L1681 945 L1715 960 L1730 975 L1720 984 L1710 1004 L1710 1038 L1701 1068 L1671 1093 L1651 1123 L1636 1163 L1646 1192 L1606 1222 L1587 1242 L1572 1262 L1562 1301 L1532 1321 L1522 1351 L1497 1381 L1502 1410 L1473 1440 L1438 1460 L1398 1485 L1348 1500 L1324 1540 L1314 1510 L1284 1510 L1234 1520 L1200 1540 L1150 1534 L1086 1515 L1026 1515 L986 1495 L986 1440 L1006 1410 L1016 1376 L1026 1351 L1016 1321 L1001 1301 L981 1291 L952 1296 L948 1300 L896 1296 L862 1283 L810 1270 L780 1249 L763 1253 L729 1262 L716 1283 L665 1274 L622 1287 L579 1274 L544 1257 L493 1232 L450 1210 L428 1219 L420 1197 L403 1172 L394 1137 L386 1112 L381 1077 L381 1060 L390 1043 L381 1026 L386 1013 L381 983 L364 987 L343 1000 L321 1013 L291 1013 L278 1000 L270 974 L266 944 L270 931 L287 919 L291 897 L290 874 L300 845 L323 817 L314 789 L290 766 L295 747 L272 719 L248 724 L215 700 L201 667 L197 639 L215 616 L192 601 L154 573 L135 545 L112 498 L110 442 L100 404 Z" fill="none" stroke="#30d8f0" stroke-width="130" filter="url(#b14)" opacity="0.9"/>
<path d="M103 379 L117 381 L131 442 L140 479 L169 479 L206 494 L244 517 L262 545 L281 545 L319 564 L356 578 L384 601 L412 616 L431 630 L474 611 L525 604 L572 604 L581 592 L605 583 L642 559 L652 531 L647 508 L656 470 L666 447 L647 386 L685 376 L685 320 L713 296 L732 273 L769 226 L807 212 L863 184 L886 179 L901 189 L927 199 L991 201 L1041 201 L1066 199 L1101 216 L1125 231 L1155 261 L1224 263 L1264 266 L1294 280 L1304 315 L1324 335 L1343 325 L1373 328 L1423 340 L1448 350 L1473 360 L1502 365 L1542 380 L1557 410 L1562 439 L1552 479 L1562 519 L1572 548 L1582 578 L1592 608 L1572 633 L1582 662 L1567 682 L1572 712 L1596 732 L1621 757 L1651 772 L1671 796 L1691 826 L1681 851 L1676 886 L1686 915 L1681 945 L1715 960 L1730 975 L1720 984 L1710 1004 L1710 1038 L1701 1068 L1671 1093 L1651 1123 L1636 1163 L1646 1192 L1606 1222 L1587 1242 L1572 1262 L1562 1301 L1532 1321 L1522 1351 L1497 1381 L1502 1410 L1473 1440 L1438 1460 L1398 1485 L1348 1500 L1324 1540 L1314 1510 L1284 1510 L1234 1520 L1200 1540 L1150 1534 L1086 1515 L1026 1515 L986 1495 L986 1440 L1006 1410 L1016 1376 L1026 1351 L1016 1321 L1001 1301 L981 1291 L952 1296 L948 1300 L896 1296 L862 1283 L810 1270 L780 1249 L763 1253 L729 1262 L716 1283 L665 1274 L622 1287 L579 1274 L544 1257 L493 1232 L450 1210 L428 1219 L420 1197 L403 1172 L394 1137 L386 1112 L381 1077 L381 1060 L390 1043 L381 1026 L386 1013 L381 983 L364 987 L343 1000 L321 1013 L291 1013 L278 1000 L270 974 L266 944 L270 931 L287 919 L291 897 L290 874 L300 845 L323 817 L314 789 L290 766 L295 747 L272 719 L248 724 L215 700 L201 667 L197 639 L215 616 L192 601 L154 573 L135 545 L112 498 L110 442 L100 404 Z" fill="none" stroke="#e8e040" stroke-width="50" filter="url(#b8)" opacity="0.7"/>
<path d="M103 379 L117 381 L131 442 L140 479 L169 479 L206 494 L244 517 L262 545 L281 545 L319 564 L356 578 L384 601 L412 616 L431 630 L474 611 L525 604 L572 604 L581 592 L605 583 L642 559 L652 531 L647 508 L656 470 L666 447 L647 386 L685 376 L685 320 L713 296 L732 273 L769 226 L807 212 L863 184 L886 179 L901 189 L927 199 L991 201 L1041 201 L1066 199 L1101 216 L1125 231 L1155 261 L1224 263 L1264 266 L1294 280 L1304 315 L1324 335 L1343 325 L1373 328 L1423 340 L1448 350 L1473 360 L1502 365 L1542 380 L1557 410 L1562 439 L1552 479 L1562 519 L1572 548 L1582 578 L1592 608 L1572 633 L1582 662 L1567 682 L1572 712 L1596 732 L1621 757 L1651 772 L1671 796 L1691 826 L1681 851 L1676 886 L1686 915 L1681 945 L1715 960 L1730 975 L1720 984 L1710 1004 L1710 1038 L1701 1068 L1671 1093 L1651 1123 L1636 1163 L1646 1192 L1606 1222 L1587 1242 L1572 1262 L1562 1301 L1532 1321 L1522 1351 L1497 1381 L1502 1410 L1473 1440 L1438 1460 L1398 1485 L1348 1500 L1324 1540 L1314 1510 L1284 1510 L1234 1520 L1200 1540 L1150 1534 L1086 1515 L1026 1515 L986 1495 L986 1440 L1006 1410 L1016 1376 L1026 1351 L1016 1321 L1001 1301 L981 1291 L952 1296 L948 1300 L896 1296 L862 1283 L810 1270 L780 1249 L763 1253 L729 1262 L716 1283 L665 1274 L622 1287 L579 1274 L544 1257 L493 1232 L450 1210 L428 1219 L420 1197 L403 1172 L394 1137 L386 1112 L381 1077 L381 1060 L390 1043 L381 1026 L386 1013 L381 983 L364 987 L343 1000 L321 1013 L291 1013 L278 1000 L270 974 L266 944 L270 931 L287 919 L291 897 L290 874 L300 845 L323 817 L314 789 L290 766 L295 747 L272 719 L248 724 L215 700 L201 667 L197 639 L215 616 L192 601 L154 573 L135 545 L112 498 L110 442 L100 404 Z" fill="none" stroke="#a00800" stroke-width="45" stroke-dasharray="25 45" stroke-dashoffset="0" opacity="0.95"/>
<path d="M103 379 L117 381 L131 442 L140 479 L169 479 L206 494 L244 517 L262 545 L281 545 L319 564 L356 578 L384 601 L412 616 L431 630 L474 611 L525 604 L572 604 L581 592 L605 583 L642 559 L652 531 L647 508 L656 470 L666 447 L647 386 L685 376 L685 320 L713 296 L732 273 L769 226 L807 212 L863 184 L886 179 L901 189 L927 199 L991 201 L1041 201 L1066 199 L1101 216 L1125 231 L1155 261 L1224 263 L1264 266 L1294 280 L1304 315 L1324 335 L1343 325 L1373 328 L1423 340 L1448 350 L1473 360 L1502 365 L1542 380 L1557 410 L1562 439 L1552 479 L1562 519 L1572 548 L1582 578 L1592 608 L1572 633 L1582 662 L1567 682 L1572 712 L1596 732 L1621 757 L1651 772 L1671 796 L1691 826 L1681 851 L1676 886 L1686 915 L1681 945 L1715 960 L1730 975 L1720 984 L1710 1004 L1710 1038 L1701 1068 L1671 1093 L1651 1123 L1636 1163 L1646 1192 L1606 1222 L1587 1242 L1572 1262 L1562 1301 L1532 1321 L1522 1351 L1497 1381 L1502 1410 L1473 1440 L1438 1460 L1398 1485 L1348 1500 L1324 1540 L1314 1510 L1284 1510 L1234 1520 L1200 1540 L1150 1534 L1086 1515 L1026 1515 L986 1495 L986 1440 L1006 1410 L1016 1376 L1026 1351 L1016 1321 L1001 1301 L981 1291 L952 1296 L948 1300 L896 1296 L862 1283 L810 1270 L780 1249 L763 1253 L729 1262 L716 1283 L665 1274 L622 1287 L579 1274 L544 1257 L493 1232 L450 1210 L428 1219 L420 1197 L403 1172 L394 1137 L386 1112 L381 1077 L381 1060 L390 1043 L381 1026 L386 1013 L381 983 L364 987 L343 1000 L321 1013 L291 1013 L278 1000 L270 974 L266 944 L270 931 L287 919 L291 897 L290 874 L300 845 L323 817 L314 789 L290 766 L295 747 L272 719 L248 724 L215 700 L201 667 L197 639 L215 616 L192 601 L154 573 L135 545 L112 498 L110 442 L100 404 Z" fill="none" stroke="#d02000" stroke-width="30" stroke-dasharray="15 80" stroke-dashoffset="30" opacity="0.9"/>
<g filter="url(#b8)" fill="#a00000" opacity="0.9">
<ellipse cx="1440" cy="650" rx="70" ry="35" transform="rotate(0 1440 650)"/>
<ellipse cx="1550" cy="1220" rx="50" ry="40" transform="rotate(0 1550 1220)"/>
</g>
<g filter="url(#b4)" fill="#b3b3b3" opacity="1">
<path d="M60 360 L200 440 L350 540 L440 600 L470 720 L420 780 L330 760 L240 680 L150 560 L90 450 Z"/>
<ellipse cx="330" cy="760" rx="70" ry="80" transform="rotate(0 330 760)"/>
</g>
<g filter="url(#b14)" fill="#a01000" opacity="0.95">
<ellipse cx="540" cy="760" rx="110" ry="190" transform="rotate(-20 540 760)"/>
</g>
<g filter="url(#b8)" fill="#f0a020" opacity="0.8">
<ellipse cx="600" cy="860" rx="50" ry="80" transform="rotate(0 600 860)"/>
</g>
<circle cx="882" cy="875" r="246" fill="#b3b3b3"/>
<path d="M700 740 L770 850 L850 980 L930 1080 L975 1120" fill="none" stroke="#222" stroke-width="30" stroke-dasharray="8 10" opacity="0.45"/>
</g></g>
<g transform="translate(2064.42,2373.50) scale(0.13408)">
<g clip-path="url(#cg)">
<path d="M103 379 L117 381 L131 442 L140 479 L169 479 L206 494 L244 517 L262 545 L281 545 L319 564 L356 578 L384 601 L412 616 L431 630 L474 611 L525 604 L572 604 L581 592 L605 583 L642 559 L652 531 L647 508 L656 470 L666 447 L647 386 L685 376 L685 320 L713 296 L732 273 L769 226 L807 212 L863 184 L886 179 L901 189 L927 199 L991 201 L1041 201 L1066 199 L1101 216 L1125 231 L1155 261 L1224 263 L1264 266 L1294 280 L1304 315 L1324 335 L1343 325 L1373 328 L1423 340 L1448 350 L1473 360 L1502 365 L1542 380 L1557 410 L1562 439 L1552 479 L1562 519 L1572 548 L1582 578 L1592 608 L1572 633 L1582 662 L1567 682 L1572 712 L1596 732 L1621 757 L1651 772 L1671 796 L1691 826 L1681 851 L1676 886 L1686 915 L1681 945 L1715 960 L1730 975 L1720 984 L1710 1004 L1710 1038 L1701 1068 L1671 1093 L1651 1123 L1636 1163 L1646 1192 L1606 1222 L1587 1242 L1572 1262 L1562 1301 L1532 1321 L1522 1351 L1497 1381 L1502 1410 L1473 1440 L1438 1460 L1398 1485 L1348 1500 L1324 1540 L1314 1510 L1284 1510 L1234 1520 L1200 1540 L1150 1534 L1086 1515 L1026 1515 L986 1495 L986 1440 L1006 1410 L1016 1376 L1026 1351 L1016 1321 L1001 1301 L981 1291 L952 1296 L948 1300 L896 1296 L862 1283 L810 1270 L780 1249 L763 1253 L729 1262 L716 1283 L665 1274 L622 1287 L579 1274 L544 1257 L493 1232 L450 1210 L428 1219 L420 1197 L403 1172 L394 1137 L386 1112 L381 1077 L381 1060 L390 1043 L381 1026 L386 1013 L381 983 L364 987 L343 1000 L321 1013 L291 1013 L278 1000 L270 974 L266 944 L270 931 L287 919 L291 897 L290 874 L300 845 L323 817 L314 789 L290 766 L295 747 L272 719 L248 724 L215 700 L201 667 L197 639 L215 616 L192 601 L154 573 L135 545 L112 498 L110 442 L100 404 Z" fill="#b3b3b3" opacity="1"/>
<path d="M103 379 L117 381 L131 442 L140 479 L169 479 L206 494 L244 517 L262 545 L281 545 L319 564 L356 578 L384 601 L412 616 L431 630 L474 611 L525 604 L572 604 L581 592 L605 583 L642 559 L652 531 L647 508 L656 470 L666 447 L647 386 L685 376 L685 320 L713 296 L732 273 L769 226 L807 212 L863 184 L886 179 L901 189 L927 199 L991 201 L1041 201 L1066 199 L1101 216 L1125 231 L1155 261 L1224 263 L1264 266 L1294 280 L1304 315 L1324 335 L1343 325 L1373 328 L1423 340 L1448 350 L1473 360 L1502 365 L1542 380 L1557 410 L1562 439 L1552 479 L1562 519 L1572 548 L1582 578 L1592 608 L1572 633 L1582 662 L1567 682 L1572 712 L1596 732 L1621 757 L1651 772 L1671 796 L1691 826 L1681 851 L1676 886 L1686 915 L1681 945 L1715 960 L1730 975 L1720 984 L1710 1004 L1710 1038 L1701 1068 L1671 1093 L1651 1123 L1636 1163 L1646 1192 L1606 1222 L1587 1242 L1572 1262 L1562 1301 L1532 1321 L1522 1351 L1497 1381 L1502 1410 L1473 1440 L1438 1460 L1398 1485 L1348 1500 L1324 1540 L1314 1510 L1284 1510 L1234 1520 L1200 1540 L1150 1534 L1086 1515 L1026 1515 L986 1495 L986 1440 L1006 1410 L1016 1376 L1026 1351 L1016 1321 L1001 1301 L981 1291 L952 1296 L948 1300 L896 1296 L862 1283 L810 1270 L780 1249 L763 1253 L729 1262 L716 1283 L665 1274 L622 1287 L579 1274 L544 1257 L493 1232 L450 1210 L428 1219 L420 1197 L403 1172 L394 1137 L386 1112 L381 1077 L381 1060 L390 1043 L381 1026 L386 1013 L381 983 L364 987 L343 1000 L321 1013 L291 1013 L278 1000 L270 974 L266 944 L270 931 L287 919 L291 897 L290 874 L300 845 L323 817 L314 789 L290 766 L295 747 L272 719 L248 724 L215 700 L201 667 L197 639 L215 616 L192 601 L154 573 L135 545 L112 498 L110 442 L100 404 Z" fill="#2850f0" opacity="1"/>
<path d="M103 379 L117 381 L131 442 L140 479 L169 479 L206 494 L244 517 L262 545 L281 545 L319 564 L356 578 L384 601 L412 616 L431 630 L474 611 L525 604 L572 604 L581 592 L605 583 L642 559 L652 531 L647 508 L656 470 L666 447 L647 386 L685 376 L685 320 L713 296 L732 273 L769 226 L807 212 L863 184 L886 179 L901 189 L927 199 L991 201 L1041 201 L1066 199 L1101 216 L1125 231 L1155 261 L1224 263 L1264 266 L1294 280 L1304 315 L1324 335 L1343 325 L1373 328 L1423 340 L1448 350 L1473 360 L1502 365 L1542 380 L1557 410 L1562 439 L1552 479 L1562 519 L1572 548 L1582 578 L1592 608 L1572 633 L1582 662 L1567 682 L1572 712 L1596 732 L1621 757 L1651 772 L1671 796 L1691 826 L1681 851 L1676 886 L1686 915 L1681 945 L1715 960 L1730 975 L1720 984 L1710 1004 L1710 1038 L1701 1068 L1671 1093 L1651 1123 L1636 1163 L1646 1192 L1606 1222 L1587 1242 L1572 1262 L1562 1301 L1532 1321 L1522 1351 L1497 1381 L1502 1410 L1473 1440 L1438 1460 L1398 1485 L1348 1500 L1324 1540 L1314 1510 L1284 1510 L1234 1520 L1200 1540 L1150 1534 L1086 1515 L1026 1515 L986 1495 L986 1440 L1006 1410 L1016 1376 L1026 1351 L1016 1321 L1001 1301 L981 1291 L952 1296 L948 1300 L896 1296 L862 1283 L810 1270 L780 1249 L763 1253 L729 1262 L716 1283 L665 1274 L622 1287 L579 1274 L544 1257 L493 1232 L450 1210 L428 1219 L420 1197 L403 1172 L394 1137 L386 1112 L381 1077 L381 1060 L390 1043 L381 1026 L386 1013 L381 983 L364 987 L343 1000 L321 1013 L291 1013 L278 1000 L270 974 L266 944 L270 931 L287 919 L291 897 L290 874 L300 845 L323 817 L314 789 L290 766 L295 747 L272 719 L248 724 L215 700 L201 667 L197 639 L215 616 L192 601 L154 573 L135 545 L112 498 L110 442 L100 404 Z" fill="none" stroke="#a00000" stroke-width="110" filter="url(#b8)" opacity="0.7"/>
<g filter="url(#b14)" fill="#a00000" opacity="0.8">
<ellipse cx="1400" cy="800" rx="150" ry="300" transform="rotate(0 1400 800)"/>
<ellipse cx="1250" cy="1200" rx="200" ry="120" transform="rotate(0 1250 1200)"/>
<ellipse cx="800" cy="300" rx="150" ry="80" transform="rotate(0 800 300)"/>
<ellipse cx="1500" cy="500" rx="80" ry="150" transform="rotate(0 1500 500)"/>
</g>
<g filter="url(#b25)" fill="#40d0c0" opacity="0.8">
<ellipse cx="1300" cy="900" rx="120" ry="200" transform="rotate(0 1300 900)"/>
<ellipse cx="1150" cy="1300" rx="120" ry="80" transform="rotate(0 1150 1300)"/>
</g>
<g filter="url(#b14)" fill="#f0c020" opacity="0.8">
<ellipse cx="1380" cy="1000" rx="60" ry="120" transform="rotate(0 1380 1000)"/>
</g>
<path d="M780 500 L900 470 L1150 560 L1220 640 L1260 800 L1280 1000 L1130 990 L1010 980 L900 940 L800 880 L760 800 L720 700 L740 600 Z" fill="#b3b3b3"/>
<path d="M430 640 L560 600 L700 640 L800 780 L760 880 L700 1000 L560 1000 L470 960 L400 870 L420 760 Z" fill="#b3b3b3"/>
<path d="M470 1000 L520 1100 L560 1200 L480 1230 L420 1150 L430 1060 Z" fill="#b3b3b3"/>
<path d="M1330 1240 L1460 1230 L1470 1300 L1330 1300 Z" fill="#b3b3b3"/>
<path d="M1590 780 L1700 770 L1700 870 L1600 870 Z" fill="#b3b3b3"/>
<path d="M880 1000 L1000 1060 L1080 1200 L1020 1230 L920 1120 Z" fill="#b3b3b3"/>
<g clip-path="url(#covF2)">
<path d="M103 379 L117 381 L131 442 L140 479 L169 479 L206 494 L244 517 L262 545 L281 545 L319 564 L356 578 L384 601 L412 616 L431 630 L474 611 L525 604 L572 604 L581 592 L605 583 L642 559 L652 531 L647 508 L656 470 L666 447 L647 386 L685 376 L685 320 L713 296 L732 273 L769 226 L807 212 L863 184 L886 179 L901 189 L927 199 L991 201 L1041 201 L1066 199 L1101 216 L1125 231 L1155 261 L1224 263 L1264 266 L1294 280 L1304 315 L1324 335 L1343 325 L1373 328 L1423 340 L1448 350 L1473 360 L1502 365 L1542 380 L1557 410 L1562 439 L1552 479 L1562 519 L1572 548 L1582 578 L1592 608 L1572 633 L1582 662 L1567 682 L1572 712 L1596 732 L1621 757 L1651 772 L1671 796 L1691 826 L1681 851 L1676 886 L1686 915 L1681 945 L1715 960 L1730 975 L1720 984 L1710 1004 L1710 1038 L1701 1068 L1671 1093 L1651 1123 L1636 1163 L1646 1192 L1606 1222 L1587 1242 L1572 1262 L1562 1301 L1532 1321 L1522 1351 L1497 1381 L1502 1410 L1473 1440 L1438 1460 L1398 1485 L1348 1500 L1324 1540 L1314 1510 L1284 1510 L1234 1520 L1200 1540 L1150 1534 L1086 1515 L1026 1515 L986 1495 L986 1440 L1006 1410 L1016 1376 L1026 1351 L1016 1321 L1001 1301 L981 1291 L952 1296 L948 1300 L896 1296 L862 1283 L810 1270 L780 1249 L763 1253 L729 1262 L716 1283 L665 1274 L622 1287 L579 1274 L544 1257 L493 1232 L450 1210 L428 1219 L420 1197 L403 1172 L394 1137 L386 1112 L381 1077 L381 1060 L390 1043 L381 1026 L386 1013 L381 983 L364 987 L343 1000 L321 1013 L291 1013 L278 1000 L270 974 L266 944 L270 931 L287 919 L291 897 L290 874 L300 845 L323 817 L314 789 L290 766 L295 747 L272 719 L248 724 L215 700 L201 667 L197 639 L215 616 L192 601 L154 573 L135 545 L112 498 L110 442 L100 404 Z" fill="#2040e8" opacity="1"/>
</g>
<path d="M700 740 L770 850 L850 980 L930 1080 L990 1140 L1010 1250" fill="none" stroke="#222" stroke-width="30" stroke-dasharray="8 10" opacity="0.45"/>
</g></g>
<rect x="220.35" y="201.95" width="741.70" height="739.50" fill="none" stroke="#000" stroke-width="3.9"/>
<rect x="220.85" y="1035.65" width="741.20" height="739.20" fill="none" stroke="#000" stroke-width="3.9"/>
<rect x="221.05" y="1868.95" width="740.90" height="740.90" fill="none" stroke="#000" stroke-width="3.9"/>
<rect x="1304.55" y="198.95" width="741.50" height="739.20" fill="none" stroke="#000" stroke-width="3.9"/>
<rect x="1304.55" y="1034.95" width="741.80" height="739.40" fill="none" stroke="#000" stroke-width="3.9"/>
<rect x="1304.55" y="1869.25" width="741.80" height="739.40" fill="none" stroke="#000" stroke-width="3.9"/>
<rect x="981.35" y="199.05" width="235.10" height="234.60" fill="none" stroke="#000" stroke-width="3.9"/>
<rect x="2065.55" y="196.35" width="235.20" height="234.60" fill="none" stroke="#000" stroke-width="3.9"/>
<rect x="981.35" y="453.45" width="235.10" height="234.60" fill="none" stroke="#000" stroke-width="3.9"/>
<rect x="2065.55" y="450.45" width="235.20" height="234.60" fill="none" stroke="#000" stroke-width="3.9"/>
<rect x="981.35" y="707.85" width="235.10" height="234.60" fill="none" stroke="#000" stroke-width="3.9"/>
<rect x="2065.55" y="704.55" width="235.20" height="234.60" fill="none" stroke="#000" stroke-width="3.9"/>
<rect x="981.35" y="1033.25" width="235.10" height="234.60" fill="none" stroke="#000" stroke-width="3.9"/>
<rect x="2065.55" y="1032.35" width="235.20" height="234.60" fill="none" stroke="#000" stroke-width="3.9"/>
<rect x="981.35" y="1287.65" width="235.10" height="234.60" fill="none" stroke="#000" stroke-width="3.9"/>
<rect x="2065.55" y="1286.45" width="235.20" height="234.60" fill="none" stroke="#000" stroke-width="3.9"/>
<rect x="981.35" y="1542.05" width="235.10" height="234.60" fill="none" stroke="#000" stroke-width="3.9"/>
<rect x="2065.55" y="1540.55" width="235.20" height="234.60" fill="none" stroke="#000" stroke-width="3.9"/>
<rect x="981.35" y="1867.05" width="235.10" height="234.60" fill="none" stroke="#000" stroke-width="3.9"/>
<rect x="2065.55" y="1866.15" width="235.20" height="234.60" fill="none" stroke="#000" stroke-width="3.9"/>
<rect x="981.35" y="2121.45" width="235.10" height="234.60" fill="none" stroke="#000" stroke-width="3.9"/>
<rect x="2065.55" y="2120.25" width="235.20" height="234.60" fill="none" stroke="#000" stroke-width="3.9"/>
<rect x="981.35" y="2375.85" width="235.10" height="234.60" fill="none" stroke="#000" stroke-width="3.9"/>
<rect x="2065.55" y="2374.35" width="235.20" height="234.60" fill="none" stroke="#000" stroke-width="3.9"/>
<text x="382.60" y="70.90" font-family="'Liberation Sans',Arial,sans-serif" font-size="79" >Optical Sensors :</text>
<text x="512.00" y="166.50" font-family="'Liberation Sans',Arial,sans-serif" font-size="79" font-style="italic">Landsat-8</text>
<text x="1597.30" y="72.70" font-family="'Liberation Sans',Arial,sans-serif" font-size="79" >SAR sensors :</text>
<text x="1348.60" y="165.70" font-family="'Liberation Sans',Arial,sans-serif" font-size="79.9" font-style="italic">Sentinel–1a &amp; RADARSAT-2</text>
<text x="248.50" y="275.20" font-family="'Liberation Sans',Arial,sans-serif" font-size="76" font-weight="bold">A</text>
<text x="246.76" y="1115.20" font-family="'Liberation Sans',Arial,sans-serif" font-size="76" font-weight="bold">B</text>
<text x="244.76" y="1948.80" font-family="'Liberation Sans',Arial,sans-serif" font-size="76" font-weight="bold">C</text>
<text x="1330.36" y="276.80" font-family="'Liberation Sans',Arial,sans-serif" font-size="76" font-weight="bold">D</text>
<text x="1328.96" y="1111.80" font-family="'Liberation Sans',Arial,sans-serif" font-size="76" font-weight="bold">E</text>
<text x="1331.16" y="1948.80" font-family="'Liberation Sans',Arial,sans-serif" font-size="76" font-weight="bold">F</text>
<text x="350.38" y="896.00" font-family="'Liberation Sans',Arial,sans-serif" font-size="39" >1000 km</text>
<rect x="352.3" y="904.0" width="134.1" height="13.5" fill="#000"/>
<rect x="354.3" y="907.0" width="64.9" height="8.0" fill="#fff"/>
<text x="344.97" y="1730.00" font-family="'Liberation Sans',Arial,sans-serif" font-size="39" >1000 km</text>
<rect x="352.3" y="1738.2" width="134.1" height="12.7" fill="#000"/>
<rect x="354.3" y="1740.7" width="64.9" height="8.2" fill="#fff"/>
<text x="345.47" y="2564.80" font-family="'Liberation Sans',Arial,sans-serif" font-size="39" >1000 km</text>
<rect x="352.3" y="2573.0" width="134.1" height="12.4" fill="#000"/>
<rect x="354.3" y="2575.2" width="64.9" height="8.0" fill="#fff"/>
<text x="1429.08" y="893.40" font-family="'Liberation Sans',Arial,sans-serif" font-size="39" >1000 km</text>
<rect x="1436.4" y="901.6" width="133.6" height="12.8" fill="#000"/>
<rect x="1438.4" y="904.0" width="64.4" height="7.8" fill="#fff"/>
<text x="1429.08" y="1729.50" font-family="'Liberation Sans',Arial,sans-serif" font-size="39" >1000 km</text>
<rect x="1436.4" y="1737.6" width="133.6" height="12.6" fill="#000"/>
<rect x="1438.4" y="1740.0" width="64.4" height="7.9" fill="#fff"/>
<text x="1429.08" y="2564.00" font-family="'Liberation Sans',Arial,sans-serif" font-size="39" >1000 km</text>
<rect x="1436.4" y="2572.1" width="133.6" height="13.3" fill="#000"/>
<rect x="1438.4" y="2574.2" width="64.4" height="9.0" fill="#fff"/>
<text x="0.00" y="0.00" font-family="'Liberation Sans',Arial,sans-serif" font-size="73.6" transform="translate(162.8,886.6) rotate(-90)" >Jul. 2013 - Jun. 2014</text>
<text x="0.00" y="0.00" font-family="'Liberation Sans',Arial,sans-serif" font-size="73.6" transform="translate(157.0,1721.1) rotate(-90)" >Jul. 2014 - Jun. 2015</text>
<text x="0.00" y="0.00" font-family="'Liberation Sans',Arial,sans-serif" font-size="73.6" transform="translate(163.9,2555.1) rotate(-90)" >Jul. 2015 - Jun. 2016</text>
<text x="0.00" y="0.00" font-family="'Liberation Sans',Arial,sans-serif" font-size="78.4" transform="translate(2358.0,212.1) rotate(90)" >Count</text>
<text x="0.00" y="0.00" font-family="'DejaVu Serif',serif" font-size="72.5" transform="translate(2359.3,525.7) rotate(90)" >σ</text>
<text x="0.00" y="0.00" font-family="'Liberation Sans',Arial,sans-serif" font-size="36" transform="translate(2349.0,574.8) rotate(90)" >vx</text>
<text x="0.00" y="0.00" font-family="'DejaVu Serif',serif" font-size="72.5" transform="translate(2359.3,776.5) rotate(90)" >σ</text>
<text x="0.00" y="0.00" font-family="'Liberation Sans',Arial,sans-serif" font-size="36" transform="translate(2349.0,825.6) rotate(90)" >vy</text>
<text x="0.00" y="0.00" font-family="'Liberation Sans',Arial,sans-serif" font-size="78.4" transform="translate(2366.9,1056.8) rotate(90)" >Count</text>
<text x="0.00" y="0.00" font-family="'DejaVu Serif',serif" font-size="72.5" transform="translate(2368.2,1370.4) rotate(90)" >σ</text>
<text x="0.00" y="0.00" font-family="'Liberation Sans',Arial,sans-serif" font-size="36" transform="translate(2357.9,1419.5) rotate(90)" >vx</text>
<text x="0.00" y="0.00" font-family="'DejaVu Serif',serif" font-size="72.5" transform="translate(2368.2,1621.2) rotate(90)" >σ</text>
<text x="0.00" y="0.00" font-family="'Liberation Sans',Arial,sans-serif" font-size="36" transform="translate(2357.9,1670.3) rotate(90)" >vy</text>
<text x="0.00" y="0.00" font-family="'Liberation Sans',Arial,sans-serif" font-size="78.4" transform="translate(2355.5,1878.9) rotate(90)" >Count</text>
<text x="0.00" y="0.00" font-family="'DejaVu Serif',serif" font-size="72.5" transform="translate(2356.8,2192.5) rotate(90)" >σ</text>
<text x="0.00" y="0.00" font-family="'Liberation Sans',Arial,sans-serif" font-size="36" transform="translate(2346.5,2241.6) rotate(90)" >vx</text>
<text x="0.00" y="0.00" font-family="'DejaVu Serif',serif" font-size="72.5" transform="translate(2356.8,2443.3) rotate(90)" >σ</text>
<text x="0.00" y="0.00" font-family="'Liberation Sans',Arial,sans-serif" font-size="36" transform="translate(2346.5,2492.4) rotate(90)" >vy</text>
<rect x="32.8" y="2748.0" width="705.7" height="78.4" fill="url(#jet)"/>
<rect x="315.6" y="2748.0" width="2" height="78.4" fill="#000"/>
<rect x="601.1" y="2748.0" width="2" height="78.4" fill="#000"/>
<rect x="30.5" y="2745.7" width="708.0" height="2.3" fill="#000"/>
<rect x="30.5" y="2826.4" width="708.0" height="2.3" fill="#000"/>
<rect x="30.5" y="2745.7" width="2.3" height="83.0" fill="#000"/>
<rect x="865.7" y="2752.0" width="704.2" height="77.4" fill="url(#jet)"/>
<rect x="1040.3" y="2752.0" width="2" height="77.4" fill="#000"/>
<rect x="1216.8" y="2752.0" width="2" height="77.4" fill="#000"/>
<rect x="1394.3" y="2752.0" width="2" height="77.4" fill="#000"/>
<rect x="863.4" y="2749.7" width="708.8" height="2.3" fill="#000"/>
<rect x="863.4" y="2829.4" width="708.8" height="2.3" fill="#000"/>
<rect x="863.4" y="2749.7" width="2.3" height="82.0" fill="#000"/>
<rect x="1569.9" y="2749.7" width="2.3" height="82.0" fill="#000"/>
<rect x="1701.1" y="2751.0" width="705.9" height="77.8" fill="url(#speed)"/>
<rect x="2110.8" y="2751.0" width="2" height="77.8" fill="#000"/>
<rect x="2337.4" y="2751.0" width="2" height="77.8" fill="#000"/>
<rect x="1698.8" y="2748.7" width="708.2" height="2.3" fill="#000"/>
<rect x="1698.8" y="2828.8" width="708.2" height="2.3" fill="#000"/>
<rect x="1698.8" y="2748.7" width="2.3" height="82.4" fill="#000"/>
<text x="270.46" y="2713.10" font-family="'Liberation Sans',Arial,sans-serif" font-size="84.75" >Count</text>
<text x="1785.27" y="2716.10" font-family="'Liberation Sans',Arial,sans-serif" font-size="85" >Speed (km/yr)</text>
<text x="967.65" y="2716.80" font-family="'DejaVu Serif',serif" font-size="79" >σ</text>
<text x="1021.12" y="2727.00" font-family="'Liberation Sans',Arial,sans-serif" font-size="37" >vx</text>
<text x="1057.35" y="2717.70" font-family="'Liberation Sans',Arial,sans-serif" font-size="85" >,</text>
<text x="1103.95" y="2716.80" font-family="'DejaVu Serif',serif" font-size="79" >σ</text>
<text x="1157.41" y="2727.00" font-family="'Liberation Sans',Arial,sans-serif" font-size="37" >vy</text>
<text x="1216.90" y="2717.40" font-family="'Liberation Sans',Arial,sans-serif" font-size="85" >(m/yr)</text>
<text x="8.38" y="2911.00" font-family="'Liberation Sans',Arial,sans-serif" font-size="67.5" >1</text>
<text x="279.16" y="2911.00" font-family="'Liberation Sans',Arial,sans-serif" font-size="67.5" >10</text>
<text x="532.83" y="2911.00" font-family="'Liberation Sans',Arial,sans-serif" font-size="67.5" >100</text>
<text x="655.48" y="2911.00" font-family="'Liberation Sans',Arial,sans-serif" font-size="67.5" >&gt;300</text>
<text x="846.07" y="2914.80" font-family="'Liberation Sans',Arial,sans-serif" font-size="67.5" >0</text>
<text x="1022.57" y="2914.80" font-family="'Liberation Sans',Arial,sans-serif" font-size="67.5" >5</text>
<text x="1180.36" y="2914.80" font-family="'Liberation Sans',Arial,sans-serif" font-size="67.5" >10</text>
<text x="1357.56" y="2914.80" font-family="'Liberation Sans',Arial,sans-serif" font-size="67.5" >15</text>
<text x="1511.36" y="2914.80" font-family="'Liberation Sans',Arial,sans-serif" font-size="67.5" >&gt;20</text>
<text x="1672.78" y="2914.50" font-family="'Liberation Sans',Arial,sans-serif" font-size="67.5" >&lt;0.001</text>
<text x="2061.58" y="2914.50" font-family="'Liberation Sans',Arial,sans-serif" font-size="67.5" >0.1</text>
<text x="2315.57" y="2914.50" font-family="'Liberation Sans',Arial,sans-serif" font-size="67.5" >1</text>
<text x="2365.66" y="2914.50" font-family="'Liberation Sans',Arial,sans-serif" font-size="67.5" >&gt;3</text>
</svg></body></html>
